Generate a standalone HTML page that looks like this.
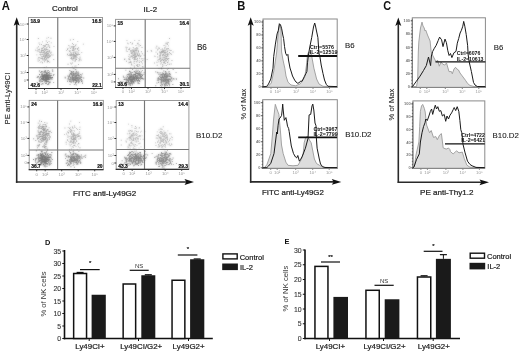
<!DOCTYPE html>
<html><head><meta charset="utf-8"><style>
html,body{margin:0;padding:0;background:#fff;}
svg{display:block;font-family:"Liberation Sans", sans-serif;will-change:transform;}
</style></head><body>
<svg width="520" height="352" viewBox="0 0 520 352">
<defs><filter id="soft" x="-10%" y="-10%" width="120%" height="120%"><feGaussianBlur stdDeviation="0.8"/></filter></defs>
<g>
<rect width="520" height="352" fill="#fff"/>
<text transform="translate(1.8,9.6) scale(1,1.07)" font-size="11.3" font-weight="bold" fill="#111">A</text>
<text transform="translate(237.2,9.7) scale(1,1.07)" font-size="11.2" font-weight="bold" fill="#111">B</text>
<text transform="translate(383.3,9.6) scale(0.97,1.08)" font-size="11.2" font-weight="bold" fill="#111">C</text>
<text x="44.9" y="244.7" font-size="7.4" text-anchor="start" font-weight="bold" fill="#111" >D</text>
<text x="284.6" y="244.0" font-size="7.4" text-anchor="start" font-weight="bold" fill="#111" >E</text>
<text x="52" y="11.4" font-size="8" text-anchor="start" font-weight="normal" fill="#222" stroke="#222" stroke-width="0.22" >Control</text>
<text x="143.6" y="11.5" font-size="7.8" text-anchor="start" font-weight="normal" fill="#222" stroke="#222" stroke-width="0.22" >IL-2</text>
<text x="196.9" y="50.1" font-size="8.2" text-anchor="start" font-weight="normal" fill="#222" stroke="#222" stroke-width="0.1" >B6</text>
<text x="196.0" y="138" font-size="7.95" text-anchor="start" font-weight="normal" fill="#222" stroke="#222" stroke-width="0.1" >B10.D2</text>
<text transform="translate(10.2,124.5) rotate(-90)" font-size="7.75" fill="#222" stroke="#222" stroke-width="0.12">PE anti-Ly49CI</text>
<text x="73" y="195.6" font-size="8" text-anchor="start" font-weight="normal" fill="#222" stroke="#222" stroke-width="0.22" >FITC anti-Ly49G2</text>
<line x1="16.7" y1="182.8" x2="16.7" y2="22.8" stroke="#2a2a2a" stroke-width="1.6" />
<path d="M16.7,17.3 L13.7,25.8 L16.7,24.0 L19.7,25.8 Z" fill="#111"/>
<line x1="15.9" y1="182.0" x2="187.5" y2="182.0" stroke="#2a2a2a" stroke-width="1.6" />
<path d="M194,182.0 L184.5,179.1 L186.3,182.0 L184.5,184.9 Z" fill="#111"/>
<path d="M43.4 55.4h0.9v0.9h-0.9zM43.5 50.7h0.9v0.9h-0.9zM41.2 51.3h0.9v0.9h-0.9zM48.0 54.9h0.9v0.9h-0.9zM47.8 53.9h0.9v0.9h-0.9zM45.6 53.6h0.9v0.9h-0.9zM38.7 57.4h0.9v0.9h-0.9zM46.0 55.4h0.9v0.9h-0.9zM38.6 42.5h0.9v0.9h-0.9zM41.3 49.8h0.9v0.9h-0.9zM45.3 52.2h0.9v0.9h-0.9zM46.1 48.8h0.9v0.9h-0.9zM45.3 54.8h0.9v0.9h-0.9zM42.1 62.3h0.9v0.9h-0.9zM46.2 59.3h0.9v0.9h-0.9zM42.2 48.3h0.9v0.9h-0.9zM43.1 51.9h0.9v0.9h-0.9zM46.4 53.9h0.9v0.9h-0.9zM42.8 47.0h0.9v0.9h-0.9zM42.6 59.5h0.9v0.9h-0.9zM41.6 53.9h0.9v0.9h-0.9zM45.7 44.0h0.9v0.9h-0.9zM44.5 60.0h0.9v0.9h-0.9zM37.5 50.7h0.9v0.9h-0.9zM43.9 47.8h0.9v0.9h-0.9zM46.0 52.1h0.9v0.9h-0.9zM39.4 57.2h0.9v0.9h-0.9zM46.5 57.9h0.9v0.9h-0.9zM49.1 54.6h0.9v0.9h-0.9zM44.7 45.1h0.9v0.9h-0.9zM46.4 49.0h0.9v0.9h-0.9zM42.8 45.3h0.9v0.9h-0.9zM41.0 49.5h0.9v0.9h-0.9zM48.6 40.9h0.9v0.9h-0.9zM39.4 53.9h0.9v0.9h-0.9zM49.1 55.8h0.9v0.9h-0.9zM37.9 38.1h0.9v0.9h-0.9zM45.5 48.3h0.9v0.9h-0.9zM40.5 58.1h0.9v0.9h-0.9zM48.0 53.4h0.9v0.9h-0.9zM45.1 55.0h0.9v0.9h-0.9zM49.7 56.0h0.9v0.9h-0.9zM46.0 55.6h0.9v0.9h-0.9zM39.0 59.8h0.9v0.9h-0.9zM47.5 55.5h0.9v0.9h-0.9zM37.7 48.9h0.9v0.9h-0.9zM47.1 42.1h0.9v0.9h-0.9zM43.7 58.3h0.9v0.9h-0.9zM39.9 61.7h0.9v0.9h-0.9zM46.2 51.6h0.9v0.9h-0.9zM45.4 56.2h0.9v0.9h-0.9zM44.7 59.1h0.9v0.9h-0.9zM42.1 50.1h0.9v0.9h-0.9zM47.8 52.7h0.9v0.9h-0.9zM41.3 57.9h0.9v0.9h-0.9zM49.2 50.0h0.9v0.9h-0.9zM39.7 51.7h0.9v0.9h-0.9zM43.8 50.8h0.9v0.9h-0.9zM49.0 46.6h0.9v0.9h-0.9zM48.5 45.2h0.9v0.9h-0.9zM41.7 56.1h0.9v0.9h-0.9zM48.1 57.4h0.9v0.9h-0.9zM45.5 53.3h0.9v0.9h-0.9zM44.8 55.8h0.9v0.9h-0.9zM43.7 54.1h0.9v0.9h-0.9zM46.2 52.5h0.9v0.9h-0.9zM46.9 55.7h0.9v0.9h-0.9zM51.1 54.4h0.9v0.9h-0.9zM42.9 50.4h0.9v0.9h-0.9zM44.3 57.8h0.9v0.9h-0.9zM43.2 54.7h0.9v0.9h-0.9zM50.5 37.8h0.9v0.9h-0.9zM40.5 53.9h0.9v0.9h-0.9zM45.6 53.9h0.9v0.9h-0.9zM42.9 56.2h0.9v0.9h-0.9zM45.2 49.5h0.9v0.9h-0.9zM52.5 54.5h0.9v0.9h-0.9zM42.4 51.9h0.9v0.9h-0.9zM43.5 52.1h0.9v0.9h-0.9zM35.1 49.7h0.9v0.9h-0.9zM47.7 45.8h0.9v0.9h-0.9zM44.1 58.0h0.9v0.9h-0.9zM47.2 61.0h0.9v0.9h-0.9zM38.6 50.5h0.9v0.9h-0.9zM43.2 56.1h0.9v0.9h-0.9zM48.0 37.2h0.9v0.9h-0.9zM48.0 44.2h0.9v0.9h-0.9zM46.6 44.0h0.9v0.9h-0.9zM44.9 59.3h0.9v0.9h-0.9zM43.8 53.6h0.9v0.9h-0.9zM47.0 53.3h0.9v0.9h-0.9zM44.0 61.3h0.9v0.9h-0.9zM47.8 50.8h0.9v0.9h-0.9zM53.5 45.9h0.9v0.9h-0.9zM47.4 51.0h0.9v0.9h-0.9zM44.7 56.5h0.9v0.9h-0.9zM45.0 56.2h0.9v0.9h-0.9zM39.2 43.9h0.9v0.9h-0.9zM46.4 47.0h0.9v0.9h-0.9zM40.9 44.1h0.9v0.9h-0.9zM48.6 56.8h0.9v0.9h-0.9zM49.2 47.1h0.9v0.9h-0.9zM44.3 46.0h0.9v0.9h-0.9zM46.9 61.6h0.9v0.9h-0.9zM41.3 61.4h0.9v0.9h-0.9zM47.6 51.5h0.9v0.9h-0.9zM37.7 60.5h0.9v0.9h-0.9zM44.0 49.1h0.9v0.9h-0.9zM45.6 54.8h0.9v0.9h-0.9zM49.3 46.7h0.9v0.9h-0.9zM48.1 61.0h0.9v0.9h-0.9zM49.2 51.5h0.9v0.9h-0.9zM41.8 58.3h0.9v0.9h-0.9zM44.7 53.2h0.9v0.9h-0.9zM49.1 51.0h0.9v0.9h-0.9zM36.6 50.3h0.9v0.9h-0.9zM38.1 57.2h0.9v0.9h-0.9zM45.4 49.0h0.9v0.9h-0.9zM44.3 57.3h0.9v0.9h-0.9zM44.6 60.1h0.9v0.9h-0.9zM44.1 58.5h0.9v0.9h-0.9zM49.3 61.7h0.9v0.9h-0.9zM42.0 57.5h0.9v0.9h-0.9zM38.0 46.3h0.9v0.9h-0.9zM37.7 58.6h0.9v0.9h-0.9zM40.2 52.4h0.9v0.9h-0.9zM43.7 52.3h0.9v0.9h-0.9zM42.3 53.8h0.9v0.9h-0.9zM50.3 52.8h0.9v0.9h-0.9zM46.1 58.2h0.9v0.9h-0.9zM43.6 45.3h0.9v0.9h-0.9zM42.4 58.6h0.9v0.9h-0.9zM38.8 49.1h0.9v0.9h-0.9zM47.7 57.0h0.9v0.9h-0.9zM44.3 57.1h0.9v0.9h-0.9zM44.9 45.8h0.9v0.9h-0.9zM39.0 48.8h0.9v0.9h-0.9zM47.4 49.3h0.9v0.9h-0.9zM41.3 48.1h0.9v0.9h-0.9zM39.2 51.8h0.9v0.9h-0.9zM40.3 54.6h0.9v0.9h-0.9zM36.4 54.4h0.9v0.9h-0.9zM42.1 41.4h0.9v0.9h-0.9zM46.7 50.9h0.9v0.9h-0.9zM36.8 47.5h0.9v0.9h-0.9zM45.3 49.9h0.9v0.9h-0.9zM46.9 56.8h0.9v0.9h-0.9zM46.5 54.4h0.9v0.9h-0.9zM48.8 56.3h0.9v0.9h-0.9zM45.8 40.6h0.9v0.9h-0.9zM47.3 60.0h0.9v0.9h-0.9zM43.3 49.8h0.9v0.9h-0.9zM50.8 42.4h0.9v0.9h-0.9zM45.9 66.4h0.9v0.9h-0.9zM41.2 56.4h0.9v0.9h-0.9zM50.6 51.8h0.9v0.9h-0.9zM46.2 57.7h0.9v0.9h-0.9zM41.3 52.0h0.9v0.9h-0.9zM45.3 57.2h0.9v0.9h-0.9zM44.2 51.4h0.9v0.9h-0.9zM40.9 50.4h0.9v0.9h-0.9zM47.3 53.1h0.9v0.9h-0.9zM41.4 47.7h0.9v0.9h-0.9zM53.3 59.0h0.9v0.9h-0.9zM46.4 37.7h0.9v0.9h-0.9zM46.4 55.2h0.9v0.9h-0.9zM50.0 54.9h0.9v0.9h-0.9zM44.1 55.5h0.9v0.9h-0.9zM37.8 58.4h0.9v0.9h-0.9zM45.4 48.5h0.9v0.9h-0.9z" fill="#444" fill-opacity="0.279" filter="url(#soft)"/>
<path d="M43.4 55.4h0.9v0.9h-0.9zM43.5 50.7h0.9v0.9h-0.9zM41.2 51.3h0.9v0.9h-0.9zM48.0 54.9h0.9v0.9h-0.9zM47.8 53.9h0.9v0.9h-0.9zM45.6 53.6h0.9v0.9h-0.9zM38.7 57.4h0.9v0.9h-0.9zM46.0 55.4h0.9v0.9h-0.9zM38.6 42.5h0.9v0.9h-0.9zM41.3 49.8h0.9v0.9h-0.9zM45.3 52.2h0.9v0.9h-0.9zM46.1 48.8h0.9v0.9h-0.9zM45.3 54.8h0.9v0.9h-0.9zM42.1 62.3h0.9v0.9h-0.9zM46.2 59.3h0.9v0.9h-0.9zM42.2 48.3h0.9v0.9h-0.9zM43.1 51.9h0.9v0.9h-0.9zM46.4 53.9h0.9v0.9h-0.9zM42.8 47.0h0.9v0.9h-0.9zM42.6 59.5h0.9v0.9h-0.9zM41.6 53.9h0.9v0.9h-0.9zM45.7 44.0h0.9v0.9h-0.9zM44.5 60.0h0.9v0.9h-0.9zM37.5 50.7h0.9v0.9h-0.9zM43.9 47.8h0.9v0.9h-0.9zM46.0 52.1h0.9v0.9h-0.9zM39.4 57.2h0.9v0.9h-0.9zM46.5 57.9h0.9v0.9h-0.9zM49.1 54.6h0.9v0.9h-0.9zM44.7 45.1h0.9v0.9h-0.9zM46.4 49.0h0.9v0.9h-0.9zM42.8 45.3h0.9v0.9h-0.9zM41.0 49.5h0.9v0.9h-0.9zM48.6 40.9h0.9v0.9h-0.9zM39.4 53.9h0.9v0.9h-0.9zM49.1 55.8h0.9v0.9h-0.9zM37.9 38.1h0.9v0.9h-0.9zM45.5 48.3h0.9v0.9h-0.9zM40.5 58.1h0.9v0.9h-0.9zM48.0 53.4h0.9v0.9h-0.9zM45.1 55.0h0.9v0.9h-0.9zM49.7 56.0h0.9v0.9h-0.9zM46.0 55.6h0.9v0.9h-0.9zM39.0 59.8h0.9v0.9h-0.9zM47.5 55.5h0.9v0.9h-0.9zM37.7 48.9h0.9v0.9h-0.9zM47.1 42.1h0.9v0.9h-0.9zM43.7 58.3h0.9v0.9h-0.9zM39.9 61.7h0.9v0.9h-0.9zM46.2 51.6h0.9v0.9h-0.9zM45.4 56.2h0.9v0.9h-0.9zM44.7 59.1h0.9v0.9h-0.9zM42.1 50.1h0.9v0.9h-0.9zM47.8 52.7h0.9v0.9h-0.9zM41.3 57.9h0.9v0.9h-0.9zM49.2 50.0h0.9v0.9h-0.9zM39.7 51.7h0.9v0.9h-0.9zM43.8 50.8h0.9v0.9h-0.9zM49.0 46.6h0.9v0.9h-0.9zM48.5 45.2h0.9v0.9h-0.9zM41.7 56.1h0.9v0.9h-0.9zM48.1 57.4h0.9v0.9h-0.9zM45.5 53.3h0.9v0.9h-0.9zM44.8 55.8h0.9v0.9h-0.9zM43.7 54.1h0.9v0.9h-0.9zM46.2 52.5h0.9v0.9h-0.9zM46.9 55.7h0.9v0.9h-0.9zM51.1 54.4h0.9v0.9h-0.9zM42.9 50.4h0.9v0.9h-0.9zM44.3 57.8h0.9v0.9h-0.9zM43.2 54.7h0.9v0.9h-0.9zM50.5 37.8h0.9v0.9h-0.9zM40.5 53.9h0.9v0.9h-0.9zM45.6 53.9h0.9v0.9h-0.9zM42.9 56.2h0.9v0.9h-0.9zM45.2 49.5h0.9v0.9h-0.9zM52.5 54.5h0.9v0.9h-0.9zM42.4 51.9h0.9v0.9h-0.9zM43.5 52.1h0.9v0.9h-0.9zM35.1 49.7h0.9v0.9h-0.9zM47.7 45.8h0.9v0.9h-0.9zM44.1 58.0h0.9v0.9h-0.9zM47.2 61.0h0.9v0.9h-0.9zM38.6 50.5h0.9v0.9h-0.9zM43.2 56.1h0.9v0.9h-0.9zM48.0 37.2h0.9v0.9h-0.9zM48.0 44.2h0.9v0.9h-0.9zM46.6 44.0h0.9v0.9h-0.9zM44.9 59.3h0.9v0.9h-0.9zM43.8 53.6h0.9v0.9h-0.9zM47.0 53.3h0.9v0.9h-0.9zM44.0 61.3h0.9v0.9h-0.9zM47.8 50.8h0.9v0.9h-0.9zM53.5 45.9h0.9v0.9h-0.9zM47.4 51.0h0.9v0.9h-0.9zM44.7 56.5h0.9v0.9h-0.9zM45.0 56.2h0.9v0.9h-0.9zM39.2 43.9h0.9v0.9h-0.9zM46.4 47.0h0.9v0.9h-0.9zM40.9 44.1h0.9v0.9h-0.9zM48.6 56.8h0.9v0.9h-0.9zM49.2 47.1h0.9v0.9h-0.9zM44.3 46.0h0.9v0.9h-0.9zM46.9 61.6h0.9v0.9h-0.9zM41.3 61.4h0.9v0.9h-0.9zM47.6 51.5h0.9v0.9h-0.9zM37.7 60.5h0.9v0.9h-0.9zM44.0 49.1h0.9v0.9h-0.9zM45.6 54.8h0.9v0.9h-0.9zM49.3 46.7h0.9v0.9h-0.9zM48.1 61.0h0.9v0.9h-0.9zM49.2 51.5h0.9v0.9h-0.9zM41.8 58.3h0.9v0.9h-0.9zM44.7 53.2h0.9v0.9h-0.9zM49.1 51.0h0.9v0.9h-0.9zM36.6 50.3h0.9v0.9h-0.9zM38.1 57.2h0.9v0.9h-0.9zM45.4 49.0h0.9v0.9h-0.9zM44.3 57.3h0.9v0.9h-0.9zM44.6 60.1h0.9v0.9h-0.9zM44.1 58.5h0.9v0.9h-0.9zM49.3 61.7h0.9v0.9h-0.9zM42.0 57.5h0.9v0.9h-0.9zM38.0 46.3h0.9v0.9h-0.9zM37.7 58.6h0.9v0.9h-0.9zM40.2 52.4h0.9v0.9h-0.9zM43.7 52.3h0.9v0.9h-0.9zM42.3 53.8h0.9v0.9h-0.9zM50.3 52.8h0.9v0.9h-0.9zM46.1 58.2h0.9v0.9h-0.9zM43.6 45.3h0.9v0.9h-0.9zM42.4 58.6h0.9v0.9h-0.9zM38.8 49.1h0.9v0.9h-0.9zM47.7 57.0h0.9v0.9h-0.9zM44.3 57.1h0.9v0.9h-0.9zM44.9 45.8h0.9v0.9h-0.9zM39.0 48.8h0.9v0.9h-0.9zM47.4 49.3h0.9v0.9h-0.9zM41.3 48.1h0.9v0.9h-0.9zM39.2 51.8h0.9v0.9h-0.9zM40.3 54.6h0.9v0.9h-0.9zM36.4 54.4h0.9v0.9h-0.9zM42.1 41.4h0.9v0.9h-0.9zM46.7 50.9h0.9v0.9h-0.9zM36.8 47.5h0.9v0.9h-0.9zM45.3 49.9h0.9v0.9h-0.9zM46.9 56.8h0.9v0.9h-0.9zM46.5 54.4h0.9v0.9h-0.9zM48.8 56.3h0.9v0.9h-0.9zM45.8 40.6h0.9v0.9h-0.9zM47.3 60.0h0.9v0.9h-0.9zM43.3 49.8h0.9v0.9h-0.9zM50.8 42.4h0.9v0.9h-0.9zM45.9 66.4h0.9v0.9h-0.9zM41.2 56.4h0.9v0.9h-0.9zM50.6 51.8h0.9v0.9h-0.9zM46.2 57.7h0.9v0.9h-0.9zM41.3 52.0h0.9v0.9h-0.9zM45.3 57.2h0.9v0.9h-0.9zM44.2 51.4h0.9v0.9h-0.9zM40.9 50.4h0.9v0.9h-0.9zM47.3 53.1h0.9v0.9h-0.9zM41.4 47.7h0.9v0.9h-0.9zM53.3 59.0h0.9v0.9h-0.9zM46.4 37.7h0.9v0.9h-0.9zM46.4 55.2h0.9v0.9h-0.9zM50.0 54.9h0.9v0.9h-0.9zM44.1 55.5h0.9v0.9h-0.9zM37.8 58.4h0.9v0.9h-0.9zM45.4 48.5h0.9v0.9h-0.9z" fill="#444" fill-opacity="0.279"/>
<path d="M78.0 64.0h0.9v0.9h-0.9zM68.8 50.3h0.9v0.9h-0.9zM74.5 55.0h0.9v0.9h-0.9zM72.2 48.6h0.9v0.9h-0.9zM80.6 59.7h0.9v0.9h-0.9zM69.5 46.6h0.9v0.9h-0.9zM79.2 59.4h0.9v0.9h-0.9zM79.6 58.5h0.9v0.9h-0.9zM70.6 55.4h0.9v0.9h-0.9zM66.2 49.9h0.9v0.9h-0.9zM73.3 56.9h0.9v0.9h-0.9zM71.1 53.3h0.9v0.9h-0.9zM75.0 56.1h0.9v0.9h-0.9zM75.6 55.1h0.9v0.9h-0.9zM72.4 58.3h0.9v0.9h-0.9zM73.7 49.5h0.9v0.9h-0.9zM71.4 54.0h0.9v0.9h-0.9zM73.1 54.9h0.9v0.9h-0.9zM73.5 55.0h0.9v0.9h-0.9zM73.0 47.1h0.9v0.9h-0.9zM74.9 59.8h0.9v0.9h-0.9zM75.0 53.0h0.9v0.9h-0.9zM75.0 48.7h0.9v0.9h-0.9zM67.1 54.3h0.9v0.9h-0.9zM70.4 58.1h0.9v0.9h-0.9zM69.9 39.5h0.9v0.9h-0.9zM70.0 62.7h0.9v0.9h-0.9zM72.2 46.5h0.9v0.9h-0.9zM70.9 56.9h0.9v0.9h-0.9zM75.2 55.0h0.9v0.9h-0.9zM78.5 57.9h0.9v0.9h-0.9zM73.4 57.3h0.9v0.9h-0.9zM79.1 59.3h0.9v0.9h-0.9zM76.9 48.0h0.9v0.9h-0.9zM73.0 58.0h0.9v0.9h-0.9zM72.5 59.9h0.9v0.9h-0.9zM75.5 59.0h0.9v0.9h-0.9zM72.8 68.0h0.9v0.9h-0.9zM77.7 52.8h0.9v0.9h-0.9zM73.8 68.3h0.9v0.9h-0.9zM72.3 58.8h0.9v0.9h-0.9zM76.8 54.0h0.9v0.9h-0.9zM69.6 55.0h0.9v0.9h-0.9zM74.7 60.2h0.9v0.9h-0.9zM76.1 54.1h0.9v0.9h-0.9zM76.4 57.0h0.9v0.9h-0.9zM74.2 54.3h0.9v0.9h-0.9zM72.7 57.8h0.9v0.9h-0.9zM70.0 50.5h0.9v0.9h-0.9zM73.5 45.9h0.9v0.9h-0.9zM72.0 43.0h0.9v0.9h-0.9zM71.2 57.1h0.9v0.9h-0.9zM75.4 53.7h0.9v0.9h-0.9zM72.7 46.2h0.9v0.9h-0.9zM79.6 56.8h0.9v0.9h-0.9zM77.2 49.1h0.9v0.9h-0.9zM72.9 44.0h0.9v0.9h-0.9zM76.1 59.1h0.9v0.9h-0.9zM67.1 53.7h0.9v0.9h-0.9zM75.6 44.3h0.9v0.9h-0.9zM67.4 48.1h0.9v0.9h-0.9zM71.4 46.3h0.9v0.9h-0.9zM73.6 55.4h0.9v0.9h-0.9zM75.6 57.9h0.9v0.9h-0.9zM78.5 60.4h0.9v0.9h-0.9zM69.1 51.2h0.9v0.9h-0.9zM69.9 48.1h0.9v0.9h-0.9zM73.2 54.0h0.9v0.9h-0.9zM75.1 45.3h0.9v0.9h-0.9zM69.3 53.9h0.9v0.9h-0.9zM72.8 52.3h0.9v0.9h-0.9zM73.3 49.8h0.9v0.9h-0.9zM75.9 55.9h0.9v0.9h-0.9zM73.2 50.3h0.9v0.9h-0.9zM72.9 39.0h0.9v0.9h-0.9zM70.2 54.2h0.9v0.9h-0.9zM68.4 55.1h0.9v0.9h-0.9zM74.0 46.4h0.9v0.9h-0.9zM72.7 52.3h0.9v0.9h-0.9zM75.0 57.4h0.9v0.9h-0.9zM73.4 49.3h0.9v0.9h-0.9zM73.0 53.6h0.9v0.9h-0.9zM76.0 55.6h0.9v0.9h-0.9zM71.1 46.6h0.9v0.9h-0.9zM72.2 49.9h0.9v0.9h-0.9zM69.8 53.4h0.9v0.9h-0.9zM71.9 54.6h0.9v0.9h-0.9zM75.3 51.7h0.9v0.9h-0.9zM81.3 52.2h0.9v0.9h-0.9zM77.2 54.7h0.9v0.9h-0.9zM77.3 40.9h0.9v0.9h-0.9zM71.0 55.4h0.9v0.9h-0.9zM75.5 66.9h0.9v0.9h-0.9zM74.6 61.0h0.9v0.9h-0.9zM76.1 59.2h0.9v0.9h-0.9zM75.2 53.1h0.9v0.9h-0.9zM75.2 48.1h0.9v0.9h-0.9zM77.5 48.4h0.9v0.9h-0.9zM74.3 65.7h0.9v0.9h-0.9zM72.7 54.1h0.9v0.9h-0.9zM77.4 54.1h0.9v0.9h-0.9zM70.8 55.4h0.9v0.9h-0.9zM75.5 57.9h0.9v0.9h-0.9zM70.9 63.6h0.9v0.9h-0.9zM79.1 54.1h0.9v0.9h-0.9zM74.4 51.6h0.9v0.9h-0.9zM78.3 50.1h0.9v0.9h-0.9zM75.8 51.4h0.9v0.9h-0.9zM71.2 58.0h0.9v0.9h-0.9zM78.0 53.9h0.9v0.9h-0.9zM71.2 58.5h0.9v0.9h-0.9zM73.3 55.7h0.9v0.9h-0.9zM78.6 60.2h0.9v0.9h-0.9zM71.8 66.6h0.9v0.9h-0.9zM73.5 58.3h0.9v0.9h-0.9zM71.3 53.8h0.9v0.9h-0.9zM67.6 63.8h0.9v0.9h-0.9zM78.1 47.3h0.9v0.9h-0.9zM68.4 45.1h0.9v0.9h-0.9zM77.5 51.5h0.9v0.9h-0.9zM73.3 52.3h0.9v0.9h-0.9zM73.1 48.0h0.9v0.9h-0.9zM73.6 46.1h0.9v0.9h-0.9zM73.3 55.7h0.9v0.9h-0.9zM75.1 52.7h0.9v0.9h-0.9zM70.5 54.9h0.9v0.9h-0.9zM71.9 62.6h0.9v0.9h-0.9zM76.1 53.4h0.9v0.9h-0.9zM71.9 50.1h0.9v0.9h-0.9zM70.4 52.1h0.9v0.9h-0.9zM74.5 56.8h0.9v0.9h-0.9zM75.4 65.5h0.9v0.9h-0.9zM71.1 54.1h0.9v0.9h-0.9zM82.9 43.7h0.9v0.9h-0.9zM71.7 54.9h0.9v0.9h-0.9zM74.0 56.2h0.9v0.9h-0.9zM72.7 56.0h0.9v0.9h-0.9zM73.7 58.2h0.9v0.9h-0.9zM67.1 49.1h0.9v0.9h-0.9zM73.5 48.3h0.9v0.9h-0.9z" fill="#444" fill-opacity="0.279" filter="url(#soft)"/>
<path d="M78.0 64.0h0.9v0.9h-0.9zM68.8 50.3h0.9v0.9h-0.9zM74.5 55.0h0.9v0.9h-0.9zM72.2 48.6h0.9v0.9h-0.9zM80.6 59.7h0.9v0.9h-0.9zM69.5 46.6h0.9v0.9h-0.9zM79.2 59.4h0.9v0.9h-0.9zM79.6 58.5h0.9v0.9h-0.9zM70.6 55.4h0.9v0.9h-0.9zM66.2 49.9h0.9v0.9h-0.9zM73.3 56.9h0.9v0.9h-0.9zM71.1 53.3h0.9v0.9h-0.9zM75.0 56.1h0.9v0.9h-0.9zM75.6 55.1h0.9v0.9h-0.9zM72.4 58.3h0.9v0.9h-0.9zM73.7 49.5h0.9v0.9h-0.9zM71.4 54.0h0.9v0.9h-0.9zM73.1 54.9h0.9v0.9h-0.9zM73.5 55.0h0.9v0.9h-0.9zM73.0 47.1h0.9v0.9h-0.9zM74.9 59.8h0.9v0.9h-0.9zM75.0 53.0h0.9v0.9h-0.9zM75.0 48.7h0.9v0.9h-0.9zM67.1 54.3h0.9v0.9h-0.9zM70.4 58.1h0.9v0.9h-0.9zM69.9 39.5h0.9v0.9h-0.9zM70.0 62.7h0.9v0.9h-0.9zM72.2 46.5h0.9v0.9h-0.9zM70.9 56.9h0.9v0.9h-0.9zM75.2 55.0h0.9v0.9h-0.9zM78.5 57.9h0.9v0.9h-0.9zM73.4 57.3h0.9v0.9h-0.9zM79.1 59.3h0.9v0.9h-0.9zM76.9 48.0h0.9v0.9h-0.9zM73.0 58.0h0.9v0.9h-0.9zM72.5 59.9h0.9v0.9h-0.9zM75.5 59.0h0.9v0.9h-0.9zM72.8 68.0h0.9v0.9h-0.9zM77.7 52.8h0.9v0.9h-0.9zM73.8 68.3h0.9v0.9h-0.9zM72.3 58.8h0.9v0.9h-0.9zM76.8 54.0h0.9v0.9h-0.9zM69.6 55.0h0.9v0.9h-0.9zM74.7 60.2h0.9v0.9h-0.9zM76.1 54.1h0.9v0.9h-0.9zM76.4 57.0h0.9v0.9h-0.9zM74.2 54.3h0.9v0.9h-0.9zM72.7 57.8h0.9v0.9h-0.9zM70.0 50.5h0.9v0.9h-0.9zM73.5 45.9h0.9v0.9h-0.9zM72.0 43.0h0.9v0.9h-0.9zM71.2 57.1h0.9v0.9h-0.9zM75.4 53.7h0.9v0.9h-0.9zM72.7 46.2h0.9v0.9h-0.9zM79.6 56.8h0.9v0.9h-0.9zM77.2 49.1h0.9v0.9h-0.9zM72.9 44.0h0.9v0.9h-0.9zM76.1 59.1h0.9v0.9h-0.9zM67.1 53.7h0.9v0.9h-0.9zM75.6 44.3h0.9v0.9h-0.9zM67.4 48.1h0.9v0.9h-0.9zM71.4 46.3h0.9v0.9h-0.9zM73.6 55.4h0.9v0.9h-0.9zM75.6 57.9h0.9v0.9h-0.9zM78.5 60.4h0.9v0.9h-0.9zM69.1 51.2h0.9v0.9h-0.9zM69.9 48.1h0.9v0.9h-0.9zM73.2 54.0h0.9v0.9h-0.9zM75.1 45.3h0.9v0.9h-0.9zM69.3 53.9h0.9v0.9h-0.9zM72.8 52.3h0.9v0.9h-0.9zM73.3 49.8h0.9v0.9h-0.9zM75.9 55.9h0.9v0.9h-0.9zM73.2 50.3h0.9v0.9h-0.9zM72.9 39.0h0.9v0.9h-0.9zM70.2 54.2h0.9v0.9h-0.9zM68.4 55.1h0.9v0.9h-0.9zM74.0 46.4h0.9v0.9h-0.9zM72.7 52.3h0.9v0.9h-0.9zM75.0 57.4h0.9v0.9h-0.9zM73.4 49.3h0.9v0.9h-0.9zM73.0 53.6h0.9v0.9h-0.9zM76.0 55.6h0.9v0.9h-0.9zM71.1 46.6h0.9v0.9h-0.9zM72.2 49.9h0.9v0.9h-0.9zM69.8 53.4h0.9v0.9h-0.9zM71.9 54.6h0.9v0.9h-0.9zM75.3 51.7h0.9v0.9h-0.9zM81.3 52.2h0.9v0.9h-0.9zM77.2 54.7h0.9v0.9h-0.9zM77.3 40.9h0.9v0.9h-0.9zM71.0 55.4h0.9v0.9h-0.9zM75.5 66.9h0.9v0.9h-0.9zM74.6 61.0h0.9v0.9h-0.9zM76.1 59.2h0.9v0.9h-0.9zM75.2 53.1h0.9v0.9h-0.9zM75.2 48.1h0.9v0.9h-0.9zM77.5 48.4h0.9v0.9h-0.9zM74.3 65.7h0.9v0.9h-0.9zM72.7 54.1h0.9v0.9h-0.9zM77.4 54.1h0.9v0.9h-0.9zM70.8 55.4h0.9v0.9h-0.9zM75.5 57.9h0.9v0.9h-0.9zM70.9 63.6h0.9v0.9h-0.9zM79.1 54.1h0.9v0.9h-0.9zM74.4 51.6h0.9v0.9h-0.9zM78.3 50.1h0.9v0.9h-0.9zM75.8 51.4h0.9v0.9h-0.9zM71.2 58.0h0.9v0.9h-0.9zM78.0 53.9h0.9v0.9h-0.9zM71.2 58.5h0.9v0.9h-0.9zM73.3 55.7h0.9v0.9h-0.9zM78.6 60.2h0.9v0.9h-0.9zM71.8 66.6h0.9v0.9h-0.9zM73.5 58.3h0.9v0.9h-0.9zM71.3 53.8h0.9v0.9h-0.9zM67.6 63.8h0.9v0.9h-0.9zM78.1 47.3h0.9v0.9h-0.9zM68.4 45.1h0.9v0.9h-0.9zM77.5 51.5h0.9v0.9h-0.9zM73.3 52.3h0.9v0.9h-0.9zM73.1 48.0h0.9v0.9h-0.9zM73.6 46.1h0.9v0.9h-0.9zM73.3 55.7h0.9v0.9h-0.9zM75.1 52.7h0.9v0.9h-0.9zM70.5 54.9h0.9v0.9h-0.9zM71.9 62.6h0.9v0.9h-0.9zM76.1 53.4h0.9v0.9h-0.9zM71.9 50.1h0.9v0.9h-0.9zM70.4 52.1h0.9v0.9h-0.9zM74.5 56.8h0.9v0.9h-0.9zM75.4 65.5h0.9v0.9h-0.9zM71.1 54.1h0.9v0.9h-0.9zM82.9 43.7h0.9v0.9h-0.9zM71.7 54.9h0.9v0.9h-0.9zM74.0 56.2h0.9v0.9h-0.9zM72.7 56.0h0.9v0.9h-0.9zM73.7 58.2h0.9v0.9h-0.9zM67.1 49.1h0.9v0.9h-0.9zM73.5 48.3h0.9v0.9h-0.9z" fill="#444" fill-opacity="0.279"/>
<path d="M41.6 78.6h0.9v0.9h-0.9zM42.9 78.6h0.9v0.9h-0.9zM47.5 77.7h0.9v0.9h-0.9zM46.7 76.5h0.9v0.9h-0.9zM40.3 76.7h0.9v0.9h-0.9zM46.5 75.3h0.9v0.9h-0.9zM44.7 78.9h0.9v0.9h-0.9zM42.1 78.6h0.9v0.9h-0.9zM51.1 75.2h0.9v0.9h-0.9zM45.5 76.4h0.9v0.9h-0.9zM50.1 77.7h0.9v0.9h-0.9zM48.0 74.9h0.9v0.9h-0.9zM44.9 76.8h0.9v0.9h-0.9zM39.1 80.8h0.9v0.9h-0.9zM48.0 71.9h0.9v0.9h-0.9zM47.5 76.4h0.9v0.9h-0.9zM46.5 77.8h0.9v0.9h-0.9zM40.1 76.2h0.9v0.9h-0.9zM49.9 75.2h0.9v0.9h-0.9zM41.6 73.0h0.9v0.9h-0.9zM41.0 77.7h0.9v0.9h-0.9zM50.6 78.0h0.9v0.9h-0.9zM45.8 83.1h0.9v0.9h-0.9zM43.3 74.9h0.9v0.9h-0.9zM46.7 78.3h0.9v0.9h-0.9zM41.7 73.5h0.9v0.9h-0.9zM46.0 77.5h0.9v0.9h-0.9zM40.7 76.2h0.9v0.9h-0.9zM43.2 78.1h0.9v0.9h-0.9zM44.6 76.6h0.9v0.9h-0.9zM43.8 79.7h0.9v0.9h-0.9zM49.6 75.8h0.9v0.9h-0.9zM47.8 74.7h0.9v0.9h-0.9zM45.2 78.9h0.9v0.9h-0.9zM50.0 75.7h0.9v0.9h-0.9zM44.8 77.3h0.9v0.9h-0.9zM40.1 76.8h0.9v0.9h-0.9zM42.8 77.8h0.9v0.9h-0.9zM41.3 71.3h0.9v0.9h-0.9zM45.1 77.5h0.9v0.9h-0.9zM43.2 79.3h0.9v0.9h-0.9zM44.1 75.1h0.9v0.9h-0.9zM46.6 72.4h0.9v0.9h-0.9zM42.8 76.7h0.9v0.9h-0.9zM47.8 76.3h0.9v0.9h-0.9zM46.0 75.0h0.9v0.9h-0.9zM46.0 81.5h0.9v0.9h-0.9zM42.7 83.4h0.9v0.9h-0.9zM42.9 76.8h0.9v0.9h-0.9zM45.6 79.7h0.9v0.9h-0.9zM40.9 70.9h0.9v0.9h-0.9zM47.0 79.0h0.9v0.9h-0.9zM47.1 84.2h0.9v0.9h-0.9zM45.7 77.5h0.9v0.9h-0.9zM48.1 77.8h0.9v0.9h-0.9zM50.5 73.3h0.9v0.9h-0.9zM43.8 67.2h0.9v0.9h-0.9zM47.7 75.8h0.9v0.9h-0.9zM48.0 82.8h0.9v0.9h-0.9zM45.0 76.1h0.9v0.9h-0.9zM43.4 74.5h0.9v0.9h-0.9zM42.9 78.6h0.9v0.9h-0.9zM45.1 77.0h0.9v0.9h-0.9zM44.4 79.4h0.9v0.9h-0.9zM46.6 76.4h0.9v0.9h-0.9zM47.2 76.4h0.9v0.9h-0.9zM41.2 80.9h0.9v0.9h-0.9zM46.5 74.1h0.9v0.9h-0.9zM48.6 77.8h0.9v0.9h-0.9zM39.8 81.3h0.9v0.9h-0.9zM46.1 79.3h0.9v0.9h-0.9zM45.7 76.4h0.9v0.9h-0.9zM39.9 79.5h0.9v0.9h-0.9zM45.1 76.0h0.9v0.9h-0.9zM46.2 77.0h0.9v0.9h-0.9zM47.2 75.8h0.9v0.9h-0.9zM44.9 70.8h0.9v0.9h-0.9zM43.6 78.7h0.9v0.9h-0.9zM49.4 75.8h0.9v0.9h-0.9zM44.6 81.2h0.9v0.9h-0.9zM43.9 78.9h0.9v0.9h-0.9zM50.5 76.9h0.9v0.9h-0.9zM49.0 74.8h0.9v0.9h-0.9zM45.7 76.6h0.9v0.9h-0.9zM45.4 80.0h0.9v0.9h-0.9zM52.9 74.9h0.9v0.9h-0.9zM43.1 78.2h0.9v0.9h-0.9zM41.5 78.2h0.9v0.9h-0.9zM46.9 76.0h0.9v0.9h-0.9zM46.8 72.5h0.9v0.9h-0.9zM47.5 72.5h0.9v0.9h-0.9zM42.7 75.2h0.9v0.9h-0.9zM43.7 79.2h0.9v0.9h-0.9zM45.3 75.7h0.9v0.9h-0.9zM46.8 81.2h0.9v0.9h-0.9zM45.0 77.8h0.9v0.9h-0.9zM49.1 77.5h0.9v0.9h-0.9zM40.8 83.8h0.9v0.9h-0.9zM52.3 71.2h0.9v0.9h-0.9zM44.9 78.0h0.9v0.9h-0.9zM48.2 78.7h0.9v0.9h-0.9zM44.1 73.8h0.9v0.9h-0.9zM45.3 79.7h0.9v0.9h-0.9zM41.4 73.9h0.9v0.9h-0.9zM44.9 71.4h0.9v0.9h-0.9zM44.1 75.6h0.9v0.9h-0.9zM46.5 74.8h0.9v0.9h-0.9zM42.1 75.7h0.9v0.9h-0.9zM44.8 74.9h0.9v0.9h-0.9zM45.0 78.9h0.9v0.9h-0.9zM48.9 81.6h0.9v0.9h-0.9zM42.4 75.6h0.9v0.9h-0.9zM36.8 82.1h0.9v0.9h-0.9zM42.6 76.7h0.9v0.9h-0.9zM46.7 73.0h0.9v0.9h-0.9zM46.5 76.7h0.9v0.9h-0.9zM39.0 77.6h0.9v0.9h-0.9zM48.9 71.6h0.9v0.9h-0.9zM47.7 77.4h0.9v0.9h-0.9zM46.6 78.0h0.9v0.9h-0.9zM49.3 76.2h0.9v0.9h-0.9zM47.9 75.7h0.9v0.9h-0.9zM47.4 74.5h0.9v0.9h-0.9zM44.6 81.6h0.9v0.9h-0.9zM46.5 76.4h0.9v0.9h-0.9zM41.2 74.6h0.9v0.9h-0.9zM45.6 79.4h0.9v0.9h-0.9zM46.4 78.3h0.9v0.9h-0.9zM44.9 80.6h0.9v0.9h-0.9zM43.7 75.3h0.9v0.9h-0.9zM47.9 77.0h0.9v0.9h-0.9zM44.1 75.2h0.9v0.9h-0.9zM44.2 78.5h0.9v0.9h-0.9zM46.2 73.4h0.9v0.9h-0.9zM46.4 77.3h0.9v0.9h-0.9zM41.7 79.0h0.9v0.9h-0.9zM44.1 75.9h0.9v0.9h-0.9zM47.6 80.5h0.9v0.9h-0.9zM42.7 78.0h0.9v0.9h-0.9zM42.1 83.3h0.9v0.9h-0.9zM43.4 80.1h0.9v0.9h-0.9zM42.9 79.1h0.9v0.9h-0.9zM52.3 69.7h0.9v0.9h-0.9zM43.6 78.2h0.9v0.9h-0.9zM44.7 74.9h0.9v0.9h-0.9zM52.1 77.0h0.9v0.9h-0.9zM39.6 79.2h0.9v0.9h-0.9zM39.3 80.0h0.9v0.9h-0.9zM43.1 77.2h0.9v0.9h-0.9zM49.2 77.1h0.9v0.9h-0.9zM40.4 72.1h0.9v0.9h-0.9zM48.9 78.9h0.9v0.9h-0.9zM42.3 79.2h0.9v0.9h-0.9zM46.6 78.6h0.9v0.9h-0.9zM37.5 76.0h0.9v0.9h-0.9zM48.0 78.9h0.9v0.9h-0.9zM47.9 69.9h0.9v0.9h-0.9zM45.6 78.2h0.9v0.9h-0.9zM53.4 74.1h0.9v0.9h-0.9zM43.9 76.9h0.9v0.9h-0.9zM47.9 75.6h0.9v0.9h-0.9zM48.8 74.6h0.9v0.9h-0.9zM45.9 75.3h0.9v0.9h-0.9zM45.5 74.9h0.9v0.9h-0.9zM39.7 79.9h0.9v0.9h-0.9zM46.0 75.2h0.9v0.9h-0.9zM45.7 79.6h0.9v0.9h-0.9zM41.8 76.5h0.9v0.9h-0.9zM46.8 78.3h0.9v0.9h-0.9zM43.9 70.9h0.9v0.9h-0.9zM49.1 77.7h0.9v0.9h-0.9zM45.0 76.0h0.9v0.9h-0.9zM45.9 75.6h0.9v0.9h-0.9zM41.6 74.7h0.9v0.9h-0.9zM43.0 75.1h0.9v0.9h-0.9zM41.2 78.6h0.9v0.9h-0.9zM40.7 78.6h0.9v0.9h-0.9zM41.7 77.8h0.9v0.9h-0.9zM49.5 77.4h0.9v0.9h-0.9zM42.6 76.9h0.9v0.9h-0.9zM45.5 71.9h0.9v0.9h-0.9zM43.0 77.3h0.9v0.9h-0.9zM43.5 77.0h0.9v0.9h-0.9zM47.4 78.9h0.9v0.9h-0.9zM48.0 78.4h0.9v0.9h-0.9zM44.0 76.7h0.9v0.9h-0.9zM44.1 75.9h0.9v0.9h-0.9zM44.4 72.0h0.9v0.9h-0.9zM43.9 76.7h0.9v0.9h-0.9zM41.8 76.7h0.9v0.9h-0.9zM46.7 76.3h0.9v0.9h-0.9zM51.9 69.5h0.9v0.9h-0.9zM44.3 71.7h0.9v0.9h-0.9zM48.2 84.2h0.9v0.9h-0.9zM36.7 77.2h0.9v0.9h-0.9zM46.7 76.0h0.9v0.9h-0.9zM46.8 70.5h0.9v0.9h-0.9zM47.8 77.8h0.9v0.9h-0.9zM45.1 75.2h0.9v0.9h-0.9zM47.1 75.4h0.9v0.9h-0.9zM45.7 75.4h0.9v0.9h-0.9zM37.6 76.7h0.9v0.9h-0.9zM45.7 78.9h0.9v0.9h-0.9zM42.1 76.7h0.9v0.9h-0.9zM47.0 77.2h0.9v0.9h-0.9zM49.1 82.4h0.9v0.9h-0.9zM42.0 71.4h0.9v0.9h-0.9zM47.8 81.1h0.9v0.9h-0.9zM48.0 79.1h0.9v0.9h-0.9zM43.0 74.8h0.9v0.9h-0.9zM47.9 74.2h0.9v0.9h-0.9zM39.0 74.0h0.9v0.9h-0.9zM53.2 82.2h0.9v0.9h-0.9zM42.7 74.8h0.9v0.9h-0.9zM45.8 74.7h0.9v0.9h-0.9zM49.3 76.6h0.9v0.9h-0.9zM41.4 80.5h0.9v0.9h-0.9zM43.1 77.4h0.9v0.9h-0.9zM45.0 75.9h0.9v0.9h-0.9zM46.1 74.9h0.9v0.9h-0.9zM38.9 70.6h0.9v0.9h-0.9zM40.8 74.7h0.9v0.9h-0.9zM44.9 77.0h0.9v0.9h-0.9zM46.8 77.1h0.9v0.9h-0.9zM42.4 74.8h0.9v0.9h-0.9zM38.0 76.3h0.9v0.9h-0.9zM46.6 78.3h0.9v0.9h-0.9zM44.6 76.3h0.9v0.9h-0.9zM48.1 76.8h0.9v0.9h-0.9zM47.4 78.4h0.9v0.9h-0.9zM45.7 80.5h0.9v0.9h-0.9zM43.1 75.8h0.9v0.9h-0.9zM42.3 74.6h0.9v0.9h-0.9zM50.1 81.7h0.9v0.9h-0.9zM45.1 78.4h0.9v0.9h-0.9zM48.9 79.1h0.9v0.9h-0.9zM49.0 73.3h0.9v0.9h-0.9zM42.9 78.1h0.9v0.9h-0.9zM49.7 77.1h0.9v0.9h-0.9zM42.2 75.8h0.9v0.9h-0.9zM42.8 74.4h0.9v0.9h-0.9zM50.0 75.0h0.9v0.9h-0.9zM45.1 82.9h0.9v0.9h-0.9zM48.9 77.7h0.9v0.9h-0.9zM43.0 77.9h0.9v0.9h-0.9zM50.4 78.5h0.9v0.9h-0.9zM49.2 77.1h0.9v0.9h-0.9zM46.7 76.2h0.9v0.9h-0.9zM46.4 80.4h0.9v0.9h-0.9zM40.3 76.6h0.9v0.9h-0.9zM45.8 75.2h0.9v0.9h-0.9zM44.0 79.0h0.9v0.9h-0.9zM51.6 78.6h0.9v0.9h-0.9zM46.1 72.5h0.9v0.9h-0.9zM51.4 77.0h0.9v0.9h-0.9zM44.9 73.7h0.9v0.9h-0.9zM44.8 73.7h0.9v0.9h-0.9zM45.2 78.1h0.9v0.9h-0.9zM45.1 77.6h0.9v0.9h-0.9zM42.2 80.8h0.9v0.9h-0.9zM42.8 71.7h0.9v0.9h-0.9zM44.4 74.7h0.9v0.9h-0.9zM41.7 75.8h0.9v0.9h-0.9zM46.0 73.5h0.9v0.9h-0.9zM44.5 80.8h0.9v0.9h-0.9zM47.3 76.4h0.9v0.9h-0.9zM45.4 76.5h0.9v0.9h-0.9zM44.8 78.9h0.9v0.9h-0.9zM44.7 70.1h0.9v0.9h-0.9zM44.9 74.3h0.9v0.9h-0.9z" fill="#222" fill-opacity="0.386" filter="url(#soft)"/>
<path d="M41.6 78.6h0.9v0.9h-0.9zM42.9 78.6h0.9v0.9h-0.9zM47.5 77.7h0.9v0.9h-0.9zM46.7 76.5h0.9v0.9h-0.9zM40.3 76.7h0.9v0.9h-0.9zM46.5 75.3h0.9v0.9h-0.9zM44.7 78.9h0.9v0.9h-0.9zM42.1 78.6h0.9v0.9h-0.9zM51.1 75.2h0.9v0.9h-0.9zM45.5 76.4h0.9v0.9h-0.9zM50.1 77.7h0.9v0.9h-0.9zM48.0 74.9h0.9v0.9h-0.9zM44.9 76.8h0.9v0.9h-0.9zM39.1 80.8h0.9v0.9h-0.9zM48.0 71.9h0.9v0.9h-0.9zM47.5 76.4h0.9v0.9h-0.9zM46.5 77.8h0.9v0.9h-0.9zM40.1 76.2h0.9v0.9h-0.9zM49.9 75.2h0.9v0.9h-0.9zM41.6 73.0h0.9v0.9h-0.9zM41.0 77.7h0.9v0.9h-0.9zM50.6 78.0h0.9v0.9h-0.9zM45.8 83.1h0.9v0.9h-0.9zM43.3 74.9h0.9v0.9h-0.9zM46.7 78.3h0.9v0.9h-0.9zM41.7 73.5h0.9v0.9h-0.9zM46.0 77.5h0.9v0.9h-0.9zM40.7 76.2h0.9v0.9h-0.9zM43.2 78.1h0.9v0.9h-0.9zM44.6 76.6h0.9v0.9h-0.9zM43.8 79.7h0.9v0.9h-0.9zM49.6 75.8h0.9v0.9h-0.9zM47.8 74.7h0.9v0.9h-0.9zM45.2 78.9h0.9v0.9h-0.9zM50.0 75.7h0.9v0.9h-0.9zM44.8 77.3h0.9v0.9h-0.9zM40.1 76.8h0.9v0.9h-0.9zM42.8 77.8h0.9v0.9h-0.9zM41.3 71.3h0.9v0.9h-0.9zM45.1 77.5h0.9v0.9h-0.9zM43.2 79.3h0.9v0.9h-0.9zM44.1 75.1h0.9v0.9h-0.9zM46.6 72.4h0.9v0.9h-0.9zM42.8 76.7h0.9v0.9h-0.9zM47.8 76.3h0.9v0.9h-0.9zM46.0 75.0h0.9v0.9h-0.9zM46.0 81.5h0.9v0.9h-0.9zM42.7 83.4h0.9v0.9h-0.9zM42.9 76.8h0.9v0.9h-0.9zM45.6 79.7h0.9v0.9h-0.9zM40.9 70.9h0.9v0.9h-0.9zM47.0 79.0h0.9v0.9h-0.9zM47.1 84.2h0.9v0.9h-0.9zM45.7 77.5h0.9v0.9h-0.9zM48.1 77.8h0.9v0.9h-0.9zM50.5 73.3h0.9v0.9h-0.9zM43.8 67.2h0.9v0.9h-0.9zM47.7 75.8h0.9v0.9h-0.9zM48.0 82.8h0.9v0.9h-0.9zM45.0 76.1h0.9v0.9h-0.9zM43.4 74.5h0.9v0.9h-0.9zM42.9 78.6h0.9v0.9h-0.9zM45.1 77.0h0.9v0.9h-0.9zM44.4 79.4h0.9v0.9h-0.9zM46.6 76.4h0.9v0.9h-0.9zM47.2 76.4h0.9v0.9h-0.9zM41.2 80.9h0.9v0.9h-0.9zM46.5 74.1h0.9v0.9h-0.9zM48.6 77.8h0.9v0.9h-0.9zM39.8 81.3h0.9v0.9h-0.9zM46.1 79.3h0.9v0.9h-0.9zM45.7 76.4h0.9v0.9h-0.9zM39.9 79.5h0.9v0.9h-0.9zM45.1 76.0h0.9v0.9h-0.9zM46.2 77.0h0.9v0.9h-0.9zM47.2 75.8h0.9v0.9h-0.9zM44.9 70.8h0.9v0.9h-0.9zM43.6 78.7h0.9v0.9h-0.9zM49.4 75.8h0.9v0.9h-0.9zM44.6 81.2h0.9v0.9h-0.9zM43.9 78.9h0.9v0.9h-0.9zM50.5 76.9h0.9v0.9h-0.9zM49.0 74.8h0.9v0.9h-0.9zM45.7 76.6h0.9v0.9h-0.9zM45.4 80.0h0.9v0.9h-0.9zM52.9 74.9h0.9v0.9h-0.9zM43.1 78.2h0.9v0.9h-0.9zM41.5 78.2h0.9v0.9h-0.9zM46.9 76.0h0.9v0.9h-0.9zM46.8 72.5h0.9v0.9h-0.9zM47.5 72.5h0.9v0.9h-0.9zM42.7 75.2h0.9v0.9h-0.9zM43.7 79.2h0.9v0.9h-0.9zM45.3 75.7h0.9v0.9h-0.9zM46.8 81.2h0.9v0.9h-0.9zM45.0 77.8h0.9v0.9h-0.9zM49.1 77.5h0.9v0.9h-0.9zM40.8 83.8h0.9v0.9h-0.9zM52.3 71.2h0.9v0.9h-0.9zM44.9 78.0h0.9v0.9h-0.9zM48.2 78.7h0.9v0.9h-0.9zM44.1 73.8h0.9v0.9h-0.9zM45.3 79.7h0.9v0.9h-0.9zM41.4 73.9h0.9v0.9h-0.9zM44.9 71.4h0.9v0.9h-0.9zM44.1 75.6h0.9v0.9h-0.9zM46.5 74.8h0.9v0.9h-0.9zM42.1 75.7h0.9v0.9h-0.9zM44.8 74.9h0.9v0.9h-0.9zM45.0 78.9h0.9v0.9h-0.9zM48.9 81.6h0.9v0.9h-0.9zM42.4 75.6h0.9v0.9h-0.9zM36.8 82.1h0.9v0.9h-0.9zM42.6 76.7h0.9v0.9h-0.9zM46.7 73.0h0.9v0.9h-0.9zM46.5 76.7h0.9v0.9h-0.9zM39.0 77.6h0.9v0.9h-0.9zM48.9 71.6h0.9v0.9h-0.9zM47.7 77.4h0.9v0.9h-0.9zM46.6 78.0h0.9v0.9h-0.9zM49.3 76.2h0.9v0.9h-0.9zM47.9 75.7h0.9v0.9h-0.9zM47.4 74.5h0.9v0.9h-0.9zM44.6 81.6h0.9v0.9h-0.9zM46.5 76.4h0.9v0.9h-0.9zM41.2 74.6h0.9v0.9h-0.9zM45.6 79.4h0.9v0.9h-0.9zM46.4 78.3h0.9v0.9h-0.9zM44.9 80.6h0.9v0.9h-0.9zM43.7 75.3h0.9v0.9h-0.9zM47.9 77.0h0.9v0.9h-0.9zM44.1 75.2h0.9v0.9h-0.9zM44.2 78.5h0.9v0.9h-0.9zM46.2 73.4h0.9v0.9h-0.9zM46.4 77.3h0.9v0.9h-0.9zM41.7 79.0h0.9v0.9h-0.9zM44.1 75.9h0.9v0.9h-0.9zM47.6 80.5h0.9v0.9h-0.9zM42.7 78.0h0.9v0.9h-0.9zM42.1 83.3h0.9v0.9h-0.9zM43.4 80.1h0.9v0.9h-0.9zM42.9 79.1h0.9v0.9h-0.9zM52.3 69.7h0.9v0.9h-0.9zM43.6 78.2h0.9v0.9h-0.9zM44.7 74.9h0.9v0.9h-0.9zM52.1 77.0h0.9v0.9h-0.9zM39.6 79.2h0.9v0.9h-0.9zM39.3 80.0h0.9v0.9h-0.9zM43.1 77.2h0.9v0.9h-0.9zM49.2 77.1h0.9v0.9h-0.9zM40.4 72.1h0.9v0.9h-0.9zM48.9 78.9h0.9v0.9h-0.9zM42.3 79.2h0.9v0.9h-0.9zM46.6 78.6h0.9v0.9h-0.9zM37.5 76.0h0.9v0.9h-0.9zM48.0 78.9h0.9v0.9h-0.9zM47.9 69.9h0.9v0.9h-0.9zM45.6 78.2h0.9v0.9h-0.9zM53.4 74.1h0.9v0.9h-0.9zM43.9 76.9h0.9v0.9h-0.9zM47.9 75.6h0.9v0.9h-0.9zM48.8 74.6h0.9v0.9h-0.9zM45.9 75.3h0.9v0.9h-0.9zM45.5 74.9h0.9v0.9h-0.9zM39.7 79.9h0.9v0.9h-0.9zM46.0 75.2h0.9v0.9h-0.9zM45.7 79.6h0.9v0.9h-0.9zM41.8 76.5h0.9v0.9h-0.9zM46.8 78.3h0.9v0.9h-0.9zM43.9 70.9h0.9v0.9h-0.9zM49.1 77.7h0.9v0.9h-0.9zM45.0 76.0h0.9v0.9h-0.9zM45.9 75.6h0.9v0.9h-0.9zM41.6 74.7h0.9v0.9h-0.9zM43.0 75.1h0.9v0.9h-0.9zM41.2 78.6h0.9v0.9h-0.9zM40.7 78.6h0.9v0.9h-0.9zM41.7 77.8h0.9v0.9h-0.9zM49.5 77.4h0.9v0.9h-0.9zM42.6 76.9h0.9v0.9h-0.9zM45.5 71.9h0.9v0.9h-0.9zM43.0 77.3h0.9v0.9h-0.9zM43.5 77.0h0.9v0.9h-0.9zM47.4 78.9h0.9v0.9h-0.9zM48.0 78.4h0.9v0.9h-0.9zM44.0 76.7h0.9v0.9h-0.9zM44.1 75.9h0.9v0.9h-0.9zM44.4 72.0h0.9v0.9h-0.9zM43.9 76.7h0.9v0.9h-0.9zM41.8 76.7h0.9v0.9h-0.9zM46.7 76.3h0.9v0.9h-0.9zM51.9 69.5h0.9v0.9h-0.9zM44.3 71.7h0.9v0.9h-0.9zM48.2 84.2h0.9v0.9h-0.9zM36.7 77.2h0.9v0.9h-0.9zM46.7 76.0h0.9v0.9h-0.9zM46.8 70.5h0.9v0.9h-0.9zM47.8 77.8h0.9v0.9h-0.9zM45.1 75.2h0.9v0.9h-0.9zM47.1 75.4h0.9v0.9h-0.9zM45.7 75.4h0.9v0.9h-0.9zM37.6 76.7h0.9v0.9h-0.9zM45.7 78.9h0.9v0.9h-0.9zM42.1 76.7h0.9v0.9h-0.9zM47.0 77.2h0.9v0.9h-0.9zM49.1 82.4h0.9v0.9h-0.9zM42.0 71.4h0.9v0.9h-0.9zM47.8 81.1h0.9v0.9h-0.9zM48.0 79.1h0.9v0.9h-0.9zM43.0 74.8h0.9v0.9h-0.9zM47.9 74.2h0.9v0.9h-0.9zM39.0 74.0h0.9v0.9h-0.9zM53.2 82.2h0.9v0.9h-0.9zM42.7 74.8h0.9v0.9h-0.9zM45.8 74.7h0.9v0.9h-0.9zM49.3 76.6h0.9v0.9h-0.9zM41.4 80.5h0.9v0.9h-0.9zM43.1 77.4h0.9v0.9h-0.9zM45.0 75.9h0.9v0.9h-0.9zM46.1 74.9h0.9v0.9h-0.9zM38.9 70.6h0.9v0.9h-0.9zM40.8 74.7h0.9v0.9h-0.9zM44.9 77.0h0.9v0.9h-0.9zM46.8 77.1h0.9v0.9h-0.9zM42.4 74.8h0.9v0.9h-0.9zM38.0 76.3h0.9v0.9h-0.9zM46.6 78.3h0.9v0.9h-0.9zM44.6 76.3h0.9v0.9h-0.9zM48.1 76.8h0.9v0.9h-0.9zM47.4 78.4h0.9v0.9h-0.9zM45.7 80.5h0.9v0.9h-0.9zM43.1 75.8h0.9v0.9h-0.9zM42.3 74.6h0.9v0.9h-0.9zM50.1 81.7h0.9v0.9h-0.9zM45.1 78.4h0.9v0.9h-0.9zM48.9 79.1h0.9v0.9h-0.9zM49.0 73.3h0.9v0.9h-0.9zM42.9 78.1h0.9v0.9h-0.9zM49.7 77.1h0.9v0.9h-0.9zM42.2 75.8h0.9v0.9h-0.9zM42.8 74.4h0.9v0.9h-0.9zM50.0 75.0h0.9v0.9h-0.9zM45.1 82.9h0.9v0.9h-0.9zM48.9 77.7h0.9v0.9h-0.9zM43.0 77.9h0.9v0.9h-0.9zM50.4 78.5h0.9v0.9h-0.9zM49.2 77.1h0.9v0.9h-0.9zM46.7 76.2h0.9v0.9h-0.9zM46.4 80.4h0.9v0.9h-0.9zM40.3 76.6h0.9v0.9h-0.9zM45.8 75.2h0.9v0.9h-0.9zM44.0 79.0h0.9v0.9h-0.9zM51.6 78.6h0.9v0.9h-0.9zM46.1 72.5h0.9v0.9h-0.9zM51.4 77.0h0.9v0.9h-0.9zM44.9 73.7h0.9v0.9h-0.9zM44.8 73.7h0.9v0.9h-0.9zM45.2 78.1h0.9v0.9h-0.9zM45.1 77.6h0.9v0.9h-0.9zM42.2 80.8h0.9v0.9h-0.9zM42.8 71.7h0.9v0.9h-0.9zM44.4 74.7h0.9v0.9h-0.9zM41.7 75.8h0.9v0.9h-0.9zM46.0 73.5h0.9v0.9h-0.9zM44.5 80.8h0.9v0.9h-0.9zM47.3 76.4h0.9v0.9h-0.9zM45.4 76.5h0.9v0.9h-0.9zM44.8 78.9h0.9v0.9h-0.9zM44.7 70.1h0.9v0.9h-0.9zM44.9 74.3h0.9v0.9h-0.9z" fill="#222" fill-opacity="0.386"/>
<path d="M76.8 75.2h0.9v0.9h-0.9zM75.0 83.3h0.9v0.9h-0.9zM70.7 73.7h0.9v0.9h-0.9zM69.4 70.1h0.9v0.9h-0.9zM67.7 78.1h0.9v0.9h-0.9zM72.2 71.6h0.9v0.9h-0.9zM69.2 78.8h0.9v0.9h-0.9zM71.7 75.9h0.9v0.9h-0.9zM75.7 80.9h0.9v0.9h-0.9zM81.5 80.0h0.9v0.9h-0.9zM75.0 77.5h0.9v0.9h-0.9zM81.0 81.1h0.9v0.9h-0.9zM73.4 78.3h0.9v0.9h-0.9zM75.5 77.2h0.9v0.9h-0.9zM72.7 73.2h0.9v0.9h-0.9zM72.6 72.5h0.9v0.9h-0.9zM78.9 78.6h0.9v0.9h-0.9zM70.2 81.0h0.9v0.9h-0.9zM77.7 71.5h0.9v0.9h-0.9zM81.1 79.3h0.9v0.9h-0.9zM81.9 73.4h0.9v0.9h-0.9zM76.4 78.2h0.9v0.9h-0.9zM75.2 77.5h0.9v0.9h-0.9zM78.3 72.7h0.9v0.9h-0.9zM70.0 73.0h0.9v0.9h-0.9zM72.5 75.2h0.9v0.9h-0.9zM75.8 77.8h0.9v0.9h-0.9zM74.6 75.0h0.9v0.9h-0.9zM72.9 79.8h0.9v0.9h-0.9zM77.2 77.3h0.9v0.9h-0.9zM73.3 81.5h0.9v0.9h-0.9zM72.4 78.9h0.9v0.9h-0.9zM78.7 76.2h0.9v0.9h-0.9zM77.5 73.8h0.9v0.9h-0.9zM78.1 77.6h0.9v0.9h-0.9zM68.8 78.9h0.9v0.9h-0.9zM71.3 80.7h0.9v0.9h-0.9zM72.1 76.5h0.9v0.9h-0.9zM75.5 76.0h0.9v0.9h-0.9zM75.4 75.4h0.9v0.9h-0.9zM76.9 77.0h0.9v0.9h-0.9zM75.3 69.0h0.9v0.9h-0.9zM78.7 77.1h0.9v0.9h-0.9zM68.1 77.3h0.9v0.9h-0.9zM76.2 80.1h0.9v0.9h-0.9zM70.6 81.5h0.9v0.9h-0.9zM73.9 83.9h0.9v0.9h-0.9zM74.0 79.0h0.9v0.9h-0.9zM73.2 73.8h0.9v0.9h-0.9zM78.4 79.6h0.9v0.9h-0.9zM80.0 79.5h0.9v0.9h-0.9zM72.4 72.2h0.9v0.9h-0.9zM72.2 75.0h0.9v0.9h-0.9zM71.6 78.7h0.9v0.9h-0.9zM75.7 76.2h0.9v0.9h-0.9zM75.1 76.6h0.9v0.9h-0.9zM75.3 79.2h0.9v0.9h-0.9zM78.0 75.0h0.9v0.9h-0.9zM69.1 81.1h0.9v0.9h-0.9zM74.9 80.2h0.9v0.9h-0.9zM68.6 76.0h0.9v0.9h-0.9zM74.6 72.8h0.9v0.9h-0.9zM72.6 79.1h0.9v0.9h-0.9zM78.4 81.6h0.9v0.9h-0.9zM71.4 72.9h0.9v0.9h-0.9zM76.4 79.7h0.9v0.9h-0.9zM75.2 73.2h0.9v0.9h-0.9zM77.3 79.3h0.9v0.9h-0.9zM76.5 75.6h0.9v0.9h-0.9zM75.6 79.3h0.9v0.9h-0.9zM72.5 71.7h0.9v0.9h-0.9zM75.7 78.4h0.9v0.9h-0.9zM74.5 79.6h0.9v0.9h-0.9zM72.4 76.8h0.9v0.9h-0.9zM73.4 78.7h0.9v0.9h-0.9zM80.2 76.3h0.9v0.9h-0.9zM81.9 81.4h0.9v0.9h-0.9zM77.3 78.7h0.9v0.9h-0.9zM80.9 76.5h0.9v0.9h-0.9zM74.1 73.9h0.9v0.9h-0.9zM76.2 80.9h0.9v0.9h-0.9zM76.4 78.2h0.9v0.9h-0.9zM73.8 77.5h0.9v0.9h-0.9zM69.4 80.0h0.9v0.9h-0.9zM73.0 73.8h0.9v0.9h-0.9zM71.8 74.6h0.9v0.9h-0.9zM77.6 80.1h0.9v0.9h-0.9zM69.6 79.7h0.9v0.9h-0.9zM77.7 75.3h0.9v0.9h-0.9zM69.1 74.8h0.9v0.9h-0.9zM72.2 78.0h0.9v0.9h-0.9zM73.2 71.1h0.9v0.9h-0.9zM75.3 72.6h0.9v0.9h-0.9zM77.8 73.5h0.9v0.9h-0.9zM72.0 74.5h0.9v0.9h-0.9zM72.5 80.8h0.9v0.9h-0.9zM77.6 78.7h0.9v0.9h-0.9zM75.6 72.5h0.9v0.9h-0.9zM72.6 75.4h0.9v0.9h-0.9zM71.0 78.5h0.9v0.9h-0.9zM71.8 74.9h0.9v0.9h-0.9zM70.7 71.0h0.9v0.9h-0.9zM76.6 80.9h0.9v0.9h-0.9zM75.1 74.2h0.9v0.9h-0.9zM64.8 77.5h0.9v0.9h-0.9zM78.9 77.9h0.9v0.9h-0.9zM77.8 81.3h0.9v0.9h-0.9zM78.6 75.7h0.9v0.9h-0.9zM78.3 79.2h0.9v0.9h-0.9zM69.0 75.8h0.9v0.9h-0.9zM69.4 76.7h0.9v0.9h-0.9zM76.6 73.9h0.9v0.9h-0.9zM67.1 80.8h0.9v0.9h-0.9zM75.9 81.3h0.9v0.9h-0.9zM69.7 80.1h0.9v0.9h-0.9zM82.0 82.8h0.9v0.9h-0.9zM73.7 77.8h0.9v0.9h-0.9zM73.9 79.9h0.9v0.9h-0.9zM78.2 77.3h0.9v0.9h-0.9zM69.6 79.1h0.9v0.9h-0.9zM72.8 78.8h0.9v0.9h-0.9zM75.4 81.7h0.9v0.9h-0.9zM78.6 75.7h0.9v0.9h-0.9zM75.8 82.1h0.9v0.9h-0.9zM72.6 78.3h0.9v0.9h-0.9zM78.8 80.6h0.9v0.9h-0.9zM76.4 73.2h0.9v0.9h-0.9zM70.0 77.7h0.9v0.9h-0.9zM75.9 84.4h0.9v0.9h-0.9zM71.4 80.3h0.9v0.9h-0.9zM77.3 72.2h0.9v0.9h-0.9zM71.6 77.5h0.9v0.9h-0.9zM72.7 76.6h0.9v0.9h-0.9zM76.2 74.7h0.9v0.9h-0.9zM76.2 75.2h0.9v0.9h-0.9zM72.5 78.6h0.9v0.9h-0.9zM72.4 77.8h0.9v0.9h-0.9zM80.3 77.1h0.9v0.9h-0.9zM74.0 79.1h0.9v0.9h-0.9zM73.2 80.1h0.9v0.9h-0.9zM69.9 78.8h0.9v0.9h-0.9zM72.7 74.7h0.9v0.9h-0.9zM80.9 74.5h0.9v0.9h-0.9zM80.8 78.9h0.9v0.9h-0.9zM79.7 74.2h0.9v0.9h-0.9zM78.8 81.2h0.9v0.9h-0.9zM74.1 76.6h0.9v0.9h-0.9zM83.3 77.5h0.9v0.9h-0.9zM73.0 75.2h0.9v0.9h-0.9zM76.1 78.0h0.9v0.9h-0.9zM75.1 82.0h0.9v0.9h-0.9zM73.3 78.4h0.9v0.9h-0.9zM79.8 74.1h0.9v0.9h-0.9zM78.2 82.3h0.9v0.9h-0.9zM69.6 73.8h0.9v0.9h-0.9zM70.8 71.6h0.9v0.9h-0.9zM76.1 71.6h0.9v0.9h-0.9zM76.3 81.2h0.9v0.9h-0.9zM68.7 76.1h0.9v0.9h-0.9zM67.6 79.3h0.9v0.9h-0.9zM71.8 76.2h0.9v0.9h-0.9zM74.7 78.6h0.9v0.9h-0.9zM73.3 77.0h0.9v0.9h-0.9zM72.5 77.3h0.9v0.9h-0.9zM70.3 77.2h0.9v0.9h-0.9zM67.5 75.6h0.9v0.9h-0.9zM81.4 77.2h0.9v0.9h-0.9zM70.0 77.7h0.9v0.9h-0.9zM71.0 72.2h0.9v0.9h-0.9zM71.8 79.1h0.9v0.9h-0.9zM75.9 76.7h0.9v0.9h-0.9zM71.2 73.9h0.9v0.9h-0.9zM79.4 77.7h0.9v0.9h-0.9zM71.1 70.9h0.9v0.9h-0.9zM69.6 84.2h0.9v0.9h-0.9zM70.4 76.8h0.9v0.9h-0.9zM75.3 76.5h0.9v0.9h-0.9zM73.5 73.0h0.9v0.9h-0.9zM70.7 81.9h0.9v0.9h-0.9zM71.8 79.5h0.9v0.9h-0.9zM68.4 76.2h0.9v0.9h-0.9zM75.4 80.0h0.9v0.9h-0.9zM70.5 78.7h0.9v0.9h-0.9zM75.9 74.9h0.9v0.9h-0.9zM76.2 74.4h0.9v0.9h-0.9zM71.6 76.9h0.9v0.9h-0.9zM64.7 76.7h0.9v0.9h-0.9zM70.9 72.8h0.9v0.9h-0.9zM73.0 79.2h0.9v0.9h-0.9zM73.0 80.7h0.9v0.9h-0.9zM70.3 73.2h0.9v0.9h-0.9zM80.1 78.2h0.9v0.9h-0.9zM77.9 74.6h0.9v0.9h-0.9zM77.4 77.8h0.9v0.9h-0.9zM76.8 77.1h0.9v0.9h-0.9zM78.8 75.1h0.9v0.9h-0.9zM71.0 72.7h0.9v0.9h-0.9zM78.7 74.9h0.9v0.9h-0.9zM70.7 74.3h0.9v0.9h-0.9zM72.9 73.3h0.9v0.9h-0.9zM73.5 75.2h0.9v0.9h-0.9zM72.5 74.2h0.9v0.9h-0.9zM74.6 75.7h0.9v0.9h-0.9zM74.9 77.7h0.9v0.9h-0.9zM75.7 70.7h0.9v0.9h-0.9zM72.6 74.7h0.9v0.9h-0.9zM77.3 72.4h0.9v0.9h-0.9zM71.9 76.1h0.9v0.9h-0.9zM73.3 79.9h0.9v0.9h-0.9zM72.9 79.8h0.9v0.9h-0.9z" fill="#222" fill-opacity="0.338" filter="url(#soft)"/>
<path d="M76.8 75.2h0.9v0.9h-0.9zM75.0 83.3h0.9v0.9h-0.9zM70.7 73.7h0.9v0.9h-0.9zM69.4 70.1h0.9v0.9h-0.9zM67.7 78.1h0.9v0.9h-0.9zM72.2 71.6h0.9v0.9h-0.9zM69.2 78.8h0.9v0.9h-0.9zM71.7 75.9h0.9v0.9h-0.9zM75.7 80.9h0.9v0.9h-0.9zM81.5 80.0h0.9v0.9h-0.9zM75.0 77.5h0.9v0.9h-0.9zM81.0 81.1h0.9v0.9h-0.9zM73.4 78.3h0.9v0.9h-0.9zM75.5 77.2h0.9v0.9h-0.9zM72.7 73.2h0.9v0.9h-0.9zM72.6 72.5h0.9v0.9h-0.9zM78.9 78.6h0.9v0.9h-0.9zM70.2 81.0h0.9v0.9h-0.9zM77.7 71.5h0.9v0.9h-0.9zM81.1 79.3h0.9v0.9h-0.9zM81.9 73.4h0.9v0.9h-0.9zM76.4 78.2h0.9v0.9h-0.9zM75.2 77.5h0.9v0.9h-0.9zM78.3 72.7h0.9v0.9h-0.9zM70.0 73.0h0.9v0.9h-0.9zM72.5 75.2h0.9v0.9h-0.9zM75.8 77.8h0.9v0.9h-0.9zM74.6 75.0h0.9v0.9h-0.9zM72.9 79.8h0.9v0.9h-0.9zM77.2 77.3h0.9v0.9h-0.9zM73.3 81.5h0.9v0.9h-0.9zM72.4 78.9h0.9v0.9h-0.9zM78.7 76.2h0.9v0.9h-0.9zM77.5 73.8h0.9v0.9h-0.9zM78.1 77.6h0.9v0.9h-0.9zM68.8 78.9h0.9v0.9h-0.9zM71.3 80.7h0.9v0.9h-0.9zM72.1 76.5h0.9v0.9h-0.9zM75.5 76.0h0.9v0.9h-0.9zM75.4 75.4h0.9v0.9h-0.9zM76.9 77.0h0.9v0.9h-0.9zM75.3 69.0h0.9v0.9h-0.9zM78.7 77.1h0.9v0.9h-0.9zM68.1 77.3h0.9v0.9h-0.9zM76.2 80.1h0.9v0.9h-0.9zM70.6 81.5h0.9v0.9h-0.9zM73.9 83.9h0.9v0.9h-0.9zM74.0 79.0h0.9v0.9h-0.9zM73.2 73.8h0.9v0.9h-0.9zM78.4 79.6h0.9v0.9h-0.9zM80.0 79.5h0.9v0.9h-0.9zM72.4 72.2h0.9v0.9h-0.9zM72.2 75.0h0.9v0.9h-0.9zM71.6 78.7h0.9v0.9h-0.9zM75.7 76.2h0.9v0.9h-0.9zM75.1 76.6h0.9v0.9h-0.9zM75.3 79.2h0.9v0.9h-0.9zM78.0 75.0h0.9v0.9h-0.9zM69.1 81.1h0.9v0.9h-0.9zM74.9 80.2h0.9v0.9h-0.9zM68.6 76.0h0.9v0.9h-0.9zM74.6 72.8h0.9v0.9h-0.9zM72.6 79.1h0.9v0.9h-0.9zM78.4 81.6h0.9v0.9h-0.9zM71.4 72.9h0.9v0.9h-0.9zM76.4 79.7h0.9v0.9h-0.9zM75.2 73.2h0.9v0.9h-0.9zM77.3 79.3h0.9v0.9h-0.9zM76.5 75.6h0.9v0.9h-0.9zM75.6 79.3h0.9v0.9h-0.9zM72.5 71.7h0.9v0.9h-0.9zM75.7 78.4h0.9v0.9h-0.9zM74.5 79.6h0.9v0.9h-0.9zM72.4 76.8h0.9v0.9h-0.9zM73.4 78.7h0.9v0.9h-0.9zM80.2 76.3h0.9v0.9h-0.9zM81.9 81.4h0.9v0.9h-0.9zM77.3 78.7h0.9v0.9h-0.9zM80.9 76.5h0.9v0.9h-0.9zM74.1 73.9h0.9v0.9h-0.9zM76.2 80.9h0.9v0.9h-0.9zM76.4 78.2h0.9v0.9h-0.9zM73.8 77.5h0.9v0.9h-0.9zM69.4 80.0h0.9v0.9h-0.9zM73.0 73.8h0.9v0.9h-0.9zM71.8 74.6h0.9v0.9h-0.9zM77.6 80.1h0.9v0.9h-0.9zM69.6 79.7h0.9v0.9h-0.9zM77.7 75.3h0.9v0.9h-0.9zM69.1 74.8h0.9v0.9h-0.9zM72.2 78.0h0.9v0.9h-0.9zM73.2 71.1h0.9v0.9h-0.9zM75.3 72.6h0.9v0.9h-0.9zM77.8 73.5h0.9v0.9h-0.9zM72.0 74.5h0.9v0.9h-0.9zM72.5 80.8h0.9v0.9h-0.9zM77.6 78.7h0.9v0.9h-0.9zM75.6 72.5h0.9v0.9h-0.9zM72.6 75.4h0.9v0.9h-0.9zM71.0 78.5h0.9v0.9h-0.9zM71.8 74.9h0.9v0.9h-0.9zM70.7 71.0h0.9v0.9h-0.9zM76.6 80.9h0.9v0.9h-0.9zM75.1 74.2h0.9v0.9h-0.9zM64.8 77.5h0.9v0.9h-0.9zM78.9 77.9h0.9v0.9h-0.9zM77.8 81.3h0.9v0.9h-0.9zM78.6 75.7h0.9v0.9h-0.9zM78.3 79.2h0.9v0.9h-0.9zM69.0 75.8h0.9v0.9h-0.9zM69.4 76.7h0.9v0.9h-0.9zM76.6 73.9h0.9v0.9h-0.9zM67.1 80.8h0.9v0.9h-0.9zM75.9 81.3h0.9v0.9h-0.9zM69.7 80.1h0.9v0.9h-0.9zM82.0 82.8h0.9v0.9h-0.9zM73.7 77.8h0.9v0.9h-0.9zM73.9 79.9h0.9v0.9h-0.9zM78.2 77.3h0.9v0.9h-0.9zM69.6 79.1h0.9v0.9h-0.9zM72.8 78.8h0.9v0.9h-0.9zM75.4 81.7h0.9v0.9h-0.9zM78.6 75.7h0.9v0.9h-0.9zM75.8 82.1h0.9v0.9h-0.9zM72.6 78.3h0.9v0.9h-0.9zM78.8 80.6h0.9v0.9h-0.9zM76.4 73.2h0.9v0.9h-0.9zM70.0 77.7h0.9v0.9h-0.9zM75.9 84.4h0.9v0.9h-0.9zM71.4 80.3h0.9v0.9h-0.9zM77.3 72.2h0.9v0.9h-0.9zM71.6 77.5h0.9v0.9h-0.9zM72.7 76.6h0.9v0.9h-0.9zM76.2 74.7h0.9v0.9h-0.9zM76.2 75.2h0.9v0.9h-0.9zM72.5 78.6h0.9v0.9h-0.9zM72.4 77.8h0.9v0.9h-0.9zM80.3 77.1h0.9v0.9h-0.9zM74.0 79.1h0.9v0.9h-0.9zM73.2 80.1h0.9v0.9h-0.9zM69.9 78.8h0.9v0.9h-0.9zM72.7 74.7h0.9v0.9h-0.9zM80.9 74.5h0.9v0.9h-0.9zM80.8 78.9h0.9v0.9h-0.9zM79.7 74.2h0.9v0.9h-0.9zM78.8 81.2h0.9v0.9h-0.9zM74.1 76.6h0.9v0.9h-0.9zM83.3 77.5h0.9v0.9h-0.9zM73.0 75.2h0.9v0.9h-0.9zM76.1 78.0h0.9v0.9h-0.9zM75.1 82.0h0.9v0.9h-0.9zM73.3 78.4h0.9v0.9h-0.9zM79.8 74.1h0.9v0.9h-0.9zM78.2 82.3h0.9v0.9h-0.9zM69.6 73.8h0.9v0.9h-0.9zM70.8 71.6h0.9v0.9h-0.9zM76.1 71.6h0.9v0.9h-0.9zM76.3 81.2h0.9v0.9h-0.9zM68.7 76.1h0.9v0.9h-0.9zM67.6 79.3h0.9v0.9h-0.9zM71.8 76.2h0.9v0.9h-0.9zM74.7 78.6h0.9v0.9h-0.9zM73.3 77.0h0.9v0.9h-0.9zM72.5 77.3h0.9v0.9h-0.9zM70.3 77.2h0.9v0.9h-0.9zM67.5 75.6h0.9v0.9h-0.9zM81.4 77.2h0.9v0.9h-0.9zM70.0 77.7h0.9v0.9h-0.9zM71.0 72.2h0.9v0.9h-0.9zM71.8 79.1h0.9v0.9h-0.9zM75.9 76.7h0.9v0.9h-0.9zM71.2 73.9h0.9v0.9h-0.9zM79.4 77.7h0.9v0.9h-0.9zM71.1 70.9h0.9v0.9h-0.9zM69.6 84.2h0.9v0.9h-0.9zM70.4 76.8h0.9v0.9h-0.9zM75.3 76.5h0.9v0.9h-0.9zM73.5 73.0h0.9v0.9h-0.9zM70.7 81.9h0.9v0.9h-0.9zM71.8 79.5h0.9v0.9h-0.9zM68.4 76.2h0.9v0.9h-0.9zM75.4 80.0h0.9v0.9h-0.9zM70.5 78.7h0.9v0.9h-0.9zM75.9 74.9h0.9v0.9h-0.9zM76.2 74.4h0.9v0.9h-0.9zM71.6 76.9h0.9v0.9h-0.9zM64.7 76.7h0.9v0.9h-0.9zM70.9 72.8h0.9v0.9h-0.9zM73.0 79.2h0.9v0.9h-0.9zM73.0 80.7h0.9v0.9h-0.9zM70.3 73.2h0.9v0.9h-0.9zM80.1 78.2h0.9v0.9h-0.9zM77.9 74.6h0.9v0.9h-0.9zM77.4 77.8h0.9v0.9h-0.9zM76.8 77.1h0.9v0.9h-0.9zM78.8 75.1h0.9v0.9h-0.9zM71.0 72.7h0.9v0.9h-0.9zM78.7 74.9h0.9v0.9h-0.9zM70.7 74.3h0.9v0.9h-0.9zM72.9 73.3h0.9v0.9h-0.9zM73.5 75.2h0.9v0.9h-0.9zM72.5 74.2h0.9v0.9h-0.9zM74.6 75.7h0.9v0.9h-0.9zM74.9 77.7h0.9v0.9h-0.9zM75.7 70.7h0.9v0.9h-0.9zM72.6 74.7h0.9v0.9h-0.9zM77.3 72.4h0.9v0.9h-0.9zM71.9 76.1h0.9v0.9h-0.9zM73.3 79.9h0.9v0.9h-0.9zM72.9 79.8h0.9v0.9h-0.9z" fill="#222" fill-opacity="0.338"/>
<rect x="28.5" y="17.5" width="74.0" height="71.0" fill="none" stroke="#999" stroke-width="1.0" />
<line x1="57.75" y1="17.5" x2="57.75" y2="88.5" stroke="#777" stroke-width="1.15" />
<line x1="28.5" y1="67.75" x2="102.5" y2="67.75" stroke="#777" stroke-width="1.15" />
<line x1="28.0" y1="88.5" x2="102.5" y2="88.5" stroke="#333" stroke-width="1.2" />
<line x1="26.7" y1="24.0" x2="28.5" y2="24.0" stroke="#222" stroke-width="1.0" />
<text x="26.2" y="25.5" font-size="4.3" text-anchor="end" font-weight="normal" fill="#999" >10⁵</text>
<line x1="26.7" y1="39.5" x2="28.5" y2="39.5" stroke="#222" stroke-width="1.0" />
<text x="26.2" y="41.0" font-size="4.3" text-anchor="end" font-weight="normal" fill="#999" >10⁴</text>
<line x1="26.7" y1="55.5" x2="28.5" y2="55.5" stroke="#222" stroke-width="1.0" />
<text x="26.2" y="57.0" font-size="4.3" text-anchor="end" font-weight="normal" fill="#999" >10³</text>
<line x1="26.7" y1="72.5" x2="28.5" y2="72.5" stroke="#222" stroke-width="1.0" />
<text x="26.2" y="74.0" font-size="4.3" text-anchor="end" font-weight="normal" fill="#999" >10²</text>
<line x1="26.7" y1="80.0" x2="28.5" y2="80.0" stroke="#222" stroke-width="1.0" />
<text x="26.2" y="81.5" font-size="4.3" text-anchor="end" font-weight="normal" fill="#999" >0</text>
<line x1="36.0" y1="88.5" x2="36.0" y2="90.1" stroke="#333" stroke-width="0.9" />
<text x="36.0" y="94.3" font-size="4.3" text-anchor="middle" font-weight="normal" fill="#999" >0</text>
<line x1="44.5" y1="88.5" x2="44.5" y2="90.1" stroke="#333" stroke-width="0.9" />
<text x="44.5" y="94.3" font-size="4.3" text-anchor="middle" font-weight="normal" fill="#999" >10²</text>
<line x1="61.0" y1="88.5" x2="61.0" y2="90.1" stroke="#333" stroke-width="0.9" />
<text x="61.0" y="94.3" font-size="4.3" text-anchor="middle" font-weight="normal" fill="#999" >10³</text>
<line x1="77.5" y1="88.5" x2="77.5" y2="90.1" stroke="#333" stroke-width="0.9" />
<text x="77.5" y="94.3" font-size="4.3" text-anchor="middle" font-weight="normal" fill="#999" >10⁴</text>
<line x1="94.0" y1="88.5" x2="94.0" y2="90.1" stroke="#333" stroke-width="0.9" />
<text x="94.0" y="94.3" font-size="4.3" text-anchor="middle" font-weight="normal" fill="#999" >10⁵</text>
<text x="30.5" y="23.2" font-size="4.9" text-anchor="start" font-weight="bold" fill="#111" stroke="#111" stroke-width="0.2">18.9</text>
<text x="101.5" y="23.2" font-size="4.9" text-anchor="end" font-weight="bold" fill="#111" stroke="#111" stroke-width="0.2">16.5</text>
<text x="30.5" y="87.1" font-size="4.9" text-anchor="start" font-weight="bold" fill="#111" stroke="#111" stroke-width="0.2">42.6</text>
<text x="101.7" y="87.1" font-size="4.9" text-anchor="end" font-weight="bold" fill="#111" stroke="#111" stroke-width="0.2">22.1</text>
<path d="M127.8 43.4h0.9v0.9h-0.9zM139.2 57.8h0.9v0.9h-0.9zM136.1 55.8h0.9v0.9h-0.9zM136.1 47.2h0.9v0.9h-0.9zM138.0 51.6h0.9v0.9h-0.9zM138.2 55.6h0.9v0.9h-0.9zM125.6 46.8h0.9v0.9h-0.9zM138.8 54.1h0.9v0.9h-0.9zM132.3 56.5h0.9v0.9h-0.9zM132.2 51.5h0.9v0.9h-0.9zM134.4 55.9h0.9v0.9h-0.9zM140.5 55.3h0.9v0.9h-0.9zM142.0 66.5h0.9v0.9h-0.9zM141.3 61.8h0.9v0.9h-0.9zM134.6 55.9h0.9v0.9h-0.9zM133.4 50.3h0.9v0.9h-0.9zM133.7 50.9h0.9v0.9h-0.9zM141.0 58.4h0.9v0.9h-0.9zM132.1 42.8h0.9v0.9h-0.9zM133.8 52.3h0.9v0.9h-0.9zM129.4 47.7h0.9v0.9h-0.9zM124.4 58.6h0.9v0.9h-0.9zM133.7 71.5h0.9v0.9h-0.9zM133.9 54.1h0.9v0.9h-0.9zM140.1 55.9h0.9v0.9h-0.9zM134.7 52.6h0.9v0.9h-0.9zM131.4 64.6h0.9v0.9h-0.9zM138.3 65.9h0.9v0.9h-0.9zM132.5 55.2h0.9v0.9h-0.9zM130.3 61.2h0.9v0.9h-0.9zM128.1 58.6h0.9v0.9h-0.9zM138.7 64.0h0.9v0.9h-0.9zM130.0 62.0h0.9v0.9h-0.9zM131.0 50.2h0.9v0.9h-0.9zM128.4 62.4h0.9v0.9h-0.9zM141.0 51.2h0.9v0.9h-0.9zM130.8 52.8h0.9v0.9h-0.9zM144.7 61.4h0.9v0.9h-0.9zM131.7 43.6h0.9v0.9h-0.9zM131.1 62.6h0.9v0.9h-0.9zM141.9 53.3h0.9v0.9h-0.9zM131.1 51.7h0.9v0.9h-0.9zM126.0 60.8h0.9v0.9h-0.9zM129.4 61.8h0.9v0.9h-0.9zM126.7 46.9h0.9v0.9h-0.9zM135.2 50.1h0.9v0.9h-0.9zM137.3 55.1h0.9v0.9h-0.9zM129.0 59.0h0.9v0.9h-0.9zM137.6 42.8h0.9v0.9h-0.9zM141.8 58.2h0.9v0.9h-0.9zM137.2 43.1h0.9v0.9h-0.9zM130.9 52.8h0.9v0.9h-0.9zM138.6 45.7h0.9v0.9h-0.9zM130.2 42.1h0.9v0.9h-0.9zM133.0 57.2h0.9v0.9h-0.9zM126.8 51.2h0.9v0.9h-0.9zM136.2 65.1h0.9v0.9h-0.9zM136.8 53.1h0.9v0.9h-0.9zM129.0 49.0h0.9v0.9h-0.9zM131.2 55.9h0.9v0.9h-0.9zM133.8 65.6h0.9v0.9h-0.9zM135.2 48.2h0.9v0.9h-0.9zM140.6 61.1h0.9v0.9h-0.9zM134.4 50.4h0.9v0.9h-0.9zM126.0 48.5h0.9v0.9h-0.9zM137.9 49.9h0.9v0.9h-0.9zM128.4 56.2h0.9v0.9h-0.9zM135.0 58.9h0.9v0.9h-0.9zM136.8 64.0h0.9v0.9h-0.9zM130.4 61.2h0.9v0.9h-0.9zM129.8 59.4h0.9v0.9h-0.9zM134.8 56.6h0.9v0.9h-0.9zM138.1 54.9h0.9v0.9h-0.9zM138.7 60.6h0.9v0.9h-0.9zM134.6 51.4h0.9v0.9h-0.9zM130.8 51.6h0.9v0.9h-0.9zM133.1 54.8h0.9v0.9h-0.9zM146.7 59.1h0.9v0.9h-0.9zM137.3 49.5h0.9v0.9h-0.9zM131.0 53.0h0.9v0.9h-0.9zM134.8 48.4h0.9v0.9h-0.9zM140.9 51.4h0.9v0.9h-0.9zM138.6 40.1h0.9v0.9h-0.9zM134.0 56.8h0.9v0.9h-0.9zM134.8 58.8h0.9v0.9h-0.9zM135.2 56.0h0.9v0.9h-0.9zM125.9 50.4h0.9v0.9h-0.9zM124.0 59.0h0.9v0.9h-0.9zM135.3 53.8h0.9v0.9h-0.9zM130.5 51.3h0.9v0.9h-0.9zM141.9 66.0h0.9v0.9h-0.9zM133.8 63.2h0.9v0.9h-0.9zM127.2 42.7h0.9v0.9h-0.9zM131.9 49.4h0.9v0.9h-0.9zM131.6 56.2h0.9v0.9h-0.9zM146.9 50.8h0.9v0.9h-0.9zM134.2 56.8h0.9v0.9h-0.9zM133.9 60.9h0.9v0.9h-0.9zM141.6 47.1h0.9v0.9h-0.9zM134.7 53.3h0.9v0.9h-0.9zM135.5 45.2h0.9v0.9h-0.9zM126.5 40.2h0.9v0.9h-0.9zM136.2 56.2h0.9v0.9h-0.9zM134.3 39.9h0.9v0.9h-0.9zM132.4 50.2h0.9v0.9h-0.9zM128.0 49.2h0.9v0.9h-0.9zM137.0 58.5h0.9v0.9h-0.9zM133.9 58.3h0.9v0.9h-0.9zM131.4 55.5h0.9v0.9h-0.9zM134.2 58.5h0.9v0.9h-0.9zM133.7 54.1h0.9v0.9h-0.9zM133.4 50.9h0.9v0.9h-0.9zM143.5 58.3h0.9v0.9h-0.9zM135.8 69.6h0.9v0.9h-0.9zM140.0 45.1h0.9v0.9h-0.9zM137.0 60.3h0.9v0.9h-0.9zM142.0 63.4h0.9v0.9h-0.9zM137.3 47.5h0.9v0.9h-0.9zM130.3 56.7h0.9v0.9h-0.9zM136.1 48.5h0.9v0.9h-0.9zM132.4 52.4h0.9v0.9h-0.9zM134.3 57.1h0.9v0.9h-0.9zM132.8 47.1h0.9v0.9h-0.9zM139.3 65.2h0.9v0.9h-0.9zM133.5 61.5h0.9v0.9h-0.9zM135.9 59.2h0.9v0.9h-0.9zM136.0 50.1h0.9v0.9h-0.9zM136.4 61.4h0.9v0.9h-0.9zM130.2 67.5h0.9v0.9h-0.9zM142.9 66.6h0.9v0.9h-0.9zM142.5 59.7h0.9v0.9h-0.9zM132.6 51.2h0.9v0.9h-0.9zM130.5 55.7h0.9v0.9h-0.9zM133.9 59.3h0.9v0.9h-0.9zM125.4 69.8h0.9v0.9h-0.9zM143.7 54.8h0.9v0.9h-0.9zM136.9 58.0h0.9v0.9h-0.9zM135.2 53.7h0.9v0.9h-0.9zM133.5 49.7h0.9v0.9h-0.9zM134.8 54.8h0.9v0.9h-0.9zM135.4 49.5h0.9v0.9h-0.9zM134.2 55.3h0.9v0.9h-0.9zM136.6 48.2h0.9v0.9h-0.9zM135.8 61.3h0.9v0.9h-0.9zM136.5 52.6h0.9v0.9h-0.9zM131.9 53.5h0.9v0.9h-0.9zM137.1 64.9h0.9v0.9h-0.9zM133.3 50.9h0.9v0.9h-0.9zM135.6 56.3h0.9v0.9h-0.9zM130.1 50.3h0.9v0.9h-0.9zM133.6 59.3h0.9v0.9h-0.9zM128.9 48.5h0.9v0.9h-0.9zM136.1 47.2h0.9v0.9h-0.9zM134.5 57.2h0.9v0.9h-0.9zM133.5 48.5h0.9v0.9h-0.9zM133.7 52.9h0.9v0.9h-0.9zM135.4 49.6h0.9v0.9h-0.9zM138.6 44.3h0.9v0.9h-0.9zM133.2 55.0h0.9v0.9h-0.9zM138.1 51.1h0.9v0.9h-0.9zM136.3 51.4h0.9v0.9h-0.9zM137.1 66.1h0.9v0.9h-0.9zM132.3 57.8h0.9v0.9h-0.9zM130.1 61.2h0.9v0.9h-0.9zM139.2 55.2h0.9v0.9h-0.9zM129.2 57.6h0.9v0.9h-0.9zM138.9 62.0h0.9v0.9h-0.9zM137.5 43.3h0.9v0.9h-0.9zM131.1 64.1h0.9v0.9h-0.9zM128.8 62.2h0.9v0.9h-0.9zM142.0 59.9h0.9v0.9h-0.9zM138.8 52.9h0.9v0.9h-0.9zM128.8 54.3h0.9v0.9h-0.9zM133.2 54.7h0.9v0.9h-0.9zM137.0 54.1h0.9v0.9h-0.9zM134.8 57.7h0.9v0.9h-0.9zM134.0 66.8h0.9v0.9h-0.9zM135.9 55.5h0.9v0.9h-0.9zM133.1 51.0h0.9v0.9h-0.9zM139.7 56.0h0.9v0.9h-0.9z" fill="#444" fill-opacity="0.279" filter="url(#soft)"/>
<path d="M127.8 43.4h0.9v0.9h-0.9zM139.2 57.8h0.9v0.9h-0.9zM136.1 55.8h0.9v0.9h-0.9zM136.1 47.2h0.9v0.9h-0.9zM138.0 51.6h0.9v0.9h-0.9zM138.2 55.6h0.9v0.9h-0.9zM125.6 46.8h0.9v0.9h-0.9zM138.8 54.1h0.9v0.9h-0.9zM132.3 56.5h0.9v0.9h-0.9zM132.2 51.5h0.9v0.9h-0.9zM134.4 55.9h0.9v0.9h-0.9zM140.5 55.3h0.9v0.9h-0.9zM142.0 66.5h0.9v0.9h-0.9zM141.3 61.8h0.9v0.9h-0.9zM134.6 55.9h0.9v0.9h-0.9zM133.4 50.3h0.9v0.9h-0.9zM133.7 50.9h0.9v0.9h-0.9zM141.0 58.4h0.9v0.9h-0.9zM132.1 42.8h0.9v0.9h-0.9zM133.8 52.3h0.9v0.9h-0.9zM129.4 47.7h0.9v0.9h-0.9zM124.4 58.6h0.9v0.9h-0.9zM133.7 71.5h0.9v0.9h-0.9zM133.9 54.1h0.9v0.9h-0.9zM140.1 55.9h0.9v0.9h-0.9zM134.7 52.6h0.9v0.9h-0.9zM131.4 64.6h0.9v0.9h-0.9zM138.3 65.9h0.9v0.9h-0.9zM132.5 55.2h0.9v0.9h-0.9zM130.3 61.2h0.9v0.9h-0.9zM128.1 58.6h0.9v0.9h-0.9zM138.7 64.0h0.9v0.9h-0.9zM130.0 62.0h0.9v0.9h-0.9zM131.0 50.2h0.9v0.9h-0.9zM128.4 62.4h0.9v0.9h-0.9zM141.0 51.2h0.9v0.9h-0.9zM130.8 52.8h0.9v0.9h-0.9zM144.7 61.4h0.9v0.9h-0.9zM131.7 43.6h0.9v0.9h-0.9zM131.1 62.6h0.9v0.9h-0.9zM141.9 53.3h0.9v0.9h-0.9zM131.1 51.7h0.9v0.9h-0.9zM126.0 60.8h0.9v0.9h-0.9zM129.4 61.8h0.9v0.9h-0.9zM126.7 46.9h0.9v0.9h-0.9zM135.2 50.1h0.9v0.9h-0.9zM137.3 55.1h0.9v0.9h-0.9zM129.0 59.0h0.9v0.9h-0.9zM137.6 42.8h0.9v0.9h-0.9zM141.8 58.2h0.9v0.9h-0.9zM137.2 43.1h0.9v0.9h-0.9zM130.9 52.8h0.9v0.9h-0.9zM138.6 45.7h0.9v0.9h-0.9zM130.2 42.1h0.9v0.9h-0.9zM133.0 57.2h0.9v0.9h-0.9zM126.8 51.2h0.9v0.9h-0.9zM136.2 65.1h0.9v0.9h-0.9zM136.8 53.1h0.9v0.9h-0.9zM129.0 49.0h0.9v0.9h-0.9zM131.2 55.9h0.9v0.9h-0.9zM133.8 65.6h0.9v0.9h-0.9zM135.2 48.2h0.9v0.9h-0.9zM140.6 61.1h0.9v0.9h-0.9zM134.4 50.4h0.9v0.9h-0.9zM126.0 48.5h0.9v0.9h-0.9zM137.9 49.9h0.9v0.9h-0.9zM128.4 56.2h0.9v0.9h-0.9zM135.0 58.9h0.9v0.9h-0.9zM136.8 64.0h0.9v0.9h-0.9zM130.4 61.2h0.9v0.9h-0.9zM129.8 59.4h0.9v0.9h-0.9zM134.8 56.6h0.9v0.9h-0.9zM138.1 54.9h0.9v0.9h-0.9zM138.7 60.6h0.9v0.9h-0.9zM134.6 51.4h0.9v0.9h-0.9zM130.8 51.6h0.9v0.9h-0.9zM133.1 54.8h0.9v0.9h-0.9zM146.7 59.1h0.9v0.9h-0.9zM137.3 49.5h0.9v0.9h-0.9zM131.0 53.0h0.9v0.9h-0.9zM134.8 48.4h0.9v0.9h-0.9zM140.9 51.4h0.9v0.9h-0.9zM138.6 40.1h0.9v0.9h-0.9zM134.0 56.8h0.9v0.9h-0.9zM134.8 58.8h0.9v0.9h-0.9zM135.2 56.0h0.9v0.9h-0.9zM125.9 50.4h0.9v0.9h-0.9zM124.0 59.0h0.9v0.9h-0.9zM135.3 53.8h0.9v0.9h-0.9zM130.5 51.3h0.9v0.9h-0.9zM141.9 66.0h0.9v0.9h-0.9zM133.8 63.2h0.9v0.9h-0.9zM127.2 42.7h0.9v0.9h-0.9zM131.9 49.4h0.9v0.9h-0.9zM131.6 56.2h0.9v0.9h-0.9zM146.9 50.8h0.9v0.9h-0.9zM134.2 56.8h0.9v0.9h-0.9zM133.9 60.9h0.9v0.9h-0.9zM141.6 47.1h0.9v0.9h-0.9zM134.7 53.3h0.9v0.9h-0.9zM135.5 45.2h0.9v0.9h-0.9zM126.5 40.2h0.9v0.9h-0.9zM136.2 56.2h0.9v0.9h-0.9zM134.3 39.9h0.9v0.9h-0.9zM132.4 50.2h0.9v0.9h-0.9zM128.0 49.2h0.9v0.9h-0.9zM137.0 58.5h0.9v0.9h-0.9zM133.9 58.3h0.9v0.9h-0.9zM131.4 55.5h0.9v0.9h-0.9zM134.2 58.5h0.9v0.9h-0.9zM133.7 54.1h0.9v0.9h-0.9zM133.4 50.9h0.9v0.9h-0.9zM143.5 58.3h0.9v0.9h-0.9zM135.8 69.6h0.9v0.9h-0.9zM140.0 45.1h0.9v0.9h-0.9zM137.0 60.3h0.9v0.9h-0.9zM142.0 63.4h0.9v0.9h-0.9zM137.3 47.5h0.9v0.9h-0.9zM130.3 56.7h0.9v0.9h-0.9zM136.1 48.5h0.9v0.9h-0.9zM132.4 52.4h0.9v0.9h-0.9zM134.3 57.1h0.9v0.9h-0.9zM132.8 47.1h0.9v0.9h-0.9zM139.3 65.2h0.9v0.9h-0.9zM133.5 61.5h0.9v0.9h-0.9zM135.9 59.2h0.9v0.9h-0.9zM136.0 50.1h0.9v0.9h-0.9zM136.4 61.4h0.9v0.9h-0.9zM130.2 67.5h0.9v0.9h-0.9zM142.9 66.6h0.9v0.9h-0.9zM142.5 59.7h0.9v0.9h-0.9zM132.6 51.2h0.9v0.9h-0.9zM130.5 55.7h0.9v0.9h-0.9zM133.9 59.3h0.9v0.9h-0.9zM125.4 69.8h0.9v0.9h-0.9zM143.7 54.8h0.9v0.9h-0.9zM136.9 58.0h0.9v0.9h-0.9zM135.2 53.7h0.9v0.9h-0.9zM133.5 49.7h0.9v0.9h-0.9zM134.8 54.8h0.9v0.9h-0.9zM135.4 49.5h0.9v0.9h-0.9zM134.2 55.3h0.9v0.9h-0.9zM136.6 48.2h0.9v0.9h-0.9zM135.8 61.3h0.9v0.9h-0.9zM136.5 52.6h0.9v0.9h-0.9zM131.9 53.5h0.9v0.9h-0.9zM137.1 64.9h0.9v0.9h-0.9zM133.3 50.9h0.9v0.9h-0.9zM135.6 56.3h0.9v0.9h-0.9zM130.1 50.3h0.9v0.9h-0.9zM133.6 59.3h0.9v0.9h-0.9zM128.9 48.5h0.9v0.9h-0.9zM136.1 47.2h0.9v0.9h-0.9zM134.5 57.2h0.9v0.9h-0.9zM133.5 48.5h0.9v0.9h-0.9zM133.7 52.9h0.9v0.9h-0.9zM135.4 49.6h0.9v0.9h-0.9zM138.6 44.3h0.9v0.9h-0.9zM133.2 55.0h0.9v0.9h-0.9zM138.1 51.1h0.9v0.9h-0.9zM136.3 51.4h0.9v0.9h-0.9zM137.1 66.1h0.9v0.9h-0.9zM132.3 57.8h0.9v0.9h-0.9zM130.1 61.2h0.9v0.9h-0.9zM139.2 55.2h0.9v0.9h-0.9zM129.2 57.6h0.9v0.9h-0.9zM138.9 62.0h0.9v0.9h-0.9zM137.5 43.3h0.9v0.9h-0.9zM131.1 64.1h0.9v0.9h-0.9zM128.8 62.2h0.9v0.9h-0.9zM142.0 59.9h0.9v0.9h-0.9zM138.8 52.9h0.9v0.9h-0.9zM128.8 54.3h0.9v0.9h-0.9zM133.2 54.7h0.9v0.9h-0.9zM137.0 54.1h0.9v0.9h-0.9zM134.8 57.7h0.9v0.9h-0.9zM134.0 66.8h0.9v0.9h-0.9zM135.9 55.5h0.9v0.9h-0.9zM133.1 51.0h0.9v0.9h-0.9zM139.7 56.0h0.9v0.9h-0.9z" fill="#444" fill-opacity="0.279"/>
<path d="M159.9 51.9h0.9v0.9h-0.9zM163.5 52.7h0.9v0.9h-0.9zM168.1 48.1h0.9v0.9h-0.9zM165.9 56.4h0.9v0.9h-0.9zM159.5 55.8h0.9v0.9h-0.9zM163.6 58.7h0.9v0.9h-0.9zM162.3 57.4h0.9v0.9h-0.9zM157.7 48.6h0.9v0.9h-0.9zM167.0 62.1h0.9v0.9h-0.9zM164.0 51.7h0.9v0.9h-0.9zM168.1 42.2h0.9v0.9h-0.9zM161.0 59.8h0.9v0.9h-0.9zM166.5 48.9h0.9v0.9h-0.9zM156.8 64.8h0.9v0.9h-0.9zM164.6 49.8h0.9v0.9h-0.9zM164.2 61.3h0.9v0.9h-0.9zM154.1 62.6h0.9v0.9h-0.9zM166.8 42.2h0.9v0.9h-0.9zM166.9 44.1h0.9v0.9h-0.9zM168.3 58.0h0.9v0.9h-0.9zM172.6 51.6h0.9v0.9h-0.9zM164.0 62.2h0.9v0.9h-0.9zM161.6 51.0h0.9v0.9h-0.9zM162.6 55.0h0.9v0.9h-0.9zM159.9 58.6h0.9v0.9h-0.9zM166.1 56.0h0.9v0.9h-0.9zM170.5 53.4h0.9v0.9h-0.9zM169.0 52.0h0.9v0.9h-0.9zM166.9 43.2h0.9v0.9h-0.9zM164.8 54.4h0.9v0.9h-0.9zM162.1 51.6h0.9v0.9h-0.9zM162.7 50.9h0.9v0.9h-0.9zM155.6 51.7h0.9v0.9h-0.9zM161.9 52.2h0.9v0.9h-0.9zM160.0 54.6h0.9v0.9h-0.9zM167.0 53.9h0.9v0.9h-0.9zM162.1 64.2h0.9v0.9h-0.9zM167.7 61.4h0.9v0.9h-0.9zM168.4 53.4h0.9v0.9h-0.9zM163.5 62.6h0.9v0.9h-0.9zM161.9 54.7h0.9v0.9h-0.9zM165.4 57.9h0.9v0.9h-0.9zM162.9 61.8h0.9v0.9h-0.9zM163.3 60.1h0.9v0.9h-0.9zM168.1 59.7h0.9v0.9h-0.9zM166.8 48.1h0.9v0.9h-0.9zM159.0 51.6h0.9v0.9h-0.9zM165.8 65.1h0.9v0.9h-0.9zM159.3 57.5h0.9v0.9h-0.9zM160.7 50.8h0.9v0.9h-0.9zM162.9 59.9h0.9v0.9h-0.9zM164.8 63.0h0.9v0.9h-0.9zM160.2 61.2h0.9v0.9h-0.9zM167.5 55.9h0.9v0.9h-0.9zM165.8 51.9h0.9v0.9h-0.9zM159.8 52.9h0.9v0.9h-0.9zM161.6 73.9h0.9v0.9h-0.9zM162.2 66.0h0.9v0.9h-0.9zM164.8 57.5h0.9v0.9h-0.9zM166.8 50.5h0.9v0.9h-0.9zM167.5 57.9h0.9v0.9h-0.9zM158.2 59.3h0.9v0.9h-0.9zM166.1 58.4h0.9v0.9h-0.9zM170.0 52.9h0.9v0.9h-0.9zM165.9 60.3h0.9v0.9h-0.9zM160.6 63.2h0.9v0.9h-0.9zM158.5 47.2h0.9v0.9h-0.9zM166.0 48.6h0.9v0.9h-0.9zM163.6 45.0h0.9v0.9h-0.9zM164.3 48.3h0.9v0.9h-0.9zM165.3 45.7h0.9v0.9h-0.9zM165.7 53.8h0.9v0.9h-0.9zM164.2 55.1h0.9v0.9h-0.9zM164.5 47.1h0.9v0.9h-0.9zM154.2 55.7h0.9v0.9h-0.9zM160.4 52.6h0.9v0.9h-0.9zM165.6 42.8h0.9v0.9h-0.9zM161.1 51.6h0.9v0.9h-0.9zM160.0 57.6h0.9v0.9h-0.9zM163.5 50.3h0.9v0.9h-0.9zM160.3 60.7h0.9v0.9h-0.9zM161.5 59.2h0.9v0.9h-0.9zM165.7 43.4h0.9v0.9h-0.9zM159.9 55.5h0.9v0.9h-0.9zM165.3 60.5h0.9v0.9h-0.9zM167.1 62.1h0.9v0.9h-0.9zM162.6 54.2h0.9v0.9h-0.9zM167.0 52.8h0.9v0.9h-0.9zM168.0 45.4h0.9v0.9h-0.9zM166.5 54.4h0.9v0.9h-0.9zM156.5 61.8h0.9v0.9h-0.9zM165.2 55.6h0.9v0.9h-0.9zM159.9 52.5h0.9v0.9h-0.9zM169.8 50.2h0.9v0.9h-0.9zM150.8 50.0h0.9v0.9h-0.9zM159.4 54.7h0.9v0.9h-0.9zM162.5 49.7h0.9v0.9h-0.9zM160.8 62.2h0.9v0.9h-0.9zM158.5 68.0h0.9v0.9h-0.9zM161.9 48.5h0.9v0.9h-0.9zM167.0 59.1h0.9v0.9h-0.9zM160.0 60.3h0.9v0.9h-0.9zM157.0 49.6h0.9v0.9h-0.9zM168.3 53.9h0.9v0.9h-0.9zM159.0 58.8h0.9v0.9h-0.9zM167.5 55.4h0.9v0.9h-0.9zM157.1 53.3h0.9v0.9h-0.9zM165.6 60.4h0.9v0.9h-0.9zM171.1 53.9h0.9v0.9h-0.9zM162.2 55.3h0.9v0.9h-0.9zM168.6 49.5h0.9v0.9h-0.9zM169.0 38.0h0.9v0.9h-0.9zM167.0 51.2h0.9v0.9h-0.9zM165.7 59.9h0.9v0.9h-0.9zM159.5 54.9h0.9v0.9h-0.9zM164.9 59.2h0.9v0.9h-0.9zM160.5 49.2h0.9v0.9h-0.9zM156.7 71.7h0.9v0.9h-0.9zM163.3 54.1h0.9v0.9h-0.9zM158.3 61.4h0.9v0.9h-0.9zM162.0 64.7h0.9v0.9h-0.9zM167.2 55.6h0.9v0.9h-0.9zM166.8 48.4h0.9v0.9h-0.9zM162.8 51.8h0.9v0.9h-0.9zM159.2 55.6h0.9v0.9h-0.9zM163.4 64.7h0.9v0.9h-0.9zM151.2 51.2h0.9v0.9h-0.9zM160.5 52.5h0.9v0.9h-0.9zM165.6 58.1h0.9v0.9h-0.9zM164.1 52.5h0.9v0.9h-0.9zM165.9 57.8h0.9v0.9h-0.9zM157.0 53.8h0.9v0.9h-0.9zM158.8 48.0h0.9v0.9h-0.9zM164.6 55.9h0.9v0.9h-0.9zM164.4 49.9h0.9v0.9h-0.9zM163.2 49.7h0.9v0.9h-0.9zM165.5 59.9h0.9v0.9h-0.9zM170.7 63.6h0.9v0.9h-0.9zM160.9 52.6h0.9v0.9h-0.9zM160.4 57.5h0.9v0.9h-0.9zM171.5 60.0h0.9v0.9h-0.9zM155.6 47.5h0.9v0.9h-0.9zM159.1 58.8h0.9v0.9h-0.9zM164.0 57.4h0.9v0.9h-0.9zM170.8 50.2h0.9v0.9h-0.9zM160.8 68.0h0.9v0.9h-0.9zM165.3 50.5h0.9v0.9h-0.9zM156.3 45.8h0.9v0.9h-0.9zM154.7 55.9h0.9v0.9h-0.9zM164.2 61.8h0.9v0.9h-0.9zM163.5 51.1h0.9v0.9h-0.9zM161.2 67.6h0.9v0.9h-0.9zM157.3 56.6h0.9v0.9h-0.9zM164.1 59.4h0.9v0.9h-0.9zM162.5 58.7h0.9v0.9h-0.9zM167.1 54.6h0.9v0.9h-0.9zM162.3 54.3h0.9v0.9h-0.9zM160.3 54.2h0.9v0.9h-0.9zM162.9 56.8h0.9v0.9h-0.9zM169.1 63.8h0.9v0.9h-0.9zM162.3 59.3h0.9v0.9h-0.9zM165.1 60.4h0.9v0.9h-0.9zM164.1 57.2h0.9v0.9h-0.9zM162.2 50.5h0.9v0.9h-0.9zM167.3 63.8h0.9v0.9h-0.9zM166.5 58.3h0.9v0.9h-0.9zM165.0 52.6h0.9v0.9h-0.9zM157.2 59.7h0.9v0.9h-0.9zM164.8 52.0h0.9v0.9h-0.9zM160.3 63.7h0.9v0.9h-0.9z" fill="#444" fill-opacity="0.279" filter="url(#soft)"/>
<path d="M159.9 51.9h0.9v0.9h-0.9zM163.5 52.7h0.9v0.9h-0.9zM168.1 48.1h0.9v0.9h-0.9zM165.9 56.4h0.9v0.9h-0.9zM159.5 55.8h0.9v0.9h-0.9zM163.6 58.7h0.9v0.9h-0.9zM162.3 57.4h0.9v0.9h-0.9zM157.7 48.6h0.9v0.9h-0.9zM167.0 62.1h0.9v0.9h-0.9zM164.0 51.7h0.9v0.9h-0.9zM168.1 42.2h0.9v0.9h-0.9zM161.0 59.8h0.9v0.9h-0.9zM166.5 48.9h0.9v0.9h-0.9zM156.8 64.8h0.9v0.9h-0.9zM164.6 49.8h0.9v0.9h-0.9zM164.2 61.3h0.9v0.9h-0.9zM154.1 62.6h0.9v0.9h-0.9zM166.8 42.2h0.9v0.9h-0.9zM166.9 44.1h0.9v0.9h-0.9zM168.3 58.0h0.9v0.9h-0.9zM172.6 51.6h0.9v0.9h-0.9zM164.0 62.2h0.9v0.9h-0.9zM161.6 51.0h0.9v0.9h-0.9zM162.6 55.0h0.9v0.9h-0.9zM159.9 58.6h0.9v0.9h-0.9zM166.1 56.0h0.9v0.9h-0.9zM170.5 53.4h0.9v0.9h-0.9zM169.0 52.0h0.9v0.9h-0.9zM166.9 43.2h0.9v0.9h-0.9zM164.8 54.4h0.9v0.9h-0.9zM162.1 51.6h0.9v0.9h-0.9zM162.7 50.9h0.9v0.9h-0.9zM155.6 51.7h0.9v0.9h-0.9zM161.9 52.2h0.9v0.9h-0.9zM160.0 54.6h0.9v0.9h-0.9zM167.0 53.9h0.9v0.9h-0.9zM162.1 64.2h0.9v0.9h-0.9zM167.7 61.4h0.9v0.9h-0.9zM168.4 53.4h0.9v0.9h-0.9zM163.5 62.6h0.9v0.9h-0.9zM161.9 54.7h0.9v0.9h-0.9zM165.4 57.9h0.9v0.9h-0.9zM162.9 61.8h0.9v0.9h-0.9zM163.3 60.1h0.9v0.9h-0.9zM168.1 59.7h0.9v0.9h-0.9zM166.8 48.1h0.9v0.9h-0.9zM159.0 51.6h0.9v0.9h-0.9zM165.8 65.1h0.9v0.9h-0.9zM159.3 57.5h0.9v0.9h-0.9zM160.7 50.8h0.9v0.9h-0.9zM162.9 59.9h0.9v0.9h-0.9zM164.8 63.0h0.9v0.9h-0.9zM160.2 61.2h0.9v0.9h-0.9zM167.5 55.9h0.9v0.9h-0.9zM165.8 51.9h0.9v0.9h-0.9zM159.8 52.9h0.9v0.9h-0.9zM161.6 73.9h0.9v0.9h-0.9zM162.2 66.0h0.9v0.9h-0.9zM164.8 57.5h0.9v0.9h-0.9zM166.8 50.5h0.9v0.9h-0.9zM167.5 57.9h0.9v0.9h-0.9zM158.2 59.3h0.9v0.9h-0.9zM166.1 58.4h0.9v0.9h-0.9zM170.0 52.9h0.9v0.9h-0.9zM165.9 60.3h0.9v0.9h-0.9zM160.6 63.2h0.9v0.9h-0.9zM158.5 47.2h0.9v0.9h-0.9zM166.0 48.6h0.9v0.9h-0.9zM163.6 45.0h0.9v0.9h-0.9zM164.3 48.3h0.9v0.9h-0.9zM165.3 45.7h0.9v0.9h-0.9zM165.7 53.8h0.9v0.9h-0.9zM164.2 55.1h0.9v0.9h-0.9zM164.5 47.1h0.9v0.9h-0.9zM154.2 55.7h0.9v0.9h-0.9zM160.4 52.6h0.9v0.9h-0.9zM165.6 42.8h0.9v0.9h-0.9zM161.1 51.6h0.9v0.9h-0.9zM160.0 57.6h0.9v0.9h-0.9zM163.5 50.3h0.9v0.9h-0.9zM160.3 60.7h0.9v0.9h-0.9zM161.5 59.2h0.9v0.9h-0.9zM165.7 43.4h0.9v0.9h-0.9zM159.9 55.5h0.9v0.9h-0.9zM165.3 60.5h0.9v0.9h-0.9zM167.1 62.1h0.9v0.9h-0.9zM162.6 54.2h0.9v0.9h-0.9zM167.0 52.8h0.9v0.9h-0.9zM168.0 45.4h0.9v0.9h-0.9zM166.5 54.4h0.9v0.9h-0.9zM156.5 61.8h0.9v0.9h-0.9zM165.2 55.6h0.9v0.9h-0.9zM159.9 52.5h0.9v0.9h-0.9zM169.8 50.2h0.9v0.9h-0.9zM150.8 50.0h0.9v0.9h-0.9zM159.4 54.7h0.9v0.9h-0.9zM162.5 49.7h0.9v0.9h-0.9zM160.8 62.2h0.9v0.9h-0.9zM158.5 68.0h0.9v0.9h-0.9zM161.9 48.5h0.9v0.9h-0.9zM167.0 59.1h0.9v0.9h-0.9zM160.0 60.3h0.9v0.9h-0.9zM157.0 49.6h0.9v0.9h-0.9zM168.3 53.9h0.9v0.9h-0.9zM159.0 58.8h0.9v0.9h-0.9zM167.5 55.4h0.9v0.9h-0.9zM157.1 53.3h0.9v0.9h-0.9zM165.6 60.4h0.9v0.9h-0.9zM171.1 53.9h0.9v0.9h-0.9zM162.2 55.3h0.9v0.9h-0.9zM168.6 49.5h0.9v0.9h-0.9zM169.0 38.0h0.9v0.9h-0.9zM167.0 51.2h0.9v0.9h-0.9zM165.7 59.9h0.9v0.9h-0.9zM159.5 54.9h0.9v0.9h-0.9zM164.9 59.2h0.9v0.9h-0.9zM160.5 49.2h0.9v0.9h-0.9zM156.7 71.7h0.9v0.9h-0.9zM163.3 54.1h0.9v0.9h-0.9zM158.3 61.4h0.9v0.9h-0.9zM162.0 64.7h0.9v0.9h-0.9zM167.2 55.6h0.9v0.9h-0.9zM166.8 48.4h0.9v0.9h-0.9zM162.8 51.8h0.9v0.9h-0.9zM159.2 55.6h0.9v0.9h-0.9zM163.4 64.7h0.9v0.9h-0.9zM151.2 51.2h0.9v0.9h-0.9zM160.5 52.5h0.9v0.9h-0.9zM165.6 58.1h0.9v0.9h-0.9zM164.1 52.5h0.9v0.9h-0.9zM165.9 57.8h0.9v0.9h-0.9zM157.0 53.8h0.9v0.9h-0.9zM158.8 48.0h0.9v0.9h-0.9zM164.6 55.9h0.9v0.9h-0.9zM164.4 49.9h0.9v0.9h-0.9zM163.2 49.7h0.9v0.9h-0.9zM165.5 59.9h0.9v0.9h-0.9zM170.7 63.6h0.9v0.9h-0.9zM160.9 52.6h0.9v0.9h-0.9zM160.4 57.5h0.9v0.9h-0.9zM171.5 60.0h0.9v0.9h-0.9zM155.6 47.5h0.9v0.9h-0.9zM159.1 58.8h0.9v0.9h-0.9zM164.0 57.4h0.9v0.9h-0.9zM170.8 50.2h0.9v0.9h-0.9zM160.8 68.0h0.9v0.9h-0.9zM165.3 50.5h0.9v0.9h-0.9zM156.3 45.8h0.9v0.9h-0.9zM154.7 55.9h0.9v0.9h-0.9zM164.2 61.8h0.9v0.9h-0.9zM163.5 51.1h0.9v0.9h-0.9zM161.2 67.6h0.9v0.9h-0.9zM157.3 56.6h0.9v0.9h-0.9zM164.1 59.4h0.9v0.9h-0.9zM162.5 58.7h0.9v0.9h-0.9zM167.1 54.6h0.9v0.9h-0.9zM162.3 54.3h0.9v0.9h-0.9zM160.3 54.2h0.9v0.9h-0.9zM162.9 56.8h0.9v0.9h-0.9zM169.1 63.8h0.9v0.9h-0.9zM162.3 59.3h0.9v0.9h-0.9zM165.1 60.4h0.9v0.9h-0.9zM164.1 57.2h0.9v0.9h-0.9zM162.2 50.5h0.9v0.9h-0.9zM167.3 63.8h0.9v0.9h-0.9zM166.5 58.3h0.9v0.9h-0.9zM165.0 52.6h0.9v0.9h-0.9zM157.2 59.7h0.9v0.9h-0.9zM164.8 52.0h0.9v0.9h-0.9zM160.3 63.7h0.9v0.9h-0.9z" fill="#444" fill-opacity="0.279"/>
<path d="M125.5 85.9h0.9v0.9h-0.9zM138.7 83.0h0.9v0.9h-0.9zM129.3 78.8h0.9v0.9h-0.9zM130.5 78.9h0.9v0.9h-0.9zM131.1 75.8h0.9v0.9h-0.9zM137.7 73.3h0.9v0.9h-0.9zM130.9 80.0h0.9v0.9h-0.9zM129.8 77.3h0.9v0.9h-0.9zM134.5 75.8h0.9v0.9h-0.9zM126.5 79.6h0.9v0.9h-0.9zM133.6 82.7h0.9v0.9h-0.9zM128.3 82.3h0.9v0.9h-0.9zM128.6 78.0h0.9v0.9h-0.9zM131.6 78.9h0.9v0.9h-0.9zM139.3 80.8h0.9v0.9h-0.9zM131.1 82.4h0.9v0.9h-0.9zM139.0 77.9h0.9v0.9h-0.9zM130.0 81.5h0.9v0.9h-0.9zM132.8 78.7h0.9v0.9h-0.9zM132.3 79.9h0.9v0.9h-0.9zM139.9 78.6h0.9v0.9h-0.9zM133.0 80.7h0.9v0.9h-0.9zM139.5 72.1h0.9v0.9h-0.9zM139.2 71.0h0.9v0.9h-0.9zM136.4 78.2h0.9v0.9h-0.9zM140.9 75.5h0.9v0.9h-0.9zM129.7 76.2h0.9v0.9h-0.9zM127.3 82.0h0.9v0.9h-0.9zM131.0 75.9h0.9v0.9h-0.9zM135.0 74.3h0.9v0.9h-0.9zM130.3 77.0h0.9v0.9h-0.9zM143.1 78.5h0.9v0.9h-0.9zM130.6 73.4h0.9v0.9h-0.9zM134.5 77.2h0.9v0.9h-0.9zM135.4 78.4h0.9v0.9h-0.9zM132.3 80.7h0.9v0.9h-0.9zM137.5 76.5h0.9v0.9h-0.9zM130.4 76.9h0.9v0.9h-0.9zM135.4 73.1h0.9v0.9h-0.9zM131.4 75.7h0.9v0.9h-0.9zM126.4 81.8h0.9v0.9h-0.9zM132.9 77.6h0.9v0.9h-0.9zM136.0 71.6h0.9v0.9h-0.9zM133.0 78.4h0.9v0.9h-0.9zM136.2 72.9h0.9v0.9h-0.9zM136.9 76.8h0.9v0.9h-0.9zM141.2 78.2h0.9v0.9h-0.9zM138.0 82.5h0.9v0.9h-0.9zM132.6 76.3h0.9v0.9h-0.9zM130.3 75.5h0.9v0.9h-0.9zM130.9 72.3h0.9v0.9h-0.9zM133.0 78.9h0.9v0.9h-0.9zM137.8 74.7h0.9v0.9h-0.9zM139.5 73.0h0.9v0.9h-0.9zM130.4 72.5h0.9v0.9h-0.9zM128.3 76.7h0.9v0.9h-0.9zM141.1 76.2h0.9v0.9h-0.9zM128.0 81.0h0.9v0.9h-0.9zM135.2 76.0h0.9v0.9h-0.9zM132.8 76.6h0.9v0.9h-0.9zM128.5 73.6h0.9v0.9h-0.9zM133.8 81.2h0.9v0.9h-0.9zM139.9 74.1h0.9v0.9h-0.9zM129.0 78.3h0.9v0.9h-0.9zM137.9 76.8h0.9v0.9h-0.9zM130.4 79.6h0.9v0.9h-0.9zM132.5 79.3h0.9v0.9h-0.9zM129.5 74.2h0.9v0.9h-0.9zM134.1 79.5h0.9v0.9h-0.9zM127.3 79.2h0.9v0.9h-0.9zM137.0 74.9h0.9v0.9h-0.9zM131.8 84.3h0.9v0.9h-0.9zM138.2 78.8h0.9v0.9h-0.9zM129.9 83.7h0.9v0.9h-0.9zM124.1 79.1h0.9v0.9h-0.9zM138.1 79.8h0.9v0.9h-0.9zM127.7 77.4h0.9v0.9h-0.9zM132.1 71.9h0.9v0.9h-0.9zM136.8 77.9h0.9v0.9h-0.9zM131.3 79.8h0.9v0.9h-0.9zM137.2 76.9h0.9v0.9h-0.9zM137.1 80.7h0.9v0.9h-0.9zM130.8 78.8h0.9v0.9h-0.9zM131.4 81.3h0.9v0.9h-0.9zM131.4 79.5h0.9v0.9h-0.9zM133.8 77.4h0.9v0.9h-0.9zM141.5 74.1h0.9v0.9h-0.9zM140.9 77.2h0.9v0.9h-0.9zM139.4 74.6h0.9v0.9h-0.9zM138.4 77.9h0.9v0.9h-0.9zM130.2 79.4h0.9v0.9h-0.9zM132.3 77.6h0.9v0.9h-0.9zM138.8 73.2h0.9v0.9h-0.9zM122.9 75.8h0.9v0.9h-0.9zM130.1 76.6h0.9v0.9h-0.9zM133.6 79.0h0.9v0.9h-0.9zM142.1 75.1h0.9v0.9h-0.9zM134.6 74.7h0.9v0.9h-0.9zM137.2 80.1h0.9v0.9h-0.9zM137.7 69.7h0.9v0.9h-0.9zM139.0 80.2h0.9v0.9h-0.9zM135.6 71.9h0.9v0.9h-0.9zM132.1 79.7h0.9v0.9h-0.9zM134.3 74.5h0.9v0.9h-0.9zM129.5 81.7h0.9v0.9h-0.9zM127.8 83.8h0.9v0.9h-0.9zM133.4 78.3h0.9v0.9h-0.9zM125.8 78.3h0.9v0.9h-0.9zM135.0 72.3h0.9v0.9h-0.9zM141.9 69.9h0.9v0.9h-0.9zM127.0 79.8h0.9v0.9h-0.9zM136.1 78.6h0.9v0.9h-0.9zM131.0 77.6h0.9v0.9h-0.9zM131.3 76.4h0.9v0.9h-0.9zM121.1 84.8h0.9v0.9h-0.9zM134.4 77.5h0.9v0.9h-0.9zM130.1 79.3h0.9v0.9h-0.9zM132.9 77.3h0.9v0.9h-0.9zM136.8 70.8h0.9v0.9h-0.9zM133.2 74.2h0.9v0.9h-0.9zM132.9 82.1h0.9v0.9h-0.9zM127.5 79.2h0.9v0.9h-0.9zM131.0 81.1h0.9v0.9h-0.9zM126.5 74.7h0.9v0.9h-0.9zM135.2 75.6h0.9v0.9h-0.9zM132.5 81.0h0.9v0.9h-0.9zM128.2 78.1h0.9v0.9h-0.9zM134.1 78.4h0.9v0.9h-0.9zM131.5 81.2h0.9v0.9h-0.9zM143.7 72.3h0.9v0.9h-0.9zM140.2 68.4h0.9v0.9h-0.9zM139.6 74.0h0.9v0.9h-0.9zM133.3 76.3h0.9v0.9h-0.9zM128.6 75.2h0.9v0.9h-0.9zM132.3 81.7h0.9v0.9h-0.9zM138.3 74.5h0.9v0.9h-0.9zM129.7 76.6h0.9v0.9h-0.9zM128.8 84.6h0.9v0.9h-0.9zM136.4 76.6h0.9v0.9h-0.9zM129.6 75.6h0.9v0.9h-0.9zM140.3 77.2h0.9v0.9h-0.9zM129.3 81.9h0.9v0.9h-0.9zM128.1 81.2h0.9v0.9h-0.9zM127.8 78.1h0.9v0.9h-0.9zM135.9 77.8h0.9v0.9h-0.9zM137.2 73.4h0.9v0.9h-0.9zM142.2 78.3h0.9v0.9h-0.9zM133.4 78.8h0.9v0.9h-0.9zM129.0 78.5h0.9v0.9h-0.9zM126.5 80.1h0.9v0.9h-0.9zM135.3 80.8h0.9v0.9h-0.9zM138.5 78.0h0.9v0.9h-0.9zM131.0 77.5h0.9v0.9h-0.9zM131.5 78.7h0.9v0.9h-0.9zM124.2 83.1h0.9v0.9h-0.9zM124.7 78.9h0.9v0.9h-0.9zM132.6 76.1h0.9v0.9h-0.9zM141.2 74.2h0.9v0.9h-0.9zM142.0 77.8h0.9v0.9h-0.9zM130.9 79.5h0.9v0.9h-0.9zM139.1 74.2h0.9v0.9h-0.9zM132.9 75.8h0.9v0.9h-0.9zM132.9 76.4h0.9v0.9h-0.9zM134.4 80.1h0.9v0.9h-0.9zM140.0 75.3h0.9v0.9h-0.9zM134.8 79.5h0.9v0.9h-0.9zM130.5 75.2h0.9v0.9h-0.9zM137.6 73.0h0.9v0.9h-0.9zM136.7 73.2h0.9v0.9h-0.9zM141.0 71.4h0.9v0.9h-0.9zM138.7 80.0h0.9v0.9h-0.9zM129.7 83.3h0.9v0.9h-0.9zM127.2 74.2h0.9v0.9h-0.9zM137.3 78.1h0.9v0.9h-0.9zM129.5 71.0h0.9v0.9h-0.9zM132.4 76.8h0.9v0.9h-0.9zM130.8 77.4h0.9v0.9h-0.9zM123.6 79.2h0.9v0.9h-0.9zM143.5 78.4h0.9v0.9h-0.9zM130.5 76.2h0.9v0.9h-0.9zM136.0 79.7h0.9v0.9h-0.9zM135.4 73.0h0.9v0.9h-0.9zM133.9 77.6h0.9v0.9h-0.9zM141.3 78.1h0.9v0.9h-0.9zM136.8 79.8h0.9v0.9h-0.9zM132.6 82.4h0.9v0.9h-0.9zM131.3 79.3h0.9v0.9h-0.9zM136.7 73.4h0.9v0.9h-0.9zM127.8 74.0h0.9v0.9h-0.9zM133.8 77.1h0.9v0.9h-0.9zM131.9 79.4h0.9v0.9h-0.9zM122.5 81.3h0.9v0.9h-0.9zM133.2 76.6h0.9v0.9h-0.9zM138.7 80.8h0.9v0.9h-0.9zM129.9 75.8h0.9v0.9h-0.9zM130.1 78.8h0.9v0.9h-0.9zM135.1 74.1h0.9v0.9h-0.9zM136.9 72.9h0.9v0.9h-0.9zM137.5 77.2h0.9v0.9h-0.9zM137.4 82.5h0.9v0.9h-0.9zM131.5 77.5h0.9v0.9h-0.9zM136.2 79.0h0.9v0.9h-0.9zM126.6 80.7h0.9v0.9h-0.9zM129.9 80.5h0.9v0.9h-0.9zM139.8 75.2h0.9v0.9h-0.9zM132.7 78.2h0.9v0.9h-0.9zM119.1 84.9h0.9v0.9h-0.9zM135.9 76.9h0.9v0.9h-0.9zM130.3 76.2h0.9v0.9h-0.9zM133.3 81.1h0.9v0.9h-0.9zM133.8 81.3h0.9v0.9h-0.9zM119.8 80.9h0.9v0.9h-0.9zM134.3 77.0h0.9v0.9h-0.9zM124.1 78.7h0.9v0.9h-0.9zM137.9 71.7h0.9v0.9h-0.9zM127.0 76.3h0.9v0.9h-0.9zM130.9 80.2h0.9v0.9h-0.9zM133.9 70.9h0.9v0.9h-0.9zM139.7 73.3h0.9v0.9h-0.9zM131.7 83.1h0.9v0.9h-0.9zM131.4 74.3h0.9v0.9h-0.9zM129.1 76.7h0.9v0.9h-0.9zM127.7 78.4h0.9v0.9h-0.9zM137.7 76.9h0.9v0.9h-0.9zM128.9 87.5h0.9v0.9h-0.9zM128.2 79.6h0.9v0.9h-0.9zM133.9 79.5h0.9v0.9h-0.9zM131.8 79.3h0.9v0.9h-0.9zM143.5 73.9h0.9v0.9h-0.9zM128.0 80.3h0.9v0.9h-0.9zM128.7 78.0h0.9v0.9h-0.9zM134.3 78.1h0.9v0.9h-0.9zM132.4 80.3h0.9v0.9h-0.9zM130.8 74.3h0.9v0.9h-0.9zM137.0 74.9h0.9v0.9h-0.9zM138.4 73.5h0.9v0.9h-0.9zM136.2 77.3h0.9v0.9h-0.9zM118.1 78.3h0.9v0.9h-0.9zM128.8 83.3h0.9v0.9h-0.9zM124.5 83.4h0.9v0.9h-0.9zM138.9 76.9h0.9v0.9h-0.9zM135.9 74.9h0.9v0.9h-0.9zM133.2 78.1h0.9v0.9h-0.9zM135.8 78.7h0.9v0.9h-0.9zM131.3 76.0h0.9v0.9h-0.9zM130.6 79.6h0.9v0.9h-0.9zM123.5 77.1h0.9v0.9h-0.9zM130.4 76.7h0.9v0.9h-0.9zM129.0 70.8h0.9v0.9h-0.9zM131.1 77.4h0.9v0.9h-0.9zM134.9 70.7h0.9v0.9h-0.9zM132.0 79.3h0.9v0.9h-0.9zM136.6 79.9h0.9v0.9h-0.9zM137.2 72.7h0.9v0.9h-0.9zM135.8 75.4h0.9v0.9h-0.9zM130.5 83.1h0.9v0.9h-0.9zM129.0 76.3h0.9v0.9h-0.9zM130.1 75.9h0.9v0.9h-0.9zM138.4 76.7h0.9v0.9h-0.9zM140.4 76.1h0.9v0.9h-0.9zM131.0 81.5h0.9v0.9h-0.9zM129.3 77.4h0.9v0.9h-0.9zM132.2 77.9h0.9v0.9h-0.9zM138.3 73.7h0.9v0.9h-0.9zM134.7 76.8h0.9v0.9h-0.9zM125.7 76.8h0.9v0.9h-0.9zM132.3 79.0h0.9v0.9h-0.9zM135.1 78.2h0.9v0.9h-0.9zM132.8 76.2h0.9v0.9h-0.9zM134.1 74.0h0.9v0.9h-0.9zM126.0 79.0h0.9v0.9h-0.9zM125.4 78.7h0.9v0.9h-0.9zM128.7 77.4h0.9v0.9h-0.9zM132.0 75.4h0.9v0.9h-0.9zM129.2 73.6h0.9v0.9h-0.9zM132.8 74.8h0.9v0.9h-0.9zM132.2 69.1h0.9v0.9h-0.9zM129.2 79.6h0.9v0.9h-0.9zM120.5 81.0h0.9v0.9h-0.9zM133.6 77.6h0.9v0.9h-0.9zM125.8 80.8h0.9v0.9h-0.9zM132.8 74.6h0.9v0.9h-0.9zM136.7 76.0h0.9v0.9h-0.9zM132.6 76.2h0.9v0.9h-0.9zM135.8 76.8h0.9v0.9h-0.9zM139.1 76.7h0.9v0.9h-0.9zM129.7 78.0h0.9v0.9h-0.9zM137.2 74.8h0.9v0.9h-0.9zM135.4 78.2h0.9v0.9h-0.9zM129.8 71.5h0.9v0.9h-0.9zM133.9 77.8h0.9v0.9h-0.9zM132.9 75.2h0.9v0.9h-0.9zM138.9 74.9h0.9v0.9h-0.9zM129.2 76.7h0.9v0.9h-0.9zM133.7 73.9h0.9v0.9h-0.9zM130.0 84.8h0.9v0.9h-0.9zM140.6 78.0h0.9v0.9h-0.9zM140.4 76.6h0.9v0.9h-0.9zM125.8 83.8h0.9v0.9h-0.9zM139.7 76.6h0.9v0.9h-0.9z" fill="#222" fill-opacity="0.362" filter="url(#soft)"/>
<path d="M125.5 85.9h0.9v0.9h-0.9zM138.7 83.0h0.9v0.9h-0.9zM129.3 78.8h0.9v0.9h-0.9zM130.5 78.9h0.9v0.9h-0.9zM131.1 75.8h0.9v0.9h-0.9zM137.7 73.3h0.9v0.9h-0.9zM130.9 80.0h0.9v0.9h-0.9zM129.8 77.3h0.9v0.9h-0.9zM134.5 75.8h0.9v0.9h-0.9zM126.5 79.6h0.9v0.9h-0.9zM133.6 82.7h0.9v0.9h-0.9zM128.3 82.3h0.9v0.9h-0.9zM128.6 78.0h0.9v0.9h-0.9zM131.6 78.9h0.9v0.9h-0.9zM139.3 80.8h0.9v0.9h-0.9zM131.1 82.4h0.9v0.9h-0.9zM139.0 77.9h0.9v0.9h-0.9zM130.0 81.5h0.9v0.9h-0.9zM132.8 78.7h0.9v0.9h-0.9zM132.3 79.9h0.9v0.9h-0.9zM139.9 78.6h0.9v0.9h-0.9zM133.0 80.7h0.9v0.9h-0.9zM139.5 72.1h0.9v0.9h-0.9zM139.2 71.0h0.9v0.9h-0.9zM136.4 78.2h0.9v0.9h-0.9zM140.9 75.5h0.9v0.9h-0.9zM129.7 76.2h0.9v0.9h-0.9zM127.3 82.0h0.9v0.9h-0.9zM131.0 75.9h0.9v0.9h-0.9zM135.0 74.3h0.9v0.9h-0.9zM130.3 77.0h0.9v0.9h-0.9zM143.1 78.5h0.9v0.9h-0.9zM130.6 73.4h0.9v0.9h-0.9zM134.5 77.2h0.9v0.9h-0.9zM135.4 78.4h0.9v0.9h-0.9zM132.3 80.7h0.9v0.9h-0.9zM137.5 76.5h0.9v0.9h-0.9zM130.4 76.9h0.9v0.9h-0.9zM135.4 73.1h0.9v0.9h-0.9zM131.4 75.7h0.9v0.9h-0.9zM126.4 81.8h0.9v0.9h-0.9zM132.9 77.6h0.9v0.9h-0.9zM136.0 71.6h0.9v0.9h-0.9zM133.0 78.4h0.9v0.9h-0.9zM136.2 72.9h0.9v0.9h-0.9zM136.9 76.8h0.9v0.9h-0.9zM141.2 78.2h0.9v0.9h-0.9zM138.0 82.5h0.9v0.9h-0.9zM132.6 76.3h0.9v0.9h-0.9zM130.3 75.5h0.9v0.9h-0.9zM130.9 72.3h0.9v0.9h-0.9zM133.0 78.9h0.9v0.9h-0.9zM137.8 74.7h0.9v0.9h-0.9zM139.5 73.0h0.9v0.9h-0.9zM130.4 72.5h0.9v0.9h-0.9zM128.3 76.7h0.9v0.9h-0.9zM141.1 76.2h0.9v0.9h-0.9zM128.0 81.0h0.9v0.9h-0.9zM135.2 76.0h0.9v0.9h-0.9zM132.8 76.6h0.9v0.9h-0.9zM128.5 73.6h0.9v0.9h-0.9zM133.8 81.2h0.9v0.9h-0.9zM139.9 74.1h0.9v0.9h-0.9zM129.0 78.3h0.9v0.9h-0.9zM137.9 76.8h0.9v0.9h-0.9zM130.4 79.6h0.9v0.9h-0.9zM132.5 79.3h0.9v0.9h-0.9zM129.5 74.2h0.9v0.9h-0.9zM134.1 79.5h0.9v0.9h-0.9zM127.3 79.2h0.9v0.9h-0.9zM137.0 74.9h0.9v0.9h-0.9zM131.8 84.3h0.9v0.9h-0.9zM138.2 78.8h0.9v0.9h-0.9zM129.9 83.7h0.9v0.9h-0.9zM124.1 79.1h0.9v0.9h-0.9zM138.1 79.8h0.9v0.9h-0.9zM127.7 77.4h0.9v0.9h-0.9zM132.1 71.9h0.9v0.9h-0.9zM136.8 77.9h0.9v0.9h-0.9zM131.3 79.8h0.9v0.9h-0.9zM137.2 76.9h0.9v0.9h-0.9zM137.1 80.7h0.9v0.9h-0.9zM130.8 78.8h0.9v0.9h-0.9zM131.4 81.3h0.9v0.9h-0.9zM131.4 79.5h0.9v0.9h-0.9zM133.8 77.4h0.9v0.9h-0.9zM141.5 74.1h0.9v0.9h-0.9zM140.9 77.2h0.9v0.9h-0.9zM139.4 74.6h0.9v0.9h-0.9zM138.4 77.9h0.9v0.9h-0.9zM130.2 79.4h0.9v0.9h-0.9zM132.3 77.6h0.9v0.9h-0.9zM138.8 73.2h0.9v0.9h-0.9zM122.9 75.8h0.9v0.9h-0.9zM130.1 76.6h0.9v0.9h-0.9zM133.6 79.0h0.9v0.9h-0.9zM142.1 75.1h0.9v0.9h-0.9zM134.6 74.7h0.9v0.9h-0.9zM137.2 80.1h0.9v0.9h-0.9zM137.7 69.7h0.9v0.9h-0.9zM139.0 80.2h0.9v0.9h-0.9zM135.6 71.9h0.9v0.9h-0.9zM132.1 79.7h0.9v0.9h-0.9zM134.3 74.5h0.9v0.9h-0.9zM129.5 81.7h0.9v0.9h-0.9zM127.8 83.8h0.9v0.9h-0.9zM133.4 78.3h0.9v0.9h-0.9zM125.8 78.3h0.9v0.9h-0.9zM135.0 72.3h0.9v0.9h-0.9zM141.9 69.9h0.9v0.9h-0.9zM127.0 79.8h0.9v0.9h-0.9zM136.1 78.6h0.9v0.9h-0.9zM131.0 77.6h0.9v0.9h-0.9zM131.3 76.4h0.9v0.9h-0.9zM121.1 84.8h0.9v0.9h-0.9zM134.4 77.5h0.9v0.9h-0.9zM130.1 79.3h0.9v0.9h-0.9zM132.9 77.3h0.9v0.9h-0.9zM136.8 70.8h0.9v0.9h-0.9zM133.2 74.2h0.9v0.9h-0.9zM132.9 82.1h0.9v0.9h-0.9zM127.5 79.2h0.9v0.9h-0.9zM131.0 81.1h0.9v0.9h-0.9zM126.5 74.7h0.9v0.9h-0.9zM135.2 75.6h0.9v0.9h-0.9zM132.5 81.0h0.9v0.9h-0.9zM128.2 78.1h0.9v0.9h-0.9zM134.1 78.4h0.9v0.9h-0.9zM131.5 81.2h0.9v0.9h-0.9zM143.7 72.3h0.9v0.9h-0.9zM140.2 68.4h0.9v0.9h-0.9zM139.6 74.0h0.9v0.9h-0.9zM133.3 76.3h0.9v0.9h-0.9zM128.6 75.2h0.9v0.9h-0.9zM132.3 81.7h0.9v0.9h-0.9zM138.3 74.5h0.9v0.9h-0.9zM129.7 76.6h0.9v0.9h-0.9zM128.8 84.6h0.9v0.9h-0.9zM136.4 76.6h0.9v0.9h-0.9zM129.6 75.6h0.9v0.9h-0.9zM140.3 77.2h0.9v0.9h-0.9zM129.3 81.9h0.9v0.9h-0.9zM128.1 81.2h0.9v0.9h-0.9zM127.8 78.1h0.9v0.9h-0.9zM135.9 77.8h0.9v0.9h-0.9zM137.2 73.4h0.9v0.9h-0.9zM142.2 78.3h0.9v0.9h-0.9zM133.4 78.8h0.9v0.9h-0.9zM129.0 78.5h0.9v0.9h-0.9zM126.5 80.1h0.9v0.9h-0.9zM135.3 80.8h0.9v0.9h-0.9zM138.5 78.0h0.9v0.9h-0.9zM131.0 77.5h0.9v0.9h-0.9zM131.5 78.7h0.9v0.9h-0.9zM124.2 83.1h0.9v0.9h-0.9zM124.7 78.9h0.9v0.9h-0.9zM132.6 76.1h0.9v0.9h-0.9zM141.2 74.2h0.9v0.9h-0.9zM142.0 77.8h0.9v0.9h-0.9zM130.9 79.5h0.9v0.9h-0.9zM139.1 74.2h0.9v0.9h-0.9zM132.9 75.8h0.9v0.9h-0.9zM132.9 76.4h0.9v0.9h-0.9zM134.4 80.1h0.9v0.9h-0.9zM140.0 75.3h0.9v0.9h-0.9zM134.8 79.5h0.9v0.9h-0.9zM130.5 75.2h0.9v0.9h-0.9zM137.6 73.0h0.9v0.9h-0.9zM136.7 73.2h0.9v0.9h-0.9zM141.0 71.4h0.9v0.9h-0.9zM138.7 80.0h0.9v0.9h-0.9zM129.7 83.3h0.9v0.9h-0.9zM127.2 74.2h0.9v0.9h-0.9zM137.3 78.1h0.9v0.9h-0.9zM129.5 71.0h0.9v0.9h-0.9zM132.4 76.8h0.9v0.9h-0.9zM130.8 77.4h0.9v0.9h-0.9zM123.6 79.2h0.9v0.9h-0.9zM143.5 78.4h0.9v0.9h-0.9zM130.5 76.2h0.9v0.9h-0.9zM136.0 79.7h0.9v0.9h-0.9zM135.4 73.0h0.9v0.9h-0.9zM133.9 77.6h0.9v0.9h-0.9zM141.3 78.1h0.9v0.9h-0.9zM136.8 79.8h0.9v0.9h-0.9zM132.6 82.4h0.9v0.9h-0.9zM131.3 79.3h0.9v0.9h-0.9zM136.7 73.4h0.9v0.9h-0.9zM127.8 74.0h0.9v0.9h-0.9zM133.8 77.1h0.9v0.9h-0.9zM131.9 79.4h0.9v0.9h-0.9zM122.5 81.3h0.9v0.9h-0.9zM133.2 76.6h0.9v0.9h-0.9zM138.7 80.8h0.9v0.9h-0.9zM129.9 75.8h0.9v0.9h-0.9zM130.1 78.8h0.9v0.9h-0.9zM135.1 74.1h0.9v0.9h-0.9zM136.9 72.9h0.9v0.9h-0.9zM137.5 77.2h0.9v0.9h-0.9zM137.4 82.5h0.9v0.9h-0.9zM131.5 77.5h0.9v0.9h-0.9zM136.2 79.0h0.9v0.9h-0.9zM126.6 80.7h0.9v0.9h-0.9zM129.9 80.5h0.9v0.9h-0.9zM139.8 75.2h0.9v0.9h-0.9zM132.7 78.2h0.9v0.9h-0.9zM119.1 84.9h0.9v0.9h-0.9zM135.9 76.9h0.9v0.9h-0.9zM130.3 76.2h0.9v0.9h-0.9zM133.3 81.1h0.9v0.9h-0.9zM133.8 81.3h0.9v0.9h-0.9zM119.8 80.9h0.9v0.9h-0.9zM134.3 77.0h0.9v0.9h-0.9zM124.1 78.7h0.9v0.9h-0.9zM137.9 71.7h0.9v0.9h-0.9zM127.0 76.3h0.9v0.9h-0.9zM130.9 80.2h0.9v0.9h-0.9zM133.9 70.9h0.9v0.9h-0.9zM139.7 73.3h0.9v0.9h-0.9zM131.7 83.1h0.9v0.9h-0.9zM131.4 74.3h0.9v0.9h-0.9zM129.1 76.7h0.9v0.9h-0.9zM127.7 78.4h0.9v0.9h-0.9zM137.7 76.9h0.9v0.9h-0.9zM128.9 87.5h0.9v0.9h-0.9zM128.2 79.6h0.9v0.9h-0.9zM133.9 79.5h0.9v0.9h-0.9zM131.8 79.3h0.9v0.9h-0.9zM143.5 73.9h0.9v0.9h-0.9zM128.0 80.3h0.9v0.9h-0.9zM128.7 78.0h0.9v0.9h-0.9zM134.3 78.1h0.9v0.9h-0.9zM132.4 80.3h0.9v0.9h-0.9zM130.8 74.3h0.9v0.9h-0.9zM137.0 74.9h0.9v0.9h-0.9zM138.4 73.5h0.9v0.9h-0.9zM136.2 77.3h0.9v0.9h-0.9zM118.1 78.3h0.9v0.9h-0.9zM128.8 83.3h0.9v0.9h-0.9zM124.5 83.4h0.9v0.9h-0.9zM138.9 76.9h0.9v0.9h-0.9zM135.9 74.9h0.9v0.9h-0.9zM133.2 78.1h0.9v0.9h-0.9zM135.8 78.7h0.9v0.9h-0.9zM131.3 76.0h0.9v0.9h-0.9zM130.6 79.6h0.9v0.9h-0.9zM123.5 77.1h0.9v0.9h-0.9zM130.4 76.7h0.9v0.9h-0.9zM129.0 70.8h0.9v0.9h-0.9zM131.1 77.4h0.9v0.9h-0.9zM134.9 70.7h0.9v0.9h-0.9zM132.0 79.3h0.9v0.9h-0.9zM136.6 79.9h0.9v0.9h-0.9zM137.2 72.7h0.9v0.9h-0.9zM135.8 75.4h0.9v0.9h-0.9zM130.5 83.1h0.9v0.9h-0.9zM129.0 76.3h0.9v0.9h-0.9zM130.1 75.9h0.9v0.9h-0.9zM138.4 76.7h0.9v0.9h-0.9zM140.4 76.1h0.9v0.9h-0.9zM131.0 81.5h0.9v0.9h-0.9zM129.3 77.4h0.9v0.9h-0.9zM132.2 77.9h0.9v0.9h-0.9zM138.3 73.7h0.9v0.9h-0.9zM134.7 76.8h0.9v0.9h-0.9zM125.7 76.8h0.9v0.9h-0.9zM132.3 79.0h0.9v0.9h-0.9zM135.1 78.2h0.9v0.9h-0.9zM132.8 76.2h0.9v0.9h-0.9zM134.1 74.0h0.9v0.9h-0.9zM126.0 79.0h0.9v0.9h-0.9zM125.4 78.7h0.9v0.9h-0.9zM128.7 77.4h0.9v0.9h-0.9zM132.0 75.4h0.9v0.9h-0.9zM129.2 73.6h0.9v0.9h-0.9zM132.8 74.8h0.9v0.9h-0.9zM132.2 69.1h0.9v0.9h-0.9zM129.2 79.6h0.9v0.9h-0.9zM120.5 81.0h0.9v0.9h-0.9zM133.6 77.6h0.9v0.9h-0.9zM125.8 80.8h0.9v0.9h-0.9zM132.8 74.6h0.9v0.9h-0.9zM136.7 76.0h0.9v0.9h-0.9zM132.6 76.2h0.9v0.9h-0.9zM135.8 76.8h0.9v0.9h-0.9zM139.1 76.7h0.9v0.9h-0.9zM129.7 78.0h0.9v0.9h-0.9zM137.2 74.8h0.9v0.9h-0.9zM135.4 78.2h0.9v0.9h-0.9zM129.8 71.5h0.9v0.9h-0.9zM133.9 77.8h0.9v0.9h-0.9zM132.9 75.2h0.9v0.9h-0.9zM138.9 74.9h0.9v0.9h-0.9zM129.2 76.7h0.9v0.9h-0.9zM133.7 73.9h0.9v0.9h-0.9zM130.0 84.8h0.9v0.9h-0.9zM140.6 78.0h0.9v0.9h-0.9zM140.4 76.6h0.9v0.9h-0.9zM125.8 83.8h0.9v0.9h-0.9zM139.7 76.6h0.9v0.9h-0.9z" fill="#222" fill-opacity="0.362"/>
<path d="M158.2 82.1h0.9v0.9h-0.9zM169.8 76.1h0.9v0.9h-0.9zM165.4 80.5h0.9v0.9h-0.9zM164.7 81.6h0.9v0.9h-0.9zM165.3 80.2h0.9v0.9h-0.9zM165.3 72.6h0.9v0.9h-0.9zM161.5 88.8h0.9v0.9h-0.9zM166.0 82.4h0.9v0.9h-0.9zM169.0 83.8h0.9v0.9h-0.9zM166.9 75.7h0.9v0.9h-0.9zM165.1 71.1h0.9v0.9h-0.9zM164.3 81.0h0.9v0.9h-0.9zM157.5 78.5h0.9v0.9h-0.9zM167.9 82.4h0.9v0.9h-0.9zM161.8 75.5h0.9v0.9h-0.9zM158.4 74.2h0.9v0.9h-0.9zM166.9 85.0h0.9v0.9h-0.9zM161.0 82.6h0.9v0.9h-0.9zM166.5 76.1h0.9v0.9h-0.9zM172.7 69.0h0.9v0.9h-0.9zM164.8 78.6h0.9v0.9h-0.9zM172.4 84.1h0.9v0.9h-0.9zM172.9 78.3h0.9v0.9h-0.9zM168.4 82.6h0.9v0.9h-0.9zM166.8 79.1h0.9v0.9h-0.9zM164.4 76.4h0.9v0.9h-0.9zM160.7 84.6h0.9v0.9h-0.9zM163.4 70.5h0.9v0.9h-0.9zM165.9 77.7h0.9v0.9h-0.9zM165.6 84.2h0.9v0.9h-0.9zM164.6 76.9h0.9v0.9h-0.9zM162.4 77.7h0.9v0.9h-0.9zM163.5 78.5h0.9v0.9h-0.9zM175.9 79.2h0.9v0.9h-0.9zM162.0 84.6h0.9v0.9h-0.9zM168.0 80.7h0.9v0.9h-0.9zM167.5 80.7h0.9v0.9h-0.9zM167.4 82.7h0.9v0.9h-0.9zM168.5 82.5h0.9v0.9h-0.9zM163.2 77.8h0.9v0.9h-0.9zM162.4 81.2h0.9v0.9h-0.9zM167.9 76.2h0.9v0.9h-0.9zM167.0 87.0h0.9v0.9h-0.9zM169.3 73.9h0.9v0.9h-0.9zM164.7 80.0h0.9v0.9h-0.9zM164.9 79.2h0.9v0.9h-0.9zM169.1 79.0h0.9v0.9h-0.9zM161.2 80.3h0.9v0.9h-0.9zM164.7 78.2h0.9v0.9h-0.9zM163.0 73.0h0.9v0.9h-0.9zM160.6 76.6h0.9v0.9h-0.9zM161.3 68.3h0.9v0.9h-0.9zM169.0 73.7h0.9v0.9h-0.9zM162.5 79.7h0.9v0.9h-0.9zM156.5 82.5h0.9v0.9h-0.9zM162.3 80.1h0.9v0.9h-0.9zM163.3 78.9h0.9v0.9h-0.9zM165.4 77.8h0.9v0.9h-0.9zM158.6 72.6h0.9v0.9h-0.9zM164.9 82.7h0.9v0.9h-0.9zM163.1 79.7h0.9v0.9h-0.9zM165.6 79.5h0.9v0.9h-0.9zM168.5 72.5h0.9v0.9h-0.9zM166.0 77.2h0.9v0.9h-0.9zM163.9 74.8h0.9v0.9h-0.9zM162.2 74.2h0.9v0.9h-0.9zM161.1 86.6h0.9v0.9h-0.9zM171.0 77.8h0.9v0.9h-0.9zM167.6 74.4h0.9v0.9h-0.9zM155.2 71.4h0.9v0.9h-0.9zM165.5 82.8h0.9v0.9h-0.9zM164.9 74.3h0.9v0.9h-0.9zM164.2 74.3h0.9v0.9h-0.9zM160.1 77.0h0.9v0.9h-0.9zM163.6 75.0h0.9v0.9h-0.9zM161.9 74.5h0.9v0.9h-0.9zM165.8 82.7h0.9v0.9h-0.9zM164.3 85.6h0.9v0.9h-0.9zM159.3 78.8h0.9v0.9h-0.9zM160.9 77.2h0.9v0.9h-0.9zM165.4 79.8h0.9v0.9h-0.9zM169.0 75.9h0.9v0.9h-0.9zM160.6 77.1h0.9v0.9h-0.9zM166.0 75.3h0.9v0.9h-0.9zM168.1 83.7h0.9v0.9h-0.9zM160.0 79.1h0.9v0.9h-0.9zM168.6 71.1h0.9v0.9h-0.9zM165.7 77.0h0.9v0.9h-0.9zM160.0 82.4h0.9v0.9h-0.9zM165.8 76.1h0.9v0.9h-0.9zM166.6 80.1h0.9v0.9h-0.9zM167.7 79.8h0.9v0.9h-0.9zM166.4 73.7h0.9v0.9h-0.9zM163.5 78.3h0.9v0.9h-0.9zM155.3 85.3h0.9v0.9h-0.9zM163.7 74.1h0.9v0.9h-0.9zM158.6 78.7h0.9v0.9h-0.9zM165.1 75.8h0.9v0.9h-0.9zM163.5 74.7h0.9v0.9h-0.9zM162.4 77.5h0.9v0.9h-0.9zM162.7 80.2h0.9v0.9h-0.9zM164.5 78.3h0.9v0.9h-0.9zM166.4 82.3h0.9v0.9h-0.9zM167.1 78.6h0.9v0.9h-0.9zM164.4 75.0h0.9v0.9h-0.9zM163.8 80.2h0.9v0.9h-0.9zM165.8 76.4h0.9v0.9h-0.9zM160.3 72.4h0.9v0.9h-0.9zM166.1 81.4h0.9v0.9h-0.9zM166.3 73.0h0.9v0.9h-0.9zM164.3 78.6h0.9v0.9h-0.9zM161.8 79.0h0.9v0.9h-0.9zM164.3 74.9h0.9v0.9h-0.9zM160.6 80.6h0.9v0.9h-0.9zM166.3 74.7h0.9v0.9h-0.9zM161.4 80.9h0.9v0.9h-0.9zM167.1 76.7h0.9v0.9h-0.9zM170.6 76.8h0.9v0.9h-0.9zM161.3 81.6h0.9v0.9h-0.9zM164.3 79.0h0.9v0.9h-0.9zM165.1 74.3h0.9v0.9h-0.9zM160.8 77.1h0.9v0.9h-0.9zM169.9 74.3h0.9v0.9h-0.9zM169.8 78.6h0.9v0.9h-0.9zM161.1 78.7h0.9v0.9h-0.9zM167.0 74.6h0.9v0.9h-0.9zM157.5 79.0h0.9v0.9h-0.9zM161.1 79.3h0.9v0.9h-0.9zM158.3 77.3h0.9v0.9h-0.9zM162.2 72.6h0.9v0.9h-0.9zM164.2 78.4h0.9v0.9h-0.9zM163.0 73.7h0.9v0.9h-0.9zM165.7 71.7h0.9v0.9h-0.9zM166.9 79.5h0.9v0.9h-0.9zM170.9 80.9h0.9v0.9h-0.9zM166.2 78.7h0.9v0.9h-0.9zM165.1 73.2h0.9v0.9h-0.9zM170.1 79.6h0.9v0.9h-0.9zM164.0 73.8h0.9v0.9h-0.9zM170.2 79.7h0.9v0.9h-0.9zM160.9 80.2h0.9v0.9h-0.9zM171.6 77.7h0.9v0.9h-0.9zM166.4 76.3h0.9v0.9h-0.9zM162.8 81.6h0.9v0.9h-0.9zM175.8 78.2h0.9v0.9h-0.9zM164.6 80.6h0.9v0.9h-0.9zM163.9 80.3h0.9v0.9h-0.9zM167.9 74.2h0.9v0.9h-0.9zM161.3 77.5h0.9v0.9h-0.9zM167.9 78.8h0.9v0.9h-0.9zM169.3 73.0h0.9v0.9h-0.9zM166.7 75.6h0.9v0.9h-0.9zM165.3 78.9h0.9v0.9h-0.9zM161.6 77.0h0.9v0.9h-0.9zM160.9 78.7h0.9v0.9h-0.9zM162.0 76.1h0.9v0.9h-0.9zM165.8 75.5h0.9v0.9h-0.9zM169.0 75.6h0.9v0.9h-0.9zM168.0 78.8h0.9v0.9h-0.9zM161.4 77.0h0.9v0.9h-0.9zM162.1 76.5h0.9v0.9h-0.9zM164.1 84.1h0.9v0.9h-0.9zM163.5 83.3h0.9v0.9h-0.9zM166.6 73.2h0.9v0.9h-0.9zM156.9 80.2h0.9v0.9h-0.9zM158.1 80.3h0.9v0.9h-0.9zM168.6 79.2h0.9v0.9h-0.9zM164.3 76.9h0.9v0.9h-0.9zM165.9 76.7h0.9v0.9h-0.9zM163.1 76.5h0.9v0.9h-0.9zM169.1 75.6h0.9v0.9h-0.9zM166.3 73.8h0.9v0.9h-0.9zM162.5 73.0h0.9v0.9h-0.9zM164.3 80.2h0.9v0.9h-0.9zM166.1 76.1h0.9v0.9h-0.9zM167.1 76.6h0.9v0.9h-0.9zM166.3 78.8h0.9v0.9h-0.9zM166.9 69.2h0.9v0.9h-0.9zM160.5 80.5h0.9v0.9h-0.9zM164.6 85.6h0.9v0.9h-0.9zM164.2 75.9h0.9v0.9h-0.9zM170.2 79.7h0.9v0.9h-0.9zM171.6 79.6h0.9v0.9h-0.9zM164.3 80.3h0.9v0.9h-0.9zM162.3 76.2h0.9v0.9h-0.9zM163.1 77.0h0.9v0.9h-0.9zM167.7 76.1h0.9v0.9h-0.9zM166.1 76.1h0.9v0.9h-0.9zM168.1 68.2h0.9v0.9h-0.9zM164.3 78.4h0.9v0.9h-0.9zM161.2 81.3h0.9v0.9h-0.9zM165.8 82.3h0.9v0.9h-0.9zM168.3 80.0h0.9v0.9h-0.9zM164.5 74.0h0.9v0.9h-0.9zM164.2 76.2h0.9v0.9h-0.9zM165.9 76.2h0.9v0.9h-0.9zM175.6 72.2h0.9v0.9h-0.9zM169.1 76.2h0.9v0.9h-0.9zM164.2 81.0h0.9v0.9h-0.9zM165.0 73.6h0.9v0.9h-0.9zM166.4 77.1h0.9v0.9h-0.9zM157.8 78.5h0.9v0.9h-0.9zM161.3 75.2h0.9v0.9h-0.9zM166.7 78.8h0.9v0.9h-0.9zM164.0 85.3h0.9v0.9h-0.9zM166.5 75.7h0.9v0.9h-0.9zM165.8 77.4h0.9v0.9h-0.9zM157.3 72.3h0.9v0.9h-0.9zM160.2 85.0h0.9v0.9h-0.9zM164.4 76.8h0.9v0.9h-0.9zM163.0 81.2h0.9v0.9h-0.9zM165.1 83.7h0.9v0.9h-0.9zM167.7 83.5h0.9v0.9h-0.9zM164.6 79.1h0.9v0.9h-0.9zM163.5 77.2h0.9v0.9h-0.9zM159.0 75.8h0.9v0.9h-0.9zM161.7 75.5h0.9v0.9h-0.9zM169.2 78.7h0.9v0.9h-0.9zM169.3 80.8h0.9v0.9h-0.9zM168.2 81.3h0.9v0.9h-0.9zM162.9 80.6h0.9v0.9h-0.9zM163.9 76.0h0.9v0.9h-0.9zM169.1 85.3h0.9v0.9h-0.9zM161.6 83.8h0.9v0.9h-0.9zM167.9 74.9h0.9v0.9h-0.9zM165.9 79.1h0.9v0.9h-0.9zM166.3 76.6h0.9v0.9h-0.9zM160.5 77.9h0.9v0.9h-0.9zM168.0 80.5h0.9v0.9h-0.9zM167.3 81.6h0.9v0.9h-0.9zM161.6 77.7h0.9v0.9h-0.9zM166.2 81.3h0.9v0.9h-0.9zM165.5 79.6h0.9v0.9h-0.9zM165.5 85.1h0.9v0.9h-0.9zM157.4 77.7h0.9v0.9h-0.9zM173.6 78.6h0.9v0.9h-0.9zM158.6 78.3h0.9v0.9h-0.9zM160.0 75.4h0.9v0.9h-0.9zM165.8 83.7h0.9v0.9h-0.9zM166.6 80.1h0.9v0.9h-0.9zM168.5 78.5h0.9v0.9h-0.9zM162.0 77.5h0.9v0.9h-0.9zM166.2 76.8h0.9v0.9h-0.9zM162.7 76.6h0.9v0.9h-0.9zM159.8 74.2h0.9v0.9h-0.9zM164.7 76.5h0.9v0.9h-0.9zM165.1 82.7h0.9v0.9h-0.9zM166.0 77.7h0.9v0.9h-0.9zM160.9 74.1h0.9v0.9h-0.9zM166.3 74.8h0.9v0.9h-0.9z" fill="#222" fill-opacity="0.338" filter="url(#soft)"/>
<path d="M158.2 82.1h0.9v0.9h-0.9zM169.8 76.1h0.9v0.9h-0.9zM165.4 80.5h0.9v0.9h-0.9zM164.7 81.6h0.9v0.9h-0.9zM165.3 80.2h0.9v0.9h-0.9zM165.3 72.6h0.9v0.9h-0.9zM161.5 88.8h0.9v0.9h-0.9zM166.0 82.4h0.9v0.9h-0.9zM169.0 83.8h0.9v0.9h-0.9zM166.9 75.7h0.9v0.9h-0.9zM165.1 71.1h0.9v0.9h-0.9zM164.3 81.0h0.9v0.9h-0.9zM157.5 78.5h0.9v0.9h-0.9zM167.9 82.4h0.9v0.9h-0.9zM161.8 75.5h0.9v0.9h-0.9zM158.4 74.2h0.9v0.9h-0.9zM166.9 85.0h0.9v0.9h-0.9zM161.0 82.6h0.9v0.9h-0.9zM166.5 76.1h0.9v0.9h-0.9zM172.7 69.0h0.9v0.9h-0.9zM164.8 78.6h0.9v0.9h-0.9zM172.4 84.1h0.9v0.9h-0.9zM172.9 78.3h0.9v0.9h-0.9zM168.4 82.6h0.9v0.9h-0.9zM166.8 79.1h0.9v0.9h-0.9zM164.4 76.4h0.9v0.9h-0.9zM160.7 84.6h0.9v0.9h-0.9zM163.4 70.5h0.9v0.9h-0.9zM165.9 77.7h0.9v0.9h-0.9zM165.6 84.2h0.9v0.9h-0.9zM164.6 76.9h0.9v0.9h-0.9zM162.4 77.7h0.9v0.9h-0.9zM163.5 78.5h0.9v0.9h-0.9zM175.9 79.2h0.9v0.9h-0.9zM162.0 84.6h0.9v0.9h-0.9zM168.0 80.7h0.9v0.9h-0.9zM167.5 80.7h0.9v0.9h-0.9zM167.4 82.7h0.9v0.9h-0.9zM168.5 82.5h0.9v0.9h-0.9zM163.2 77.8h0.9v0.9h-0.9zM162.4 81.2h0.9v0.9h-0.9zM167.9 76.2h0.9v0.9h-0.9zM167.0 87.0h0.9v0.9h-0.9zM169.3 73.9h0.9v0.9h-0.9zM164.7 80.0h0.9v0.9h-0.9zM164.9 79.2h0.9v0.9h-0.9zM169.1 79.0h0.9v0.9h-0.9zM161.2 80.3h0.9v0.9h-0.9zM164.7 78.2h0.9v0.9h-0.9zM163.0 73.0h0.9v0.9h-0.9zM160.6 76.6h0.9v0.9h-0.9zM161.3 68.3h0.9v0.9h-0.9zM169.0 73.7h0.9v0.9h-0.9zM162.5 79.7h0.9v0.9h-0.9zM156.5 82.5h0.9v0.9h-0.9zM162.3 80.1h0.9v0.9h-0.9zM163.3 78.9h0.9v0.9h-0.9zM165.4 77.8h0.9v0.9h-0.9zM158.6 72.6h0.9v0.9h-0.9zM164.9 82.7h0.9v0.9h-0.9zM163.1 79.7h0.9v0.9h-0.9zM165.6 79.5h0.9v0.9h-0.9zM168.5 72.5h0.9v0.9h-0.9zM166.0 77.2h0.9v0.9h-0.9zM163.9 74.8h0.9v0.9h-0.9zM162.2 74.2h0.9v0.9h-0.9zM161.1 86.6h0.9v0.9h-0.9zM171.0 77.8h0.9v0.9h-0.9zM167.6 74.4h0.9v0.9h-0.9zM155.2 71.4h0.9v0.9h-0.9zM165.5 82.8h0.9v0.9h-0.9zM164.9 74.3h0.9v0.9h-0.9zM164.2 74.3h0.9v0.9h-0.9zM160.1 77.0h0.9v0.9h-0.9zM163.6 75.0h0.9v0.9h-0.9zM161.9 74.5h0.9v0.9h-0.9zM165.8 82.7h0.9v0.9h-0.9zM164.3 85.6h0.9v0.9h-0.9zM159.3 78.8h0.9v0.9h-0.9zM160.9 77.2h0.9v0.9h-0.9zM165.4 79.8h0.9v0.9h-0.9zM169.0 75.9h0.9v0.9h-0.9zM160.6 77.1h0.9v0.9h-0.9zM166.0 75.3h0.9v0.9h-0.9zM168.1 83.7h0.9v0.9h-0.9zM160.0 79.1h0.9v0.9h-0.9zM168.6 71.1h0.9v0.9h-0.9zM165.7 77.0h0.9v0.9h-0.9zM160.0 82.4h0.9v0.9h-0.9zM165.8 76.1h0.9v0.9h-0.9zM166.6 80.1h0.9v0.9h-0.9zM167.7 79.8h0.9v0.9h-0.9zM166.4 73.7h0.9v0.9h-0.9zM163.5 78.3h0.9v0.9h-0.9zM155.3 85.3h0.9v0.9h-0.9zM163.7 74.1h0.9v0.9h-0.9zM158.6 78.7h0.9v0.9h-0.9zM165.1 75.8h0.9v0.9h-0.9zM163.5 74.7h0.9v0.9h-0.9zM162.4 77.5h0.9v0.9h-0.9zM162.7 80.2h0.9v0.9h-0.9zM164.5 78.3h0.9v0.9h-0.9zM166.4 82.3h0.9v0.9h-0.9zM167.1 78.6h0.9v0.9h-0.9zM164.4 75.0h0.9v0.9h-0.9zM163.8 80.2h0.9v0.9h-0.9zM165.8 76.4h0.9v0.9h-0.9zM160.3 72.4h0.9v0.9h-0.9zM166.1 81.4h0.9v0.9h-0.9zM166.3 73.0h0.9v0.9h-0.9zM164.3 78.6h0.9v0.9h-0.9zM161.8 79.0h0.9v0.9h-0.9zM164.3 74.9h0.9v0.9h-0.9zM160.6 80.6h0.9v0.9h-0.9zM166.3 74.7h0.9v0.9h-0.9zM161.4 80.9h0.9v0.9h-0.9zM167.1 76.7h0.9v0.9h-0.9zM170.6 76.8h0.9v0.9h-0.9zM161.3 81.6h0.9v0.9h-0.9zM164.3 79.0h0.9v0.9h-0.9zM165.1 74.3h0.9v0.9h-0.9zM160.8 77.1h0.9v0.9h-0.9zM169.9 74.3h0.9v0.9h-0.9zM169.8 78.6h0.9v0.9h-0.9zM161.1 78.7h0.9v0.9h-0.9zM167.0 74.6h0.9v0.9h-0.9zM157.5 79.0h0.9v0.9h-0.9zM161.1 79.3h0.9v0.9h-0.9zM158.3 77.3h0.9v0.9h-0.9zM162.2 72.6h0.9v0.9h-0.9zM164.2 78.4h0.9v0.9h-0.9zM163.0 73.7h0.9v0.9h-0.9zM165.7 71.7h0.9v0.9h-0.9zM166.9 79.5h0.9v0.9h-0.9zM170.9 80.9h0.9v0.9h-0.9zM166.2 78.7h0.9v0.9h-0.9zM165.1 73.2h0.9v0.9h-0.9zM170.1 79.6h0.9v0.9h-0.9zM164.0 73.8h0.9v0.9h-0.9zM170.2 79.7h0.9v0.9h-0.9zM160.9 80.2h0.9v0.9h-0.9zM171.6 77.7h0.9v0.9h-0.9zM166.4 76.3h0.9v0.9h-0.9zM162.8 81.6h0.9v0.9h-0.9zM175.8 78.2h0.9v0.9h-0.9zM164.6 80.6h0.9v0.9h-0.9zM163.9 80.3h0.9v0.9h-0.9zM167.9 74.2h0.9v0.9h-0.9zM161.3 77.5h0.9v0.9h-0.9zM167.9 78.8h0.9v0.9h-0.9zM169.3 73.0h0.9v0.9h-0.9zM166.7 75.6h0.9v0.9h-0.9zM165.3 78.9h0.9v0.9h-0.9zM161.6 77.0h0.9v0.9h-0.9zM160.9 78.7h0.9v0.9h-0.9zM162.0 76.1h0.9v0.9h-0.9zM165.8 75.5h0.9v0.9h-0.9zM169.0 75.6h0.9v0.9h-0.9zM168.0 78.8h0.9v0.9h-0.9zM161.4 77.0h0.9v0.9h-0.9zM162.1 76.5h0.9v0.9h-0.9zM164.1 84.1h0.9v0.9h-0.9zM163.5 83.3h0.9v0.9h-0.9zM166.6 73.2h0.9v0.9h-0.9zM156.9 80.2h0.9v0.9h-0.9zM158.1 80.3h0.9v0.9h-0.9zM168.6 79.2h0.9v0.9h-0.9zM164.3 76.9h0.9v0.9h-0.9zM165.9 76.7h0.9v0.9h-0.9zM163.1 76.5h0.9v0.9h-0.9zM169.1 75.6h0.9v0.9h-0.9zM166.3 73.8h0.9v0.9h-0.9zM162.5 73.0h0.9v0.9h-0.9zM164.3 80.2h0.9v0.9h-0.9zM166.1 76.1h0.9v0.9h-0.9zM167.1 76.6h0.9v0.9h-0.9zM166.3 78.8h0.9v0.9h-0.9zM166.9 69.2h0.9v0.9h-0.9zM160.5 80.5h0.9v0.9h-0.9zM164.6 85.6h0.9v0.9h-0.9zM164.2 75.9h0.9v0.9h-0.9zM170.2 79.7h0.9v0.9h-0.9zM171.6 79.6h0.9v0.9h-0.9zM164.3 80.3h0.9v0.9h-0.9zM162.3 76.2h0.9v0.9h-0.9zM163.1 77.0h0.9v0.9h-0.9zM167.7 76.1h0.9v0.9h-0.9zM166.1 76.1h0.9v0.9h-0.9zM168.1 68.2h0.9v0.9h-0.9zM164.3 78.4h0.9v0.9h-0.9zM161.2 81.3h0.9v0.9h-0.9zM165.8 82.3h0.9v0.9h-0.9zM168.3 80.0h0.9v0.9h-0.9zM164.5 74.0h0.9v0.9h-0.9zM164.2 76.2h0.9v0.9h-0.9zM165.9 76.2h0.9v0.9h-0.9zM175.6 72.2h0.9v0.9h-0.9zM169.1 76.2h0.9v0.9h-0.9zM164.2 81.0h0.9v0.9h-0.9zM165.0 73.6h0.9v0.9h-0.9zM166.4 77.1h0.9v0.9h-0.9zM157.8 78.5h0.9v0.9h-0.9zM161.3 75.2h0.9v0.9h-0.9zM166.7 78.8h0.9v0.9h-0.9zM164.0 85.3h0.9v0.9h-0.9zM166.5 75.7h0.9v0.9h-0.9zM165.8 77.4h0.9v0.9h-0.9zM157.3 72.3h0.9v0.9h-0.9zM160.2 85.0h0.9v0.9h-0.9zM164.4 76.8h0.9v0.9h-0.9zM163.0 81.2h0.9v0.9h-0.9zM165.1 83.7h0.9v0.9h-0.9zM167.7 83.5h0.9v0.9h-0.9zM164.6 79.1h0.9v0.9h-0.9zM163.5 77.2h0.9v0.9h-0.9zM159.0 75.8h0.9v0.9h-0.9zM161.7 75.5h0.9v0.9h-0.9zM169.2 78.7h0.9v0.9h-0.9zM169.3 80.8h0.9v0.9h-0.9zM168.2 81.3h0.9v0.9h-0.9zM162.9 80.6h0.9v0.9h-0.9zM163.9 76.0h0.9v0.9h-0.9zM169.1 85.3h0.9v0.9h-0.9zM161.6 83.8h0.9v0.9h-0.9zM167.9 74.9h0.9v0.9h-0.9zM165.9 79.1h0.9v0.9h-0.9zM166.3 76.6h0.9v0.9h-0.9zM160.5 77.9h0.9v0.9h-0.9zM168.0 80.5h0.9v0.9h-0.9zM167.3 81.6h0.9v0.9h-0.9zM161.6 77.7h0.9v0.9h-0.9zM166.2 81.3h0.9v0.9h-0.9zM165.5 79.6h0.9v0.9h-0.9zM165.5 85.1h0.9v0.9h-0.9zM157.4 77.7h0.9v0.9h-0.9zM173.6 78.6h0.9v0.9h-0.9zM158.6 78.3h0.9v0.9h-0.9zM160.0 75.4h0.9v0.9h-0.9zM165.8 83.7h0.9v0.9h-0.9zM166.6 80.1h0.9v0.9h-0.9zM168.5 78.5h0.9v0.9h-0.9zM162.0 77.5h0.9v0.9h-0.9zM166.2 76.8h0.9v0.9h-0.9zM162.7 76.6h0.9v0.9h-0.9zM159.8 74.2h0.9v0.9h-0.9zM164.7 76.5h0.9v0.9h-0.9zM165.1 82.7h0.9v0.9h-0.9zM166.0 77.7h0.9v0.9h-0.9zM160.9 74.1h0.9v0.9h-0.9zM166.3 74.8h0.9v0.9h-0.9z" fill="#222" fill-opacity="0.338"/>
<rect x="115.5" y="19.4" width="74.5" height="68.1" fill="none" stroke="#999" stroke-width="1.0" />
<line x1="145.2" y1="19.4" x2="145.2" y2="87.5" stroke="#777" stroke-width="1.15" />
<line x1="115.5" y1="68.25" x2="190" y2="68.25" stroke="#777" stroke-width="1.15" />
<line x1="115.0" y1="87.5" x2="190" y2="87.5" stroke="#333" stroke-width="1.2" />
<line x1="113.7" y1="25.9" x2="115.5" y2="25.9" stroke="#222" stroke-width="1.0" />
<text x="113.2" y="27.4" font-size="4.3" text-anchor="end" font-weight="normal" fill="#999" >10⁵</text>
<line x1="113.7" y1="41.4" x2="115.5" y2="41.4" stroke="#222" stroke-width="1.0" />
<text x="113.2" y="42.9" font-size="4.3" text-anchor="end" font-weight="normal" fill="#999" >10⁴</text>
<line x1="113.7" y1="57.4" x2="115.5" y2="57.4" stroke="#222" stroke-width="1.0" />
<text x="113.2" y="58.9" font-size="4.3" text-anchor="end" font-weight="normal" fill="#999" >10³</text>
<line x1="113.7" y1="74.4" x2="115.5" y2="74.4" stroke="#222" stroke-width="1.0" />
<text x="113.2" y="75.9" font-size="4.3" text-anchor="end" font-weight="normal" fill="#999" >10²</text>
<line x1="113.7" y1="81.9" x2="115.5" y2="81.9" stroke="#222" stroke-width="1.0" />
<text x="113.2" y="83.4" font-size="4.3" text-anchor="end" font-weight="normal" fill="#999" >0</text>
<line x1="123.0" y1="87.5" x2="123.0" y2="89.1" stroke="#333" stroke-width="0.9" />
<text x="123.0" y="93.3" font-size="4.3" text-anchor="middle" font-weight="normal" fill="#999" >0</text>
<line x1="131.5" y1="87.5" x2="131.5" y2="89.1" stroke="#333" stroke-width="0.9" />
<text x="131.5" y="93.3" font-size="4.3" text-anchor="middle" font-weight="normal" fill="#999" >10²</text>
<line x1="148.0" y1="87.5" x2="148.0" y2="89.1" stroke="#333" stroke-width="0.9" />
<text x="148.0" y="93.3" font-size="4.3" text-anchor="middle" font-weight="normal" fill="#999" >10³</text>
<line x1="164.5" y1="87.5" x2="164.5" y2="89.1" stroke="#333" stroke-width="0.9" />
<text x="164.5" y="93.3" font-size="4.3" text-anchor="middle" font-weight="normal" fill="#999" >10⁴</text>
<line x1="181.0" y1="87.5" x2="181.0" y2="89.1" stroke="#333" stroke-width="0.9" />
<text x="181.0" y="93.3" font-size="4.3" text-anchor="middle" font-weight="normal" fill="#999" >10⁵</text>
<text x="117.5" y="25.099999999999998" font-size="4.9" text-anchor="start" font-weight="bold" fill="#111" stroke="#111" stroke-width="0.2">15</text>
<text x="189.0" y="25.099999999999998" font-size="4.9" text-anchor="end" font-weight="bold" fill="#111" stroke="#111" stroke-width="0.2">16.4</text>
<text x="117.5" y="86.1" font-size="4.9" text-anchor="start" font-weight="bold" fill="#111" stroke="#111" stroke-width="0.2">38.6</text>
<text x="189.2" y="86.1" font-size="4.9" text-anchor="end" font-weight="bold" fill="#111" stroke="#111" stroke-width="0.2">30.1</text>
<path d="M44.3 128.9h0.9v0.9h-0.9zM43.4 134.6h0.9v0.9h-0.9zM46.1 132.8h0.9v0.9h-0.9zM41.8 136.4h0.9v0.9h-0.9zM43.2 144.7h0.9v0.9h-0.9zM42.2 131.9h0.9v0.9h-0.9zM42.0 137.7h0.9v0.9h-0.9zM43.7 139.0h0.9v0.9h-0.9zM38.7 149.2h0.9v0.9h-0.9zM48.8 134.8h0.9v0.9h-0.9zM39.2 135.9h0.9v0.9h-0.9zM44.3 122.2h0.9v0.9h-0.9zM43.0 126.6h0.9v0.9h-0.9zM44.4 142.9h0.9v0.9h-0.9zM46.2 126.4h0.9v0.9h-0.9zM47.3 140.2h0.9v0.9h-0.9zM41.9 137.9h0.9v0.9h-0.9zM47.7 133.1h0.9v0.9h-0.9zM43.0 131.8h0.9v0.9h-0.9zM46.6 122.7h0.9v0.9h-0.9zM47.4 129.5h0.9v0.9h-0.9zM45.9 125.7h0.9v0.9h-0.9zM40.1 131.6h0.9v0.9h-0.9zM45.6 125.7h0.9v0.9h-0.9zM44.9 131.4h0.9v0.9h-0.9zM46.9 133.2h0.9v0.9h-0.9zM44.5 134.0h0.9v0.9h-0.9zM48.6 132.9h0.9v0.9h-0.9zM42.9 146.3h0.9v0.9h-0.9zM43.2 138.9h0.9v0.9h-0.9zM40.7 136.1h0.9v0.9h-0.9zM35.9 135.6h0.9v0.9h-0.9zM41.0 126.4h0.9v0.9h-0.9zM38.6 141.5h0.9v0.9h-0.9zM44.3 126.3h0.9v0.9h-0.9zM48.7 131.0h0.9v0.9h-0.9zM41.8 136.4h0.9v0.9h-0.9zM39.4 125.8h0.9v0.9h-0.9zM40.7 141.8h0.9v0.9h-0.9zM46.0 126.0h0.9v0.9h-0.9zM46.8 135.2h0.9v0.9h-0.9zM44.6 135.3h0.9v0.9h-0.9zM44.3 129.3h0.9v0.9h-0.9zM40.2 131.0h0.9v0.9h-0.9zM41.8 138.5h0.9v0.9h-0.9zM39.2 144.1h0.9v0.9h-0.9zM41.0 131.6h0.9v0.9h-0.9zM45.2 137.5h0.9v0.9h-0.9zM41.9 128.9h0.9v0.9h-0.9zM39.9 125.9h0.9v0.9h-0.9zM46.6 141.2h0.9v0.9h-0.9zM48.8 137.9h0.9v0.9h-0.9zM44.0 139.3h0.9v0.9h-0.9zM46.0 133.5h0.9v0.9h-0.9zM44.1 147.3h0.9v0.9h-0.9zM37.7 127.0h0.9v0.9h-0.9zM40.0 139.3h0.9v0.9h-0.9zM46.7 133.1h0.9v0.9h-0.9zM45.1 134.7h0.9v0.9h-0.9zM43.9 131.9h0.9v0.9h-0.9zM42.9 135.0h0.9v0.9h-0.9zM46.5 147.8h0.9v0.9h-0.9zM37.3 138.0h0.9v0.9h-0.9zM43.0 140.5h0.9v0.9h-0.9zM46.3 139.5h0.9v0.9h-0.9zM45.5 129.6h0.9v0.9h-0.9zM37.7 144.5h0.9v0.9h-0.9zM46.8 129.6h0.9v0.9h-0.9zM47.0 138.8h0.9v0.9h-0.9zM35.3 140.1h0.9v0.9h-0.9zM39.9 141.7h0.9v0.9h-0.9zM40.9 130.7h0.9v0.9h-0.9zM38.2 133.8h0.9v0.9h-0.9zM46.2 131.2h0.9v0.9h-0.9zM37.2 147.3h0.9v0.9h-0.9zM48.8 139.0h0.9v0.9h-0.9zM41.3 128.1h0.9v0.9h-0.9zM37.9 138.2h0.9v0.9h-0.9zM47.1 128.9h0.9v0.9h-0.9zM43.0 133.4h0.9v0.9h-0.9zM42.2 137.9h0.9v0.9h-0.9zM49.5 131.4h0.9v0.9h-0.9zM45.7 141.2h0.9v0.9h-0.9zM42.1 134.1h0.9v0.9h-0.9zM38.8 141.2h0.9v0.9h-0.9zM41.3 131.3h0.9v0.9h-0.9zM43.2 130.1h0.9v0.9h-0.9zM39.7 133.3h0.9v0.9h-0.9zM47.7 133.8h0.9v0.9h-0.9zM44.7 126.6h0.9v0.9h-0.9zM36.9 145.4h0.9v0.9h-0.9zM41.8 126.2h0.9v0.9h-0.9zM42.7 138.5h0.9v0.9h-0.9zM37.6 129.9h0.9v0.9h-0.9zM43.8 129.7h0.9v0.9h-0.9zM45.5 140.5h0.9v0.9h-0.9zM44.4 132.5h0.9v0.9h-0.9zM42.9 131.4h0.9v0.9h-0.9zM42.6 136.8h0.9v0.9h-0.9zM42.1 140.6h0.9v0.9h-0.9zM51.1 131.9h0.9v0.9h-0.9zM44.1 139.7h0.9v0.9h-0.9zM45.0 133.6h0.9v0.9h-0.9zM41.5 140.8h0.9v0.9h-0.9zM45.0 137.9h0.9v0.9h-0.9zM40.5 138.6h0.9v0.9h-0.9zM45.5 133.9h0.9v0.9h-0.9zM45.0 147.5h0.9v0.9h-0.9zM37.1 138.5h0.9v0.9h-0.9zM39.3 127.2h0.9v0.9h-0.9zM42.3 138.1h0.9v0.9h-0.9zM43.2 128.3h0.9v0.9h-0.9zM38.5 131.8h0.9v0.9h-0.9zM43.0 130.2h0.9v0.9h-0.9zM38.3 145.1h0.9v0.9h-0.9zM40.4 134.1h0.9v0.9h-0.9zM41.3 131.6h0.9v0.9h-0.9zM43.1 133.3h0.9v0.9h-0.9zM44.9 128.2h0.9v0.9h-0.9zM38.3 146.2h0.9v0.9h-0.9zM42.8 139.4h0.9v0.9h-0.9zM46.7 138.2h0.9v0.9h-0.9zM43.1 126.1h0.9v0.9h-0.9zM38.0 140.6h0.9v0.9h-0.9zM45.1 138.3h0.9v0.9h-0.9zM37.8 122.7h0.9v0.9h-0.9zM39.7 128.2h0.9v0.9h-0.9zM43.5 129.1h0.9v0.9h-0.9zM48.0 131.4h0.9v0.9h-0.9zM41.2 140.0h0.9v0.9h-0.9zM44.0 129.8h0.9v0.9h-0.9zM45.6 146.1h0.9v0.9h-0.9zM39.1 133.6h0.9v0.9h-0.9zM39.6 123.8h0.9v0.9h-0.9zM45.0 139.0h0.9v0.9h-0.9zM46.1 137.5h0.9v0.9h-0.9zM36.7 134.8h0.9v0.9h-0.9zM40.9 128.2h0.9v0.9h-0.9zM39.5 139.4h0.9v0.9h-0.9zM42.1 146.3h0.9v0.9h-0.9zM44.5 124.0h0.9v0.9h-0.9zM45.8 142.2h0.9v0.9h-0.9zM43.1 128.0h0.9v0.9h-0.9zM48.6 127.4h0.9v0.9h-0.9zM42.7 124.0h0.9v0.9h-0.9zM39.0 125.2h0.9v0.9h-0.9zM46.4 141.8h0.9v0.9h-0.9zM41.7 127.2h0.9v0.9h-0.9zM42.8 137.2h0.9v0.9h-0.9zM38.2 128.3h0.9v0.9h-0.9zM42.7 139.1h0.9v0.9h-0.9zM43.2 137.6h0.9v0.9h-0.9zM39.0 120.6h0.9v0.9h-0.9zM44.0 129.7h0.9v0.9h-0.9zM42.6 132.8h0.9v0.9h-0.9zM44.5 130.5h0.9v0.9h-0.9zM47.6 135.2h0.9v0.9h-0.9zM44.7 138.6h0.9v0.9h-0.9zM46.3 137.3h0.9v0.9h-0.9zM37.5 131.4h0.9v0.9h-0.9zM48.9 137.7h0.9v0.9h-0.9zM44.8 137.7h0.9v0.9h-0.9zM41.0 131.1h0.9v0.9h-0.9zM40.9 141.7h0.9v0.9h-0.9zM44.2 145.3h0.9v0.9h-0.9zM44.6 146.0h0.9v0.9h-0.9zM44.5 128.1h0.9v0.9h-0.9zM48.5 137.0h0.9v0.9h-0.9zM46.8 136.2h0.9v0.9h-0.9zM42.0 136.0h0.9v0.9h-0.9zM39.4 128.0h0.9v0.9h-0.9zM40.2 131.9h0.9v0.9h-0.9zM38.7 134.4h0.9v0.9h-0.9zM44.0 146.8h0.9v0.9h-0.9zM48.9 134.7h0.9v0.9h-0.9zM45.8 133.7h0.9v0.9h-0.9zM44.2 134.8h0.9v0.9h-0.9zM41.3 135.4h0.9v0.9h-0.9zM38.3 137.6h0.9v0.9h-0.9zM42.1 128.7h0.9v0.9h-0.9zM41.9 138.2h0.9v0.9h-0.9zM40.8 137.8h0.9v0.9h-0.9zM44.8 144.1h0.9v0.9h-0.9zM39.5 134.4h0.9v0.9h-0.9zM44.6 143.8h0.9v0.9h-0.9zM43.8 139.4h0.9v0.9h-0.9zM38.3 131.6h0.9v0.9h-0.9zM48.3 133.3h0.9v0.9h-0.9zM49.9 130.7h0.9v0.9h-0.9zM42.1 125.7h0.9v0.9h-0.9zM45.0 136.5h0.9v0.9h-0.9zM49.5 136.0h0.9v0.9h-0.9zM42.2 126.8h0.9v0.9h-0.9zM42.7 140.5h0.9v0.9h-0.9zM45.4 142.2h0.9v0.9h-0.9zM45.8 134.7h0.9v0.9h-0.9zM44.9 136.0h0.9v0.9h-0.9zM38.7 145.0h0.9v0.9h-0.9zM44.2 128.8h0.9v0.9h-0.9zM44.2 136.7h0.9v0.9h-0.9zM46.2 143.5h0.9v0.9h-0.9zM33.2 138.3h0.9v0.9h-0.9zM47.9 129.4h0.9v0.9h-0.9zM37.0 136.6h0.9v0.9h-0.9zM44.1 137.1h0.9v0.9h-0.9zM39.4 132.3h0.9v0.9h-0.9zM43.6 139.4h0.9v0.9h-0.9zM50.0 136.7h0.9v0.9h-0.9zM41.1 121.1h0.9v0.9h-0.9zM46.5 134.2h0.9v0.9h-0.9zM42.6 129.2h0.9v0.9h-0.9zM45.4 124.5h0.9v0.9h-0.9zM43.3 135.7h0.9v0.9h-0.9zM44.0 142.7h0.9v0.9h-0.9zM42.7 135.6h0.9v0.9h-0.9zM45.8 125.9h0.9v0.9h-0.9zM42.1 135.4h0.9v0.9h-0.9zM46.1 130.3h0.9v0.9h-0.9zM45.6 137.3h0.9v0.9h-0.9zM38.2 126.3h0.9v0.9h-0.9zM38.4 135.8h0.9v0.9h-0.9zM43.7 139.3h0.9v0.9h-0.9zM45.6 131.7h0.9v0.9h-0.9zM46.4 139.8h0.9v0.9h-0.9zM44.5 137.8h0.9v0.9h-0.9zM38.8 137.1h0.9v0.9h-0.9zM39.7 128.0h0.9v0.9h-0.9zM41.9 135.8h0.9v0.9h-0.9zM42.8 133.1h0.9v0.9h-0.9zM39.8 136.1h0.9v0.9h-0.9z" fill="#444" fill-opacity="0.332" filter="url(#soft)"/>
<path d="M44.3 128.9h0.9v0.9h-0.9zM43.4 134.6h0.9v0.9h-0.9zM46.1 132.8h0.9v0.9h-0.9zM41.8 136.4h0.9v0.9h-0.9zM43.2 144.7h0.9v0.9h-0.9zM42.2 131.9h0.9v0.9h-0.9zM42.0 137.7h0.9v0.9h-0.9zM43.7 139.0h0.9v0.9h-0.9zM38.7 149.2h0.9v0.9h-0.9zM48.8 134.8h0.9v0.9h-0.9zM39.2 135.9h0.9v0.9h-0.9zM44.3 122.2h0.9v0.9h-0.9zM43.0 126.6h0.9v0.9h-0.9zM44.4 142.9h0.9v0.9h-0.9zM46.2 126.4h0.9v0.9h-0.9zM47.3 140.2h0.9v0.9h-0.9zM41.9 137.9h0.9v0.9h-0.9zM47.7 133.1h0.9v0.9h-0.9zM43.0 131.8h0.9v0.9h-0.9zM46.6 122.7h0.9v0.9h-0.9zM47.4 129.5h0.9v0.9h-0.9zM45.9 125.7h0.9v0.9h-0.9zM40.1 131.6h0.9v0.9h-0.9zM45.6 125.7h0.9v0.9h-0.9zM44.9 131.4h0.9v0.9h-0.9zM46.9 133.2h0.9v0.9h-0.9zM44.5 134.0h0.9v0.9h-0.9zM48.6 132.9h0.9v0.9h-0.9zM42.9 146.3h0.9v0.9h-0.9zM43.2 138.9h0.9v0.9h-0.9zM40.7 136.1h0.9v0.9h-0.9zM35.9 135.6h0.9v0.9h-0.9zM41.0 126.4h0.9v0.9h-0.9zM38.6 141.5h0.9v0.9h-0.9zM44.3 126.3h0.9v0.9h-0.9zM48.7 131.0h0.9v0.9h-0.9zM41.8 136.4h0.9v0.9h-0.9zM39.4 125.8h0.9v0.9h-0.9zM40.7 141.8h0.9v0.9h-0.9zM46.0 126.0h0.9v0.9h-0.9zM46.8 135.2h0.9v0.9h-0.9zM44.6 135.3h0.9v0.9h-0.9zM44.3 129.3h0.9v0.9h-0.9zM40.2 131.0h0.9v0.9h-0.9zM41.8 138.5h0.9v0.9h-0.9zM39.2 144.1h0.9v0.9h-0.9zM41.0 131.6h0.9v0.9h-0.9zM45.2 137.5h0.9v0.9h-0.9zM41.9 128.9h0.9v0.9h-0.9zM39.9 125.9h0.9v0.9h-0.9zM46.6 141.2h0.9v0.9h-0.9zM48.8 137.9h0.9v0.9h-0.9zM44.0 139.3h0.9v0.9h-0.9zM46.0 133.5h0.9v0.9h-0.9zM44.1 147.3h0.9v0.9h-0.9zM37.7 127.0h0.9v0.9h-0.9zM40.0 139.3h0.9v0.9h-0.9zM46.7 133.1h0.9v0.9h-0.9zM45.1 134.7h0.9v0.9h-0.9zM43.9 131.9h0.9v0.9h-0.9zM42.9 135.0h0.9v0.9h-0.9zM46.5 147.8h0.9v0.9h-0.9zM37.3 138.0h0.9v0.9h-0.9zM43.0 140.5h0.9v0.9h-0.9zM46.3 139.5h0.9v0.9h-0.9zM45.5 129.6h0.9v0.9h-0.9zM37.7 144.5h0.9v0.9h-0.9zM46.8 129.6h0.9v0.9h-0.9zM47.0 138.8h0.9v0.9h-0.9zM35.3 140.1h0.9v0.9h-0.9zM39.9 141.7h0.9v0.9h-0.9zM40.9 130.7h0.9v0.9h-0.9zM38.2 133.8h0.9v0.9h-0.9zM46.2 131.2h0.9v0.9h-0.9zM37.2 147.3h0.9v0.9h-0.9zM48.8 139.0h0.9v0.9h-0.9zM41.3 128.1h0.9v0.9h-0.9zM37.9 138.2h0.9v0.9h-0.9zM47.1 128.9h0.9v0.9h-0.9zM43.0 133.4h0.9v0.9h-0.9zM42.2 137.9h0.9v0.9h-0.9zM49.5 131.4h0.9v0.9h-0.9zM45.7 141.2h0.9v0.9h-0.9zM42.1 134.1h0.9v0.9h-0.9zM38.8 141.2h0.9v0.9h-0.9zM41.3 131.3h0.9v0.9h-0.9zM43.2 130.1h0.9v0.9h-0.9zM39.7 133.3h0.9v0.9h-0.9zM47.7 133.8h0.9v0.9h-0.9zM44.7 126.6h0.9v0.9h-0.9zM36.9 145.4h0.9v0.9h-0.9zM41.8 126.2h0.9v0.9h-0.9zM42.7 138.5h0.9v0.9h-0.9zM37.6 129.9h0.9v0.9h-0.9zM43.8 129.7h0.9v0.9h-0.9zM45.5 140.5h0.9v0.9h-0.9zM44.4 132.5h0.9v0.9h-0.9zM42.9 131.4h0.9v0.9h-0.9zM42.6 136.8h0.9v0.9h-0.9zM42.1 140.6h0.9v0.9h-0.9zM51.1 131.9h0.9v0.9h-0.9zM44.1 139.7h0.9v0.9h-0.9zM45.0 133.6h0.9v0.9h-0.9zM41.5 140.8h0.9v0.9h-0.9zM45.0 137.9h0.9v0.9h-0.9zM40.5 138.6h0.9v0.9h-0.9zM45.5 133.9h0.9v0.9h-0.9zM45.0 147.5h0.9v0.9h-0.9zM37.1 138.5h0.9v0.9h-0.9zM39.3 127.2h0.9v0.9h-0.9zM42.3 138.1h0.9v0.9h-0.9zM43.2 128.3h0.9v0.9h-0.9zM38.5 131.8h0.9v0.9h-0.9zM43.0 130.2h0.9v0.9h-0.9zM38.3 145.1h0.9v0.9h-0.9zM40.4 134.1h0.9v0.9h-0.9zM41.3 131.6h0.9v0.9h-0.9zM43.1 133.3h0.9v0.9h-0.9zM44.9 128.2h0.9v0.9h-0.9zM38.3 146.2h0.9v0.9h-0.9zM42.8 139.4h0.9v0.9h-0.9zM46.7 138.2h0.9v0.9h-0.9zM43.1 126.1h0.9v0.9h-0.9zM38.0 140.6h0.9v0.9h-0.9zM45.1 138.3h0.9v0.9h-0.9zM37.8 122.7h0.9v0.9h-0.9zM39.7 128.2h0.9v0.9h-0.9zM43.5 129.1h0.9v0.9h-0.9zM48.0 131.4h0.9v0.9h-0.9zM41.2 140.0h0.9v0.9h-0.9zM44.0 129.8h0.9v0.9h-0.9zM45.6 146.1h0.9v0.9h-0.9zM39.1 133.6h0.9v0.9h-0.9zM39.6 123.8h0.9v0.9h-0.9zM45.0 139.0h0.9v0.9h-0.9zM46.1 137.5h0.9v0.9h-0.9zM36.7 134.8h0.9v0.9h-0.9zM40.9 128.2h0.9v0.9h-0.9zM39.5 139.4h0.9v0.9h-0.9zM42.1 146.3h0.9v0.9h-0.9zM44.5 124.0h0.9v0.9h-0.9zM45.8 142.2h0.9v0.9h-0.9zM43.1 128.0h0.9v0.9h-0.9zM48.6 127.4h0.9v0.9h-0.9zM42.7 124.0h0.9v0.9h-0.9zM39.0 125.2h0.9v0.9h-0.9zM46.4 141.8h0.9v0.9h-0.9zM41.7 127.2h0.9v0.9h-0.9zM42.8 137.2h0.9v0.9h-0.9zM38.2 128.3h0.9v0.9h-0.9zM42.7 139.1h0.9v0.9h-0.9zM43.2 137.6h0.9v0.9h-0.9zM39.0 120.6h0.9v0.9h-0.9zM44.0 129.7h0.9v0.9h-0.9zM42.6 132.8h0.9v0.9h-0.9zM44.5 130.5h0.9v0.9h-0.9zM47.6 135.2h0.9v0.9h-0.9zM44.7 138.6h0.9v0.9h-0.9zM46.3 137.3h0.9v0.9h-0.9zM37.5 131.4h0.9v0.9h-0.9zM48.9 137.7h0.9v0.9h-0.9zM44.8 137.7h0.9v0.9h-0.9zM41.0 131.1h0.9v0.9h-0.9zM40.9 141.7h0.9v0.9h-0.9zM44.2 145.3h0.9v0.9h-0.9zM44.6 146.0h0.9v0.9h-0.9zM44.5 128.1h0.9v0.9h-0.9zM48.5 137.0h0.9v0.9h-0.9zM46.8 136.2h0.9v0.9h-0.9zM42.0 136.0h0.9v0.9h-0.9zM39.4 128.0h0.9v0.9h-0.9zM40.2 131.9h0.9v0.9h-0.9zM38.7 134.4h0.9v0.9h-0.9zM44.0 146.8h0.9v0.9h-0.9zM48.9 134.7h0.9v0.9h-0.9zM45.8 133.7h0.9v0.9h-0.9zM44.2 134.8h0.9v0.9h-0.9zM41.3 135.4h0.9v0.9h-0.9zM38.3 137.6h0.9v0.9h-0.9zM42.1 128.7h0.9v0.9h-0.9zM41.9 138.2h0.9v0.9h-0.9zM40.8 137.8h0.9v0.9h-0.9zM44.8 144.1h0.9v0.9h-0.9zM39.5 134.4h0.9v0.9h-0.9zM44.6 143.8h0.9v0.9h-0.9zM43.8 139.4h0.9v0.9h-0.9zM38.3 131.6h0.9v0.9h-0.9zM48.3 133.3h0.9v0.9h-0.9zM49.9 130.7h0.9v0.9h-0.9zM42.1 125.7h0.9v0.9h-0.9zM45.0 136.5h0.9v0.9h-0.9zM49.5 136.0h0.9v0.9h-0.9zM42.2 126.8h0.9v0.9h-0.9zM42.7 140.5h0.9v0.9h-0.9zM45.4 142.2h0.9v0.9h-0.9zM45.8 134.7h0.9v0.9h-0.9zM44.9 136.0h0.9v0.9h-0.9zM38.7 145.0h0.9v0.9h-0.9zM44.2 128.8h0.9v0.9h-0.9zM44.2 136.7h0.9v0.9h-0.9zM46.2 143.5h0.9v0.9h-0.9zM33.2 138.3h0.9v0.9h-0.9zM47.9 129.4h0.9v0.9h-0.9zM37.0 136.6h0.9v0.9h-0.9zM44.1 137.1h0.9v0.9h-0.9zM39.4 132.3h0.9v0.9h-0.9zM43.6 139.4h0.9v0.9h-0.9zM50.0 136.7h0.9v0.9h-0.9zM41.1 121.1h0.9v0.9h-0.9zM46.5 134.2h0.9v0.9h-0.9zM42.6 129.2h0.9v0.9h-0.9zM45.4 124.5h0.9v0.9h-0.9zM43.3 135.7h0.9v0.9h-0.9zM44.0 142.7h0.9v0.9h-0.9zM42.7 135.6h0.9v0.9h-0.9zM45.8 125.9h0.9v0.9h-0.9zM42.1 135.4h0.9v0.9h-0.9zM46.1 130.3h0.9v0.9h-0.9zM45.6 137.3h0.9v0.9h-0.9zM38.2 126.3h0.9v0.9h-0.9zM38.4 135.8h0.9v0.9h-0.9zM43.7 139.3h0.9v0.9h-0.9zM45.6 131.7h0.9v0.9h-0.9zM46.4 139.8h0.9v0.9h-0.9zM44.5 137.8h0.9v0.9h-0.9zM38.8 137.1h0.9v0.9h-0.9zM39.7 128.0h0.9v0.9h-0.9zM41.9 135.8h0.9v0.9h-0.9zM42.8 133.1h0.9v0.9h-0.9zM39.8 136.1h0.9v0.9h-0.9z" fill="#444" fill-opacity="0.332"/>
<path d="M70.0 129.3h0.9v0.9h-0.9zM73.2 144.9h0.9v0.9h-0.9zM71.3 131.2h0.9v0.9h-0.9zM78.0 146.4h0.9v0.9h-0.9zM71.7 135.8h0.9v0.9h-0.9zM73.6 153.1h0.9v0.9h-0.9zM73.3 142.4h0.9v0.9h-0.9zM74.5 127.0h0.9v0.9h-0.9zM68.6 130.3h0.9v0.9h-0.9zM74.4 137.6h0.9v0.9h-0.9zM79.6 135.5h0.9v0.9h-0.9zM74.0 137.4h0.9v0.9h-0.9zM73.3 149.7h0.9v0.9h-0.9zM73.9 145.1h0.9v0.9h-0.9zM77.7 133.7h0.9v0.9h-0.9zM75.4 134.9h0.9v0.9h-0.9zM73.2 137.9h0.9v0.9h-0.9zM72.9 134.4h0.9v0.9h-0.9zM78.7 135.5h0.9v0.9h-0.9zM75.5 146.2h0.9v0.9h-0.9zM75.2 142.6h0.9v0.9h-0.9zM78.1 143.0h0.9v0.9h-0.9zM79.3 129.2h0.9v0.9h-0.9zM80.2 137.2h0.9v0.9h-0.9zM66.2 133.5h0.9v0.9h-0.9zM67.5 136.9h0.9v0.9h-0.9zM67.1 131.5h0.9v0.9h-0.9zM73.9 137.9h0.9v0.9h-0.9zM69.8 135.7h0.9v0.9h-0.9zM72.4 137.4h0.9v0.9h-0.9zM72.8 135.8h0.9v0.9h-0.9zM76.1 128.2h0.9v0.9h-0.9zM70.9 137.7h0.9v0.9h-0.9zM71.3 134.0h0.9v0.9h-0.9zM71.1 138.1h0.9v0.9h-0.9zM77.5 136.0h0.9v0.9h-0.9zM71.8 139.0h0.9v0.9h-0.9zM71.9 126.4h0.9v0.9h-0.9zM73.8 134.9h0.9v0.9h-0.9zM70.6 140.5h0.9v0.9h-0.9zM73.0 133.9h0.9v0.9h-0.9zM64.5 127.5h0.9v0.9h-0.9zM72.9 136.4h0.9v0.9h-0.9zM74.5 138.2h0.9v0.9h-0.9zM71.0 130.0h0.9v0.9h-0.9zM68.6 136.2h0.9v0.9h-0.9zM68.4 141.2h0.9v0.9h-0.9zM67.8 127.2h0.9v0.9h-0.9zM72.1 127.2h0.9v0.9h-0.9zM79.0 131.5h0.9v0.9h-0.9zM72.6 135.7h0.9v0.9h-0.9zM69.7 127.3h0.9v0.9h-0.9zM65.7 141.8h0.9v0.9h-0.9zM76.7 148.9h0.9v0.9h-0.9zM67.2 140.1h0.9v0.9h-0.9zM72.7 141.6h0.9v0.9h-0.9zM70.8 141.0h0.9v0.9h-0.9zM76.2 140.3h0.9v0.9h-0.9zM78.3 136.0h0.9v0.9h-0.9zM78.7 133.1h0.9v0.9h-0.9zM79.1 121.9h0.9v0.9h-0.9zM72.9 132.6h0.9v0.9h-0.9zM72.8 142.7h0.9v0.9h-0.9zM75.5 137.5h0.9v0.9h-0.9zM79.3 128.9h0.9v0.9h-0.9zM69.7 145.3h0.9v0.9h-0.9zM74.0 125.6h0.9v0.9h-0.9zM74.1 130.5h0.9v0.9h-0.9zM78.4 143.3h0.9v0.9h-0.9zM70.7 144.1h0.9v0.9h-0.9zM69.6 142.1h0.9v0.9h-0.9zM75.0 136.3h0.9v0.9h-0.9zM67.4 135.5h0.9v0.9h-0.9zM64.1 133.9h0.9v0.9h-0.9zM65.8 143.7h0.9v0.9h-0.9zM69.1 123.6h0.9v0.9h-0.9zM75.0 139.0h0.9v0.9h-0.9zM70.9 148.6h0.9v0.9h-0.9zM75.7 137.4h0.9v0.9h-0.9zM70.3 120.7h0.9v0.9h-0.9zM74.6 142.3h0.9v0.9h-0.9zM70.5 129.2h0.9v0.9h-0.9zM72.6 127.8h0.9v0.9h-0.9zM72.8 141.2h0.9v0.9h-0.9zM78.5 138.5h0.9v0.9h-0.9zM73.5 141.1h0.9v0.9h-0.9zM78.1 135.2h0.9v0.9h-0.9zM68.1 132.6h0.9v0.9h-0.9zM68.0 132.1h0.9v0.9h-0.9zM72.3 138.9h0.9v0.9h-0.9zM73.4 137.4h0.9v0.9h-0.9zM71.4 139.3h0.9v0.9h-0.9zM76.2 141.2h0.9v0.9h-0.9zM78.5 135.4h0.9v0.9h-0.9zM71.8 146.3h0.9v0.9h-0.9zM73.6 139.3h0.9v0.9h-0.9zM71.5 142.3h0.9v0.9h-0.9zM71.3 131.5h0.9v0.9h-0.9zM72.6 134.6h0.9v0.9h-0.9zM76.0 134.9h0.9v0.9h-0.9zM73.3 135.8h0.9v0.9h-0.9zM74.1 133.5h0.9v0.9h-0.9zM77.0 129.2h0.9v0.9h-0.9zM71.3 133.1h0.9v0.9h-0.9zM75.3 137.2h0.9v0.9h-0.9zM74.6 135.2h0.9v0.9h-0.9zM70.1 130.8h0.9v0.9h-0.9zM71.5 134.1h0.9v0.9h-0.9zM73.9 139.0h0.9v0.9h-0.9zM76.5 136.4h0.9v0.9h-0.9zM69.9 131.2h0.9v0.9h-0.9zM73.0 139.0h0.9v0.9h-0.9zM80.2 138.0h0.9v0.9h-0.9zM79.5 147.3h0.9v0.9h-0.9zM68.8 143.7h0.9v0.9h-0.9zM77.1 144.4h0.9v0.9h-0.9zM72.8 142.3h0.9v0.9h-0.9zM71.0 136.6h0.9v0.9h-0.9zM72.9 146.8h0.9v0.9h-0.9zM72.0 142.3h0.9v0.9h-0.9zM73.1 133.1h0.9v0.9h-0.9zM73.7 140.6h0.9v0.9h-0.9zM70.1 140.5h0.9v0.9h-0.9zM70.1 132.2h0.9v0.9h-0.9zM73.6 135.7h0.9v0.9h-0.9zM69.1 128.0h0.9v0.9h-0.9zM72.9 138.3h0.9v0.9h-0.9zM71.1 138.0h0.9v0.9h-0.9zM67.0 139.2h0.9v0.9h-0.9zM74.4 138.5h0.9v0.9h-0.9zM70.5 137.4h0.9v0.9h-0.9zM73.3 142.9h0.9v0.9h-0.9zM73.9 138.4h0.9v0.9h-0.9zM70.0 141.7h0.9v0.9h-0.9zM77.3 134.3h0.9v0.9h-0.9zM75.2 138.7h0.9v0.9h-0.9zM72.6 129.9h0.9v0.9h-0.9zM79.5 126.7h0.9v0.9h-0.9zM74.0 134.9h0.9v0.9h-0.9zM77.2 134.7h0.9v0.9h-0.9zM73.0 140.4h0.9v0.9h-0.9zM74.5 134.1h0.9v0.9h-0.9zM75.4 139.2h0.9v0.9h-0.9zM76.6 134.2h0.9v0.9h-0.9zM72.6 134.9h0.9v0.9h-0.9zM69.6 138.4h0.9v0.9h-0.9zM74.4 144.8h0.9v0.9h-0.9zM71.6 139.1h0.9v0.9h-0.9zM77.1 136.4h0.9v0.9h-0.9zM73.0 137.7h0.9v0.9h-0.9z" fill="#444" fill-opacity="0.279" filter="url(#soft)"/>
<path d="M70.0 129.3h0.9v0.9h-0.9zM73.2 144.9h0.9v0.9h-0.9zM71.3 131.2h0.9v0.9h-0.9zM78.0 146.4h0.9v0.9h-0.9zM71.7 135.8h0.9v0.9h-0.9zM73.6 153.1h0.9v0.9h-0.9zM73.3 142.4h0.9v0.9h-0.9zM74.5 127.0h0.9v0.9h-0.9zM68.6 130.3h0.9v0.9h-0.9zM74.4 137.6h0.9v0.9h-0.9zM79.6 135.5h0.9v0.9h-0.9zM74.0 137.4h0.9v0.9h-0.9zM73.3 149.7h0.9v0.9h-0.9zM73.9 145.1h0.9v0.9h-0.9zM77.7 133.7h0.9v0.9h-0.9zM75.4 134.9h0.9v0.9h-0.9zM73.2 137.9h0.9v0.9h-0.9zM72.9 134.4h0.9v0.9h-0.9zM78.7 135.5h0.9v0.9h-0.9zM75.5 146.2h0.9v0.9h-0.9zM75.2 142.6h0.9v0.9h-0.9zM78.1 143.0h0.9v0.9h-0.9zM79.3 129.2h0.9v0.9h-0.9zM80.2 137.2h0.9v0.9h-0.9zM66.2 133.5h0.9v0.9h-0.9zM67.5 136.9h0.9v0.9h-0.9zM67.1 131.5h0.9v0.9h-0.9zM73.9 137.9h0.9v0.9h-0.9zM69.8 135.7h0.9v0.9h-0.9zM72.4 137.4h0.9v0.9h-0.9zM72.8 135.8h0.9v0.9h-0.9zM76.1 128.2h0.9v0.9h-0.9zM70.9 137.7h0.9v0.9h-0.9zM71.3 134.0h0.9v0.9h-0.9zM71.1 138.1h0.9v0.9h-0.9zM77.5 136.0h0.9v0.9h-0.9zM71.8 139.0h0.9v0.9h-0.9zM71.9 126.4h0.9v0.9h-0.9zM73.8 134.9h0.9v0.9h-0.9zM70.6 140.5h0.9v0.9h-0.9zM73.0 133.9h0.9v0.9h-0.9zM64.5 127.5h0.9v0.9h-0.9zM72.9 136.4h0.9v0.9h-0.9zM74.5 138.2h0.9v0.9h-0.9zM71.0 130.0h0.9v0.9h-0.9zM68.6 136.2h0.9v0.9h-0.9zM68.4 141.2h0.9v0.9h-0.9zM67.8 127.2h0.9v0.9h-0.9zM72.1 127.2h0.9v0.9h-0.9zM79.0 131.5h0.9v0.9h-0.9zM72.6 135.7h0.9v0.9h-0.9zM69.7 127.3h0.9v0.9h-0.9zM65.7 141.8h0.9v0.9h-0.9zM76.7 148.9h0.9v0.9h-0.9zM67.2 140.1h0.9v0.9h-0.9zM72.7 141.6h0.9v0.9h-0.9zM70.8 141.0h0.9v0.9h-0.9zM76.2 140.3h0.9v0.9h-0.9zM78.3 136.0h0.9v0.9h-0.9zM78.7 133.1h0.9v0.9h-0.9zM79.1 121.9h0.9v0.9h-0.9zM72.9 132.6h0.9v0.9h-0.9zM72.8 142.7h0.9v0.9h-0.9zM75.5 137.5h0.9v0.9h-0.9zM79.3 128.9h0.9v0.9h-0.9zM69.7 145.3h0.9v0.9h-0.9zM74.0 125.6h0.9v0.9h-0.9zM74.1 130.5h0.9v0.9h-0.9zM78.4 143.3h0.9v0.9h-0.9zM70.7 144.1h0.9v0.9h-0.9zM69.6 142.1h0.9v0.9h-0.9zM75.0 136.3h0.9v0.9h-0.9zM67.4 135.5h0.9v0.9h-0.9zM64.1 133.9h0.9v0.9h-0.9zM65.8 143.7h0.9v0.9h-0.9zM69.1 123.6h0.9v0.9h-0.9zM75.0 139.0h0.9v0.9h-0.9zM70.9 148.6h0.9v0.9h-0.9zM75.7 137.4h0.9v0.9h-0.9zM70.3 120.7h0.9v0.9h-0.9zM74.6 142.3h0.9v0.9h-0.9zM70.5 129.2h0.9v0.9h-0.9zM72.6 127.8h0.9v0.9h-0.9zM72.8 141.2h0.9v0.9h-0.9zM78.5 138.5h0.9v0.9h-0.9zM73.5 141.1h0.9v0.9h-0.9zM78.1 135.2h0.9v0.9h-0.9zM68.1 132.6h0.9v0.9h-0.9zM68.0 132.1h0.9v0.9h-0.9zM72.3 138.9h0.9v0.9h-0.9zM73.4 137.4h0.9v0.9h-0.9zM71.4 139.3h0.9v0.9h-0.9zM76.2 141.2h0.9v0.9h-0.9zM78.5 135.4h0.9v0.9h-0.9zM71.8 146.3h0.9v0.9h-0.9zM73.6 139.3h0.9v0.9h-0.9zM71.5 142.3h0.9v0.9h-0.9zM71.3 131.5h0.9v0.9h-0.9zM72.6 134.6h0.9v0.9h-0.9zM76.0 134.9h0.9v0.9h-0.9zM73.3 135.8h0.9v0.9h-0.9zM74.1 133.5h0.9v0.9h-0.9zM77.0 129.2h0.9v0.9h-0.9zM71.3 133.1h0.9v0.9h-0.9zM75.3 137.2h0.9v0.9h-0.9zM74.6 135.2h0.9v0.9h-0.9zM70.1 130.8h0.9v0.9h-0.9zM71.5 134.1h0.9v0.9h-0.9zM73.9 139.0h0.9v0.9h-0.9zM76.5 136.4h0.9v0.9h-0.9zM69.9 131.2h0.9v0.9h-0.9zM73.0 139.0h0.9v0.9h-0.9zM80.2 138.0h0.9v0.9h-0.9zM79.5 147.3h0.9v0.9h-0.9zM68.8 143.7h0.9v0.9h-0.9zM77.1 144.4h0.9v0.9h-0.9zM72.8 142.3h0.9v0.9h-0.9zM71.0 136.6h0.9v0.9h-0.9zM72.9 146.8h0.9v0.9h-0.9zM72.0 142.3h0.9v0.9h-0.9zM73.1 133.1h0.9v0.9h-0.9zM73.7 140.6h0.9v0.9h-0.9zM70.1 140.5h0.9v0.9h-0.9zM70.1 132.2h0.9v0.9h-0.9zM73.6 135.7h0.9v0.9h-0.9zM69.1 128.0h0.9v0.9h-0.9zM72.9 138.3h0.9v0.9h-0.9zM71.1 138.0h0.9v0.9h-0.9zM67.0 139.2h0.9v0.9h-0.9zM74.4 138.5h0.9v0.9h-0.9zM70.5 137.4h0.9v0.9h-0.9zM73.3 142.9h0.9v0.9h-0.9zM73.9 138.4h0.9v0.9h-0.9zM70.0 141.7h0.9v0.9h-0.9zM77.3 134.3h0.9v0.9h-0.9zM75.2 138.7h0.9v0.9h-0.9zM72.6 129.9h0.9v0.9h-0.9zM79.5 126.7h0.9v0.9h-0.9zM74.0 134.9h0.9v0.9h-0.9zM77.2 134.7h0.9v0.9h-0.9zM73.0 140.4h0.9v0.9h-0.9zM74.5 134.1h0.9v0.9h-0.9zM75.4 139.2h0.9v0.9h-0.9zM76.6 134.2h0.9v0.9h-0.9zM72.6 134.9h0.9v0.9h-0.9zM69.6 138.4h0.9v0.9h-0.9zM74.4 144.8h0.9v0.9h-0.9zM71.6 139.1h0.9v0.9h-0.9zM77.1 136.4h0.9v0.9h-0.9zM73.0 137.7h0.9v0.9h-0.9z" fill="#444" fill-opacity="0.279"/>
<path d="M41.2 155.4h0.9v0.9h-0.9zM47.3 159.0h0.9v0.9h-0.9zM43.2 154.7h0.9v0.9h-0.9zM43.9 162.1h0.9v0.9h-0.9zM39.6 155.7h0.9v0.9h-0.9zM47.3 162.9h0.9v0.9h-0.9zM48.8 156.8h0.9v0.9h-0.9zM45.5 156.2h0.9v0.9h-0.9zM45.3 157.4h0.9v0.9h-0.9zM44.2 162.6h0.9v0.9h-0.9zM44.6 157.8h0.9v0.9h-0.9zM43.7 159.3h0.9v0.9h-0.9zM41.8 159.1h0.9v0.9h-0.9zM45.5 163.3h0.9v0.9h-0.9zM36.5 154.8h0.9v0.9h-0.9zM39.3 161.2h0.9v0.9h-0.9zM51.8 159.1h0.9v0.9h-0.9zM43.9 162.0h0.9v0.9h-0.9zM35.2 157.9h0.9v0.9h-0.9zM33.0 159.0h0.9v0.9h-0.9zM41.8 157.0h0.9v0.9h-0.9zM44.6 156.7h0.9v0.9h-0.9zM47.3 158.5h0.9v0.9h-0.9zM44.8 166.3h0.9v0.9h-0.9zM42.0 161.4h0.9v0.9h-0.9zM40.7 162.3h0.9v0.9h-0.9zM46.8 158.9h0.9v0.9h-0.9zM46.8 163.5h0.9v0.9h-0.9zM48.2 158.5h0.9v0.9h-0.9zM43.3 161.9h0.9v0.9h-0.9zM38.5 156.6h0.9v0.9h-0.9zM45.1 160.3h0.9v0.9h-0.9zM49.8 163.9h0.9v0.9h-0.9zM44.6 159.9h0.9v0.9h-0.9zM39.1 157.9h0.9v0.9h-0.9zM44.4 157.8h0.9v0.9h-0.9zM43.7 160.4h0.9v0.9h-0.9zM40.3 156.8h0.9v0.9h-0.9zM37.5 162.0h0.9v0.9h-0.9zM39.9 153.3h0.9v0.9h-0.9zM46.1 157.8h0.9v0.9h-0.9zM46.8 157.4h0.9v0.9h-0.9zM50.7 160.7h0.9v0.9h-0.9zM44.0 158.9h0.9v0.9h-0.9zM42.8 161.0h0.9v0.9h-0.9zM50.2 157.2h0.9v0.9h-0.9zM39.8 160.3h0.9v0.9h-0.9zM47.1 153.9h0.9v0.9h-0.9zM41.2 155.4h0.9v0.9h-0.9zM45.4 160.0h0.9v0.9h-0.9zM41.0 155.0h0.9v0.9h-0.9zM45.8 152.2h0.9v0.9h-0.9zM45.7 158.0h0.9v0.9h-0.9zM49.9 161.5h0.9v0.9h-0.9zM41.6 157.7h0.9v0.9h-0.9zM42.6 156.3h0.9v0.9h-0.9zM43.8 161.5h0.9v0.9h-0.9zM38.4 157.8h0.9v0.9h-0.9zM48.5 160.8h0.9v0.9h-0.9zM40.8 156.0h0.9v0.9h-0.9zM40.6 153.6h0.9v0.9h-0.9zM47.4 158.7h0.9v0.9h-0.9zM41.2 154.1h0.9v0.9h-0.9zM42.2 156.9h0.9v0.9h-0.9zM49.3 157.1h0.9v0.9h-0.9zM43.9 161.8h0.9v0.9h-0.9zM45.7 157.9h0.9v0.9h-0.9zM36.2 162.8h0.9v0.9h-0.9zM45.5 157.2h0.9v0.9h-0.9zM43.2 155.6h0.9v0.9h-0.9zM40.5 154.0h0.9v0.9h-0.9zM45.2 160.1h0.9v0.9h-0.9zM44.1 160.9h0.9v0.9h-0.9zM45.3 158.9h0.9v0.9h-0.9zM40.5 160.3h0.9v0.9h-0.9zM47.5 160.4h0.9v0.9h-0.9zM47.7 157.1h0.9v0.9h-0.9zM40.2 162.3h0.9v0.9h-0.9zM41.6 159.2h0.9v0.9h-0.9zM42.9 158.6h0.9v0.9h-0.9zM42.6 156.9h0.9v0.9h-0.9zM37.5 164.3h0.9v0.9h-0.9zM44.2 152.6h0.9v0.9h-0.9zM40.5 155.1h0.9v0.9h-0.9zM41.0 150.7h0.9v0.9h-0.9zM45.4 163.5h0.9v0.9h-0.9zM42.7 160.8h0.9v0.9h-0.9zM45.5 154.7h0.9v0.9h-0.9zM47.6 153.4h0.9v0.9h-0.9zM41.6 157.4h0.9v0.9h-0.9zM47.7 158.9h0.9v0.9h-0.9zM43.1 156.1h0.9v0.9h-0.9zM43.8 158.6h0.9v0.9h-0.9zM45.9 162.7h0.9v0.9h-0.9zM46.0 158.6h0.9v0.9h-0.9zM43.0 163.4h0.9v0.9h-0.9zM44.2 158.5h0.9v0.9h-0.9zM49.5 163.3h0.9v0.9h-0.9zM45.4 158.2h0.9v0.9h-0.9zM41.4 161.7h0.9v0.9h-0.9zM42.0 161.4h0.9v0.9h-0.9zM40.9 158.8h0.9v0.9h-0.9zM44.8 158.9h0.9v0.9h-0.9zM44.3 159.7h0.9v0.9h-0.9zM39.8 155.1h0.9v0.9h-0.9zM43.0 164.0h0.9v0.9h-0.9zM43.1 155.7h0.9v0.9h-0.9zM41.3 158.6h0.9v0.9h-0.9zM47.4 156.8h0.9v0.9h-0.9zM45.4 159.1h0.9v0.9h-0.9zM42.3 155.6h0.9v0.9h-0.9zM43.0 156.3h0.9v0.9h-0.9zM45.3 153.2h0.9v0.9h-0.9zM47.2 160.8h0.9v0.9h-0.9zM45.4 163.0h0.9v0.9h-0.9zM45.5 153.3h0.9v0.9h-0.9zM43.7 159.9h0.9v0.9h-0.9zM41.2 155.1h0.9v0.9h-0.9zM44.9 160.0h0.9v0.9h-0.9zM42.1 157.8h0.9v0.9h-0.9zM41.8 156.8h0.9v0.9h-0.9zM43.3 161.7h0.9v0.9h-0.9zM38.2 157.5h0.9v0.9h-0.9zM48.9 159.5h0.9v0.9h-0.9zM44.0 161.0h0.9v0.9h-0.9zM40.2 154.8h0.9v0.9h-0.9zM38.0 154.1h0.9v0.9h-0.9zM44.3 161.1h0.9v0.9h-0.9zM42.1 156.4h0.9v0.9h-0.9zM44.8 160.4h0.9v0.9h-0.9zM44.4 152.7h0.9v0.9h-0.9zM41.7 150.8h0.9v0.9h-0.9zM44.3 155.9h0.9v0.9h-0.9zM41.3 163.0h0.9v0.9h-0.9zM47.9 160.0h0.9v0.9h-0.9zM44.4 159.0h0.9v0.9h-0.9zM41.6 158.3h0.9v0.9h-0.9zM49.8 155.9h0.9v0.9h-0.9zM41.3 159.0h0.9v0.9h-0.9zM46.5 161.0h0.9v0.9h-0.9zM40.3 158.1h0.9v0.9h-0.9zM42.6 154.8h0.9v0.9h-0.9zM43.8 157.0h0.9v0.9h-0.9zM46.5 159.8h0.9v0.9h-0.9zM40.9 158.7h0.9v0.9h-0.9zM42.3 156.6h0.9v0.9h-0.9zM41.9 161.7h0.9v0.9h-0.9zM42.1 153.3h0.9v0.9h-0.9zM40.9 160.9h0.9v0.9h-0.9zM50.6 155.3h0.9v0.9h-0.9zM42.3 157.5h0.9v0.9h-0.9zM38.8 159.7h0.9v0.9h-0.9zM43.3 159.3h0.9v0.9h-0.9zM50.9 157.7h0.9v0.9h-0.9zM46.1 161.0h0.9v0.9h-0.9zM41.4 156.7h0.9v0.9h-0.9zM48.6 160.7h0.9v0.9h-0.9zM44.0 155.2h0.9v0.9h-0.9zM46.4 160.1h0.9v0.9h-0.9zM50.8 162.9h0.9v0.9h-0.9zM46.2 159.3h0.9v0.9h-0.9zM43.7 156.8h0.9v0.9h-0.9zM44.5 159.2h0.9v0.9h-0.9zM45.7 161.8h0.9v0.9h-0.9zM44.5 156.9h0.9v0.9h-0.9zM46.2 163.2h0.9v0.9h-0.9zM40.7 159.8h0.9v0.9h-0.9zM45.3 160.1h0.9v0.9h-0.9zM45.2 158.2h0.9v0.9h-0.9zM43.2 163.6h0.9v0.9h-0.9zM49.2 154.3h0.9v0.9h-0.9zM35.1 159.8h0.9v0.9h-0.9zM41.3 156.9h0.9v0.9h-0.9zM38.2 159.6h0.9v0.9h-0.9zM43.3 156.9h0.9v0.9h-0.9zM46.5 165.8h0.9v0.9h-0.9zM48.4 162.0h0.9v0.9h-0.9zM42.1 160.5h0.9v0.9h-0.9zM43.4 162.0h0.9v0.9h-0.9zM45.4 158.4h0.9v0.9h-0.9zM45.3 156.3h0.9v0.9h-0.9zM46.1 163.0h0.9v0.9h-0.9zM42.3 160.2h0.9v0.9h-0.9zM38.0 161.3h0.9v0.9h-0.9zM46.4 155.4h0.9v0.9h-0.9zM49.3 158.8h0.9v0.9h-0.9zM37.8 154.4h0.9v0.9h-0.9zM46.4 157.7h0.9v0.9h-0.9zM47.1 153.8h0.9v0.9h-0.9zM43.2 161.4h0.9v0.9h-0.9zM41.3 160.5h0.9v0.9h-0.9zM42.3 159.5h0.9v0.9h-0.9zM44.6 165.2h0.9v0.9h-0.9zM39.4 160.8h0.9v0.9h-0.9zM47.8 155.1h0.9v0.9h-0.9zM43.8 165.5h0.9v0.9h-0.9zM47.0 149.6h0.9v0.9h-0.9zM42.7 153.4h0.9v0.9h-0.9zM44.5 156.3h0.9v0.9h-0.9zM41.6 156.0h0.9v0.9h-0.9zM44.5 157.1h0.9v0.9h-0.9zM40.5 157.8h0.9v0.9h-0.9zM44.8 155.9h0.9v0.9h-0.9zM47.2 153.5h0.9v0.9h-0.9zM44.8 157.3h0.9v0.9h-0.9zM48.7 156.6h0.9v0.9h-0.9zM41.3 154.5h0.9v0.9h-0.9zM50.1 160.4h0.9v0.9h-0.9zM39.9 157.5h0.9v0.9h-0.9zM40.3 163.1h0.9v0.9h-0.9zM44.9 152.4h0.9v0.9h-0.9zM44.2 161.3h0.9v0.9h-0.9zM43.5 159.9h0.9v0.9h-0.9zM43.1 159.1h0.9v0.9h-0.9zM44.2 156.4h0.9v0.9h-0.9zM44.6 159.0h0.9v0.9h-0.9zM43.4 156.4h0.9v0.9h-0.9zM40.2 159.2h0.9v0.9h-0.9zM46.2 151.2h0.9v0.9h-0.9zM41.7 162.6h0.9v0.9h-0.9zM46.5 156.4h0.9v0.9h-0.9zM48.0 155.5h0.9v0.9h-0.9zM40.9 164.3h0.9v0.9h-0.9zM42.1 157.8h0.9v0.9h-0.9zM38.0 155.5h0.9v0.9h-0.9zM39.6 158.1h0.9v0.9h-0.9zM37.4 161.7h0.9v0.9h-0.9zM42.3 156.7h0.9v0.9h-0.9zM41.4 160.7h0.9v0.9h-0.9zM48.6 157.3h0.9v0.9h-0.9zM48.8 163.4h0.9v0.9h-0.9zM47.9 159.4h0.9v0.9h-0.9zM38.6 160.5h0.9v0.9h-0.9zM42.1 159.1h0.9v0.9h-0.9zM37.3 157.6h0.9v0.9h-0.9zM44.3 155.7h0.9v0.9h-0.9zM44.5 163.5h0.9v0.9h-0.9zM44.3 156.4h0.9v0.9h-0.9zM51.4 152.0h0.9v0.9h-0.9zM40.5 159.7h0.9v0.9h-0.9zM41.5 151.6h0.9v0.9h-0.9zM44.4 161.0h0.9v0.9h-0.9zM40.9 162.9h0.9v0.9h-0.9zM45.2 162.1h0.9v0.9h-0.9zM38.4 158.5h0.9v0.9h-0.9zM48.8 164.6h0.9v0.9h-0.9zM47.9 158.5h0.9v0.9h-0.9zM44.1 156.6h0.9v0.9h-0.9zM47.1 156.4h0.9v0.9h-0.9zM43.9 152.3h0.9v0.9h-0.9zM38.5 163.9h0.9v0.9h-0.9zM43.7 159.2h0.9v0.9h-0.9zM36.2 158.4h0.9v0.9h-0.9zM50.4 154.0h0.9v0.9h-0.9zM35.6 158.0h0.9v0.9h-0.9zM41.7 157.9h0.9v0.9h-0.9zM39.3 154.4h0.9v0.9h-0.9zM39.4 160.4h0.9v0.9h-0.9zM43.3 161.0h0.9v0.9h-0.9zM39.9 160.3h0.9v0.9h-0.9zM42.0 158.8h0.9v0.9h-0.9zM46.6 158.6h0.9v0.9h-0.9zM42.3 153.5h0.9v0.9h-0.9zM43.7 160.9h0.9v0.9h-0.9zM41.4 158.3h0.9v0.9h-0.9zM37.6 154.5h0.9v0.9h-0.9zM44.8 162.4h0.9v0.9h-0.9zM42.5 153.4h0.9v0.9h-0.9zM42.2 153.8h0.9v0.9h-0.9zM42.6 164.4h0.9v0.9h-0.9zM44.5 158.0h0.9v0.9h-0.9zM47.0 157.3h0.9v0.9h-0.9zM44.6 159.1h0.9v0.9h-0.9zM45.0 154.0h0.9v0.9h-0.9zM45.9 161.2h0.9v0.9h-0.9zM35.9 150.3h0.9v0.9h-0.9zM40.5 163.0h0.9v0.9h-0.9zM43.6 160.6h0.9v0.9h-0.9zM45.3 161.2h0.9v0.9h-0.9zM41.4 156.7h0.9v0.9h-0.9zM44.8 160.4h0.9v0.9h-0.9zM45.4 159.5h0.9v0.9h-0.9zM41.9 161.9h0.9v0.9h-0.9zM45.1 161.7h0.9v0.9h-0.9zM35.0 161.6h0.9v0.9h-0.9zM35.3 159.1h0.9v0.9h-0.9zM41.3 158.9h0.9v0.9h-0.9zM41.9 157.6h0.9v0.9h-0.9zM44.1 159.6h0.9v0.9h-0.9zM40.8 150.8h0.9v0.9h-0.9zM40.9 160.2h0.9v0.9h-0.9zM40.7 159.8h0.9v0.9h-0.9zM42.3 155.6h0.9v0.9h-0.9zM47.4 163.6h0.9v0.9h-0.9zM43.2 158.3h0.9v0.9h-0.9zM46.7 154.4h0.9v0.9h-0.9zM40.6 162.0h0.9v0.9h-0.9zM46.5 157.0h0.9v0.9h-0.9zM40.9 159.6h0.9v0.9h-0.9zM38.8 157.0h0.9v0.9h-0.9z" fill="#222" fill-opacity="0.386" filter="url(#soft)"/>
<path d="M41.2 155.4h0.9v0.9h-0.9zM47.3 159.0h0.9v0.9h-0.9zM43.2 154.7h0.9v0.9h-0.9zM43.9 162.1h0.9v0.9h-0.9zM39.6 155.7h0.9v0.9h-0.9zM47.3 162.9h0.9v0.9h-0.9zM48.8 156.8h0.9v0.9h-0.9zM45.5 156.2h0.9v0.9h-0.9zM45.3 157.4h0.9v0.9h-0.9zM44.2 162.6h0.9v0.9h-0.9zM44.6 157.8h0.9v0.9h-0.9zM43.7 159.3h0.9v0.9h-0.9zM41.8 159.1h0.9v0.9h-0.9zM45.5 163.3h0.9v0.9h-0.9zM36.5 154.8h0.9v0.9h-0.9zM39.3 161.2h0.9v0.9h-0.9zM51.8 159.1h0.9v0.9h-0.9zM43.9 162.0h0.9v0.9h-0.9zM35.2 157.9h0.9v0.9h-0.9zM33.0 159.0h0.9v0.9h-0.9zM41.8 157.0h0.9v0.9h-0.9zM44.6 156.7h0.9v0.9h-0.9zM47.3 158.5h0.9v0.9h-0.9zM44.8 166.3h0.9v0.9h-0.9zM42.0 161.4h0.9v0.9h-0.9zM40.7 162.3h0.9v0.9h-0.9zM46.8 158.9h0.9v0.9h-0.9zM46.8 163.5h0.9v0.9h-0.9zM48.2 158.5h0.9v0.9h-0.9zM43.3 161.9h0.9v0.9h-0.9zM38.5 156.6h0.9v0.9h-0.9zM45.1 160.3h0.9v0.9h-0.9zM49.8 163.9h0.9v0.9h-0.9zM44.6 159.9h0.9v0.9h-0.9zM39.1 157.9h0.9v0.9h-0.9zM44.4 157.8h0.9v0.9h-0.9zM43.7 160.4h0.9v0.9h-0.9zM40.3 156.8h0.9v0.9h-0.9zM37.5 162.0h0.9v0.9h-0.9zM39.9 153.3h0.9v0.9h-0.9zM46.1 157.8h0.9v0.9h-0.9zM46.8 157.4h0.9v0.9h-0.9zM50.7 160.7h0.9v0.9h-0.9zM44.0 158.9h0.9v0.9h-0.9zM42.8 161.0h0.9v0.9h-0.9zM50.2 157.2h0.9v0.9h-0.9zM39.8 160.3h0.9v0.9h-0.9zM47.1 153.9h0.9v0.9h-0.9zM41.2 155.4h0.9v0.9h-0.9zM45.4 160.0h0.9v0.9h-0.9zM41.0 155.0h0.9v0.9h-0.9zM45.8 152.2h0.9v0.9h-0.9zM45.7 158.0h0.9v0.9h-0.9zM49.9 161.5h0.9v0.9h-0.9zM41.6 157.7h0.9v0.9h-0.9zM42.6 156.3h0.9v0.9h-0.9zM43.8 161.5h0.9v0.9h-0.9zM38.4 157.8h0.9v0.9h-0.9zM48.5 160.8h0.9v0.9h-0.9zM40.8 156.0h0.9v0.9h-0.9zM40.6 153.6h0.9v0.9h-0.9zM47.4 158.7h0.9v0.9h-0.9zM41.2 154.1h0.9v0.9h-0.9zM42.2 156.9h0.9v0.9h-0.9zM49.3 157.1h0.9v0.9h-0.9zM43.9 161.8h0.9v0.9h-0.9zM45.7 157.9h0.9v0.9h-0.9zM36.2 162.8h0.9v0.9h-0.9zM45.5 157.2h0.9v0.9h-0.9zM43.2 155.6h0.9v0.9h-0.9zM40.5 154.0h0.9v0.9h-0.9zM45.2 160.1h0.9v0.9h-0.9zM44.1 160.9h0.9v0.9h-0.9zM45.3 158.9h0.9v0.9h-0.9zM40.5 160.3h0.9v0.9h-0.9zM47.5 160.4h0.9v0.9h-0.9zM47.7 157.1h0.9v0.9h-0.9zM40.2 162.3h0.9v0.9h-0.9zM41.6 159.2h0.9v0.9h-0.9zM42.9 158.6h0.9v0.9h-0.9zM42.6 156.9h0.9v0.9h-0.9zM37.5 164.3h0.9v0.9h-0.9zM44.2 152.6h0.9v0.9h-0.9zM40.5 155.1h0.9v0.9h-0.9zM41.0 150.7h0.9v0.9h-0.9zM45.4 163.5h0.9v0.9h-0.9zM42.7 160.8h0.9v0.9h-0.9zM45.5 154.7h0.9v0.9h-0.9zM47.6 153.4h0.9v0.9h-0.9zM41.6 157.4h0.9v0.9h-0.9zM47.7 158.9h0.9v0.9h-0.9zM43.1 156.1h0.9v0.9h-0.9zM43.8 158.6h0.9v0.9h-0.9zM45.9 162.7h0.9v0.9h-0.9zM46.0 158.6h0.9v0.9h-0.9zM43.0 163.4h0.9v0.9h-0.9zM44.2 158.5h0.9v0.9h-0.9zM49.5 163.3h0.9v0.9h-0.9zM45.4 158.2h0.9v0.9h-0.9zM41.4 161.7h0.9v0.9h-0.9zM42.0 161.4h0.9v0.9h-0.9zM40.9 158.8h0.9v0.9h-0.9zM44.8 158.9h0.9v0.9h-0.9zM44.3 159.7h0.9v0.9h-0.9zM39.8 155.1h0.9v0.9h-0.9zM43.0 164.0h0.9v0.9h-0.9zM43.1 155.7h0.9v0.9h-0.9zM41.3 158.6h0.9v0.9h-0.9zM47.4 156.8h0.9v0.9h-0.9zM45.4 159.1h0.9v0.9h-0.9zM42.3 155.6h0.9v0.9h-0.9zM43.0 156.3h0.9v0.9h-0.9zM45.3 153.2h0.9v0.9h-0.9zM47.2 160.8h0.9v0.9h-0.9zM45.4 163.0h0.9v0.9h-0.9zM45.5 153.3h0.9v0.9h-0.9zM43.7 159.9h0.9v0.9h-0.9zM41.2 155.1h0.9v0.9h-0.9zM44.9 160.0h0.9v0.9h-0.9zM42.1 157.8h0.9v0.9h-0.9zM41.8 156.8h0.9v0.9h-0.9zM43.3 161.7h0.9v0.9h-0.9zM38.2 157.5h0.9v0.9h-0.9zM48.9 159.5h0.9v0.9h-0.9zM44.0 161.0h0.9v0.9h-0.9zM40.2 154.8h0.9v0.9h-0.9zM38.0 154.1h0.9v0.9h-0.9zM44.3 161.1h0.9v0.9h-0.9zM42.1 156.4h0.9v0.9h-0.9zM44.8 160.4h0.9v0.9h-0.9zM44.4 152.7h0.9v0.9h-0.9zM41.7 150.8h0.9v0.9h-0.9zM44.3 155.9h0.9v0.9h-0.9zM41.3 163.0h0.9v0.9h-0.9zM47.9 160.0h0.9v0.9h-0.9zM44.4 159.0h0.9v0.9h-0.9zM41.6 158.3h0.9v0.9h-0.9zM49.8 155.9h0.9v0.9h-0.9zM41.3 159.0h0.9v0.9h-0.9zM46.5 161.0h0.9v0.9h-0.9zM40.3 158.1h0.9v0.9h-0.9zM42.6 154.8h0.9v0.9h-0.9zM43.8 157.0h0.9v0.9h-0.9zM46.5 159.8h0.9v0.9h-0.9zM40.9 158.7h0.9v0.9h-0.9zM42.3 156.6h0.9v0.9h-0.9zM41.9 161.7h0.9v0.9h-0.9zM42.1 153.3h0.9v0.9h-0.9zM40.9 160.9h0.9v0.9h-0.9zM50.6 155.3h0.9v0.9h-0.9zM42.3 157.5h0.9v0.9h-0.9zM38.8 159.7h0.9v0.9h-0.9zM43.3 159.3h0.9v0.9h-0.9zM50.9 157.7h0.9v0.9h-0.9zM46.1 161.0h0.9v0.9h-0.9zM41.4 156.7h0.9v0.9h-0.9zM48.6 160.7h0.9v0.9h-0.9zM44.0 155.2h0.9v0.9h-0.9zM46.4 160.1h0.9v0.9h-0.9zM50.8 162.9h0.9v0.9h-0.9zM46.2 159.3h0.9v0.9h-0.9zM43.7 156.8h0.9v0.9h-0.9zM44.5 159.2h0.9v0.9h-0.9zM45.7 161.8h0.9v0.9h-0.9zM44.5 156.9h0.9v0.9h-0.9zM46.2 163.2h0.9v0.9h-0.9zM40.7 159.8h0.9v0.9h-0.9zM45.3 160.1h0.9v0.9h-0.9zM45.2 158.2h0.9v0.9h-0.9zM43.2 163.6h0.9v0.9h-0.9zM49.2 154.3h0.9v0.9h-0.9zM35.1 159.8h0.9v0.9h-0.9zM41.3 156.9h0.9v0.9h-0.9zM38.2 159.6h0.9v0.9h-0.9zM43.3 156.9h0.9v0.9h-0.9zM46.5 165.8h0.9v0.9h-0.9zM48.4 162.0h0.9v0.9h-0.9zM42.1 160.5h0.9v0.9h-0.9zM43.4 162.0h0.9v0.9h-0.9zM45.4 158.4h0.9v0.9h-0.9zM45.3 156.3h0.9v0.9h-0.9zM46.1 163.0h0.9v0.9h-0.9zM42.3 160.2h0.9v0.9h-0.9zM38.0 161.3h0.9v0.9h-0.9zM46.4 155.4h0.9v0.9h-0.9zM49.3 158.8h0.9v0.9h-0.9zM37.8 154.4h0.9v0.9h-0.9zM46.4 157.7h0.9v0.9h-0.9zM47.1 153.8h0.9v0.9h-0.9zM43.2 161.4h0.9v0.9h-0.9zM41.3 160.5h0.9v0.9h-0.9zM42.3 159.5h0.9v0.9h-0.9zM44.6 165.2h0.9v0.9h-0.9zM39.4 160.8h0.9v0.9h-0.9zM47.8 155.1h0.9v0.9h-0.9zM43.8 165.5h0.9v0.9h-0.9zM47.0 149.6h0.9v0.9h-0.9zM42.7 153.4h0.9v0.9h-0.9zM44.5 156.3h0.9v0.9h-0.9zM41.6 156.0h0.9v0.9h-0.9zM44.5 157.1h0.9v0.9h-0.9zM40.5 157.8h0.9v0.9h-0.9zM44.8 155.9h0.9v0.9h-0.9zM47.2 153.5h0.9v0.9h-0.9zM44.8 157.3h0.9v0.9h-0.9zM48.7 156.6h0.9v0.9h-0.9zM41.3 154.5h0.9v0.9h-0.9zM50.1 160.4h0.9v0.9h-0.9zM39.9 157.5h0.9v0.9h-0.9zM40.3 163.1h0.9v0.9h-0.9zM44.9 152.4h0.9v0.9h-0.9zM44.2 161.3h0.9v0.9h-0.9zM43.5 159.9h0.9v0.9h-0.9zM43.1 159.1h0.9v0.9h-0.9zM44.2 156.4h0.9v0.9h-0.9zM44.6 159.0h0.9v0.9h-0.9zM43.4 156.4h0.9v0.9h-0.9zM40.2 159.2h0.9v0.9h-0.9zM46.2 151.2h0.9v0.9h-0.9zM41.7 162.6h0.9v0.9h-0.9zM46.5 156.4h0.9v0.9h-0.9zM48.0 155.5h0.9v0.9h-0.9zM40.9 164.3h0.9v0.9h-0.9zM42.1 157.8h0.9v0.9h-0.9zM38.0 155.5h0.9v0.9h-0.9zM39.6 158.1h0.9v0.9h-0.9zM37.4 161.7h0.9v0.9h-0.9zM42.3 156.7h0.9v0.9h-0.9zM41.4 160.7h0.9v0.9h-0.9zM48.6 157.3h0.9v0.9h-0.9zM48.8 163.4h0.9v0.9h-0.9zM47.9 159.4h0.9v0.9h-0.9zM38.6 160.5h0.9v0.9h-0.9zM42.1 159.1h0.9v0.9h-0.9zM37.3 157.6h0.9v0.9h-0.9zM44.3 155.7h0.9v0.9h-0.9zM44.5 163.5h0.9v0.9h-0.9zM44.3 156.4h0.9v0.9h-0.9zM51.4 152.0h0.9v0.9h-0.9zM40.5 159.7h0.9v0.9h-0.9zM41.5 151.6h0.9v0.9h-0.9zM44.4 161.0h0.9v0.9h-0.9zM40.9 162.9h0.9v0.9h-0.9zM45.2 162.1h0.9v0.9h-0.9zM38.4 158.5h0.9v0.9h-0.9zM48.8 164.6h0.9v0.9h-0.9zM47.9 158.5h0.9v0.9h-0.9zM44.1 156.6h0.9v0.9h-0.9zM47.1 156.4h0.9v0.9h-0.9zM43.9 152.3h0.9v0.9h-0.9zM38.5 163.9h0.9v0.9h-0.9zM43.7 159.2h0.9v0.9h-0.9zM36.2 158.4h0.9v0.9h-0.9zM50.4 154.0h0.9v0.9h-0.9zM35.6 158.0h0.9v0.9h-0.9zM41.7 157.9h0.9v0.9h-0.9zM39.3 154.4h0.9v0.9h-0.9zM39.4 160.4h0.9v0.9h-0.9zM43.3 161.0h0.9v0.9h-0.9zM39.9 160.3h0.9v0.9h-0.9zM42.0 158.8h0.9v0.9h-0.9zM46.6 158.6h0.9v0.9h-0.9zM42.3 153.5h0.9v0.9h-0.9zM43.7 160.9h0.9v0.9h-0.9zM41.4 158.3h0.9v0.9h-0.9zM37.6 154.5h0.9v0.9h-0.9zM44.8 162.4h0.9v0.9h-0.9zM42.5 153.4h0.9v0.9h-0.9zM42.2 153.8h0.9v0.9h-0.9zM42.6 164.4h0.9v0.9h-0.9zM44.5 158.0h0.9v0.9h-0.9zM47.0 157.3h0.9v0.9h-0.9zM44.6 159.1h0.9v0.9h-0.9zM45.0 154.0h0.9v0.9h-0.9zM45.9 161.2h0.9v0.9h-0.9zM35.9 150.3h0.9v0.9h-0.9zM40.5 163.0h0.9v0.9h-0.9zM43.6 160.6h0.9v0.9h-0.9zM45.3 161.2h0.9v0.9h-0.9zM41.4 156.7h0.9v0.9h-0.9zM44.8 160.4h0.9v0.9h-0.9zM45.4 159.5h0.9v0.9h-0.9zM41.9 161.9h0.9v0.9h-0.9zM45.1 161.7h0.9v0.9h-0.9zM35.0 161.6h0.9v0.9h-0.9zM35.3 159.1h0.9v0.9h-0.9zM41.3 158.9h0.9v0.9h-0.9zM41.9 157.6h0.9v0.9h-0.9zM44.1 159.6h0.9v0.9h-0.9zM40.8 150.8h0.9v0.9h-0.9zM40.9 160.2h0.9v0.9h-0.9zM40.7 159.8h0.9v0.9h-0.9zM42.3 155.6h0.9v0.9h-0.9zM47.4 163.6h0.9v0.9h-0.9zM43.2 158.3h0.9v0.9h-0.9zM46.7 154.4h0.9v0.9h-0.9zM40.6 162.0h0.9v0.9h-0.9zM46.5 157.0h0.9v0.9h-0.9zM40.9 159.6h0.9v0.9h-0.9zM38.8 157.0h0.9v0.9h-0.9z" fill="#222" fill-opacity="0.386"/>
<path d="M72.7 151.0h0.9v0.9h-0.9zM75.6 160.8h0.9v0.9h-0.9zM77.3 154.1h0.9v0.9h-0.9zM68.9 156.0h0.9v0.9h-0.9zM68.9 164.8h0.9v0.9h-0.9zM70.0 157.5h0.9v0.9h-0.9zM74.2 159.9h0.9v0.9h-0.9zM78.7 155.2h0.9v0.9h-0.9zM76.6 159.0h0.9v0.9h-0.9zM69.3 159.0h0.9v0.9h-0.9zM68.5 163.5h0.9v0.9h-0.9zM70.9 161.6h0.9v0.9h-0.9zM78.1 156.6h0.9v0.9h-0.9zM70.3 158.9h0.9v0.9h-0.9zM69.8 161.3h0.9v0.9h-0.9zM74.1 156.2h0.9v0.9h-0.9zM71.1 160.7h0.9v0.9h-0.9zM68.3 163.7h0.9v0.9h-0.9zM70.7 157.9h0.9v0.9h-0.9zM70.2 163.5h0.9v0.9h-0.9zM76.4 162.5h0.9v0.9h-0.9zM75.8 158.8h0.9v0.9h-0.9zM79.6 160.5h0.9v0.9h-0.9zM75.1 160.3h0.9v0.9h-0.9zM76.1 159.4h0.9v0.9h-0.9zM72.9 153.6h0.9v0.9h-0.9zM80.9 154.5h0.9v0.9h-0.9zM65.8 156.3h0.9v0.9h-0.9zM80.4 162.3h0.9v0.9h-0.9zM71.3 159.3h0.9v0.9h-0.9zM73.4 152.4h0.9v0.9h-0.9zM72.3 159.4h0.9v0.9h-0.9zM77.7 154.8h0.9v0.9h-0.9zM65.4 153.6h0.9v0.9h-0.9zM74.7 158.7h0.9v0.9h-0.9zM74.0 159.0h0.9v0.9h-0.9zM72.2 154.3h0.9v0.9h-0.9zM75.1 159.7h0.9v0.9h-0.9zM75.6 162.4h0.9v0.9h-0.9zM69.0 151.3h0.9v0.9h-0.9zM67.1 165.1h0.9v0.9h-0.9zM70.2 159.7h0.9v0.9h-0.9zM73.4 160.8h0.9v0.9h-0.9zM85.0 156.9h0.9v0.9h-0.9zM72.9 156.6h0.9v0.9h-0.9zM74.4 160.1h0.9v0.9h-0.9zM70.0 162.6h0.9v0.9h-0.9zM77.6 159.9h0.9v0.9h-0.9zM73.1 157.8h0.9v0.9h-0.9zM67.6 160.5h0.9v0.9h-0.9zM70.0 156.9h0.9v0.9h-0.9zM77.1 155.6h0.9v0.9h-0.9zM71.6 161.2h0.9v0.9h-0.9zM80.2 156.4h0.9v0.9h-0.9zM77.5 156.5h0.9v0.9h-0.9zM74.9 160.0h0.9v0.9h-0.9zM69.4 161.7h0.9v0.9h-0.9zM80.0 158.7h0.9v0.9h-0.9zM74.5 154.9h0.9v0.9h-0.9zM79.9 158.7h0.9v0.9h-0.9zM68.9 160.9h0.9v0.9h-0.9zM68.2 156.4h0.9v0.9h-0.9zM65.8 162.8h0.9v0.9h-0.9zM81.5 156.5h0.9v0.9h-0.9zM71.1 156.7h0.9v0.9h-0.9zM71.5 160.2h0.9v0.9h-0.9zM78.8 155.4h0.9v0.9h-0.9zM75.1 152.9h0.9v0.9h-0.9zM79.0 158.2h0.9v0.9h-0.9zM71.0 163.2h0.9v0.9h-0.9zM73.1 162.7h0.9v0.9h-0.9zM77.4 163.6h0.9v0.9h-0.9zM70.6 158.7h0.9v0.9h-0.9zM74.8 157.9h0.9v0.9h-0.9zM79.0 156.3h0.9v0.9h-0.9zM77.1 162.7h0.9v0.9h-0.9zM66.5 155.5h0.9v0.9h-0.9zM70.2 156.8h0.9v0.9h-0.9zM74.9 158.0h0.9v0.9h-0.9zM73.8 157.1h0.9v0.9h-0.9zM73.2 160.0h0.9v0.9h-0.9zM76.2 156.1h0.9v0.9h-0.9zM73.1 156.1h0.9v0.9h-0.9zM72.9 154.0h0.9v0.9h-0.9zM76.9 160.6h0.9v0.9h-0.9zM73.1 156.4h0.9v0.9h-0.9zM71.9 156.4h0.9v0.9h-0.9zM67.9 163.6h0.9v0.9h-0.9zM85.3 154.7h0.9v0.9h-0.9zM69.3 160.3h0.9v0.9h-0.9zM75.7 153.6h0.9v0.9h-0.9zM66.6 160.2h0.9v0.9h-0.9zM66.3 162.9h0.9v0.9h-0.9zM71.7 158.8h0.9v0.9h-0.9zM73.5 156.8h0.9v0.9h-0.9zM73.0 157.6h0.9v0.9h-0.9zM78.0 158.2h0.9v0.9h-0.9zM73.4 156.9h0.9v0.9h-0.9zM71.2 156.2h0.9v0.9h-0.9zM73.5 164.2h0.9v0.9h-0.9zM77.5 159.2h0.9v0.9h-0.9zM79.5 161.6h0.9v0.9h-0.9zM74.2 158.0h0.9v0.9h-0.9zM69.5 159.3h0.9v0.9h-0.9zM72.4 153.6h0.9v0.9h-0.9zM68.9 164.5h0.9v0.9h-0.9zM74.3 160.0h0.9v0.9h-0.9zM74.2 157.1h0.9v0.9h-0.9zM75.2 161.9h0.9v0.9h-0.9zM72.4 160.1h0.9v0.9h-0.9zM77.2 157.0h0.9v0.9h-0.9zM74.1 156.2h0.9v0.9h-0.9zM75.7 157.4h0.9v0.9h-0.9zM77.6 156.1h0.9v0.9h-0.9zM79.6 157.5h0.9v0.9h-0.9zM70.5 155.7h0.9v0.9h-0.9zM75.9 155.8h0.9v0.9h-0.9zM80.0 162.5h0.9v0.9h-0.9zM75.4 154.1h0.9v0.9h-0.9zM73.4 156.2h0.9v0.9h-0.9zM67.0 159.8h0.9v0.9h-0.9zM81.4 156.8h0.9v0.9h-0.9zM76.4 162.5h0.9v0.9h-0.9zM70.0 157.4h0.9v0.9h-0.9zM74.5 160.0h0.9v0.9h-0.9zM69.4 159.2h0.9v0.9h-0.9zM73.1 161.4h0.9v0.9h-0.9zM67.7 156.8h0.9v0.9h-0.9zM71.7 157.5h0.9v0.9h-0.9zM76.1 156.6h0.9v0.9h-0.9zM83.4 156.3h0.9v0.9h-0.9zM76.5 161.7h0.9v0.9h-0.9zM77.0 157.9h0.9v0.9h-0.9zM70.5 157.7h0.9v0.9h-0.9zM75.9 158.9h0.9v0.9h-0.9zM75.6 160.3h0.9v0.9h-0.9zM70.3 155.6h0.9v0.9h-0.9zM78.7 157.0h0.9v0.9h-0.9zM67.8 164.3h0.9v0.9h-0.9zM70.5 155.6h0.9v0.9h-0.9zM77.0 155.0h0.9v0.9h-0.9zM70.4 161.7h0.9v0.9h-0.9zM70.5 166.3h0.9v0.9h-0.9zM73.9 166.8h0.9v0.9h-0.9zM74.0 158.7h0.9v0.9h-0.9zM71.2 157.8h0.9v0.9h-0.9zM71.7 158.4h0.9v0.9h-0.9zM76.3 154.6h0.9v0.9h-0.9zM70.2 152.0h0.9v0.9h-0.9zM78.9 158.3h0.9v0.9h-0.9zM73.5 158.3h0.9v0.9h-0.9zM77.1 159.5h0.9v0.9h-0.9zM76.6 158.0h0.9v0.9h-0.9zM73.1 158.3h0.9v0.9h-0.9zM66.8 161.9h0.9v0.9h-0.9zM67.8 155.4h0.9v0.9h-0.9zM75.9 158.7h0.9v0.9h-0.9zM76.4 163.8h0.9v0.9h-0.9zM80.2 162.8h0.9v0.9h-0.9zM72.7 164.9h0.9v0.9h-0.9zM70.3 158.2h0.9v0.9h-0.9zM77.1 157.8h0.9v0.9h-0.9zM73.1 157.4h0.9v0.9h-0.9zM78.4 150.9h0.9v0.9h-0.9zM78.1 161.8h0.9v0.9h-0.9zM73.2 160.2h0.9v0.9h-0.9zM70.0 161.9h0.9v0.9h-0.9zM84.5 155.6h0.9v0.9h-0.9zM78.5 158.3h0.9v0.9h-0.9zM72.3 157.0h0.9v0.9h-0.9zM72.8 154.6h0.9v0.9h-0.9zM68.6 163.7h0.9v0.9h-0.9zM73.4 160.2h0.9v0.9h-0.9zM74.6 160.0h0.9v0.9h-0.9zM68.0 155.6h0.9v0.9h-0.9zM75.8 161.6h0.9v0.9h-0.9zM69.4 156.7h0.9v0.9h-0.9zM69.7 160.5h0.9v0.9h-0.9zM74.7 158.6h0.9v0.9h-0.9zM71.2 159.6h0.9v0.9h-0.9zM73.6 156.2h0.9v0.9h-0.9zM74.7 156.4h0.9v0.9h-0.9zM76.9 160.4h0.9v0.9h-0.9zM71.0 160.3h0.9v0.9h-0.9zM73.7 156.3h0.9v0.9h-0.9zM70.2 153.3h0.9v0.9h-0.9zM69.4 159.6h0.9v0.9h-0.9zM77.8 156.6h0.9v0.9h-0.9zM74.1 159.6h0.9v0.9h-0.9zM76.3 159.9h0.9v0.9h-0.9zM77.9 160.9h0.9v0.9h-0.9zM70.8 159.7h0.9v0.9h-0.9zM65.1 157.9h0.9v0.9h-0.9zM73.6 160.3h0.9v0.9h-0.9zM72.4 161.1h0.9v0.9h-0.9zM78.3 155.9h0.9v0.9h-0.9zM71.5 159.3h0.9v0.9h-0.9zM75.3 158.9h0.9v0.9h-0.9zM76.5 154.8h0.9v0.9h-0.9zM76.3 162.1h0.9v0.9h-0.9zM77.5 159.8h0.9v0.9h-0.9zM72.6 159.7h0.9v0.9h-0.9zM73.2 153.6h0.9v0.9h-0.9zM71.3 158.4h0.9v0.9h-0.9zM71.6 155.6h0.9v0.9h-0.9zM72.7 157.3h0.9v0.9h-0.9zM73.7 158.3h0.9v0.9h-0.9zM74.1 161.6h0.9v0.9h-0.9zM74.0 159.8h0.9v0.9h-0.9zM69.1 149.4h0.9v0.9h-0.9zM72.1 160.6h0.9v0.9h-0.9zM72.3 156.6h0.9v0.9h-0.9zM69.0 161.3h0.9v0.9h-0.9zM71.6 159.3h0.9v0.9h-0.9zM77.6 160.2h0.9v0.9h-0.9zM81.6 158.1h0.9v0.9h-0.9zM76.9 160.7h0.9v0.9h-0.9zM71.1 158.6h0.9v0.9h-0.9zM71.5 155.3h0.9v0.9h-0.9zM74.6 156.1h0.9v0.9h-0.9zM79.5 156.2h0.9v0.9h-0.9zM71.5 158.8h0.9v0.9h-0.9zM71.6 158.7h0.9v0.9h-0.9zM71.3 154.1h0.9v0.9h-0.9zM64.8 154.5h0.9v0.9h-0.9zM79.0 159.9h0.9v0.9h-0.9zM74.1 157.1h0.9v0.9h-0.9zM73.0 159.4h0.9v0.9h-0.9zM68.5 156.0h0.9v0.9h-0.9zM70.3 162.4h0.9v0.9h-0.9z" fill="#222" fill-opacity="0.338" filter="url(#soft)"/>
<path d="M72.7 151.0h0.9v0.9h-0.9zM75.6 160.8h0.9v0.9h-0.9zM77.3 154.1h0.9v0.9h-0.9zM68.9 156.0h0.9v0.9h-0.9zM68.9 164.8h0.9v0.9h-0.9zM70.0 157.5h0.9v0.9h-0.9zM74.2 159.9h0.9v0.9h-0.9zM78.7 155.2h0.9v0.9h-0.9zM76.6 159.0h0.9v0.9h-0.9zM69.3 159.0h0.9v0.9h-0.9zM68.5 163.5h0.9v0.9h-0.9zM70.9 161.6h0.9v0.9h-0.9zM78.1 156.6h0.9v0.9h-0.9zM70.3 158.9h0.9v0.9h-0.9zM69.8 161.3h0.9v0.9h-0.9zM74.1 156.2h0.9v0.9h-0.9zM71.1 160.7h0.9v0.9h-0.9zM68.3 163.7h0.9v0.9h-0.9zM70.7 157.9h0.9v0.9h-0.9zM70.2 163.5h0.9v0.9h-0.9zM76.4 162.5h0.9v0.9h-0.9zM75.8 158.8h0.9v0.9h-0.9zM79.6 160.5h0.9v0.9h-0.9zM75.1 160.3h0.9v0.9h-0.9zM76.1 159.4h0.9v0.9h-0.9zM72.9 153.6h0.9v0.9h-0.9zM80.9 154.5h0.9v0.9h-0.9zM65.8 156.3h0.9v0.9h-0.9zM80.4 162.3h0.9v0.9h-0.9zM71.3 159.3h0.9v0.9h-0.9zM73.4 152.4h0.9v0.9h-0.9zM72.3 159.4h0.9v0.9h-0.9zM77.7 154.8h0.9v0.9h-0.9zM65.4 153.6h0.9v0.9h-0.9zM74.7 158.7h0.9v0.9h-0.9zM74.0 159.0h0.9v0.9h-0.9zM72.2 154.3h0.9v0.9h-0.9zM75.1 159.7h0.9v0.9h-0.9zM75.6 162.4h0.9v0.9h-0.9zM69.0 151.3h0.9v0.9h-0.9zM67.1 165.1h0.9v0.9h-0.9zM70.2 159.7h0.9v0.9h-0.9zM73.4 160.8h0.9v0.9h-0.9zM85.0 156.9h0.9v0.9h-0.9zM72.9 156.6h0.9v0.9h-0.9zM74.4 160.1h0.9v0.9h-0.9zM70.0 162.6h0.9v0.9h-0.9zM77.6 159.9h0.9v0.9h-0.9zM73.1 157.8h0.9v0.9h-0.9zM67.6 160.5h0.9v0.9h-0.9zM70.0 156.9h0.9v0.9h-0.9zM77.1 155.6h0.9v0.9h-0.9zM71.6 161.2h0.9v0.9h-0.9zM80.2 156.4h0.9v0.9h-0.9zM77.5 156.5h0.9v0.9h-0.9zM74.9 160.0h0.9v0.9h-0.9zM69.4 161.7h0.9v0.9h-0.9zM80.0 158.7h0.9v0.9h-0.9zM74.5 154.9h0.9v0.9h-0.9zM79.9 158.7h0.9v0.9h-0.9zM68.9 160.9h0.9v0.9h-0.9zM68.2 156.4h0.9v0.9h-0.9zM65.8 162.8h0.9v0.9h-0.9zM81.5 156.5h0.9v0.9h-0.9zM71.1 156.7h0.9v0.9h-0.9zM71.5 160.2h0.9v0.9h-0.9zM78.8 155.4h0.9v0.9h-0.9zM75.1 152.9h0.9v0.9h-0.9zM79.0 158.2h0.9v0.9h-0.9zM71.0 163.2h0.9v0.9h-0.9zM73.1 162.7h0.9v0.9h-0.9zM77.4 163.6h0.9v0.9h-0.9zM70.6 158.7h0.9v0.9h-0.9zM74.8 157.9h0.9v0.9h-0.9zM79.0 156.3h0.9v0.9h-0.9zM77.1 162.7h0.9v0.9h-0.9zM66.5 155.5h0.9v0.9h-0.9zM70.2 156.8h0.9v0.9h-0.9zM74.9 158.0h0.9v0.9h-0.9zM73.8 157.1h0.9v0.9h-0.9zM73.2 160.0h0.9v0.9h-0.9zM76.2 156.1h0.9v0.9h-0.9zM73.1 156.1h0.9v0.9h-0.9zM72.9 154.0h0.9v0.9h-0.9zM76.9 160.6h0.9v0.9h-0.9zM73.1 156.4h0.9v0.9h-0.9zM71.9 156.4h0.9v0.9h-0.9zM67.9 163.6h0.9v0.9h-0.9zM85.3 154.7h0.9v0.9h-0.9zM69.3 160.3h0.9v0.9h-0.9zM75.7 153.6h0.9v0.9h-0.9zM66.6 160.2h0.9v0.9h-0.9zM66.3 162.9h0.9v0.9h-0.9zM71.7 158.8h0.9v0.9h-0.9zM73.5 156.8h0.9v0.9h-0.9zM73.0 157.6h0.9v0.9h-0.9zM78.0 158.2h0.9v0.9h-0.9zM73.4 156.9h0.9v0.9h-0.9zM71.2 156.2h0.9v0.9h-0.9zM73.5 164.2h0.9v0.9h-0.9zM77.5 159.2h0.9v0.9h-0.9zM79.5 161.6h0.9v0.9h-0.9zM74.2 158.0h0.9v0.9h-0.9zM69.5 159.3h0.9v0.9h-0.9zM72.4 153.6h0.9v0.9h-0.9zM68.9 164.5h0.9v0.9h-0.9zM74.3 160.0h0.9v0.9h-0.9zM74.2 157.1h0.9v0.9h-0.9zM75.2 161.9h0.9v0.9h-0.9zM72.4 160.1h0.9v0.9h-0.9zM77.2 157.0h0.9v0.9h-0.9zM74.1 156.2h0.9v0.9h-0.9zM75.7 157.4h0.9v0.9h-0.9zM77.6 156.1h0.9v0.9h-0.9zM79.6 157.5h0.9v0.9h-0.9zM70.5 155.7h0.9v0.9h-0.9zM75.9 155.8h0.9v0.9h-0.9zM80.0 162.5h0.9v0.9h-0.9zM75.4 154.1h0.9v0.9h-0.9zM73.4 156.2h0.9v0.9h-0.9zM67.0 159.8h0.9v0.9h-0.9zM81.4 156.8h0.9v0.9h-0.9zM76.4 162.5h0.9v0.9h-0.9zM70.0 157.4h0.9v0.9h-0.9zM74.5 160.0h0.9v0.9h-0.9zM69.4 159.2h0.9v0.9h-0.9zM73.1 161.4h0.9v0.9h-0.9zM67.7 156.8h0.9v0.9h-0.9zM71.7 157.5h0.9v0.9h-0.9zM76.1 156.6h0.9v0.9h-0.9zM83.4 156.3h0.9v0.9h-0.9zM76.5 161.7h0.9v0.9h-0.9zM77.0 157.9h0.9v0.9h-0.9zM70.5 157.7h0.9v0.9h-0.9zM75.9 158.9h0.9v0.9h-0.9zM75.6 160.3h0.9v0.9h-0.9zM70.3 155.6h0.9v0.9h-0.9zM78.7 157.0h0.9v0.9h-0.9zM67.8 164.3h0.9v0.9h-0.9zM70.5 155.6h0.9v0.9h-0.9zM77.0 155.0h0.9v0.9h-0.9zM70.4 161.7h0.9v0.9h-0.9zM70.5 166.3h0.9v0.9h-0.9zM73.9 166.8h0.9v0.9h-0.9zM74.0 158.7h0.9v0.9h-0.9zM71.2 157.8h0.9v0.9h-0.9zM71.7 158.4h0.9v0.9h-0.9zM76.3 154.6h0.9v0.9h-0.9zM70.2 152.0h0.9v0.9h-0.9zM78.9 158.3h0.9v0.9h-0.9zM73.5 158.3h0.9v0.9h-0.9zM77.1 159.5h0.9v0.9h-0.9zM76.6 158.0h0.9v0.9h-0.9zM73.1 158.3h0.9v0.9h-0.9zM66.8 161.9h0.9v0.9h-0.9zM67.8 155.4h0.9v0.9h-0.9zM75.9 158.7h0.9v0.9h-0.9zM76.4 163.8h0.9v0.9h-0.9zM80.2 162.8h0.9v0.9h-0.9zM72.7 164.9h0.9v0.9h-0.9zM70.3 158.2h0.9v0.9h-0.9zM77.1 157.8h0.9v0.9h-0.9zM73.1 157.4h0.9v0.9h-0.9zM78.4 150.9h0.9v0.9h-0.9zM78.1 161.8h0.9v0.9h-0.9zM73.2 160.2h0.9v0.9h-0.9zM70.0 161.9h0.9v0.9h-0.9zM84.5 155.6h0.9v0.9h-0.9zM78.5 158.3h0.9v0.9h-0.9zM72.3 157.0h0.9v0.9h-0.9zM72.8 154.6h0.9v0.9h-0.9zM68.6 163.7h0.9v0.9h-0.9zM73.4 160.2h0.9v0.9h-0.9zM74.6 160.0h0.9v0.9h-0.9zM68.0 155.6h0.9v0.9h-0.9zM75.8 161.6h0.9v0.9h-0.9zM69.4 156.7h0.9v0.9h-0.9zM69.7 160.5h0.9v0.9h-0.9zM74.7 158.6h0.9v0.9h-0.9zM71.2 159.6h0.9v0.9h-0.9zM73.6 156.2h0.9v0.9h-0.9zM74.7 156.4h0.9v0.9h-0.9zM76.9 160.4h0.9v0.9h-0.9zM71.0 160.3h0.9v0.9h-0.9zM73.7 156.3h0.9v0.9h-0.9zM70.2 153.3h0.9v0.9h-0.9zM69.4 159.6h0.9v0.9h-0.9zM77.8 156.6h0.9v0.9h-0.9zM74.1 159.6h0.9v0.9h-0.9zM76.3 159.9h0.9v0.9h-0.9zM77.9 160.9h0.9v0.9h-0.9zM70.8 159.7h0.9v0.9h-0.9zM65.1 157.9h0.9v0.9h-0.9zM73.6 160.3h0.9v0.9h-0.9zM72.4 161.1h0.9v0.9h-0.9zM78.3 155.9h0.9v0.9h-0.9zM71.5 159.3h0.9v0.9h-0.9zM75.3 158.9h0.9v0.9h-0.9zM76.5 154.8h0.9v0.9h-0.9zM76.3 162.1h0.9v0.9h-0.9zM77.5 159.8h0.9v0.9h-0.9zM72.6 159.7h0.9v0.9h-0.9zM73.2 153.6h0.9v0.9h-0.9zM71.3 158.4h0.9v0.9h-0.9zM71.6 155.6h0.9v0.9h-0.9zM72.7 157.3h0.9v0.9h-0.9zM73.7 158.3h0.9v0.9h-0.9zM74.1 161.6h0.9v0.9h-0.9zM74.0 159.8h0.9v0.9h-0.9zM69.1 149.4h0.9v0.9h-0.9zM72.1 160.6h0.9v0.9h-0.9zM72.3 156.6h0.9v0.9h-0.9zM69.0 161.3h0.9v0.9h-0.9zM71.6 159.3h0.9v0.9h-0.9zM77.6 160.2h0.9v0.9h-0.9zM81.6 158.1h0.9v0.9h-0.9zM76.9 160.7h0.9v0.9h-0.9zM71.1 158.6h0.9v0.9h-0.9zM71.5 155.3h0.9v0.9h-0.9zM74.6 156.1h0.9v0.9h-0.9zM79.5 156.2h0.9v0.9h-0.9zM71.5 158.8h0.9v0.9h-0.9zM71.6 158.7h0.9v0.9h-0.9zM71.3 154.1h0.9v0.9h-0.9zM64.8 154.5h0.9v0.9h-0.9zM79.0 159.9h0.9v0.9h-0.9zM74.1 157.1h0.9v0.9h-0.9zM73.0 159.4h0.9v0.9h-0.9zM68.5 156.0h0.9v0.9h-0.9zM70.3 162.4h0.9v0.9h-0.9z" fill="#222" fill-opacity="0.338"/>
<rect x="29.2" y="100.4" width="74.2" height="69.29999999999998" fill="none" stroke="#999" stroke-width="1.0" />
<line x1="57.6" y1="100.4" x2="57.6" y2="169.7" stroke="#777" stroke-width="1.15" />
<line x1="29.2" y1="150" x2="103.4" y2="150" stroke="#777" stroke-width="1.15" />
<line x1="28.7" y1="169.7" x2="103.4" y2="169.7" stroke="#333" stroke-width="1.2" />
<line x1="27.4" y1="106.9" x2="29.2" y2="106.9" stroke="#222" stroke-width="1.0" />
<text x="26.9" y="108.4" font-size="4.3" text-anchor="end" font-weight="normal" fill="#999" >10⁵</text>
<line x1="27.4" y1="122.4" x2="29.2" y2="122.4" stroke="#222" stroke-width="1.0" />
<text x="26.9" y="123.9" font-size="4.3" text-anchor="end" font-weight="normal" fill="#999" >10⁴</text>
<line x1="27.4" y1="138.4" x2="29.2" y2="138.4" stroke="#222" stroke-width="1.0" />
<text x="26.9" y="139.9" font-size="4.3" text-anchor="end" font-weight="normal" fill="#999" >10³</text>
<line x1="27.4" y1="155.4" x2="29.2" y2="155.4" stroke="#222" stroke-width="1.0" />
<text x="26.9" y="156.9" font-size="4.3" text-anchor="end" font-weight="normal" fill="#999" >10²</text>
<line x1="27.4" y1="162.9" x2="29.2" y2="162.9" stroke="#222" stroke-width="1.0" />
<text x="26.9" y="164.4" font-size="4.3" text-anchor="end" font-weight="normal" fill="#999" >0</text>
<line x1="36.7" y1="169.7" x2="36.7" y2="171.29999999999998" stroke="#333" stroke-width="0.9" />
<text x="36.7" y="175.5" font-size="4.3" text-anchor="middle" font-weight="normal" fill="#999" >0</text>
<line x1="45.2" y1="169.7" x2="45.2" y2="171.29999999999998" stroke="#333" stroke-width="0.9" />
<text x="45.2" y="175.5" font-size="4.3" text-anchor="middle" font-weight="normal" fill="#999" >10²</text>
<line x1="61.7" y1="169.7" x2="61.7" y2="171.29999999999998" stroke="#333" stroke-width="0.9" />
<text x="61.7" y="175.5" font-size="4.3" text-anchor="middle" font-weight="normal" fill="#999" >10³</text>
<line x1="78.2" y1="169.7" x2="78.2" y2="171.29999999999998" stroke="#333" stroke-width="0.9" />
<text x="78.2" y="175.5" font-size="4.3" text-anchor="middle" font-weight="normal" fill="#999" >10⁴</text>
<line x1="94.7" y1="169.7" x2="94.7" y2="171.29999999999998" stroke="#333" stroke-width="0.9" />
<text x="94.7" y="175.5" font-size="4.3" text-anchor="middle" font-weight="normal" fill="#999" >10⁵</text>
<text x="31.2" y="106.10000000000001" font-size="4.9" text-anchor="start" font-weight="bold" fill="#111" stroke="#111" stroke-width="0.2">24</text>
<text x="102.4" y="106.10000000000001" font-size="4.9" text-anchor="end" font-weight="bold" fill="#111" stroke="#111" stroke-width="0.2">16.9</text>
<text x="31.2" y="168.29999999999998" font-size="4.9" text-anchor="start" font-weight="bold" fill="#111" stroke="#111" stroke-width="0.2">36.7</text>
<text x="102.60000000000001" y="168.29999999999998" font-size="4.9" text-anchor="end" font-weight="bold" fill="#111" stroke="#111" stroke-width="0.2">20</text>
<path d="M129.0 144.6h0.9v0.9h-0.9zM131.6 154.0h0.9v0.9h-0.9zM133.3 137.7h0.9v0.9h-0.9zM139.5 142.8h0.9v0.9h-0.9zM137.7 131.0h0.9v0.9h-0.9zM138.6 147.7h0.9v0.9h-0.9zM133.2 134.6h0.9v0.9h-0.9zM128.8 143.7h0.9v0.9h-0.9zM134.9 137.5h0.9v0.9h-0.9zM128.2 147.3h0.9v0.9h-0.9zM137.4 137.4h0.9v0.9h-0.9zM140.0 131.7h0.9v0.9h-0.9zM137.5 131.5h0.9v0.9h-0.9zM139.8 135.8h0.9v0.9h-0.9zM138.9 135.0h0.9v0.9h-0.9zM135.3 144.4h0.9v0.9h-0.9zM129.7 138.1h0.9v0.9h-0.9zM129.9 142.7h0.9v0.9h-0.9zM131.0 135.2h0.9v0.9h-0.9zM132.7 144.5h0.9v0.9h-0.9zM129.1 137.3h0.9v0.9h-0.9zM132.2 134.2h0.9v0.9h-0.9zM130.2 136.5h0.9v0.9h-0.9zM134.5 128.1h0.9v0.9h-0.9zM134.6 130.3h0.9v0.9h-0.9zM133.7 151.3h0.9v0.9h-0.9zM129.4 137.1h0.9v0.9h-0.9zM132.5 143.4h0.9v0.9h-0.9zM131.5 126.7h0.9v0.9h-0.9zM126.6 138.6h0.9v0.9h-0.9zM134.7 144.0h0.9v0.9h-0.9zM131.3 141.5h0.9v0.9h-0.9zM129.0 145.3h0.9v0.9h-0.9zM133.3 133.4h0.9v0.9h-0.9zM134.4 148.0h0.9v0.9h-0.9zM129.9 130.0h0.9v0.9h-0.9zM129.2 130.5h0.9v0.9h-0.9zM133.4 139.6h0.9v0.9h-0.9zM132.9 138.7h0.9v0.9h-0.9zM138.8 135.8h0.9v0.9h-0.9zM128.1 123.7h0.9v0.9h-0.9zM134.7 133.4h0.9v0.9h-0.9zM132.5 140.0h0.9v0.9h-0.9zM135.6 128.0h0.9v0.9h-0.9zM129.4 137.9h0.9v0.9h-0.9zM133.0 144.4h0.9v0.9h-0.9zM131.4 125.0h0.9v0.9h-0.9zM138.7 127.6h0.9v0.9h-0.9zM129.4 139.9h0.9v0.9h-0.9zM129.0 152.6h0.9v0.9h-0.9zM134.6 140.7h0.9v0.9h-0.9zM131.7 150.9h0.9v0.9h-0.9zM136.0 133.2h0.9v0.9h-0.9zM139.1 127.3h0.9v0.9h-0.9zM131.0 139.2h0.9v0.9h-0.9zM134.2 131.7h0.9v0.9h-0.9zM140.5 146.4h0.9v0.9h-0.9zM129.5 139.8h0.9v0.9h-0.9zM130.8 134.9h0.9v0.9h-0.9zM137.9 138.3h0.9v0.9h-0.9zM133.1 138.1h0.9v0.9h-0.9zM128.5 144.9h0.9v0.9h-0.9zM130.3 145.4h0.9v0.9h-0.9zM131.6 134.7h0.9v0.9h-0.9zM140.1 138.7h0.9v0.9h-0.9zM130.8 134.3h0.9v0.9h-0.9zM136.2 148.8h0.9v0.9h-0.9zM136.3 135.1h0.9v0.9h-0.9zM128.7 133.4h0.9v0.9h-0.9zM133.1 139.0h0.9v0.9h-0.9zM130.7 145.2h0.9v0.9h-0.9zM129.4 133.2h0.9v0.9h-0.9zM135.8 140.4h0.9v0.9h-0.9zM131.9 143.3h0.9v0.9h-0.9zM127.4 147.4h0.9v0.9h-0.9zM143.2 149.3h0.9v0.9h-0.9zM134.1 149.4h0.9v0.9h-0.9zM133.8 145.5h0.9v0.9h-0.9zM132.7 138.7h0.9v0.9h-0.9zM135.9 126.9h0.9v0.9h-0.9zM132.7 147.9h0.9v0.9h-0.9zM120.8 139.8h0.9v0.9h-0.9zM137.6 139.5h0.9v0.9h-0.9zM134.4 145.9h0.9v0.9h-0.9zM135.1 126.1h0.9v0.9h-0.9zM129.5 135.7h0.9v0.9h-0.9zM134.2 134.8h0.9v0.9h-0.9zM133.1 147.6h0.9v0.9h-0.9zM120.8 144.5h0.9v0.9h-0.9zM137.7 141.1h0.9v0.9h-0.9zM133.7 137.9h0.9v0.9h-0.9zM135.2 139.0h0.9v0.9h-0.9zM130.4 142.2h0.9v0.9h-0.9zM130.0 137.3h0.9v0.9h-0.9zM132.0 130.5h0.9v0.9h-0.9zM136.2 137.1h0.9v0.9h-0.9zM128.5 137.0h0.9v0.9h-0.9zM127.6 146.2h0.9v0.9h-0.9zM135.9 149.5h0.9v0.9h-0.9zM131.1 141.8h0.9v0.9h-0.9zM129.4 132.4h0.9v0.9h-0.9zM133.2 140.0h0.9v0.9h-0.9zM137.6 135.9h0.9v0.9h-0.9zM138.4 143.3h0.9v0.9h-0.9zM129.8 136.4h0.9v0.9h-0.9zM129.6 147.8h0.9v0.9h-0.9zM131.2 142.8h0.9v0.9h-0.9zM137.6 136.0h0.9v0.9h-0.9zM131.5 139.6h0.9v0.9h-0.9zM130.2 129.9h0.9v0.9h-0.9zM129.4 139.5h0.9v0.9h-0.9zM134.4 148.1h0.9v0.9h-0.9zM125.6 140.5h0.9v0.9h-0.9zM128.6 144.5h0.9v0.9h-0.9zM136.6 138.3h0.9v0.9h-0.9zM140.0 135.3h0.9v0.9h-0.9zM131.3 131.2h0.9v0.9h-0.9zM130.7 138.2h0.9v0.9h-0.9zM136.5 145.2h0.9v0.9h-0.9zM132.4 133.1h0.9v0.9h-0.9zM132.1 134.9h0.9v0.9h-0.9zM131.6 135.1h0.9v0.9h-0.9zM129.8 137.2h0.9v0.9h-0.9zM131.4 136.5h0.9v0.9h-0.9zM127.6 138.4h0.9v0.9h-0.9zM136.1 141.4h0.9v0.9h-0.9zM131.2 130.6h0.9v0.9h-0.9zM128.0 130.5h0.9v0.9h-0.9zM130.8 135.6h0.9v0.9h-0.9zM125.9 141.5h0.9v0.9h-0.9zM126.9 133.4h0.9v0.9h-0.9zM130.5 142.5h0.9v0.9h-0.9zM141.6 135.4h0.9v0.9h-0.9zM132.4 135.1h0.9v0.9h-0.9zM132.7 136.5h0.9v0.9h-0.9zM144.3 131.0h0.9v0.9h-0.9zM133.1 132.8h0.9v0.9h-0.9zM135.1 134.4h0.9v0.9h-0.9zM136.1 131.0h0.9v0.9h-0.9zM142.7 138.8h0.9v0.9h-0.9zM126.0 141.7h0.9v0.9h-0.9zM131.6 130.6h0.9v0.9h-0.9zM135.5 134.4h0.9v0.9h-0.9zM136.8 134.2h0.9v0.9h-0.9zM137.5 138.4h0.9v0.9h-0.9zM135.1 138.4h0.9v0.9h-0.9zM132.0 135.3h0.9v0.9h-0.9zM135.6 141.7h0.9v0.9h-0.9zM131.8 150.9h0.9v0.9h-0.9zM140.9 130.7h0.9v0.9h-0.9z" fill="#444" fill-opacity="0.239" filter="url(#soft)"/>
<path d="M129.0 144.6h0.9v0.9h-0.9zM131.6 154.0h0.9v0.9h-0.9zM133.3 137.7h0.9v0.9h-0.9zM139.5 142.8h0.9v0.9h-0.9zM137.7 131.0h0.9v0.9h-0.9zM138.6 147.7h0.9v0.9h-0.9zM133.2 134.6h0.9v0.9h-0.9zM128.8 143.7h0.9v0.9h-0.9zM134.9 137.5h0.9v0.9h-0.9zM128.2 147.3h0.9v0.9h-0.9zM137.4 137.4h0.9v0.9h-0.9zM140.0 131.7h0.9v0.9h-0.9zM137.5 131.5h0.9v0.9h-0.9zM139.8 135.8h0.9v0.9h-0.9zM138.9 135.0h0.9v0.9h-0.9zM135.3 144.4h0.9v0.9h-0.9zM129.7 138.1h0.9v0.9h-0.9zM129.9 142.7h0.9v0.9h-0.9zM131.0 135.2h0.9v0.9h-0.9zM132.7 144.5h0.9v0.9h-0.9zM129.1 137.3h0.9v0.9h-0.9zM132.2 134.2h0.9v0.9h-0.9zM130.2 136.5h0.9v0.9h-0.9zM134.5 128.1h0.9v0.9h-0.9zM134.6 130.3h0.9v0.9h-0.9zM133.7 151.3h0.9v0.9h-0.9zM129.4 137.1h0.9v0.9h-0.9zM132.5 143.4h0.9v0.9h-0.9zM131.5 126.7h0.9v0.9h-0.9zM126.6 138.6h0.9v0.9h-0.9zM134.7 144.0h0.9v0.9h-0.9zM131.3 141.5h0.9v0.9h-0.9zM129.0 145.3h0.9v0.9h-0.9zM133.3 133.4h0.9v0.9h-0.9zM134.4 148.0h0.9v0.9h-0.9zM129.9 130.0h0.9v0.9h-0.9zM129.2 130.5h0.9v0.9h-0.9zM133.4 139.6h0.9v0.9h-0.9zM132.9 138.7h0.9v0.9h-0.9zM138.8 135.8h0.9v0.9h-0.9zM128.1 123.7h0.9v0.9h-0.9zM134.7 133.4h0.9v0.9h-0.9zM132.5 140.0h0.9v0.9h-0.9zM135.6 128.0h0.9v0.9h-0.9zM129.4 137.9h0.9v0.9h-0.9zM133.0 144.4h0.9v0.9h-0.9zM131.4 125.0h0.9v0.9h-0.9zM138.7 127.6h0.9v0.9h-0.9zM129.4 139.9h0.9v0.9h-0.9zM129.0 152.6h0.9v0.9h-0.9zM134.6 140.7h0.9v0.9h-0.9zM131.7 150.9h0.9v0.9h-0.9zM136.0 133.2h0.9v0.9h-0.9zM139.1 127.3h0.9v0.9h-0.9zM131.0 139.2h0.9v0.9h-0.9zM134.2 131.7h0.9v0.9h-0.9zM140.5 146.4h0.9v0.9h-0.9zM129.5 139.8h0.9v0.9h-0.9zM130.8 134.9h0.9v0.9h-0.9zM137.9 138.3h0.9v0.9h-0.9zM133.1 138.1h0.9v0.9h-0.9zM128.5 144.9h0.9v0.9h-0.9zM130.3 145.4h0.9v0.9h-0.9zM131.6 134.7h0.9v0.9h-0.9zM140.1 138.7h0.9v0.9h-0.9zM130.8 134.3h0.9v0.9h-0.9zM136.2 148.8h0.9v0.9h-0.9zM136.3 135.1h0.9v0.9h-0.9zM128.7 133.4h0.9v0.9h-0.9zM133.1 139.0h0.9v0.9h-0.9zM130.7 145.2h0.9v0.9h-0.9zM129.4 133.2h0.9v0.9h-0.9zM135.8 140.4h0.9v0.9h-0.9zM131.9 143.3h0.9v0.9h-0.9zM127.4 147.4h0.9v0.9h-0.9zM143.2 149.3h0.9v0.9h-0.9zM134.1 149.4h0.9v0.9h-0.9zM133.8 145.5h0.9v0.9h-0.9zM132.7 138.7h0.9v0.9h-0.9zM135.9 126.9h0.9v0.9h-0.9zM132.7 147.9h0.9v0.9h-0.9zM120.8 139.8h0.9v0.9h-0.9zM137.6 139.5h0.9v0.9h-0.9zM134.4 145.9h0.9v0.9h-0.9zM135.1 126.1h0.9v0.9h-0.9zM129.5 135.7h0.9v0.9h-0.9zM134.2 134.8h0.9v0.9h-0.9zM133.1 147.6h0.9v0.9h-0.9zM120.8 144.5h0.9v0.9h-0.9zM137.7 141.1h0.9v0.9h-0.9zM133.7 137.9h0.9v0.9h-0.9zM135.2 139.0h0.9v0.9h-0.9zM130.4 142.2h0.9v0.9h-0.9zM130.0 137.3h0.9v0.9h-0.9zM132.0 130.5h0.9v0.9h-0.9zM136.2 137.1h0.9v0.9h-0.9zM128.5 137.0h0.9v0.9h-0.9zM127.6 146.2h0.9v0.9h-0.9zM135.9 149.5h0.9v0.9h-0.9zM131.1 141.8h0.9v0.9h-0.9zM129.4 132.4h0.9v0.9h-0.9zM133.2 140.0h0.9v0.9h-0.9zM137.6 135.9h0.9v0.9h-0.9zM138.4 143.3h0.9v0.9h-0.9zM129.8 136.4h0.9v0.9h-0.9zM129.6 147.8h0.9v0.9h-0.9zM131.2 142.8h0.9v0.9h-0.9zM137.6 136.0h0.9v0.9h-0.9zM131.5 139.6h0.9v0.9h-0.9zM130.2 129.9h0.9v0.9h-0.9zM129.4 139.5h0.9v0.9h-0.9zM134.4 148.1h0.9v0.9h-0.9zM125.6 140.5h0.9v0.9h-0.9zM128.6 144.5h0.9v0.9h-0.9zM136.6 138.3h0.9v0.9h-0.9zM140.0 135.3h0.9v0.9h-0.9zM131.3 131.2h0.9v0.9h-0.9zM130.7 138.2h0.9v0.9h-0.9zM136.5 145.2h0.9v0.9h-0.9zM132.4 133.1h0.9v0.9h-0.9zM132.1 134.9h0.9v0.9h-0.9zM131.6 135.1h0.9v0.9h-0.9zM129.8 137.2h0.9v0.9h-0.9zM131.4 136.5h0.9v0.9h-0.9zM127.6 138.4h0.9v0.9h-0.9zM136.1 141.4h0.9v0.9h-0.9zM131.2 130.6h0.9v0.9h-0.9zM128.0 130.5h0.9v0.9h-0.9zM130.8 135.6h0.9v0.9h-0.9zM125.9 141.5h0.9v0.9h-0.9zM126.9 133.4h0.9v0.9h-0.9zM130.5 142.5h0.9v0.9h-0.9zM141.6 135.4h0.9v0.9h-0.9zM132.4 135.1h0.9v0.9h-0.9zM132.7 136.5h0.9v0.9h-0.9zM144.3 131.0h0.9v0.9h-0.9zM133.1 132.8h0.9v0.9h-0.9zM135.1 134.4h0.9v0.9h-0.9zM136.1 131.0h0.9v0.9h-0.9zM142.7 138.8h0.9v0.9h-0.9zM126.0 141.7h0.9v0.9h-0.9zM131.6 130.6h0.9v0.9h-0.9zM135.5 134.4h0.9v0.9h-0.9zM136.8 134.2h0.9v0.9h-0.9zM137.5 138.4h0.9v0.9h-0.9zM135.1 138.4h0.9v0.9h-0.9zM132.0 135.3h0.9v0.9h-0.9zM135.6 141.7h0.9v0.9h-0.9zM131.8 150.9h0.9v0.9h-0.9zM140.9 130.7h0.9v0.9h-0.9z" fill="#444" fill-opacity="0.239"/>
<path d="M167.1 137.6h0.9v0.9h-0.9zM163.9 133.5h0.9v0.9h-0.9zM169.2 133.3h0.9v0.9h-0.9zM162.7 133.9h0.9v0.9h-0.9zM170.3 145.1h0.9v0.9h-0.9zM158.0 135.5h0.9v0.9h-0.9zM164.4 135.6h0.9v0.9h-0.9zM161.7 131.9h0.9v0.9h-0.9zM163.9 131.9h0.9v0.9h-0.9zM166.1 151.5h0.9v0.9h-0.9zM161.8 147.3h0.9v0.9h-0.9zM164.4 134.2h0.9v0.9h-0.9zM161.7 132.6h0.9v0.9h-0.9zM163.4 142.0h0.9v0.9h-0.9zM166.5 136.4h0.9v0.9h-0.9zM158.5 137.6h0.9v0.9h-0.9zM169.3 139.6h0.9v0.9h-0.9zM162.8 126.3h0.9v0.9h-0.9zM161.4 141.1h0.9v0.9h-0.9zM159.4 145.6h0.9v0.9h-0.9zM160.9 133.1h0.9v0.9h-0.9zM160.8 137.5h0.9v0.9h-0.9zM166.8 134.8h0.9v0.9h-0.9zM156.3 137.6h0.9v0.9h-0.9zM165.0 146.7h0.9v0.9h-0.9zM158.8 146.3h0.9v0.9h-0.9zM165.5 140.6h0.9v0.9h-0.9zM160.1 133.1h0.9v0.9h-0.9zM159.4 143.3h0.9v0.9h-0.9zM163.8 144.0h0.9v0.9h-0.9zM169.8 138.1h0.9v0.9h-0.9zM162.8 148.8h0.9v0.9h-0.9zM158.1 135.5h0.9v0.9h-0.9zM161.6 135.9h0.9v0.9h-0.9zM163.5 133.3h0.9v0.9h-0.9zM167.4 130.4h0.9v0.9h-0.9zM159.9 128.5h0.9v0.9h-0.9zM157.7 141.3h0.9v0.9h-0.9zM165.4 136.9h0.9v0.9h-0.9zM166.2 141.5h0.9v0.9h-0.9zM160.8 137.8h0.9v0.9h-0.9zM164.4 149.3h0.9v0.9h-0.9zM161.4 140.1h0.9v0.9h-0.9zM165.0 144.9h0.9v0.9h-0.9zM164.6 144.0h0.9v0.9h-0.9zM159.0 136.6h0.9v0.9h-0.9zM155.8 137.7h0.9v0.9h-0.9zM171.7 139.4h0.9v0.9h-0.9zM163.3 139.5h0.9v0.9h-0.9zM163.5 130.6h0.9v0.9h-0.9zM160.4 137.1h0.9v0.9h-0.9zM163.6 133.2h0.9v0.9h-0.9zM162.6 133.9h0.9v0.9h-0.9zM158.1 134.3h0.9v0.9h-0.9zM160.0 142.7h0.9v0.9h-0.9zM168.0 141.3h0.9v0.9h-0.9zM162.2 134.9h0.9v0.9h-0.9zM157.1 135.1h0.9v0.9h-0.9zM168.9 144.5h0.9v0.9h-0.9zM163.8 136.7h0.9v0.9h-0.9zM163.0 140.4h0.9v0.9h-0.9zM163.0 140.4h0.9v0.9h-0.9zM160.1 138.3h0.9v0.9h-0.9zM161.7 144.1h0.9v0.9h-0.9zM158.4 145.3h0.9v0.9h-0.9zM162.7 135.2h0.9v0.9h-0.9zM163.1 138.7h0.9v0.9h-0.9zM162.1 140.4h0.9v0.9h-0.9zM160.8 128.6h0.9v0.9h-0.9zM165.6 137.9h0.9v0.9h-0.9zM169.2 140.2h0.9v0.9h-0.9zM155.5 145.0h0.9v0.9h-0.9zM160.4 141.1h0.9v0.9h-0.9zM171.3 144.1h0.9v0.9h-0.9zM158.9 137.5h0.9v0.9h-0.9zM157.0 141.8h0.9v0.9h-0.9zM165.1 132.3h0.9v0.9h-0.9zM164.7 143.3h0.9v0.9h-0.9zM166.0 134.3h0.9v0.9h-0.9zM160.4 131.8h0.9v0.9h-0.9zM158.2 139.8h0.9v0.9h-0.9zM163.1 145.3h0.9v0.9h-0.9zM164.0 136.2h0.9v0.9h-0.9zM157.7 146.7h0.9v0.9h-0.9zM163.6 137.9h0.9v0.9h-0.9zM159.2 132.2h0.9v0.9h-0.9zM165.4 132.6h0.9v0.9h-0.9zM165.2 141.5h0.9v0.9h-0.9zM161.6 129.0h0.9v0.9h-0.9zM164.5 145.9h0.9v0.9h-0.9zM159.9 131.0h0.9v0.9h-0.9zM167.1 138.8h0.9v0.9h-0.9zM160.7 144.9h0.9v0.9h-0.9zM162.0 140.6h0.9v0.9h-0.9zM161.5 133.9h0.9v0.9h-0.9zM163.8 133.3h0.9v0.9h-0.9zM156.4 135.0h0.9v0.9h-0.9zM167.6 144.2h0.9v0.9h-0.9zM171.1 143.6h0.9v0.9h-0.9zM169.0 139.4h0.9v0.9h-0.9zM161.4 140.6h0.9v0.9h-0.9zM159.5 142.1h0.9v0.9h-0.9zM161.3 139.5h0.9v0.9h-0.9zM159.8 137.3h0.9v0.9h-0.9zM166.7 136.9h0.9v0.9h-0.9zM160.5 139.6h0.9v0.9h-0.9zM166.3 137.0h0.9v0.9h-0.9zM158.6 129.4h0.9v0.9h-0.9zM158.0 144.0h0.9v0.9h-0.9zM162.7 140.7h0.9v0.9h-0.9zM167.0 139.6h0.9v0.9h-0.9zM164.8 135.3h0.9v0.9h-0.9zM157.0 141.5h0.9v0.9h-0.9zM162.6 141.2h0.9v0.9h-0.9zM159.0 137.3h0.9v0.9h-0.9zM170.5 133.4h0.9v0.9h-0.9zM163.4 145.3h0.9v0.9h-0.9zM162.1 138.8h0.9v0.9h-0.9zM155.0 142.4h0.9v0.9h-0.9zM161.4 145.2h0.9v0.9h-0.9zM162.7 136.0h0.9v0.9h-0.9zM164.6 136.7h0.9v0.9h-0.9zM161.1 146.6h0.9v0.9h-0.9zM166.7 138.7h0.9v0.9h-0.9zM166.0 142.6h0.9v0.9h-0.9zM165.2 138.3h0.9v0.9h-0.9zM163.3 140.3h0.9v0.9h-0.9zM165.1 140.0h0.9v0.9h-0.9zM160.9 137.7h0.9v0.9h-0.9zM164.7 132.6h0.9v0.9h-0.9zM163.0 142.2h0.9v0.9h-0.9zM163.6 136.5h0.9v0.9h-0.9zM162.9 135.4h0.9v0.9h-0.9zM166.7 136.0h0.9v0.9h-0.9zM156.8 131.4h0.9v0.9h-0.9zM164.1 139.2h0.9v0.9h-0.9zM161.2 130.9h0.9v0.9h-0.9zM162.4 133.5h0.9v0.9h-0.9zM160.6 138.1h0.9v0.9h-0.9zM160.1 139.8h0.9v0.9h-0.9zM160.2 135.5h0.9v0.9h-0.9zM162.2 146.1h0.9v0.9h-0.9zM168.9 143.3h0.9v0.9h-0.9zM160.3 138.1h0.9v0.9h-0.9zM166.4 142.5h0.9v0.9h-0.9zM156.9 137.8h0.9v0.9h-0.9zM160.2 142.2h0.9v0.9h-0.9zM165.4 135.1h0.9v0.9h-0.9zM171.0 136.6h0.9v0.9h-0.9zM172.1 137.2h0.9v0.9h-0.9z" fill="#444" fill-opacity="0.239" filter="url(#soft)"/>
<path d="M167.1 137.6h0.9v0.9h-0.9zM163.9 133.5h0.9v0.9h-0.9zM169.2 133.3h0.9v0.9h-0.9zM162.7 133.9h0.9v0.9h-0.9zM170.3 145.1h0.9v0.9h-0.9zM158.0 135.5h0.9v0.9h-0.9zM164.4 135.6h0.9v0.9h-0.9zM161.7 131.9h0.9v0.9h-0.9zM163.9 131.9h0.9v0.9h-0.9zM166.1 151.5h0.9v0.9h-0.9zM161.8 147.3h0.9v0.9h-0.9zM164.4 134.2h0.9v0.9h-0.9zM161.7 132.6h0.9v0.9h-0.9zM163.4 142.0h0.9v0.9h-0.9zM166.5 136.4h0.9v0.9h-0.9zM158.5 137.6h0.9v0.9h-0.9zM169.3 139.6h0.9v0.9h-0.9zM162.8 126.3h0.9v0.9h-0.9zM161.4 141.1h0.9v0.9h-0.9zM159.4 145.6h0.9v0.9h-0.9zM160.9 133.1h0.9v0.9h-0.9zM160.8 137.5h0.9v0.9h-0.9zM166.8 134.8h0.9v0.9h-0.9zM156.3 137.6h0.9v0.9h-0.9zM165.0 146.7h0.9v0.9h-0.9zM158.8 146.3h0.9v0.9h-0.9zM165.5 140.6h0.9v0.9h-0.9zM160.1 133.1h0.9v0.9h-0.9zM159.4 143.3h0.9v0.9h-0.9zM163.8 144.0h0.9v0.9h-0.9zM169.8 138.1h0.9v0.9h-0.9zM162.8 148.8h0.9v0.9h-0.9zM158.1 135.5h0.9v0.9h-0.9zM161.6 135.9h0.9v0.9h-0.9zM163.5 133.3h0.9v0.9h-0.9zM167.4 130.4h0.9v0.9h-0.9zM159.9 128.5h0.9v0.9h-0.9zM157.7 141.3h0.9v0.9h-0.9zM165.4 136.9h0.9v0.9h-0.9zM166.2 141.5h0.9v0.9h-0.9zM160.8 137.8h0.9v0.9h-0.9zM164.4 149.3h0.9v0.9h-0.9zM161.4 140.1h0.9v0.9h-0.9zM165.0 144.9h0.9v0.9h-0.9zM164.6 144.0h0.9v0.9h-0.9zM159.0 136.6h0.9v0.9h-0.9zM155.8 137.7h0.9v0.9h-0.9zM171.7 139.4h0.9v0.9h-0.9zM163.3 139.5h0.9v0.9h-0.9zM163.5 130.6h0.9v0.9h-0.9zM160.4 137.1h0.9v0.9h-0.9zM163.6 133.2h0.9v0.9h-0.9zM162.6 133.9h0.9v0.9h-0.9zM158.1 134.3h0.9v0.9h-0.9zM160.0 142.7h0.9v0.9h-0.9zM168.0 141.3h0.9v0.9h-0.9zM162.2 134.9h0.9v0.9h-0.9zM157.1 135.1h0.9v0.9h-0.9zM168.9 144.5h0.9v0.9h-0.9zM163.8 136.7h0.9v0.9h-0.9zM163.0 140.4h0.9v0.9h-0.9zM163.0 140.4h0.9v0.9h-0.9zM160.1 138.3h0.9v0.9h-0.9zM161.7 144.1h0.9v0.9h-0.9zM158.4 145.3h0.9v0.9h-0.9zM162.7 135.2h0.9v0.9h-0.9zM163.1 138.7h0.9v0.9h-0.9zM162.1 140.4h0.9v0.9h-0.9zM160.8 128.6h0.9v0.9h-0.9zM165.6 137.9h0.9v0.9h-0.9zM169.2 140.2h0.9v0.9h-0.9zM155.5 145.0h0.9v0.9h-0.9zM160.4 141.1h0.9v0.9h-0.9zM171.3 144.1h0.9v0.9h-0.9zM158.9 137.5h0.9v0.9h-0.9zM157.0 141.8h0.9v0.9h-0.9zM165.1 132.3h0.9v0.9h-0.9zM164.7 143.3h0.9v0.9h-0.9zM166.0 134.3h0.9v0.9h-0.9zM160.4 131.8h0.9v0.9h-0.9zM158.2 139.8h0.9v0.9h-0.9zM163.1 145.3h0.9v0.9h-0.9zM164.0 136.2h0.9v0.9h-0.9zM157.7 146.7h0.9v0.9h-0.9zM163.6 137.9h0.9v0.9h-0.9zM159.2 132.2h0.9v0.9h-0.9zM165.4 132.6h0.9v0.9h-0.9zM165.2 141.5h0.9v0.9h-0.9zM161.6 129.0h0.9v0.9h-0.9zM164.5 145.9h0.9v0.9h-0.9zM159.9 131.0h0.9v0.9h-0.9zM167.1 138.8h0.9v0.9h-0.9zM160.7 144.9h0.9v0.9h-0.9zM162.0 140.6h0.9v0.9h-0.9zM161.5 133.9h0.9v0.9h-0.9zM163.8 133.3h0.9v0.9h-0.9zM156.4 135.0h0.9v0.9h-0.9zM167.6 144.2h0.9v0.9h-0.9zM171.1 143.6h0.9v0.9h-0.9zM169.0 139.4h0.9v0.9h-0.9zM161.4 140.6h0.9v0.9h-0.9zM159.5 142.1h0.9v0.9h-0.9zM161.3 139.5h0.9v0.9h-0.9zM159.8 137.3h0.9v0.9h-0.9zM166.7 136.9h0.9v0.9h-0.9zM160.5 139.6h0.9v0.9h-0.9zM166.3 137.0h0.9v0.9h-0.9zM158.6 129.4h0.9v0.9h-0.9zM158.0 144.0h0.9v0.9h-0.9zM162.7 140.7h0.9v0.9h-0.9zM167.0 139.6h0.9v0.9h-0.9zM164.8 135.3h0.9v0.9h-0.9zM157.0 141.5h0.9v0.9h-0.9zM162.6 141.2h0.9v0.9h-0.9zM159.0 137.3h0.9v0.9h-0.9zM170.5 133.4h0.9v0.9h-0.9zM163.4 145.3h0.9v0.9h-0.9zM162.1 138.8h0.9v0.9h-0.9zM155.0 142.4h0.9v0.9h-0.9zM161.4 145.2h0.9v0.9h-0.9zM162.7 136.0h0.9v0.9h-0.9zM164.6 136.7h0.9v0.9h-0.9zM161.1 146.6h0.9v0.9h-0.9zM166.7 138.7h0.9v0.9h-0.9zM166.0 142.6h0.9v0.9h-0.9zM165.2 138.3h0.9v0.9h-0.9zM163.3 140.3h0.9v0.9h-0.9zM165.1 140.0h0.9v0.9h-0.9zM160.9 137.7h0.9v0.9h-0.9zM164.7 132.6h0.9v0.9h-0.9zM163.0 142.2h0.9v0.9h-0.9zM163.6 136.5h0.9v0.9h-0.9zM162.9 135.4h0.9v0.9h-0.9zM166.7 136.0h0.9v0.9h-0.9zM156.8 131.4h0.9v0.9h-0.9zM164.1 139.2h0.9v0.9h-0.9zM161.2 130.9h0.9v0.9h-0.9zM162.4 133.5h0.9v0.9h-0.9zM160.6 138.1h0.9v0.9h-0.9zM160.1 139.8h0.9v0.9h-0.9zM160.2 135.5h0.9v0.9h-0.9zM162.2 146.1h0.9v0.9h-0.9zM168.9 143.3h0.9v0.9h-0.9zM160.3 138.1h0.9v0.9h-0.9zM166.4 142.5h0.9v0.9h-0.9zM156.9 137.8h0.9v0.9h-0.9zM160.2 142.2h0.9v0.9h-0.9zM165.4 135.1h0.9v0.9h-0.9zM171.0 136.6h0.9v0.9h-0.9zM172.1 137.2h0.9v0.9h-0.9z" fill="#444" fill-opacity="0.239"/>
<path d="M134.7 164.0h0.9v0.9h-0.9zM131.5 157.5h0.9v0.9h-0.9zM142.4 157.5h0.9v0.9h-0.9zM136.6 154.7h0.9v0.9h-0.9zM144.4 160.2h0.9v0.9h-0.9zM136.7 160.3h0.9v0.9h-0.9zM131.7 157.5h0.9v0.9h-0.9zM126.2 160.6h0.9v0.9h-0.9zM141.4 160.2h0.9v0.9h-0.9zM139.7 160.0h0.9v0.9h-0.9zM129.1 155.4h0.9v0.9h-0.9zM138.0 158.6h0.9v0.9h-0.9zM139.7 157.1h0.9v0.9h-0.9zM129.9 160.4h0.9v0.9h-0.9zM131.0 154.2h0.9v0.9h-0.9zM131.0 156.4h0.9v0.9h-0.9zM128.4 157.7h0.9v0.9h-0.9zM140.4 164.6h0.9v0.9h-0.9zM143.6 156.3h0.9v0.9h-0.9zM140.6 157.6h0.9v0.9h-0.9zM136.4 156.4h0.9v0.9h-0.9zM133.5 153.8h0.9v0.9h-0.9zM143.8 155.2h0.9v0.9h-0.9zM137.4 156.5h0.9v0.9h-0.9zM135.5 155.0h0.9v0.9h-0.9zM132.8 161.4h0.9v0.9h-0.9zM137.0 152.7h0.9v0.9h-0.9zM138.6 154.3h0.9v0.9h-0.9zM136.2 159.8h0.9v0.9h-0.9zM131.0 158.1h0.9v0.9h-0.9zM133.3 159.8h0.9v0.9h-0.9zM139.9 161.8h0.9v0.9h-0.9zM136.9 164.0h0.9v0.9h-0.9zM130.1 164.2h0.9v0.9h-0.9zM133.4 160.9h0.9v0.9h-0.9zM133.9 158.9h0.9v0.9h-0.9zM129.7 160.2h0.9v0.9h-0.9zM145.4 157.7h0.9v0.9h-0.9zM134.4 158.6h0.9v0.9h-0.9zM138.2 157.5h0.9v0.9h-0.9zM134.6 159.2h0.9v0.9h-0.9zM141.8 160.4h0.9v0.9h-0.9zM128.7 157.4h0.9v0.9h-0.9zM134.9 160.9h0.9v0.9h-0.9zM139.6 157.3h0.9v0.9h-0.9zM145.8 156.7h0.9v0.9h-0.9zM142.5 161.7h0.9v0.9h-0.9zM143.1 158.1h0.9v0.9h-0.9zM137.1 153.9h0.9v0.9h-0.9zM124.8 158.0h0.9v0.9h-0.9zM138.7 161.1h0.9v0.9h-0.9zM134.3 161.6h0.9v0.9h-0.9zM138.1 162.5h0.9v0.9h-0.9zM125.7 157.2h0.9v0.9h-0.9zM129.0 156.2h0.9v0.9h-0.9zM143.0 154.9h0.9v0.9h-0.9zM129.9 158.0h0.9v0.9h-0.9zM139.1 156.7h0.9v0.9h-0.9zM138.6 159.6h0.9v0.9h-0.9zM130.3 152.3h0.9v0.9h-0.9zM129.2 155.6h0.9v0.9h-0.9zM143.0 155.5h0.9v0.9h-0.9zM128.9 160.3h0.9v0.9h-0.9zM134.5 155.9h0.9v0.9h-0.9zM140.7 160.4h0.9v0.9h-0.9zM135.7 156.2h0.9v0.9h-0.9zM129.1 153.3h0.9v0.9h-0.9zM136.7 159.4h0.9v0.9h-0.9zM129.6 159.2h0.9v0.9h-0.9zM151.7 153.2h0.9v0.9h-0.9zM125.6 161.4h0.9v0.9h-0.9zM132.1 157.4h0.9v0.9h-0.9zM137.8 157.8h0.9v0.9h-0.9zM140.0 159.4h0.9v0.9h-0.9zM140.8 158.1h0.9v0.9h-0.9zM123.4 163.8h0.9v0.9h-0.9zM125.8 162.6h0.9v0.9h-0.9zM135.4 154.4h0.9v0.9h-0.9zM135.2 161.0h0.9v0.9h-0.9zM129.1 159.3h0.9v0.9h-0.9zM130.2 156.2h0.9v0.9h-0.9zM131.6 162.5h0.9v0.9h-0.9zM138.2 158.0h0.9v0.9h-0.9zM134.1 159.0h0.9v0.9h-0.9zM136.1 158.9h0.9v0.9h-0.9zM125.6 162.2h0.9v0.9h-0.9zM129.0 151.7h0.9v0.9h-0.9zM137.9 154.7h0.9v0.9h-0.9zM133.7 158.4h0.9v0.9h-0.9zM131.5 160.4h0.9v0.9h-0.9zM133.0 157.9h0.9v0.9h-0.9zM129.3 158.4h0.9v0.9h-0.9zM129.0 159.3h0.9v0.9h-0.9zM141.9 160.5h0.9v0.9h-0.9zM136.3 154.4h0.9v0.9h-0.9zM140.3 160.5h0.9v0.9h-0.9zM144.8 150.8h0.9v0.9h-0.9zM134.5 157.6h0.9v0.9h-0.9zM140.0 154.8h0.9v0.9h-0.9zM133.3 165.3h0.9v0.9h-0.9zM139.2 152.2h0.9v0.9h-0.9zM135.1 162.4h0.9v0.9h-0.9zM131.4 160.6h0.9v0.9h-0.9zM134.5 154.3h0.9v0.9h-0.9zM131.5 162.2h0.9v0.9h-0.9zM140.7 156.1h0.9v0.9h-0.9zM140.3 155.8h0.9v0.9h-0.9zM135.8 158.3h0.9v0.9h-0.9zM127.9 160.2h0.9v0.9h-0.9zM131.5 151.0h0.9v0.9h-0.9zM129.8 156.7h0.9v0.9h-0.9zM129.7 156.3h0.9v0.9h-0.9zM130.0 152.0h0.9v0.9h-0.9zM139.3 158.2h0.9v0.9h-0.9zM135.8 157.6h0.9v0.9h-0.9zM134.8 157.7h0.9v0.9h-0.9zM128.1 154.9h0.9v0.9h-0.9zM135.3 161.4h0.9v0.9h-0.9zM136.3 162.9h0.9v0.9h-0.9zM127.1 158.7h0.9v0.9h-0.9zM131.6 162.4h0.9v0.9h-0.9zM143.4 155.9h0.9v0.9h-0.9zM138.3 157.4h0.9v0.9h-0.9zM129.1 158.9h0.9v0.9h-0.9zM129.4 163.6h0.9v0.9h-0.9zM138.1 161.5h0.9v0.9h-0.9zM135.6 151.4h0.9v0.9h-0.9zM138.8 158.3h0.9v0.9h-0.9zM121.7 160.3h0.9v0.9h-0.9zM140.5 162.7h0.9v0.9h-0.9zM129.3 161.4h0.9v0.9h-0.9zM136.2 157.8h0.9v0.9h-0.9zM133.2 160.2h0.9v0.9h-0.9zM137.8 160.0h0.9v0.9h-0.9zM131.9 155.0h0.9v0.9h-0.9zM142.0 161.4h0.9v0.9h-0.9zM131.5 158.8h0.9v0.9h-0.9zM138.2 153.0h0.9v0.9h-0.9zM138.0 165.1h0.9v0.9h-0.9zM135.7 156.3h0.9v0.9h-0.9zM145.5 157.2h0.9v0.9h-0.9zM135.5 157.2h0.9v0.9h-0.9zM134.9 153.3h0.9v0.9h-0.9zM127.1 155.1h0.9v0.9h-0.9zM139.3 157.7h0.9v0.9h-0.9zM140.0 152.0h0.9v0.9h-0.9zM131.8 163.1h0.9v0.9h-0.9zM129.6 153.7h0.9v0.9h-0.9zM130.4 158.0h0.9v0.9h-0.9zM134.9 162.2h0.9v0.9h-0.9zM142.2 162.1h0.9v0.9h-0.9zM137.4 156.7h0.9v0.9h-0.9zM131.3 154.6h0.9v0.9h-0.9zM141.8 161.3h0.9v0.9h-0.9zM134.7 155.9h0.9v0.9h-0.9zM138.3 159.5h0.9v0.9h-0.9zM134.9 155.1h0.9v0.9h-0.9zM135.6 156.7h0.9v0.9h-0.9zM138.7 159.7h0.9v0.9h-0.9zM136.7 157.0h0.9v0.9h-0.9zM142.9 159.7h0.9v0.9h-0.9zM141.6 160.1h0.9v0.9h-0.9zM138.2 159.2h0.9v0.9h-0.9zM128.1 154.0h0.9v0.9h-0.9zM129.7 160.9h0.9v0.9h-0.9zM139.5 158.4h0.9v0.9h-0.9zM135.6 163.7h0.9v0.9h-0.9zM131.8 153.7h0.9v0.9h-0.9zM126.1 158.6h0.9v0.9h-0.9zM138.5 160.2h0.9v0.9h-0.9zM133.6 161.0h0.9v0.9h-0.9zM134.0 156.5h0.9v0.9h-0.9zM132.7 160.9h0.9v0.9h-0.9zM139.2 154.7h0.9v0.9h-0.9zM129.2 159.5h0.9v0.9h-0.9zM145.5 153.8h0.9v0.9h-0.9zM127.9 160.5h0.9v0.9h-0.9zM137.0 156.4h0.9v0.9h-0.9zM134.5 159.9h0.9v0.9h-0.9zM125.2 159.6h0.9v0.9h-0.9zM138.0 160.8h0.9v0.9h-0.9zM140.7 157.5h0.9v0.9h-0.9zM127.2 163.3h0.9v0.9h-0.9zM138.4 156.2h0.9v0.9h-0.9zM140.4 160.8h0.9v0.9h-0.9zM132.9 151.9h0.9v0.9h-0.9zM131.7 156.6h0.9v0.9h-0.9zM130.0 158.8h0.9v0.9h-0.9zM128.8 160.3h0.9v0.9h-0.9zM144.2 153.9h0.9v0.9h-0.9zM139.9 156.3h0.9v0.9h-0.9zM137.4 157.8h0.9v0.9h-0.9zM141.1 155.6h0.9v0.9h-0.9zM138.2 155.8h0.9v0.9h-0.9zM135.7 158.3h0.9v0.9h-0.9zM139.8 153.3h0.9v0.9h-0.9zM127.8 163.3h0.9v0.9h-0.9zM137.2 163.1h0.9v0.9h-0.9zM129.1 159.8h0.9v0.9h-0.9zM138.3 163.2h0.9v0.9h-0.9zM134.1 157.3h0.9v0.9h-0.9zM138.3 157.7h0.9v0.9h-0.9zM130.8 161.2h0.9v0.9h-0.9zM124.0 156.8h0.9v0.9h-0.9zM141.6 156.2h0.9v0.9h-0.9zM132.9 159.8h0.9v0.9h-0.9zM140.7 159.3h0.9v0.9h-0.9zM129.2 157.5h0.9v0.9h-0.9zM140.1 157.5h0.9v0.9h-0.9zM131.4 161.4h0.9v0.9h-0.9zM141.3 164.0h0.9v0.9h-0.9zM128.5 157.2h0.9v0.9h-0.9zM130.9 160.0h0.9v0.9h-0.9zM132.3 162.0h0.9v0.9h-0.9zM120.5 163.0h0.9v0.9h-0.9zM131.0 158.1h0.9v0.9h-0.9zM137.6 158.7h0.9v0.9h-0.9zM129.6 163.4h0.9v0.9h-0.9zM137.4 156.7h0.9v0.9h-0.9zM135.2 155.2h0.9v0.9h-0.9zM127.8 158.4h0.9v0.9h-0.9zM136.5 158.6h0.9v0.9h-0.9zM129.9 155.0h0.9v0.9h-0.9zM126.1 164.1h0.9v0.9h-0.9zM136.2 156.0h0.9v0.9h-0.9zM141.0 159.3h0.9v0.9h-0.9zM132.1 157.0h0.9v0.9h-0.9zM140.7 158.7h0.9v0.9h-0.9zM143.3 158.5h0.9v0.9h-0.9zM131.2 157.2h0.9v0.9h-0.9zM130.8 159.7h0.9v0.9h-0.9zM136.1 160.1h0.9v0.9h-0.9zM136.5 155.2h0.9v0.9h-0.9zM133.1 155.9h0.9v0.9h-0.9zM136.6 154.4h0.9v0.9h-0.9zM131.1 156.4h0.9v0.9h-0.9zM131.1 158.2h0.9v0.9h-0.9zM142.5 156.8h0.9v0.9h-0.9zM126.8 158.6h0.9v0.9h-0.9zM138.7 159.6h0.9v0.9h-0.9zM136.5 164.0h0.9v0.9h-0.9zM140.4 158.0h0.9v0.9h-0.9zM140.5 153.9h0.9v0.9h-0.9zM133.3 156.1h0.9v0.9h-0.9zM136.0 163.0h0.9v0.9h-0.9zM132.4 163.4h0.9v0.9h-0.9zM129.6 163.2h0.9v0.9h-0.9zM125.2 157.2h0.9v0.9h-0.9zM139.8 157.6h0.9v0.9h-0.9zM135.3 158.4h0.9v0.9h-0.9zM135.4 157.9h0.9v0.9h-0.9zM129.2 158.3h0.9v0.9h-0.9zM134.8 155.9h0.9v0.9h-0.9zM137.6 163.2h0.9v0.9h-0.9zM125.6 158.0h0.9v0.9h-0.9zM133.0 158.7h0.9v0.9h-0.9zM134.8 156.4h0.9v0.9h-0.9zM134.3 158.5h0.9v0.9h-0.9zM134.6 163.0h0.9v0.9h-0.9zM134.7 154.2h0.9v0.9h-0.9zM126.4 161.2h0.9v0.9h-0.9zM132.5 157.0h0.9v0.9h-0.9zM127.2 158.5h0.9v0.9h-0.9zM133.8 156.6h0.9v0.9h-0.9zM132.9 161.3h0.9v0.9h-0.9zM138.9 159.6h0.9v0.9h-0.9zM133.1 154.7h0.9v0.9h-0.9zM139.1 162.3h0.9v0.9h-0.9zM141.7 161.0h0.9v0.9h-0.9zM136.1 159.4h0.9v0.9h-0.9zM134.9 162.1h0.9v0.9h-0.9zM133.8 164.8h0.9v0.9h-0.9zM138.5 157.1h0.9v0.9h-0.9zM133.9 153.9h0.9v0.9h-0.9zM130.5 158.1h0.9v0.9h-0.9zM147.2 154.6h0.9v0.9h-0.9zM139.4 158.1h0.9v0.9h-0.9zM133.1 160.5h0.9v0.9h-0.9zM124.3 162.5h0.9v0.9h-0.9zM144.9 158.1h0.9v0.9h-0.9zM134.2 159.0h0.9v0.9h-0.9zM137.8 156.7h0.9v0.9h-0.9zM135.3 159.9h0.9v0.9h-0.9zM132.8 159.8h0.9v0.9h-0.9zM136.5 160.3h0.9v0.9h-0.9zM129.1 157.6h0.9v0.9h-0.9zM132.7 162.2h0.9v0.9h-0.9zM135.3 153.6h0.9v0.9h-0.9zM128.4 164.9h0.9v0.9h-0.9zM135.9 154.6h0.9v0.9h-0.9zM129.7 159.5h0.9v0.9h-0.9zM142.6 162.2h0.9v0.9h-0.9zM132.5 157.9h0.9v0.9h-0.9zM144.3 154.5h0.9v0.9h-0.9zM142.9 158.5h0.9v0.9h-0.9zM135.4 162.1h0.9v0.9h-0.9zM136.8 155.8h0.9v0.9h-0.9zM126.4 159.5h0.9v0.9h-0.9zM137.7 162.1h0.9v0.9h-0.9zM121.1 164.0h0.9v0.9h-0.9z" fill="#222" fill-opacity="0.338" filter="url(#soft)"/>
<path d="M134.7 164.0h0.9v0.9h-0.9zM131.5 157.5h0.9v0.9h-0.9zM142.4 157.5h0.9v0.9h-0.9zM136.6 154.7h0.9v0.9h-0.9zM144.4 160.2h0.9v0.9h-0.9zM136.7 160.3h0.9v0.9h-0.9zM131.7 157.5h0.9v0.9h-0.9zM126.2 160.6h0.9v0.9h-0.9zM141.4 160.2h0.9v0.9h-0.9zM139.7 160.0h0.9v0.9h-0.9zM129.1 155.4h0.9v0.9h-0.9zM138.0 158.6h0.9v0.9h-0.9zM139.7 157.1h0.9v0.9h-0.9zM129.9 160.4h0.9v0.9h-0.9zM131.0 154.2h0.9v0.9h-0.9zM131.0 156.4h0.9v0.9h-0.9zM128.4 157.7h0.9v0.9h-0.9zM140.4 164.6h0.9v0.9h-0.9zM143.6 156.3h0.9v0.9h-0.9zM140.6 157.6h0.9v0.9h-0.9zM136.4 156.4h0.9v0.9h-0.9zM133.5 153.8h0.9v0.9h-0.9zM143.8 155.2h0.9v0.9h-0.9zM137.4 156.5h0.9v0.9h-0.9zM135.5 155.0h0.9v0.9h-0.9zM132.8 161.4h0.9v0.9h-0.9zM137.0 152.7h0.9v0.9h-0.9zM138.6 154.3h0.9v0.9h-0.9zM136.2 159.8h0.9v0.9h-0.9zM131.0 158.1h0.9v0.9h-0.9zM133.3 159.8h0.9v0.9h-0.9zM139.9 161.8h0.9v0.9h-0.9zM136.9 164.0h0.9v0.9h-0.9zM130.1 164.2h0.9v0.9h-0.9zM133.4 160.9h0.9v0.9h-0.9zM133.9 158.9h0.9v0.9h-0.9zM129.7 160.2h0.9v0.9h-0.9zM145.4 157.7h0.9v0.9h-0.9zM134.4 158.6h0.9v0.9h-0.9zM138.2 157.5h0.9v0.9h-0.9zM134.6 159.2h0.9v0.9h-0.9zM141.8 160.4h0.9v0.9h-0.9zM128.7 157.4h0.9v0.9h-0.9zM134.9 160.9h0.9v0.9h-0.9zM139.6 157.3h0.9v0.9h-0.9zM145.8 156.7h0.9v0.9h-0.9zM142.5 161.7h0.9v0.9h-0.9zM143.1 158.1h0.9v0.9h-0.9zM137.1 153.9h0.9v0.9h-0.9zM124.8 158.0h0.9v0.9h-0.9zM138.7 161.1h0.9v0.9h-0.9zM134.3 161.6h0.9v0.9h-0.9zM138.1 162.5h0.9v0.9h-0.9zM125.7 157.2h0.9v0.9h-0.9zM129.0 156.2h0.9v0.9h-0.9zM143.0 154.9h0.9v0.9h-0.9zM129.9 158.0h0.9v0.9h-0.9zM139.1 156.7h0.9v0.9h-0.9zM138.6 159.6h0.9v0.9h-0.9zM130.3 152.3h0.9v0.9h-0.9zM129.2 155.6h0.9v0.9h-0.9zM143.0 155.5h0.9v0.9h-0.9zM128.9 160.3h0.9v0.9h-0.9zM134.5 155.9h0.9v0.9h-0.9zM140.7 160.4h0.9v0.9h-0.9zM135.7 156.2h0.9v0.9h-0.9zM129.1 153.3h0.9v0.9h-0.9zM136.7 159.4h0.9v0.9h-0.9zM129.6 159.2h0.9v0.9h-0.9zM151.7 153.2h0.9v0.9h-0.9zM125.6 161.4h0.9v0.9h-0.9zM132.1 157.4h0.9v0.9h-0.9zM137.8 157.8h0.9v0.9h-0.9zM140.0 159.4h0.9v0.9h-0.9zM140.8 158.1h0.9v0.9h-0.9zM123.4 163.8h0.9v0.9h-0.9zM125.8 162.6h0.9v0.9h-0.9zM135.4 154.4h0.9v0.9h-0.9zM135.2 161.0h0.9v0.9h-0.9zM129.1 159.3h0.9v0.9h-0.9zM130.2 156.2h0.9v0.9h-0.9zM131.6 162.5h0.9v0.9h-0.9zM138.2 158.0h0.9v0.9h-0.9zM134.1 159.0h0.9v0.9h-0.9zM136.1 158.9h0.9v0.9h-0.9zM125.6 162.2h0.9v0.9h-0.9zM129.0 151.7h0.9v0.9h-0.9zM137.9 154.7h0.9v0.9h-0.9zM133.7 158.4h0.9v0.9h-0.9zM131.5 160.4h0.9v0.9h-0.9zM133.0 157.9h0.9v0.9h-0.9zM129.3 158.4h0.9v0.9h-0.9zM129.0 159.3h0.9v0.9h-0.9zM141.9 160.5h0.9v0.9h-0.9zM136.3 154.4h0.9v0.9h-0.9zM140.3 160.5h0.9v0.9h-0.9zM144.8 150.8h0.9v0.9h-0.9zM134.5 157.6h0.9v0.9h-0.9zM140.0 154.8h0.9v0.9h-0.9zM133.3 165.3h0.9v0.9h-0.9zM139.2 152.2h0.9v0.9h-0.9zM135.1 162.4h0.9v0.9h-0.9zM131.4 160.6h0.9v0.9h-0.9zM134.5 154.3h0.9v0.9h-0.9zM131.5 162.2h0.9v0.9h-0.9zM140.7 156.1h0.9v0.9h-0.9zM140.3 155.8h0.9v0.9h-0.9zM135.8 158.3h0.9v0.9h-0.9zM127.9 160.2h0.9v0.9h-0.9zM131.5 151.0h0.9v0.9h-0.9zM129.8 156.7h0.9v0.9h-0.9zM129.7 156.3h0.9v0.9h-0.9zM130.0 152.0h0.9v0.9h-0.9zM139.3 158.2h0.9v0.9h-0.9zM135.8 157.6h0.9v0.9h-0.9zM134.8 157.7h0.9v0.9h-0.9zM128.1 154.9h0.9v0.9h-0.9zM135.3 161.4h0.9v0.9h-0.9zM136.3 162.9h0.9v0.9h-0.9zM127.1 158.7h0.9v0.9h-0.9zM131.6 162.4h0.9v0.9h-0.9zM143.4 155.9h0.9v0.9h-0.9zM138.3 157.4h0.9v0.9h-0.9zM129.1 158.9h0.9v0.9h-0.9zM129.4 163.6h0.9v0.9h-0.9zM138.1 161.5h0.9v0.9h-0.9zM135.6 151.4h0.9v0.9h-0.9zM138.8 158.3h0.9v0.9h-0.9zM121.7 160.3h0.9v0.9h-0.9zM140.5 162.7h0.9v0.9h-0.9zM129.3 161.4h0.9v0.9h-0.9zM136.2 157.8h0.9v0.9h-0.9zM133.2 160.2h0.9v0.9h-0.9zM137.8 160.0h0.9v0.9h-0.9zM131.9 155.0h0.9v0.9h-0.9zM142.0 161.4h0.9v0.9h-0.9zM131.5 158.8h0.9v0.9h-0.9zM138.2 153.0h0.9v0.9h-0.9zM138.0 165.1h0.9v0.9h-0.9zM135.7 156.3h0.9v0.9h-0.9zM145.5 157.2h0.9v0.9h-0.9zM135.5 157.2h0.9v0.9h-0.9zM134.9 153.3h0.9v0.9h-0.9zM127.1 155.1h0.9v0.9h-0.9zM139.3 157.7h0.9v0.9h-0.9zM140.0 152.0h0.9v0.9h-0.9zM131.8 163.1h0.9v0.9h-0.9zM129.6 153.7h0.9v0.9h-0.9zM130.4 158.0h0.9v0.9h-0.9zM134.9 162.2h0.9v0.9h-0.9zM142.2 162.1h0.9v0.9h-0.9zM137.4 156.7h0.9v0.9h-0.9zM131.3 154.6h0.9v0.9h-0.9zM141.8 161.3h0.9v0.9h-0.9zM134.7 155.9h0.9v0.9h-0.9zM138.3 159.5h0.9v0.9h-0.9zM134.9 155.1h0.9v0.9h-0.9zM135.6 156.7h0.9v0.9h-0.9zM138.7 159.7h0.9v0.9h-0.9zM136.7 157.0h0.9v0.9h-0.9zM142.9 159.7h0.9v0.9h-0.9zM141.6 160.1h0.9v0.9h-0.9zM138.2 159.2h0.9v0.9h-0.9zM128.1 154.0h0.9v0.9h-0.9zM129.7 160.9h0.9v0.9h-0.9zM139.5 158.4h0.9v0.9h-0.9zM135.6 163.7h0.9v0.9h-0.9zM131.8 153.7h0.9v0.9h-0.9zM126.1 158.6h0.9v0.9h-0.9zM138.5 160.2h0.9v0.9h-0.9zM133.6 161.0h0.9v0.9h-0.9zM134.0 156.5h0.9v0.9h-0.9zM132.7 160.9h0.9v0.9h-0.9zM139.2 154.7h0.9v0.9h-0.9zM129.2 159.5h0.9v0.9h-0.9zM145.5 153.8h0.9v0.9h-0.9zM127.9 160.5h0.9v0.9h-0.9zM137.0 156.4h0.9v0.9h-0.9zM134.5 159.9h0.9v0.9h-0.9zM125.2 159.6h0.9v0.9h-0.9zM138.0 160.8h0.9v0.9h-0.9zM140.7 157.5h0.9v0.9h-0.9zM127.2 163.3h0.9v0.9h-0.9zM138.4 156.2h0.9v0.9h-0.9zM140.4 160.8h0.9v0.9h-0.9zM132.9 151.9h0.9v0.9h-0.9zM131.7 156.6h0.9v0.9h-0.9zM130.0 158.8h0.9v0.9h-0.9zM128.8 160.3h0.9v0.9h-0.9zM144.2 153.9h0.9v0.9h-0.9zM139.9 156.3h0.9v0.9h-0.9zM137.4 157.8h0.9v0.9h-0.9zM141.1 155.6h0.9v0.9h-0.9zM138.2 155.8h0.9v0.9h-0.9zM135.7 158.3h0.9v0.9h-0.9zM139.8 153.3h0.9v0.9h-0.9zM127.8 163.3h0.9v0.9h-0.9zM137.2 163.1h0.9v0.9h-0.9zM129.1 159.8h0.9v0.9h-0.9zM138.3 163.2h0.9v0.9h-0.9zM134.1 157.3h0.9v0.9h-0.9zM138.3 157.7h0.9v0.9h-0.9zM130.8 161.2h0.9v0.9h-0.9zM124.0 156.8h0.9v0.9h-0.9zM141.6 156.2h0.9v0.9h-0.9zM132.9 159.8h0.9v0.9h-0.9zM140.7 159.3h0.9v0.9h-0.9zM129.2 157.5h0.9v0.9h-0.9zM140.1 157.5h0.9v0.9h-0.9zM131.4 161.4h0.9v0.9h-0.9zM141.3 164.0h0.9v0.9h-0.9zM128.5 157.2h0.9v0.9h-0.9zM130.9 160.0h0.9v0.9h-0.9zM132.3 162.0h0.9v0.9h-0.9zM120.5 163.0h0.9v0.9h-0.9zM131.0 158.1h0.9v0.9h-0.9zM137.6 158.7h0.9v0.9h-0.9zM129.6 163.4h0.9v0.9h-0.9zM137.4 156.7h0.9v0.9h-0.9zM135.2 155.2h0.9v0.9h-0.9zM127.8 158.4h0.9v0.9h-0.9zM136.5 158.6h0.9v0.9h-0.9zM129.9 155.0h0.9v0.9h-0.9zM126.1 164.1h0.9v0.9h-0.9zM136.2 156.0h0.9v0.9h-0.9zM141.0 159.3h0.9v0.9h-0.9zM132.1 157.0h0.9v0.9h-0.9zM140.7 158.7h0.9v0.9h-0.9zM143.3 158.5h0.9v0.9h-0.9zM131.2 157.2h0.9v0.9h-0.9zM130.8 159.7h0.9v0.9h-0.9zM136.1 160.1h0.9v0.9h-0.9zM136.5 155.2h0.9v0.9h-0.9zM133.1 155.9h0.9v0.9h-0.9zM136.6 154.4h0.9v0.9h-0.9zM131.1 156.4h0.9v0.9h-0.9zM131.1 158.2h0.9v0.9h-0.9zM142.5 156.8h0.9v0.9h-0.9zM126.8 158.6h0.9v0.9h-0.9zM138.7 159.6h0.9v0.9h-0.9zM136.5 164.0h0.9v0.9h-0.9zM140.4 158.0h0.9v0.9h-0.9zM140.5 153.9h0.9v0.9h-0.9zM133.3 156.1h0.9v0.9h-0.9zM136.0 163.0h0.9v0.9h-0.9zM132.4 163.4h0.9v0.9h-0.9zM129.6 163.2h0.9v0.9h-0.9zM125.2 157.2h0.9v0.9h-0.9zM139.8 157.6h0.9v0.9h-0.9zM135.3 158.4h0.9v0.9h-0.9zM135.4 157.9h0.9v0.9h-0.9zM129.2 158.3h0.9v0.9h-0.9zM134.8 155.9h0.9v0.9h-0.9zM137.6 163.2h0.9v0.9h-0.9zM125.6 158.0h0.9v0.9h-0.9zM133.0 158.7h0.9v0.9h-0.9zM134.8 156.4h0.9v0.9h-0.9zM134.3 158.5h0.9v0.9h-0.9zM134.6 163.0h0.9v0.9h-0.9zM134.7 154.2h0.9v0.9h-0.9zM126.4 161.2h0.9v0.9h-0.9zM132.5 157.0h0.9v0.9h-0.9zM127.2 158.5h0.9v0.9h-0.9zM133.8 156.6h0.9v0.9h-0.9zM132.9 161.3h0.9v0.9h-0.9zM138.9 159.6h0.9v0.9h-0.9zM133.1 154.7h0.9v0.9h-0.9zM139.1 162.3h0.9v0.9h-0.9zM141.7 161.0h0.9v0.9h-0.9zM136.1 159.4h0.9v0.9h-0.9zM134.9 162.1h0.9v0.9h-0.9zM133.8 164.8h0.9v0.9h-0.9zM138.5 157.1h0.9v0.9h-0.9zM133.9 153.9h0.9v0.9h-0.9zM130.5 158.1h0.9v0.9h-0.9zM147.2 154.6h0.9v0.9h-0.9zM139.4 158.1h0.9v0.9h-0.9zM133.1 160.5h0.9v0.9h-0.9zM124.3 162.5h0.9v0.9h-0.9zM144.9 158.1h0.9v0.9h-0.9zM134.2 159.0h0.9v0.9h-0.9zM137.8 156.7h0.9v0.9h-0.9zM135.3 159.9h0.9v0.9h-0.9zM132.8 159.8h0.9v0.9h-0.9zM136.5 160.3h0.9v0.9h-0.9zM129.1 157.6h0.9v0.9h-0.9zM132.7 162.2h0.9v0.9h-0.9zM135.3 153.6h0.9v0.9h-0.9zM128.4 164.9h0.9v0.9h-0.9zM135.9 154.6h0.9v0.9h-0.9zM129.7 159.5h0.9v0.9h-0.9zM142.6 162.2h0.9v0.9h-0.9zM132.5 157.9h0.9v0.9h-0.9zM144.3 154.5h0.9v0.9h-0.9zM142.9 158.5h0.9v0.9h-0.9zM135.4 162.1h0.9v0.9h-0.9zM136.8 155.8h0.9v0.9h-0.9zM126.4 159.5h0.9v0.9h-0.9zM137.7 162.1h0.9v0.9h-0.9zM121.1 164.0h0.9v0.9h-0.9z" fill="#222" fill-opacity="0.338"/>
<path d="M165.8 163.8h0.9v0.9h-0.9zM166.4 159.5h0.9v0.9h-0.9zM165.1 160.1h0.9v0.9h-0.9zM161.2 158.4h0.9v0.9h-0.9zM164.0 157.3h0.9v0.9h-0.9zM158.1 154.1h0.9v0.9h-0.9zM165.4 160.5h0.9v0.9h-0.9zM163.9 155.0h0.9v0.9h-0.9zM166.6 157.5h0.9v0.9h-0.9zM155.8 163.9h0.9v0.9h-0.9zM158.0 166.2h0.9v0.9h-0.9zM165.5 157.4h0.9v0.9h-0.9zM154.8 156.5h0.9v0.9h-0.9zM169.0 163.2h0.9v0.9h-0.9zM164.5 153.2h0.9v0.9h-0.9zM162.1 157.9h0.9v0.9h-0.9zM165.2 158.4h0.9v0.9h-0.9zM164.8 153.5h0.9v0.9h-0.9zM161.1 163.5h0.9v0.9h-0.9zM158.1 161.8h0.9v0.9h-0.9zM172.0 160.9h0.9v0.9h-0.9zM158.4 162.9h0.9v0.9h-0.9zM156.7 159.9h0.9v0.9h-0.9zM162.0 162.8h0.9v0.9h-0.9zM167.8 159.4h0.9v0.9h-0.9zM170.1 162.0h0.9v0.9h-0.9zM161.7 155.6h0.9v0.9h-0.9zM172.6 157.5h0.9v0.9h-0.9zM165.0 158.4h0.9v0.9h-0.9zM161.8 153.5h0.9v0.9h-0.9zM163.0 158.4h0.9v0.9h-0.9zM167.1 157.1h0.9v0.9h-0.9zM157.7 155.3h0.9v0.9h-0.9zM163.4 159.6h0.9v0.9h-0.9zM166.2 157.5h0.9v0.9h-0.9zM165.5 159.3h0.9v0.9h-0.9zM169.7 158.6h0.9v0.9h-0.9zM164.0 160.7h0.9v0.9h-0.9zM168.0 155.8h0.9v0.9h-0.9zM161.8 157.9h0.9v0.9h-0.9zM155.6 163.1h0.9v0.9h-0.9zM167.5 158.9h0.9v0.9h-0.9zM175.9 163.0h0.9v0.9h-0.9zM171.0 163.9h0.9v0.9h-0.9zM166.8 154.2h0.9v0.9h-0.9zM169.2 160.2h0.9v0.9h-0.9zM159.1 159.0h0.9v0.9h-0.9zM166.3 162.0h0.9v0.9h-0.9zM164.1 157.1h0.9v0.9h-0.9zM166.3 156.3h0.9v0.9h-0.9zM163.2 161.3h0.9v0.9h-0.9zM158.2 160.0h0.9v0.9h-0.9zM156.3 155.8h0.9v0.9h-0.9zM159.0 158.5h0.9v0.9h-0.9zM166.1 158.6h0.9v0.9h-0.9zM166.9 159.1h0.9v0.9h-0.9zM162.7 160.4h0.9v0.9h-0.9zM162.6 159.2h0.9v0.9h-0.9zM167.3 156.9h0.9v0.9h-0.9zM167.8 155.2h0.9v0.9h-0.9zM162.7 153.1h0.9v0.9h-0.9zM161.5 164.0h0.9v0.9h-0.9zM164.8 163.0h0.9v0.9h-0.9zM158.1 155.5h0.9v0.9h-0.9zM165.2 161.5h0.9v0.9h-0.9zM166.6 153.3h0.9v0.9h-0.9zM165.4 158.6h0.9v0.9h-0.9zM163.9 160.4h0.9v0.9h-0.9zM162.5 153.3h0.9v0.9h-0.9zM159.6 154.1h0.9v0.9h-0.9zM158.6 158.4h0.9v0.9h-0.9zM168.3 156.5h0.9v0.9h-0.9zM160.7 155.0h0.9v0.9h-0.9zM157.1 159.0h0.9v0.9h-0.9zM161.7 158.0h0.9v0.9h-0.9zM159.9 160.4h0.9v0.9h-0.9zM159.1 160.6h0.9v0.9h-0.9zM161.1 161.4h0.9v0.9h-0.9zM160.2 160.3h0.9v0.9h-0.9zM165.1 158.5h0.9v0.9h-0.9zM169.5 159.4h0.9v0.9h-0.9zM160.2 161.1h0.9v0.9h-0.9zM160.5 157.0h0.9v0.9h-0.9zM163.5 159.4h0.9v0.9h-0.9zM169.8 153.1h0.9v0.9h-0.9zM162.5 162.5h0.9v0.9h-0.9zM162.9 159.9h0.9v0.9h-0.9zM169.1 154.8h0.9v0.9h-0.9zM163.7 161.4h0.9v0.9h-0.9zM161.3 153.0h0.9v0.9h-0.9zM159.8 159.4h0.9v0.9h-0.9zM164.2 164.9h0.9v0.9h-0.9zM168.4 153.7h0.9v0.9h-0.9zM167.3 161.8h0.9v0.9h-0.9zM169.5 158.3h0.9v0.9h-0.9zM161.4 159.3h0.9v0.9h-0.9zM169.2 160.8h0.9v0.9h-0.9zM169.8 161.4h0.9v0.9h-0.9zM161.3 155.5h0.9v0.9h-0.9zM170.4 153.8h0.9v0.9h-0.9zM162.2 157.8h0.9v0.9h-0.9zM160.1 156.9h0.9v0.9h-0.9zM163.5 166.6h0.9v0.9h-0.9zM163.3 157.1h0.9v0.9h-0.9zM164.0 161.9h0.9v0.9h-0.9zM160.5 157.5h0.9v0.9h-0.9zM157.0 161.1h0.9v0.9h-0.9zM166.0 163.7h0.9v0.9h-0.9zM159.1 166.0h0.9v0.9h-0.9zM166.7 157.9h0.9v0.9h-0.9zM162.1 157.8h0.9v0.9h-0.9zM159.0 161.3h0.9v0.9h-0.9zM161.3 156.4h0.9v0.9h-0.9zM165.4 159.2h0.9v0.9h-0.9zM161.3 158.0h0.9v0.9h-0.9zM161.7 163.2h0.9v0.9h-0.9zM167.2 156.4h0.9v0.9h-0.9zM163.4 163.3h0.9v0.9h-0.9zM162.4 164.7h0.9v0.9h-0.9zM165.1 161.0h0.9v0.9h-0.9zM155.8 161.6h0.9v0.9h-0.9zM164.8 160.7h0.9v0.9h-0.9zM165.3 160.5h0.9v0.9h-0.9zM161.6 161.8h0.9v0.9h-0.9zM163.7 155.3h0.9v0.9h-0.9zM159.7 159.3h0.9v0.9h-0.9zM164.7 151.5h0.9v0.9h-0.9zM155.9 162.3h0.9v0.9h-0.9zM163.5 168.2h0.9v0.9h-0.9zM157.8 158.0h0.9v0.9h-0.9zM161.3 160.6h0.9v0.9h-0.9zM168.7 164.1h0.9v0.9h-0.9zM159.8 162.9h0.9v0.9h-0.9zM159.0 159.8h0.9v0.9h-0.9zM164.1 160.8h0.9v0.9h-0.9zM160.5 163.2h0.9v0.9h-0.9zM163.2 158.7h0.9v0.9h-0.9zM162.5 155.3h0.9v0.9h-0.9zM166.2 159.9h0.9v0.9h-0.9zM165.2 164.9h0.9v0.9h-0.9zM160.3 157.9h0.9v0.9h-0.9zM163.5 161.6h0.9v0.9h-0.9zM162.8 161.9h0.9v0.9h-0.9zM165.2 153.0h0.9v0.9h-0.9zM161.0 152.1h0.9v0.9h-0.9zM162.4 157.4h0.9v0.9h-0.9zM165.7 159.4h0.9v0.9h-0.9zM163.3 163.0h0.9v0.9h-0.9zM165.7 154.7h0.9v0.9h-0.9zM160.9 159.9h0.9v0.9h-0.9zM169.8 158.1h0.9v0.9h-0.9zM162.9 159.7h0.9v0.9h-0.9zM166.4 158.5h0.9v0.9h-0.9zM164.6 157.4h0.9v0.9h-0.9zM161.5 156.2h0.9v0.9h-0.9zM165.9 157.0h0.9v0.9h-0.9zM165.5 160.1h0.9v0.9h-0.9zM167.1 149.9h0.9v0.9h-0.9zM159.9 154.8h0.9v0.9h-0.9zM162.9 161.5h0.9v0.9h-0.9zM172.9 163.9h0.9v0.9h-0.9zM168.5 160.1h0.9v0.9h-0.9zM162.1 160.6h0.9v0.9h-0.9zM155.4 161.9h0.9v0.9h-0.9zM163.5 160.8h0.9v0.9h-0.9zM159.7 155.2h0.9v0.9h-0.9zM161.1 158.7h0.9v0.9h-0.9zM164.8 157.6h0.9v0.9h-0.9zM164.8 161.0h0.9v0.9h-0.9zM159.2 158.5h0.9v0.9h-0.9zM157.7 157.0h0.9v0.9h-0.9zM166.9 156.4h0.9v0.9h-0.9zM170.4 160.5h0.9v0.9h-0.9zM166.8 159.1h0.9v0.9h-0.9zM166.7 162.4h0.9v0.9h-0.9zM163.9 157.1h0.9v0.9h-0.9zM161.5 165.2h0.9v0.9h-0.9zM162.8 157.3h0.9v0.9h-0.9zM160.9 153.2h0.9v0.9h-0.9zM161.6 159.9h0.9v0.9h-0.9zM161.7 156.3h0.9v0.9h-0.9zM165.0 160.3h0.9v0.9h-0.9zM161.9 159.8h0.9v0.9h-0.9zM159.9 161.6h0.9v0.9h-0.9zM159.8 157.7h0.9v0.9h-0.9zM164.0 157.4h0.9v0.9h-0.9zM159.2 165.7h0.9v0.9h-0.9zM169.1 153.0h0.9v0.9h-0.9zM164.0 154.6h0.9v0.9h-0.9zM164.7 154.5h0.9v0.9h-0.9zM165.7 160.6h0.9v0.9h-0.9zM169.8 162.8h0.9v0.9h-0.9zM161.8 161.9h0.9v0.9h-0.9zM161.8 158.4h0.9v0.9h-0.9zM161.6 153.0h0.9v0.9h-0.9zM165.7 152.1h0.9v0.9h-0.9zM162.6 160.5h0.9v0.9h-0.9zM163.9 153.6h0.9v0.9h-0.9zM161.1 161.1h0.9v0.9h-0.9zM167.6 164.1h0.9v0.9h-0.9zM156.8 160.3h0.9v0.9h-0.9zM161.7 161.3h0.9v0.9h-0.9zM157.2 158.3h0.9v0.9h-0.9zM166.1 156.7h0.9v0.9h-0.9zM162.2 155.6h0.9v0.9h-0.9zM167.6 154.4h0.9v0.9h-0.9zM160.1 157.7h0.9v0.9h-0.9zM162.3 165.8h0.9v0.9h-0.9zM164.5 156.0h0.9v0.9h-0.9zM165.7 159.9h0.9v0.9h-0.9zM164.5 158.6h0.9v0.9h-0.9zM165.2 154.9h0.9v0.9h-0.9zM159.0 157.4h0.9v0.9h-0.9zM159.4 161.1h0.9v0.9h-0.9zM170.7 162.9h0.9v0.9h-0.9zM165.2 159.9h0.9v0.9h-0.9zM161.0 154.5h0.9v0.9h-0.9zM165.5 153.9h0.9v0.9h-0.9zM164.6 158.3h0.9v0.9h-0.9zM166.3 159.0h0.9v0.9h-0.9zM163.9 156.9h0.9v0.9h-0.9zM157.1 157.7h0.9v0.9h-0.9zM166.1 162.3h0.9v0.9h-0.9zM168.6 155.5h0.9v0.9h-0.9zM160.0 161.1h0.9v0.9h-0.9zM161.8 167.3h0.9v0.9h-0.9zM164.7 153.8h0.9v0.9h-0.9zM161.4 164.0h0.9v0.9h-0.9zM156.7 159.3h0.9v0.9h-0.9zM158.4 164.1h0.9v0.9h-0.9zM161.8 155.4h0.9v0.9h-0.9zM157.2 156.4h0.9v0.9h-0.9zM154.0 157.2h0.9v0.9h-0.9zM171.6 159.1h0.9v0.9h-0.9zM162.5 155.0h0.9v0.9h-0.9zM164.8 157.2h0.9v0.9h-0.9zM160.4 163.4h0.9v0.9h-0.9zM165.1 155.9h0.9v0.9h-0.9zM169.0 158.6h0.9v0.9h-0.9zM165.4 159.3h0.9v0.9h-0.9z" fill="#222" fill-opacity="0.322" filter="url(#soft)"/>
<path d="M165.8 163.8h0.9v0.9h-0.9zM166.4 159.5h0.9v0.9h-0.9zM165.1 160.1h0.9v0.9h-0.9zM161.2 158.4h0.9v0.9h-0.9zM164.0 157.3h0.9v0.9h-0.9zM158.1 154.1h0.9v0.9h-0.9zM165.4 160.5h0.9v0.9h-0.9zM163.9 155.0h0.9v0.9h-0.9zM166.6 157.5h0.9v0.9h-0.9zM155.8 163.9h0.9v0.9h-0.9zM158.0 166.2h0.9v0.9h-0.9zM165.5 157.4h0.9v0.9h-0.9zM154.8 156.5h0.9v0.9h-0.9zM169.0 163.2h0.9v0.9h-0.9zM164.5 153.2h0.9v0.9h-0.9zM162.1 157.9h0.9v0.9h-0.9zM165.2 158.4h0.9v0.9h-0.9zM164.8 153.5h0.9v0.9h-0.9zM161.1 163.5h0.9v0.9h-0.9zM158.1 161.8h0.9v0.9h-0.9zM172.0 160.9h0.9v0.9h-0.9zM158.4 162.9h0.9v0.9h-0.9zM156.7 159.9h0.9v0.9h-0.9zM162.0 162.8h0.9v0.9h-0.9zM167.8 159.4h0.9v0.9h-0.9zM170.1 162.0h0.9v0.9h-0.9zM161.7 155.6h0.9v0.9h-0.9zM172.6 157.5h0.9v0.9h-0.9zM165.0 158.4h0.9v0.9h-0.9zM161.8 153.5h0.9v0.9h-0.9zM163.0 158.4h0.9v0.9h-0.9zM167.1 157.1h0.9v0.9h-0.9zM157.7 155.3h0.9v0.9h-0.9zM163.4 159.6h0.9v0.9h-0.9zM166.2 157.5h0.9v0.9h-0.9zM165.5 159.3h0.9v0.9h-0.9zM169.7 158.6h0.9v0.9h-0.9zM164.0 160.7h0.9v0.9h-0.9zM168.0 155.8h0.9v0.9h-0.9zM161.8 157.9h0.9v0.9h-0.9zM155.6 163.1h0.9v0.9h-0.9zM167.5 158.9h0.9v0.9h-0.9zM175.9 163.0h0.9v0.9h-0.9zM171.0 163.9h0.9v0.9h-0.9zM166.8 154.2h0.9v0.9h-0.9zM169.2 160.2h0.9v0.9h-0.9zM159.1 159.0h0.9v0.9h-0.9zM166.3 162.0h0.9v0.9h-0.9zM164.1 157.1h0.9v0.9h-0.9zM166.3 156.3h0.9v0.9h-0.9zM163.2 161.3h0.9v0.9h-0.9zM158.2 160.0h0.9v0.9h-0.9zM156.3 155.8h0.9v0.9h-0.9zM159.0 158.5h0.9v0.9h-0.9zM166.1 158.6h0.9v0.9h-0.9zM166.9 159.1h0.9v0.9h-0.9zM162.7 160.4h0.9v0.9h-0.9zM162.6 159.2h0.9v0.9h-0.9zM167.3 156.9h0.9v0.9h-0.9zM167.8 155.2h0.9v0.9h-0.9zM162.7 153.1h0.9v0.9h-0.9zM161.5 164.0h0.9v0.9h-0.9zM164.8 163.0h0.9v0.9h-0.9zM158.1 155.5h0.9v0.9h-0.9zM165.2 161.5h0.9v0.9h-0.9zM166.6 153.3h0.9v0.9h-0.9zM165.4 158.6h0.9v0.9h-0.9zM163.9 160.4h0.9v0.9h-0.9zM162.5 153.3h0.9v0.9h-0.9zM159.6 154.1h0.9v0.9h-0.9zM158.6 158.4h0.9v0.9h-0.9zM168.3 156.5h0.9v0.9h-0.9zM160.7 155.0h0.9v0.9h-0.9zM157.1 159.0h0.9v0.9h-0.9zM161.7 158.0h0.9v0.9h-0.9zM159.9 160.4h0.9v0.9h-0.9zM159.1 160.6h0.9v0.9h-0.9zM161.1 161.4h0.9v0.9h-0.9zM160.2 160.3h0.9v0.9h-0.9zM165.1 158.5h0.9v0.9h-0.9zM169.5 159.4h0.9v0.9h-0.9zM160.2 161.1h0.9v0.9h-0.9zM160.5 157.0h0.9v0.9h-0.9zM163.5 159.4h0.9v0.9h-0.9zM169.8 153.1h0.9v0.9h-0.9zM162.5 162.5h0.9v0.9h-0.9zM162.9 159.9h0.9v0.9h-0.9zM169.1 154.8h0.9v0.9h-0.9zM163.7 161.4h0.9v0.9h-0.9zM161.3 153.0h0.9v0.9h-0.9zM159.8 159.4h0.9v0.9h-0.9zM164.2 164.9h0.9v0.9h-0.9zM168.4 153.7h0.9v0.9h-0.9zM167.3 161.8h0.9v0.9h-0.9zM169.5 158.3h0.9v0.9h-0.9zM161.4 159.3h0.9v0.9h-0.9zM169.2 160.8h0.9v0.9h-0.9zM169.8 161.4h0.9v0.9h-0.9zM161.3 155.5h0.9v0.9h-0.9zM170.4 153.8h0.9v0.9h-0.9zM162.2 157.8h0.9v0.9h-0.9zM160.1 156.9h0.9v0.9h-0.9zM163.5 166.6h0.9v0.9h-0.9zM163.3 157.1h0.9v0.9h-0.9zM164.0 161.9h0.9v0.9h-0.9zM160.5 157.5h0.9v0.9h-0.9zM157.0 161.1h0.9v0.9h-0.9zM166.0 163.7h0.9v0.9h-0.9zM159.1 166.0h0.9v0.9h-0.9zM166.7 157.9h0.9v0.9h-0.9zM162.1 157.8h0.9v0.9h-0.9zM159.0 161.3h0.9v0.9h-0.9zM161.3 156.4h0.9v0.9h-0.9zM165.4 159.2h0.9v0.9h-0.9zM161.3 158.0h0.9v0.9h-0.9zM161.7 163.2h0.9v0.9h-0.9zM167.2 156.4h0.9v0.9h-0.9zM163.4 163.3h0.9v0.9h-0.9zM162.4 164.7h0.9v0.9h-0.9zM165.1 161.0h0.9v0.9h-0.9zM155.8 161.6h0.9v0.9h-0.9zM164.8 160.7h0.9v0.9h-0.9zM165.3 160.5h0.9v0.9h-0.9zM161.6 161.8h0.9v0.9h-0.9zM163.7 155.3h0.9v0.9h-0.9zM159.7 159.3h0.9v0.9h-0.9zM164.7 151.5h0.9v0.9h-0.9zM155.9 162.3h0.9v0.9h-0.9zM163.5 168.2h0.9v0.9h-0.9zM157.8 158.0h0.9v0.9h-0.9zM161.3 160.6h0.9v0.9h-0.9zM168.7 164.1h0.9v0.9h-0.9zM159.8 162.9h0.9v0.9h-0.9zM159.0 159.8h0.9v0.9h-0.9zM164.1 160.8h0.9v0.9h-0.9zM160.5 163.2h0.9v0.9h-0.9zM163.2 158.7h0.9v0.9h-0.9zM162.5 155.3h0.9v0.9h-0.9zM166.2 159.9h0.9v0.9h-0.9zM165.2 164.9h0.9v0.9h-0.9zM160.3 157.9h0.9v0.9h-0.9zM163.5 161.6h0.9v0.9h-0.9zM162.8 161.9h0.9v0.9h-0.9zM165.2 153.0h0.9v0.9h-0.9zM161.0 152.1h0.9v0.9h-0.9zM162.4 157.4h0.9v0.9h-0.9zM165.7 159.4h0.9v0.9h-0.9zM163.3 163.0h0.9v0.9h-0.9zM165.7 154.7h0.9v0.9h-0.9zM160.9 159.9h0.9v0.9h-0.9zM169.8 158.1h0.9v0.9h-0.9zM162.9 159.7h0.9v0.9h-0.9zM166.4 158.5h0.9v0.9h-0.9zM164.6 157.4h0.9v0.9h-0.9zM161.5 156.2h0.9v0.9h-0.9zM165.9 157.0h0.9v0.9h-0.9zM165.5 160.1h0.9v0.9h-0.9zM167.1 149.9h0.9v0.9h-0.9zM159.9 154.8h0.9v0.9h-0.9zM162.9 161.5h0.9v0.9h-0.9zM172.9 163.9h0.9v0.9h-0.9zM168.5 160.1h0.9v0.9h-0.9zM162.1 160.6h0.9v0.9h-0.9zM155.4 161.9h0.9v0.9h-0.9zM163.5 160.8h0.9v0.9h-0.9zM159.7 155.2h0.9v0.9h-0.9zM161.1 158.7h0.9v0.9h-0.9zM164.8 157.6h0.9v0.9h-0.9zM164.8 161.0h0.9v0.9h-0.9zM159.2 158.5h0.9v0.9h-0.9zM157.7 157.0h0.9v0.9h-0.9zM166.9 156.4h0.9v0.9h-0.9zM170.4 160.5h0.9v0.9h-0.9zM166.8 159.1h0.9v0.9h-0.9zM166.7 162.4h0.9v0.9h-0.9zM163.9 157.1h0.9v0.9h-0.9zM161.5 165.2h0.9v0.9h-0.9zM162.8 157.3h0.9v0.9h-0.9zM160.9 153.2h0.9v0.9h-0.9zM161.6 159.9h0.9v0.9h-0.9zM161.7 156.3h0.9v0.9h-0.9zM165.0 160.3h0.9v0.9h-0.9zM161.9 159.8h0.9v0.9h-0.9zM159.9 161.6h0.9v0.9h-0.9zM159.8 157.7h0.9v0.9h-0.9zM164.0 157.4h0.9v0.9h-0.9zM159.2 165.7h0.9v0.9h-0.9zM169.1 153.0h0.9v0.9h-0.9zM164.0 154.6h0.9v0.9h-0.9zM164.7 154.5h0.9v0.9h-0.9zM165.7 160.6h0.9v0.9h-0.9zM169.8 162.8h0.9v0.9h-0.9zM161.8 161.9h0.9v0.9h-0.9zM161.8 158.4h0.9v0.9h-0.9zM161.6 153.0h0.9v0.9h-0.9zM165.7 152.1h0.9v0.9h-0.9zM162.6 160.5h0.9v0.9h-0.9zM163.9 153.6h0.9v0.9h-0.9zM161.1 161.1h0.9v0.9h-0.9zM167.6 164.1h0.9v0.9h-0.9zM156.8 160.3h0.9v0.9h-0.9zM161.7 161.3h0.9v0.9h-0.9zM157.2 158.3h0.9v0.9h-0.9zM166.1 156.7h0.9v0.9h-0.9zM162.2 155.6h0.9v0.9h-0.9zM167.6 154.4h0.9v0.9h-0.9zM160.1 157.7h0.9v0.9h-0.9zM162.3 165.8h0.9v0.9h-0.9zM164.5 156.0h0.9v0.9h-0.9zM165.7 159.9h0.9v0.9h-0.9zM164.5 158.6h0.9v0.9h-0.9zM165.2 154.9h0.9v0.9h-0.9zM159.0 157.4h0.9v0.9h-0.9zM159.4 161.1h0.9v0.9h-0.9zM170.7 162.9h0.9v0.9h-0.9zM165.2 159.9h0.9v0.9h-0.9zM161.0 154.5h0.9v0.9h-0.9zM165.5 153.9h0.9v0.9h-0.9zM164.6 158.3h0.9v0.9h-0.9zM166.3 159.0h0.9v0.9h-0.9zM163.9 156.9h0.9v0.9h-0.9zM157.1 157.7h0.9v0.9h-0.9zM166.1 162.3h0.9v0.9h-0.9zM168.6 155.5h0.9v0.9h-0.9zM160.0 161.1h0.9v0.9h-0.9zM161.8 167.3h0.9v0.9h-0.9zM164.7 153.8h0.9v0.9h-0.9zM161.4 164.0h0.9v0.9h-0.9zM156.7 159.3h0.9v0.9h-0.9zM158.4 164.1h0.9v0.9h-0.9zM161.8 155.4h0.9v0.9h-0.9zM157.2 156.4h0.9v0.9h-0.9zM154.0 157.2h0.9v0.9h-0.9zM171.6 159.1h0.9v0.9h-0.9zM162.5 155.0h0.9v0.9h-0.9zM164.8 157.2h0.9v0.9h-0.9zM160.4 163.4h0.9v0.9h-0.9zM165.1 155.9h0.9v0.9h-0.9zM169.0 158.6h0.9v0.9h-0.9zM165.4 159.3h0.9v0.9h-0.9z" fill="#222" fill-opacity="0.322"/>
<rect x="116.2" y="100.5" width="72.7" height="68.80000000000001" fill="none" stroke="#999" stroke-width="1.0" />
<line x1="144.5" y1="100.5" x2="144.5" y2="169.3" stroke="#777" stroke-width="1.15" />
<line x1="116.2" y1="149.5" x2="188.9" y2="149.5" stroke="#777" stroke-width="1.15" />
<line x1="115.7" y1="169.3" x2="188.9" y2="169.3" stroke="#333" stroke-width="1.2" />
<line x1="114.4" y1="107.0" x2="116.2" y2="107.0" stroke="#222" stroke-width="1.0" />
<text x="113.9" y="108.5" font-size="4.3" text-anchor="end" font-weight="normal" fill="#999" >10⁵</text>
<line x1="114.4" y1="122.5" x2="116.2" y2="122.5" stroke="#222" stroke-width="1.0" />
<text x="113.9" y="124.0" font-size="4.3" text-anchor="end" font-weight="normal" fill="#999" >10⁴</text>
<line x1="114.4" y1="138.5" x2="116.2" y2="138.5" stroke="#222" stroke-width="1.0" />
<text x="113.9" y="140.0" font-size="4.3" text-anchor="end" font-weight="normal" fill="#999" >10³</text>
<line x1="114.4" y1="155.5" x2="116.2" y2="155.5" stroke="#222" stroke-width="1.0" />
<text x="113.9" y="157.0" font-size="4.3" text-anchor="end" font-weight="normal" fill="#999" >10²</text>
<line x1="114.4" y1="163.0" x2="116.2" y2="163.0" stroke="#222" stroke-width="1.0" />
<text x="113.9" y="164.5" font-size="4.3" text-anchor="end" font-weight="normal" fill="#999" >0</text>
<line x1="123.7" y1="169.3" x2="123.7" y2="170.9" stroke="#333" stroke-width="0.9" />
<text x="123.7" y="175.10000000000002" font-size="4.3" text-anchor="middle" font-weight="normal" fill="#999" >0</text>
<line x1="132.2" y1="169.3" x2="132.2" y2="170.9" stroke="#333" stroke-width="0.9" />
<text x="132.2" y="175.10000000000002" font-size="4.3" text-anchor="middle" font-weight="normal" fill="#999" >10²</text>
<line x1="148.7" y1="169.3" x2="148.7" y2="170.9" stroke="#333" stroke-width="0.9" />
<text x="148.7" y="175.10000000000002" font-size="4.3" text-anchor="middle" font-weight="normal" fill="#999" >10³</text>
<line x1="165.2" y1="169.3" x2="165.2" y2="170.9" stroke="#333" stroke-width="0.9" />
<text x="165.2" y="175.10000000000002" font-size="4.3" text-anchor="middle" font-weight="normal" fill="#999" >10⁴</text>
<line x1="181.7" y1="169.3" x2="181.7" y2="170.9" stroke="#333" stroke-width="0.9" />
<text x="181.7" y="175.10000000000002" font-size="4.3" text-anchor="middle" font-weight="normal" fill="#999" >10⁵</text>
<text x="118.2" y="106.2" font-size="4.9" text-anchor="start" font-weight="bold" fill="#111" stroke="#111" stroke-width="0.2">13</text>
<text x="187.9" y="106.2" font-size="4.9" text-anchor="end" font-weight="bold" fill="#111" stroke="#111" stroke-width="0.2">14.4</text>
<text x="118.2" y="167.9" font-size="4.9" text-anchor="start" font-weight="bold" fill="#111" stroke="#111" stroke-width="0.2">43.3</text>
<text x="188.1" y="167.9" font-size="4.9" text-anchor="end" font-weight="bold" fill="#111" stroke="#111" stroke-width="0.2">29.3</text>
<rect x="263" y="19" width="74.19999999999999" height="68.2" fill="none" stroke="#8a8a8a" stroke-width="1.0" />
<line x1="263" y1="20" x2="263" y2="87.2" stroke="#777" stroke-width="1.0" />
<line x1="262.5" y1="87.2" x2="337.2" y2="87.2" stroke="#222" stroke-width="1.2" />
<line x1="261.4" y1="86.8" x2="263" y2="86.8" stroke="#333" stroke-width="0.9" />
<text x="260.8" y="88.2" font-size="4.0" text-anchor="end" font-weight="bold" fill="#777" >0</text>
<line x1="262.0" y1="83.56" x2="263" y2="83.56" stroke="#444" stroke-width="0.7" />
<line x1="262.0" y1="80.32" x2="263" y2="80.32" stroke="#444" stroke-width="0.7" />
<line x1="262.0" y1="77.08" x2="263" y2="77.08" stroke="#444" stroke-width="0.7" />
<line x1="261.4" y1="73.84" x2="263" y2="73.84" stroke="#333" stroke-width="0.9" />
<text x="260.8" y="75.24000000000001" font-size="4.0" text-anchor="end" font-weight="bold" fill="#777" >20</text>
<line x1="262.0" y1="70.60000000000001" x2="263" y2="70.60000000000001" stroke="#444" stroke-width="0.7" />
<line x1="262.0" y1="67.36" x2="263" y2="67.36" stroke="#444" stroke-width="0.7" />
<line x1="262.0" y1="64.12" x2="263" y2="64.12" stroke="#444" stroke-width="0.7" />
<line x1="261.4" y1="60.879999999999995" x2="263" y2="60.879999999999995" stroke="#333" stroke-width="0.9" />
<text x="260.8" y="62.279999999999994" font-size="4.0" text-anchor="end" font-weight="bold" fill="#777" >40</text>
<line x1="262.0" y1="57.63999999999999" x2="263" y2="57.63999999999999" stroke="#444" stroke-width="0.7" />
<line x1="262.0" y1="54.4" x2="263" y2="54.4" stroke="#444" stroke-width="0.7" />
<line x1="262.0" y1="51.16" x2="263" y2="51.16" stroke="#444" stroke-width="0.7" />
<line x1="261.4" y1="47.92" x2="263" y2="47.92" stroke="#333" stroke-width="0.9" />
<text x="260.8" y="49.32" font-size="4.0" text-anchor="end" font-weight="bold" fill="#777" >60</text>
<line x1="262.0" y1="44.68" x2="263" y2="44.68" stroke="#444" stroke-width="0.7" />
<line x1="262.0" y1="41.440000000000005" x2="263" y2="41.440000000000005" stroke="#444" stroke-width="0.7" />
<line x1="262.0" y1="38.2" x2="263" y2="38.2" stroke="#444" stroke-width="0.7" />
<line x1="261.4" y1="34.96" x2="263" y2="34.96" stroke="#333" stroke-width="0.9" />
<text x="260.8" y="36.36" font-size="4.0" text-anchor="end" font-weight="bold" fill="#777" >80</text>
<line x1="262.0" y1="31.720000000000002" x2="263" y2="31.720000000000002" stroke="#444" stroke-width="0.7" />
<line x1="262.0" y1="28.48" x2="263" y2="28.48" stroke="#444" stroke-width="0.7" />
<line x1="262.0" y1="25.240000000000002" x2="263" y2="25.240000000000002" stroke="#444" stroke-width="0.7" />
<line x1="261.4" y1="22.0" x2="263" y2="22.0" stroke="#333" stroke-width="0.9" />
<text x="260.8" y="23.4" font-size="4.0" text-anchor="end" font-weight="bold" fill="#777" >100</text>
<line x1="271" y1="87.2" x2="271" y2="88.7" stroke="#333" stroke-width="0.8" />
<text x="271" y="92.7" font-size="4.3" text-anchor="middle" font-weight="normal" fill="#999" >0</text>
<line x1="277.5" y1="87.2" x2="277.5" y2="88.7" stroke="#333" stroke-width="0.8" />
<text x="277.5" y="92.7" font-size="4.3" text-anchor="middle" font-weight="normal" fill="#999" >10²</text>
<line x1="296" y1="87.2" x2="296" y2="88.7" stroke="#333" stroke-width="0.8" />
<text x="296" y="92.7" font-size="4.3" text-anchor="middle" font-weight="normal" fill="#999" >10³</text>
<line x1="313" y1="87.2" x2="313" y2="88.7" stroke="#333" stroke-width="0.8" />
<text x="313" y="92.7" font-size="4.3" text-anchor="middle" font-weight="normal" fill="#999" >10⁴</text>
<line x1="329.5" y1="87.2" x2="329.5" y2="88.7" stroke="#333" stroke-width="0.8" />
<text x="329.5" y="92.7" font-size="4.3" text-anchor="middle" font-weight="normal" fill="#999" >10⁵</text>
<path d="M263.0,86.8 L268.0,86.5 L271.3,83.0 L274.0,70.0 L276.7,52.0 L278.5,30.0 L279.5,24.0 L281.0,30.0 L281.6,52.0 L283.0,60.0 L284.8,68.2 L286.0,76.0 L288.0,82.2 L291.0,85.0 L295.6,85.8 L300.0,84.0 L303.0,80.0 L304.8,76.8 L306.5,65.0 L307.4,55.0 L308.5,52.2 L310.5,52.2 L311.5,55.0 L313.9,68.2 L316.6,79.0 L319.0,84.0 L323.0,86.3 L337.0,86.8 L337.0,87.2 L263.0,87.2" fill="#dddddd" stroke="#9a9a9a" stroke-width="0.9" stroke-linejoin="round" />
<path d="M263.0,86.8 L266.5,86.5 L268.5,84.0 L270.8,79.0 L273.0,68.2 L273.7,56.6 L275.4,44.1 L277.1,33.9 L278.3,30.5 L279.4,23.7 L280.5,24.8 L281.7,28.8 L282.8,35.0 L283.6,38.5 L284.5,46.4 L285.6,53.2 L286.8,55.5 L287.9,54.4 L288.5,60.0 L290.0,68.0 L291.3,72.0 L292.5,76.0 L294.6,80.0 L296.0,82.0 L297.8,83.3 L299.5,82.5 L300.4,81.2 L302.1,81.2 L304.2,76.8 L305.9,73.6 L306.9,71.4 L307.5,62.8 L308.3,56.0 L309.6,48.0 L311.7,37.6 L313.5,27.0 L314.7,23.0 L315.5,26.0 L316.3,30.0 L317.9,37.6 L319.0,54.0 L319.8,56.0 L321.2,65.0 L323.0,73.6 L324.5,80.0 L326.3,84.4 L328.0,86.3 L337.0,86.6" fill="none" stroke="#1a1a1a" stroke-width="1.0" stroke-linejoin="round" />
<line x1="298.2" y1="56.0" x2="337.1" y2="56.0" stroke="#111" stroke-width="1.8" />
<text x="310" y="48.5" font-size="5.3" text-anchor="start" font-weight="bold" fill="#111" >Ctrl=5576</text>
<text x="309.8" y="54.0" font-size="5.4" text-anchor="start" font-weight="bold" fill="#111" >IL-2=12519</text>
<text x="345" y="48.3" font-size="7.8" text-anchor="start" font-weight="normal" fill="#222" stroke="#222" stroke-width="0.1" >B6</text>
<rect x="262.7" y="99.7" width="74.60000000000002" height="68.49999999999999" fill="none" stroke="#8a8a8a" stroke-width="1.0" />
<line x1="262.7" y1="100.7" x2="262.7" y2="168.2" stroke="#777" stroke-width="1.0" />
<line x1="262.2" y1="168.2" x2="337.3" y2="168.2" stroke="#222" stroke-width="1.2" />
<line x1="261.09999999999997" y1="167.79999999999998" x2="262.7" y2="167.79999999999998" stroke="#333" stroke-width="0.9" />
<text x="260.5" y="169.2" font-size="4.0" text-anchor="end" font-weight="bold" fill="#777" >0</text>
<line x1="261.7" y1="164.545" x2="262.7" y2="164.545" stroke="#444" stroke-width="0.7" />
<line x1="261.7" y1="161.29" x2="262.7" y2="161.29" stroke="#444" stroke-width="0.7" />
<line x1="261.7" y1="158.035" x2="262.7" y2="158.035" stroke="#444" stroke-width="0.7" />
<line x1="261.09999999999997" y1="154.77999999999997" x2="262.7" y2="154.77999999999997" stroke="#333" stroke-width="0.9" />
<text x="260.5" y="156.17999999999998" font-size="4.0" text-anchor="end" font-weight="bold" fill="#777" >20</text>
<line x1="261.7" y1="151.52499999999998" x2="262.7" y2="151.52499999999998" stroke="#444" stroke-width="0.7" />
<line x1="261.7" y1="148.26999999999998" x2="262.7" y2="148.26999999999998" stroke="#444" stroke-width="0.7" />
<line x1="261.7" y1="145.015" x2="262.7" y2="145.015" stroke="#444" stroke-width="0.7" />
<line x1="261.09999999999997" y1="141.76" x2="262.7" y2="141.76" stroke="#333" stroke-width="0.9" />
<text x="260.5" y="143.16" font-size="4.0" text-anchor="end" font-weight="bold" fill="#777" >40</text>
<line x1="261.7" y1="138.505" x2="262.7" y2="138.505" stroke="#444" stroke-width="0.7" />
<line x1="261.7" y1="135.25" x2="262.7" y2="135.25" stroke="#444" stroke-width="0.7" />
<line x1="261.7" y1="131.995" x2="262.7" y2="131.995" stroke="#444" stroke-width="0.7" />
<line x1="261.09999999999997" y1="128.74" x2="262.7" y2="128.74" stroke="#333" stroke-width="0.9" />
<text x="260.5" y="130.14000000000001" font-size="4.0" text-anchor="end" font-weight="bold" fill="#777" >60</text>
<line x1="261.7" y1="125.48500000000001" x2="262.7" y2="125.48500000000001" stroke="#444" stroke-width="0.7" />
<line x1="261.7" y1="122.23000000000002" x2="262.7" y2="122.23000000000002" stroke="#444" stroke-width="0.7" />
<line x1="261.7" y1="118.97500000000001" x2="262.7" y2="118.97500000000001" stroke="#444" stroke-width="0.7" />
<line x1="261.09999999999997" y1="115.72" x2="262.7" y2="115.72" stroke="#333" stroke-width="0.9" />
<text x="260.5" y="117.12" font-size="4.0" text-anchor="end" font-weight="bold" fill="#777" >80</text>
<line x1="261.7" y1="112.465" x2="262.7" y2="112.465" stroke="#444" stroke-width="0.7" />
<line x1="261.7" y1="109.21000000000001" x2="262.7" y2="109.21000000000001" stroke="#444" stroke-width="0.7" />
<line x1="261.7" y1="105.955" x2="262.7" y2="105.955" stroke="#444" stroke-width="0.7" />
<line x1="261.09999999999997" y1="102.7" x2="262.7" y2="102.7" stroke="#333" stroke-width="0.9" />
<text x="260.5" y="104.10000000000001" font-size="4.0" text-anchor="end" font-weight="bold" fill="#777" >100</text>
<line x1="270.7" y1="168.2" x2="270.7" y2="169.7" stroke="#333" stroke-width="0.8" />
<text x="270.7" y="173.7" font-size="4.3" text-anchor="middle" font-weight="normal" fill="#999" >0</text>
<line x1="277.2" y1="168.2" x2="277.2" y2="169.7" stroke="#333" stroke-width="0.8" />
<text x="277.2" y="173.7" font-size="4.3" text-anchor="middle" font-weight="normal" fill="#999" >10²</text>
<line x1="295.7" y1="168.2" x2="295.7" y2="169.7" stroke="#333" stroke-width="0.8" />
<text x="295.7" y="173.7" font-size="4.3" text-anchor="middle" font-weight="normal" fill="#999" >10³</text>
<line x1="312.7" y1="168.2" x2="312.7" y2="169.7" stroke="#333" stroke-width="0.8" />
<text x="312.7" y="173.7" font-size="4.3" text-anchor="middle" font-weight="normal" fill="#999" >10⁴</text>
<line x1="329.2" y1="168.2" x2="329.2" y2="169.7" stroke="#333" stroke-width="0.8" />
<text x="329.2" y="173.7" font-size="4.3" text-anchor="middle" font-weight="normal" fill="#999" >10⁵</text>
<path d="M262.7,167.8 L265.0,167.2 L267.0,164.4 L270.8,153.6 L272.5,134.0 L273.5,120.0 L275.3,104.3 L276.5,108.0 L278.9,114.4 L280.5,132.0 L281.5,145.0 L283.2,153.6 L285.9,162.2 L288.0,165.3 L293.0,165.8 L298.0,165.3 L301.0,160.0 L303.2,153.6 L304.2,142.8 L305.5,138.0 L307.2,136.2 L308.5,138.0 L310.0,141.0 L311.2,142.8 L313.0,152.0 L314.4,159.0 L316.5,163.5 L319.8,165.5 L323.0,167.3 L337.0,167.8 L337.3,168.2 L262.7,168.2" fill="#dddddd" stroke="#9a9a9a" stroke-width="0.9" stroke-linejoin="round" />
<path d="M262.7,167.8 L266.9,167.6 L268.5,166.0 L270.8,163.3 L274.0,153.6 L276.7,132.0 L277.3,134.0 L278.1,125.2 L279.0,119.0 L280.0,118.1 L281.6,115.4 L282.2,110.0 L282.7,104.1 L283.2,110.0 L284.3,120.3 L285.9,117.6 L286.8,122.0 L287.5,126.2 L288.6,128.4 L289.2,131.6 L291.3,146.0 L293.5,153.6 L295.5,157.0 L296.7,157.9 L297.8,155.5 L299.4,161.2 L300.5,159.5 L302.1,156.8 L305.4,148.2 L308.0,138.5 L309.1,114.9 L310.7,114.4 L312.0,106.0 L312.8,104.1 L313.8,110.0 L315.0,123.0 L316.0,125.7 L316.3,137.0 L317.1,148.2 L319.3,159.0 L320.5,164.0 L322.5,166.6 L325.0,167.5 L337.0,167.6" fill="none" stroke="#1a1a1a" stroke-width="1.0" stroke-linejoin="round" />
<line x1="298.2" y1="137.3" x2="337.1" y2="137.3" stroke="#111" stroke-width="1.7" />
<text x="313.4" y="131.1" font-size="5.3" text-anchor="start" font-weight="bold" fill="#111" >Ctrl=3967</text>
<text x="313.4" y="136.4" font-size="5.3" text-anchor="start" font-weight="bold" fill="#111" >IL-2=7799</text>
<text x="345.2" y="137" font-size="7.9" text-anchor="start" font-weight="normal" fill="#222" stroke="#222" stroke-width="0.1" >B10.D2</text>
<line x1="250.7" y1="182.7" x2="250.7" y2="22.7" stroke="#2a2a2a" stroke-width="1.6" />
<path d="M250.7,17.2 L247.7,25.7 L250.7,23.9 L253.7,25.7 Z" fill="#111"/>
<line x1="249.9" y1="181.9" x2="334.8" y2="181.9" stroke="#2a2a2a" stroke-width="1.6" />
<path d="M341.3,181.9 L331.8,179.0 L333.6,181.9 L331.8,184.8 Z" fill="#111"/>
<text transform="translate(245.6,119.6) rotate(-90)" font-size="7.4" fill="#222" stroke="#222" stroke-width="0.06">% of Max</text>
<text x="262.1" y="195.0" font-size="7.8" text-anchor="start" font-weight="normal" fill="#222" stroke="#222" stroke-width="0.22" >FITC anti-Ly49G2</text>
<rect x="412.3" y="17.8" width="73.09999999999997" height="69.5" fill="none" stroke="#8a8a8a" stroke-width="1.0" />
<line x1="412.3" y1="18.8" x2="412.3" y2="87.3" stroke="#777" stroke-width="1.0" />
<line x1="411.8" y1="87.3" x2="485.4" y2="87.3" stroke="#222" stroke-width="1.2" />
<line x1="410.7" y1="86.89999999999999" x2="412.3" y2="86.89999999999999" stroke="#333" stroke-width="0.9" />
<text x="410.1" y="88.3" font-size="4.0" text-anchor="end" font-weight="bold" fill="#777" >0</text>
<line x1="411.3" y1="83.595" x2="412.3" y2="83.595" stroke="#444" stroke-width="0.7" />
<line x1="411.3" y1="80.28999999999999" x2="412.3" y2="80.28999999999999" stroke="#444" stroke-width="0.7" />
<line x1="411.3" y1="76.98499999999999" x2="412.3" y2="76.98499999999999" stroke="#444" stroke-width="0.7" />
<line x1="410.7" y1="73.67999999999999" x2="412.3" y2="73.67999999999999" stroke="#333" stroke-width="0.9" />
<text x="410.1" y="75.08" font-size="4.0" text-anchor="end" font-weight="bold" fill="#777" >20</text>
<line x1="411.3" y1="70.375" x2="412.3" y2="70.375" stroke="#444" stroke-width="0.7" />
<line x1="411.3" y1="67.07" x2="412.3" y2="67.07" stroke="#444" stroke-width="0.7" />
<line x1="411.3" y1="63.76499999999999" x2="412.3" y2="63.76499999999999" stroke="#444" stroke-width="0.7" />
<line x1="410.7" y1="60.459999999999994" x2="412.3" y2="60.459999999999994" stroke="#333" stroke-width="0.9" />
<text x="410.1" y="61.85999999999999" font-size="4.0" text-anchor="end" font-weight="bold" fill="#777" >40</text>
<line x1="411.3" y1="57.154999999999994" x2="412.3" y2="57.154999999999994" stroke="#444" stroke-width="0.7" />
<line x1="411.3" y1="53.849999999999994" x2="412.3" y2="53.849999999999994" stroke="#444" stroke-width="0.7" />
<line x1="411.3" y1="50.544999999999995" x2="412.3" y2="50.544999999999995" stroke="#444" stroke-width="0.7" />
<line x1="410.7" y1="47.239999999999995" x2="412.3" y2="47.239999999999995" stroke="#333" stroke-width="0.9" />
<text x="410.1" y="48.63999999999999" font-size="4.0" text-anchor="end" font-weight="bold" fill="#777" >60</text>
<line x1="411.3" y1="43.934999999999995" x2="412.3" y2="43.934999999999995" stroke="#444" stroke-width="0.7" />
<line x1="411.3" y1="40.629999999999995" x2="412.3" y2="40.629999999999995" stroke="#444" stroke-width="0.7" />
<line x1="411.3" y1="37.324999999999996" x2="412.3" y2="37.324999999999996" stroke="#444" stroke-width="0.7" />
<line x1="410.7" y1="34.019999999999996" x2="412.3" y2="34.019999999999996" stroke="#333" stroke-width="0.9" />
<text x="410.1" y="35.419999999999995" font-size="4.0" text-anchor="end" font-weight="bold" fill="#777" >80</text>
<line x1="411.3" y1="30.714999999999996" x2="412.3" y2="30.714999999999996" stroke="#444" stroke-width="0.7" />
<line x1="411.3" y1="27.409999999999997" x2="412.3" y2="27.409999999999997" stroke="#444" stroke-width="0.7" />
<line x1="411.3" y1="24.104999999999997" x2="412.3" y2="24.104999999999997" stroke="#444" stroke-width="0.7" />
<line x1="410.7" y1="20.799999999999997" x2="412.3" y2="20.799999999999997" stroke="#333" stroke-width="0.9" />
<text x="410.1" y="22.199999999999996" font-size="4.0" text-anchor="end" font-weight="bold" fill="#777" >100</text>
<line x1="420.3" y1="87.3" x2="420.3" y2="88.8" stroke="#333" stroke-width="0.8" />
<text x="420.3" y="92.8" font-size="4.3" text-anchor="middle" font-weight="normal" fill="#999" >0</text>
<line x1="426.8" y1="87.3" x2="426.8" y2="88.8" stroke="#333" stroke-width="0.8" />
<text x="426.8" y="92.8" font-size="4.3" text-anchor="middle" font-weight="normal" fill="#999" >10²</text>
<line x1="445.3" y1="87.3" x2="445.3" y2="88.8" stroke="#333" stroke-width="0.8" />
<text x="445.3" y="92.8" font-size="4.3" text-anchor="middle" font-weight="normal" fill="#999" >10³</text>
<line x1="462.3" y1="87.3" x2="462.3" y2="88.8" stroke="#333" stroke-width="0.8" />
<text x="462.3" y="92.8" font-size="4.3" text-anchor="middle" font-weight="normal" fill="#999" >10⁴</text>
<line x1="478.8" y1="87.3" x2="478.8" y2="88.8" stroke="#333" stroke-width="0.8" />
<text x="478.8" y="92.8" font-size="4.3" text-anchor="middle" font-weight="normal" fill="#999" >10⁵</text>
<path d="M412.3,86.9 L416.5,86.5 L417.7,80.0 L418.3,52.0 L418.8,42.1 L419.5,36.0 L420.5,28.0 L422.0,22.1 L423.0,26.0 L424.2,28.0 L425.0,31.0 L425.8,30.2 L427.5,35.0 L430.1,41.0 L431.2,52.0 L433.0,56.0 L436.1,61.9 L437.5,60.0 L439.3,66.2 L441.0,62.0 L442.5,64.0 L444.7,65.1 L446.5,63.0 L449.0,71.6 L451.4,71.6 L452.3,73.8 L454.0,69.0 L455.5,67.3 L456.8,68.9 L458.5,70.0 L460.0,73.0 L462.2,75.9 L465.4,80.2 L467.6,83.5 L470.0,85.5 L474.0,86.5 L485.0,86.9 L485.4,87.3 L412.3,87.3" fill="#dddddd" stroke="#9a9a9a" stroke-width="0.9" stroke-linejoin="round" />
<path d="M412.3,86.8 L412.8,86.2 L416.4,81.2 L420.0,76.2 L423.5,70.5 L426.3,65.6 L428.5,57.0 L430.6,65.6 L431.4,56.0 L432.7,51.4 L434.1,48.7 L436.2,45.3 L438.2,40.5 L439.6,37.1 L441.6,39.8 L443.0,46.6 L445.0,39.1 L446.4,42.6 L447.8,50.7 L449.1,55.5 L450.5,53.5 L451.9,57.6 L453.9,52.8 L456.0,51.4 L457.3,43.2 L458.7,38.5 L460.1,33.0 L461.4,30.3 L462.8,26.2 L463.7,21.4 L464.8,26.2 L466.2,34.4 L467.6,45.3 L468.2,55.0 L469.2,61.9 L471.4,71.6 L473.5,82.4 L475.0,85.0 L477.3,86.5 L485.4,86.6" fill="none" stroke="#1a1a1a" stroke-width="1.0" stroke-linejoin="round" />
<line x1="435.5" y1="61.9" x2="485.4" y2="61.9" stroke="#111" stroke-width="1.4" />
<text x="456.8" y="55.4" font-size="5.2" text-anchor="start" font-weight="bold" fill="#111" >Ctrl=6076</text>
<text x="456.8" y="61.2" font-size="5.2" text-anchor="start" font-weight="bold" fill="#111" >IL-2=10613</text>
<text x="493.7" y="49.5" font-size="7.8" text-anchor="start" font-weight="normal" fill="#222" stroke="#222" stroke-width="0.1" >B6</text>
<rect x="412.9" y="100.9" width="71.90000000000003" height="67.29999999999998" fill="none" stroke="#8a8a8a" stroke-width="1.0" />
<line x1="412.9" y1="101.9" x2="412.9" y2="168.2" stroke="#777" stroke-width="1.0" />
<line x1="412.4" y1="168.2" x2="484.8" y2="168.2" stroke="#222" stroke-width="1.2" />
<line x1="411.29999999999995" y1="167.79999999999998" x2="412.9" y2="167.79999999999998" stroke="#333" stroke-width="0.9" />
<text x="410.7" y="169.2" font-size="4.0" text-anchor="end" font-weight="bold" fill="#777" >0</text>
<line x1="411.9" y1="164.605" x2="412.9" y2="164.605" stroke="#444" stroke-width="0.7" />
<line x1="411.9" y1="161.41" x2="412.9" y2="161.41" stroke="#444" stroke-width="0.7" />
<line x1="411.9" y1="158.21499999999997" x2="412.9" y2="158.21499999999997" stroke="#444" stroke-width="0.7" />
<line x1="411.29999999999995" y1="155.01999999999998" x2="412.9" y2="155.01999999999998" stroke="#333" stroke-width="0.9" />
<text x="410.7" y="156.42" font-size="4.0" text-anchor="end" font-weight="bold" fill="#777" >20</text>
<line x1="411.9" y1="151.825" x2="412.9" y2="151.825" stroke="#444" stroke-width="0.7" />
<line x1="411.9" y1="148.63" x2="412.9" y2="148.63" stroke="#444" stroke-width="0.7" />
<line x1="411.9" y1="145.43499999999997" x2="412.9" y2="145.43499999999997" stroke="#444" stroke-width="0.7" />
<line x1="411.29999999999995" y1="142.23999999999998" x2="412.9" y2="142.23999999999998" stroke="#333" stroke-width="0.9" />
<text x="410.7" y="143.64" font-size="4.0" text-anchor="end" font-weight="bold" fill="#777" >40</text>
<line x1="411.9" y1="139.045" x2="412.9" y2="139.045" stroke="#444" stroke-width="0.7" />
<line x1="411.9" y1="135.85" x2="412.9" y2="135.85" stroke="#444" stroke-width="0.7" />
<line x1="411.9" y1="132.65499999999997" x2="412.9" y2="132.65499999999997" stroke="#444" stroke-width="0.7" />
<line x1="411.29999999999995" y1="129.45999999999998" x2="412.9" y2="129.45999999999998" stroke="#333" stroke-width="0.9" />
<text x="410.7" y="130.85999999999999" font-size="4.0" text-anchor="end" font-weight="bold" fill="#777" >60</text>
<line x1="411.9" y1="126.26499999999999" x2="412.9" y2="126.26499999999999" stroke="#444" stroke-width="0.7" />
<line x1="411.9" y1="123.06999999999998" x2="412.9" y2="123.06999999999998" stroke="#444" stroke-width="0.7" />
<line x1="411.9" y1="119.87499999999999" x2="412.9" y2="119.87499999999999" stroke="#444" stroke-width="0.7" />
<line x1="411.29999999999995" y1="116.67999999999999" x2="412.9" y2="116.67999999999999" stroke="#333" stroke-width="0.9" />
<text x="410.7" y="118.08" font-size="4.0" text-anchor="end" font-weight="bold" fill="#777" >80</text>
<line x1="411.9" y1="113.485" x2="412.9" y2="113.485" stroke="#444" stroke-width="0.7" />
<line x1="411.9" y1="110.28999999999999" x2="412.9" y2="110.28999999999999" stroke="#444" stroke-width="0.7" />
<line x1="411.9" y1="107.095" x2="412.9" y2="107.095" stroke="#444" stroke-width="0.7" />
<line x1="411.29999999999995" y1="103.89999999999999" x2="412.9" y2="103.89999999999999" stroke="#333" stroke-width="0.9" />
<text x="410.7" y="105.3" font-size="4.0" text-anchor="end" font-weight="bold" fill="#777" >100</text>
<line x1="420.9" y1="168.2" x2="420.9" y2="169.7" stroke="#333" stroke-width="0.8" />
<text x="420.9" y="173.7" font-size="4.3" text-anchor="middle" font-weight="normal" fill="#999" >0</text>
<line x1="427.4" y1="168.2" x2="427.4" y2="169.7" stroke="#333" stroke-width="0.8" />
<text x="427.4" y="173.7" font-size="4.3" text-anchor="middle" font-weight="normal" fill="#999" >10²</text>
<line x1="445.9" y1="168.2" x2="445.9" y2="169.7" stroke="#333" stroke-width="0.8" />
<text x="445.9" y="173.7" font-size="4.3" text-anchor="middle" font-weight="normal" fill="#999" >10³</text>
<line x1="462.9" y1="168.2" x2="462.9" y2="169.7" stroke="#333" stroke-width="0.8" />
<text x="462.9" y="173.7" font-size="4.3" text-anchor="middle" font-weight="normal" fill="#999" >10⁴</text>
<line x1="479.4" y1="168.2" x2="479.4" y2="169.7" stroke="#333" stroke-width="0.8" />
<text x="479.4" y="173.7" font-size="4.3" text-anchor="middle" font-weight="normal" fill="#999" >10⁵</text>
<path d="M412.9,167.8 L414.6,165.0 L416.0,155.0 L418.9,142.0 L419.7,126.7 L420.4,111.3 L421.5,106.0 L422.7,104.4 L424.3,108.3 L425.2,112.0 L426.6,125.1 L428.1,129.0 L429.6,132.8 L431.2,130.5 L433.5,137.4 L435.8,136.6 L437.3,139.7 L439.6,135.1 L441.4,133.6 L443.2,147.9 L446.2,149.1 L448.5,148.0 L449.9,149.5 L450.4,151.5 L453.2,154.0 L455.7,151.5 L456.4,150.8 L459.0,152.8 L462.3,152.1 L464.3,158.6 L466.9,165.2 L470.0,167.2 L484.8,167.8 L484.8,168.2 L412.9,168.2" fill="#dddddd" stroke="#9a9a9a" stroke-width="0.9" stroke-linejoin="round" />
<path d="M412.9,167.8 L414.0,167.0 L416.4,159.8 L419.3,153.9 L420.4,142.0 L422.0,132.8 L423.5,126.7 L425.0,122.8 L425.8,119.0 L427.3,120.5 L428.9,116.0 L430.4,111.3 L431.6,109.0 L432.7,114.4 L433.9,109.8 L435.3,105.2 L436.5,109.0 L437.8,106.7 L439.3,111.3 L440.8,110.6 L442.4,116.0 L444.2,114.4 L445.7,121.3 L447.0,116.0 L448.5,119.0 L450.0,115.2 L451.6,112.9 L453.1,109.8 L454.2,107.5 L455.7,110.6 L457.2,106.7 L458.8,111.3 L459.9,120.5 L460.8,129.7 L461.8,132.8 L463.0,144.3 L464.9,152.1 L467.5,161.2 L470.0,164.5 L472.1,165.8 L476.0,167.4 L484.8,167.6" fill="none" stroke="#1a1a1a" stroke-width="1.0" stroke-linejoin="round" />
<line x1="445" y1="143.9" x2="484.8" y2="143.9" stroke="#111" stroke-width="1.4" />
<text x="461.3" y="136.8" font-size="5.2" text-anchor="start" font-weight="bold" fill="#111" >Ctrl=4722</text>
<text x="461.3" y="141.9" font-size="5.2" text-anchor="start" font-weight="bold" fill="#111" >IL-2=6421</text>
<text x="492.5" y="138" font-size="7.9" text-anchor="start" font-weight="normal" fill="#222" stroke="#222" stroke-width="0.1" >B10.D2</text>
<line x1="398.3" y1="183" x2="398.3" y2="22.9" stroke="#2a2a2a" stroke-width="1.6" />
<path d="M398.3,17.4 L395.3,25.9 L398.3,24.099999999999998 L401.3,25.9 Z" fill="#111"/>
<line x1="397.7" y1="182.3" x2="482.5" y2="182.3" stroke="#2a2a2a" stroke-width="1.6" />
<path d="M489,182.3 L479.5,179.4 L481.3,182.3 L479.5,185.20000000000002 Z" fill="#111"/>
<text transform="translate(393.8,120.4) rotate(-90)" font-size="7.6" fill="#222" stroke="#222" stroke-width="0.06">% of Max</text>
<text x="420.0" y="195.3" font-size="8.1" text-anchor="start" font-weight="normal" fill="#222" stroke="#222" stroke-width="0.22" >PE anti-Thy1.2</text>
<line x1="64.5" y1="250" x2="64.5" y2="339.3" stroke="#111" stroke-width="1.6" />
<line x1="63.7" y1="338.5" x2="212.8" y2="338.5" stroke="#111" stroke-width="1.6" />
<line x1="62.3" y1="338.5" x2="64.5" y2="338.5" stroke="#111" stroke-width="1.0" />
<text x="61.2" y="341.0" font-size="6.9" text-anchor="end" font-weight="normal" fill="#333" stroke="#333" stroke-width="0.1" >0</text>
<line x1="62.3" y1="326.0" x2="64.5" y2="326.0" stroke="#111" stroke-width="1.0" />
<text x="61.2" y="328.5" font-size="6.9" text-anchor="end" font-weight="normal" fill="#333" stroke="#333" stroke-width="0.1" >5</text>
<line x1="62.3" y1="313.5" x2="64.5" y2="313.5" stroke="#111" stroke-width="1.0" />
<text x="61.2" y="316.0" font-size="6.9" text-anchor="end" font-weight="normal" fill="#333" stroke="#333" stroke-width="0.1" >10</text>
<line x1="62.3" y1="301.0" x2="64.5" y2="301.0" stroke="#111" stroke-width="1.0" />
<text x="61.2" y="303.5" font-size="6.9" text-anchor="end" font-weight="normal" fill="#333" stroke="#333" stroke-width="0.1" >15</text>
<line x1="62.3" y1="288.5" x2="64.5" y2="288.5" stroke="#111" stroke-width="1.0" />
<text x="61.2" y="291.0" font-size="6.9" text-anchor="end" font-weight="normal" fill="#333" stroke="#333" stroke-width="0.1" >20</text>
<line x1="62.3" y1="276.0" x2="64.5" y2="276.0" stroke="#111" stroke-width="1.0" />
<text x="61.2" y="278.5" font-size="6.9" text-anchor="end" font-weight="normal" fill="#333" stroke="#333" stroke-width="0.1" >25</text>
<line x1="62.3" y1="263.5" x2="64.5" y2="263.5" stroke="#111" stroke-width="1.0" />
<text x="61.2" y="266.0" font-size="6.9" text-anchor="end" font-weight="normal" fill="#333" stroke="#333" stroke-width="0.1" >30</text>
<line x1="62.3" y1="251.0" x2="64.5" y2="251.0" stroke="#111" stroke-width="1.0" />
<text x="61.2" y="253.5" font-size="6.9" text-anchor="end" font-weight="normal" fill="#333" stroke="#333" stroke-width="0.1" >35</text>
<rect x="73.65" y="273.5" width="12.9" height="65.0" fill="#fff" stroke="#111" stroke-width="1.5" />
<line x1="80.10000000000001" y1="272.75" x2="80.10000000000001" y2="272.45" stroke="#111" stroke-width="1.0" />
<line x1="76.60000000000001" y1="272.45" x2="83.60000000000001" y2="272.45" stroke="#111" stroke-width="1.2" />
<rect x="91.6" y="294.75" width="14.2" height="43.75" fill="#1a1a1a" stroke="none" stroke-width="1" />
<rect x="123.15" y="284.0" width="12.5" height="54.5" fill="#fff" stroke="#111" stroke-width="1.5" />
<rect x="141.3" y="275.25" width="14" height="63.25" fill="#1a1a1a" stroke="none" stroke-width="1" />
<line x1="148.3" y1="275.25" x2="148.3" y2="274.75" stroke="#111" stroke-width="1.0" />
<line x1="144.8" y1="274.75" x2="151.8" y2="274.75" stroke="#111" stroke-width="1.2" />
<rect x="172.05" y="280.25" width="12.8" height="58.25" fill="#fff" stroke="#111" stroke-width="1.5" />
<rect x="190.1" y="259.25" width="14.2" height="79.25" fill="#1a1a1a" stroke="none" stroke-width="1" />
<line x1="197.2" y1="259.25" x2="197.2" y2="258.95" stroke="#111" stroke-width="1.0" />
<line x1="193.7" y1="258.95" x2="200.7" y2="258.95" stroke="#111" stroke-width="1.2" />
<line x1="89.2" y1="338.5" x2="89.2" y2="341.0" stroke="#111" stroke-width="1.0" />
<line x1="138.5" y1="338.5" x2="138.5" y2="341.0" stroke="#111" stroke-width="1.0" />
<line x1="188.5" y1="338.5" x2="188.5" y2="341.0" stroke="#111" stroke-width="1.0" />
<text x="90.0" y="348.7" font-size="7.9" text-anchor="middle" font-weight="normal" fill="#222" stroke="#222" stroke-width="0.22" >Ly49CI+</text>
<text x="141.2" y="348.7" font-size="7.9" text-anchor="middle" font-weight="normal" fill="#222" stroke="#222" stroke-width="0.22" >Ly49CI/G2+</text>
<text x="188.6" y="348.7" font-size="7.9" text-anchor="middle" font-weight="normal" fill="#222" stroke="#222" stroke-width="0.22" >Ly49G2+</text>
<line x1="80" y1="269.6" x2="99.7" y2="269.6" stroke="#111" stroke-width="1.2" />
<text x="90.25" y="264.8" font-size="6" text-anchor="middle" font-weight="normal" fill="#222" stroke="#222" stroke-width="0.22" >*</text>
<line x1="129.7" y1="270.3" x2="148.7" y2="270.3" stroke="#111" stroke-width="1.2" />
<text x="139.2" y="267.9" font-size="6" text-anchor="middle" font-weight="normal" fill="#333" >NS</text>
<line x1="177.8" y1="255.0" x2="197.4" y2="255.0" stroke="#111" stroke-width="1.2" />
<text x="188.00000000000003" y="250.5" font-size="6" text-anchor="middle" font-weight="normal" fill="#222" stroke="#222" stroke-width="0.22" >*</text>
<rect x="222.89999999999998" y="253.89999999999998" width="14.3" height="5" fill="#fff" stroke="#111" stroke-width="1.4" />
<rect x="222.2" y="263.5" width="15.7" height="6.6" fill="#1a1a1a" stroke="none" stroke-width="1" />
<text x="239.7" y="259.5" font-size="7.5" text-anchor="start" font-weight="normal" fill="#222" stroke="#222" stroke-width="0.22" >Control</text>
<text x="240.0" y="269.8" font-size="7.5" text-anchor="start" font-weight="normal" fill="#222" stroke="#222" stroke-width="0.22" >IL-2</text>
<text transform="translate(46.2,316.6) rotate(-90)" font-size="7.6" fill="#333">% of NK cells</text>
<line x1="305" y1="249.5" x2="305" y2="339.3" stroke="#111" stroke-width="1.6" />
<line x1="304.2" y1="338.5" x2="460" y2="338.5" stroke="#111" stroke-width="1.6" />
<line x1="302.8" y1="338.5" x2="305" y2="338.5" stroke="#111" stroke-width="1.0" />
<text x="301.7" y="341.0" font-size="6.9" text-anchor="end" font-weight="normal" fill="#333" stroke="#333" stroke-width="0.1" >0</text>
<line x1="302.8" y1="323.75" x2="305" y2="323.75" stroke="#111" stroke-width="1.0" />
<text x="301.7" y="326.25" font-size="6.9" text-anchor="end" font-weight="normal" fill="#333" stroke="#333" stroke-width="0.1" >5</text>
<line x1="302.8" y1="309.0" x2="305" y2="309.0" stroke="#111" stroke-width="1.0" />
<text x="301.7" y="311.5" font-size="6.9" text-anchor="end" font-weight="normal" fill="#333" stroke="#333" stroke-width="0.1" >10</text>
<line x1="302.8" y1="294.25" x2="305" y2="294.25" stroke="#111" stroke-width="1.0" />
<text x="301.7" y="296.75" font-size="6.9" text-anchor="end" font-weight="normal" fill="#333" stroke="#333" stroke-width="0.1" >15</text>
<line x1="302.8" y1="279.5" x2="305" y2="279.5" stroke="#111" stroke-width="1.0" />
<text x="301.7" y="282.0" font-size="6.9" text-anchor="end" font-weight="normal" fill="#333" stroke="#333" stroke-width="0.1" >20</text>
<line x1="302.8" y1="264.75" x2="305" y2="264.75" stroke="#111" stroke-width="1.0" />
<text x="301.7" y="267.25" font-size="6.9" text-anchor="end" font-weight="normal" fill="#333" stroke="#333" stroke-width="0.1" >25</text>
<line x1="302.8" y1="250.0" x2="305" y2="250.0" stroke="#111" stroke-width="1.0" />
<text x="301.7" y="252.5" font-size="6.9" text-anchor="end" font-weight="normal" fill="#333" stroke="#333" stroke-width="0.1" >30</text>
<rect x="314.95" y="266.385" width="13.0" height="72.11500000000001" fill="#fff" stroke="#111" stroke-width="1.5" />
<rect x="333.4" y="296.905" width="14.6" height="41.59500000000003" fill="#1a1a1a" stroke="none" stroke-width="1" />
<rect x="365.95" y="290.28" width="13.3" height="48.22000000000003" fill="#fff" stroke="#111" stroke-width="1.5" />
<rect x="384.7" y="299.265" width="14.7" height="39.235000000000014" fill="#1a1a1a" stroke="none" stroke-width="1" />
<rect x="417.45" y="277.005" width="13.3" height="61.495000000000005" fill="#fff" stroke="#111" stroke-width="1.5" />
<line x1="424.09999999999997" y1="276.255" x2="424.09999999999997" y2="275.755" stroke="#111" stroke-width="1.0" />
<line x1="420.59999999999997" y1="275.755" x2="427.59999999999997" y2="275.755" stroke="#111" stroke-width="1.2" />
<rect x="435.9" y="258.85" width="15" height="79.64999999999998" fill="#1a1a1a" stroke="none" stroke-width="1" />
<line x1="443.4" y1="258.85" x2="443.4" y2="254.65000000000003" stroke="#111" stroke-width="1.0" />
<line x1="439.9" y1="254.65000000000003" x2="446.9" y2="254.65000000000003" stroke="#111" stroke-width="1.2" />
<line x1="329.5" y1="338.5" x2="329.5" y2="341.0" stroke="#111" stroke-width="1.0" />
<line x1="383.5" y1="338.5" x2="383.5" y2="341.0" stroke="#111" stroke-width="1.0" />
<line x1="433.2" y1="338.5" x2="433.2" y2="341.0" stroke="#111" stroke-width="1.0" />
<text x="330.4" y="348.7" font-size="7.9" text-anchor="middle" font-weight="normal" fill="#222" stroke="#222" stroke-width="0.22" >Ly49CI+</text>
<text x="384.5" y="348.7" font-size="7.9" text-anchor="middle" font-weight="normal" fill="#222" stroke="#222" stroke-width="0.22" >Ly49CI/G2+</text>
<text x="433.8" y="348.7" font-size="7.9" text-anchor="middle" font-weight="normal" fill="#222" stroke="#222" stroke-width="0.22" >Ly49G2+</text>
<line x1="321.0" y1="262" x2="340" y2="262" stroke="#111" stroke-width="1.2" />
<text x="330.5" y="259" font-size="6" text-anchor="middle" font-weight="normal" fill="#222" stroke="#222" stroke-width="0.22" >**</text>
<line x1="374.5" y1="285.3" x2="393.7" y2="285.3" stroke="#111" stroke-width="1.2" />
<text x="384.1" y="283.1" font-size="6" text-anchor="middle" font-weight="normal" fill="#333" >NS</text>
<line x1="423.7" y1="251.3" x2="442.5" y2="251.3" stroke="#111" stroke-width="1.2" />
<text x="433.5" y="247.7" font-size="6" text-anchor="middle" font-weight="normal" fill="#222" stroke="#222" stroke-width="0.22" >*</text>
<rect x="470.2" y="253.2" width="14.3" height="5" fill="#fff" stroke="#111" stroke-width="1.4" />
<rect x="469.5" y="262.8" width="15.7" height="6.6" fill="#1a1a1a" stroke="none" stroke-width="1" />
<text x="487.0" y="258.8" font-size="7.5" text-anchor="start" font-weight="normal" fill="#222" stroke="#222" stroke-width="0.22" >Control</text>
<text x="487.3" y="269.1" font-size="7.5" text-anchor="start" font-weight="normal" fill="#222" stroke="#222" stroke-width="0.22" >IL-2</text>
<text transform="translate(288.2,311.4) rotate(-90)" font-size="7.7" fill="#333">% of NK cells</text>
</g>
</svg>
</body></html>
